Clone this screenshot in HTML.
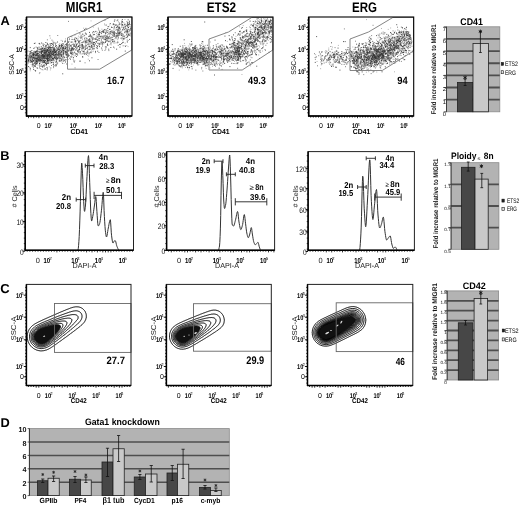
<!DOCTYPE html>
<html><head><meta charset="utf-8"><style>
html,body{margin:0;padding:0;background:#fff;}
svg{display:block;font-family:"Liberation Sans", sans-serif;filter:blur(0.35px);text-rendering:geometricPrecision;}
</style></head><body>
<svg width="520" height="506" viewBox="0 0 520 506">
<rect width="520" height="506" fill="#fff"/>
<text x="0.50" y="25.30" font-size="12.80" font-weight="bold">A</text>
<text x="65.80" y="11.70" font-size="14.50" font-weight="bold" textLength="36.50" lengthAdjust="spacingAndGlyphs">MIGR1</text>
<text x="206.70" y="11.70" font-size="14.00" font-weight="bold" textLength="29.40" lengthAdjust="spacingAndGlyphs">ETS2</text>
<text x="352.00" y="11.70" font-size="14.00" font-weight="bold" textLength="25.00" lengthAdjust="spacingAndGlyphs">ERG</text>
<path d="M126.3 45.6h.9M53.0 42.8h.9M49.8 58.8h.9M52.6 49.9h.9M62.4 54.5h.9M67.3 48.6h.9M66.0 51.7h.9M89.3 46.7h.9M69.2 47.0h.9M78.2 42.5h.9M44.5 58.2h.9M117.0 25.3h.9M40.7 61.4h.9M42.7 61.9h.9M53.7 43.2h.9M48.0 60.8h.9M34.1 47.7h.9M49.1 43.9h.9M52.4 43.9h.9M32.6 55.9h.9M46.2 46.7h.9M63.6 63.4h.9M34.0 57.4h.9M116.0 37.4h.9M34.0 54.7h.9M39.0 60.4h.9M38.8 49.5h.9M63.1 51.0h.9M55.3 66.3h.9M51.7 59.8h.9M47.7 60.0h.9M72.4 42.2h.9M88.2 43.5h.9M94.0 45.9h.9M55.4 50.2h.9M55.1 46.2h.9M35.6 56.0h.9M121.4 26.7h.9M114.2 24.3h.9M48.4 55.3h.9M36.8 57.1h.9M52.4 60.2h.9M42.0 56.5h.9M52.5 54.9h.9M83.6 50.7h.9M44.8 48.4h.9M67.7 50.8h.9M104.8 42.4h.9M75.3 46.1h.9M53.2 53.8h.9M57.3 57.7h.9M65.9 52.5h.9M34.2 66.0h.9M63.6 53.2h.9M70.1 53.4h.9M48.9 55.8h.9M38.2 57.4h.9M62.1 54.1h.9M109.7 44.6h.9M56.4 64.5h.9M51.7 56.3h.9M54.4 56.1h.9M50.9 59.0h.9M59.5 45.3h.9M54.6 61.2h.9M89.6 43.9h.9M39.7 62.6h.9M37.9 62.0h.9M55.6 50.9h.9M92.9 51.2h.9M88.2 40.0h.9M99.3 40.6h.9M54.7 58.3h.9M93.0 42.6h.9M55.8 58.5h.9M125.3 28.1h.9M61.5 62.1h.9M64.8 54.1h.9M44.1 58.3h.9M52.5 58.6h.9M60.5 52.7h.9M118.0 36.0h.9M49.9 38.1h.9M52.9 53.8h.9M110.8 34.5h.9M55.7 50.2h.9M56.0 52.3h.9M101.4 29.2h.9M45.0 56.7h.9M51.7 58.6h.9M72.4 53.7h.9M74.0 62.2h.9M70.1 53.2h.9M57.0 50.0h.9M69.9 49.5h.9M127.2 25.1h.9M34.6 59.9h.9M72.7 59.2h.9M27.8 63.6h.9M109.3 25.0h.9M92.2 48.3h.9M33.3 58.1h.9M120.3 34.7h.9M97.2 36.2h.9M102.8 30.4h.9M107.2 34.6h.9M95.6 37.4h.9M58.1 51.4h.9M103.6 37.2h.9M84.5 46.4h.9M50.3 59.0h.9M98.6 35.8h.9M109.7 40.0h.9M103.6 43.3h.9M44.2 44.5h.9M59.6 50.3h.9M75.4 54.2h.9M124.5 19.5h.9M114.7 42.9h.9M87.8 59.2h.9M96.7 39.4h.9M91.3 35.6h.9M51.7 54.4h.9M55.4 57.5h.9M111.3 31.5h.9M39.6 55.8h.9M68.7 55.3h.9M34.3 57.7h.9M46.1 67.5h.9M115.4 30.0h.9M45.2 53.7h.9M46.1 52.9h.9M48.1 62.0h.9M48.6 48.5h.9M49.0 49.6h.9M49.2 57.3h.9M85.9 41.5h.9M117.2 41.3h.9M85.6 54.6h.9M110.9 31.8h.9M32.3 62.1h.9M68.8 39.8h.9M90.6 20.9h.9M27.7 62.1h.9M104.0 23.9h.9M101.7 43.0h.9M61.9 45.3h.9M47.1 55.5h.9M99.6 32.4h.9M66.1 48.7h.9M30.4 58.6h.9M47.9 55.5h.9M66.0 53.3h.9M57.9 55.0h.9M60.9 48.0h.9M66.7 49.7h.9M70.6 56.5h.9M91.2 42.7h.9M42.3 56.3h.9M43.9 50.9h.9M86.8 47.8h.9M55.7 54.5h.9M79.9 36.4h.9M113.0 36.7h.9M110.8 44.8h.9M90.8 47.4h.9M73.7 39.7h.9M49.2 55.5h.9M42.9 48.3h.9M50.5 59.5h.9M114.0 48.0h.9M42.5 52.3h.9M56.5 51.6h.9M47.5 52.0h.9M36.4 56.0h.9M46.5 55.0h.9M44.0 51.3h.9M31.4 61.1h.9M70.6 49.5h.9M42.3 65.3h.9M46.2 63.1h.9M45.0 60.1h.9M38.0 55.5h.9M42.8 61.8h.9M75.6 41.3h.9M60.7 40.4h.9M46.8 48.2h.9M67.7 49.2h.9M92.2 43.5h.9M69.7 57.9h.9M121.3 33.1h.9M51.7 56.3h.9M47.9 55.1h.9M97.7 32.9h.9M52.4 60.4h.9M77.7 38.2h.9M73.0 53.9h.9M84.5 52.7h.9M44.5 60.5h.9M91.6 40.1h.9M103.4 39.3h.9M65.6 47.2h.9M34.1 70.2h.9M105.5 29.4h.9M29.4 59.1h.9M43.8 56.2h.9M40.4 63.0h.9M40.8 53.5h.9M32.8 56.1h.9M60.6 45.3h.9M129.0 21.0h.9M33.2 63.8h.9M48.8 66.8h.9M83.8 51.0h.9M41.9 59.2h.9M39.2 63.8h.9M130.1 27.7h.9M35.9 63.7h.9M49.6 52.4h.9M108.7 41.8h.9M71.0 48.7h.9M40.9 55.3h.9M105.6 31.8h.9M62.7 47.9h.9M96.9 36.9h.9M120.3 38.4h.9M125.7 32.2h.9M42.1 58.1h.9M66.7 49.9h.9M121.9 25.1h.9M75.1 55.6h.9M54.7 52.9h.9M83.3 35.0h.9M118.8 31.6h.9M74.3 55.9h.9M88.7 46.7h.9M104.3 24.9h.9M111.4 31.2h.9M91.0 38.3h.9M86.5 46.2h.9M37.9 54.2h.9M36.0 54.3h.9M43.1 45.8h.9M39.9 52.3h.9M83.6 40.8h.9M35.4 47.1h.9M41.0 50.2h.9M93.9 34.4h.9M80.8 49.4h.9M44.7 51.7h.9M29.0 61.2h.9M32.0 55.9h.9M33.7 54.9h.9M28.4 56.5h.9M102.1 38.5h.9M42.7 50.8h.9M104.8 46.9h.9M37.2 56.8h.9M124.6 35.6h.9M112.0 42.1h.9M82.7 47.6h.9M55.3 53.5h.9M74.7 52.8h.9M34.8 52.1h.9M128.6 31.4h.9M66.3 59.8h.9M55.5 53.6h.9M67.6 47.0h.9M115.5 30.3h.9M104.6 32.4h.9M43.3 59.2h.9M83.4 36.4h.9M65.7 47.0h.9M76.7 40.3h.9M64.4 46.2h.9M52.5 51.2h.9M99.4 35.5h.9M81.8 34.7h.9M44.3 53.0h.9M54.0 48.7h.9M105.5 25.3h.9M109.8 41.0h.9M52.6 53.8h.9M79.4 41.8h.9M81.5 50.4h.9M67.4 53.7h.9M66.9 61.5h.9M57.9 52.5h.9M66.3 56.9h.9M40.7 53.8h.9M73.3 55.0h.9M82.1 39.4h.9M55.7 54.9h.9M38.9 61.8h.9M70.1 48.4h.9M77.9 36.2h.9M122.0 37.3h.9M54.1 48.0h.9M117.5 38.7h.9M108.9 36.7h.9M124.7 43.1h.9M48.5 47.9h.9M53.0 54.5h.9M129.9 29.4h.9M39.4 52.6h.9M48.8 57.5h.9M50.1 56.7h.9M39.2 63.3h.9M127.6 26.2h.9M87.7 49.6h.9M94.2 38.6h.9M39.4 57.2h.9M66.8 49.9h.9M53.6 50.2h.9M31.9 58.3h.9M47.7 62.2h.9M56.1 61.9h.9M90.3 47.4h.9M48.0 54.3h.9M88.6 54.7h.9M55.0 51.7h.9M115.8 38.7h.9M49.5 63.1h.9M55.8 49.1h.9M37.1 54.8h.9M47.7 58.4h.9M76.6 30.8h.9M78.2 42.3h.9M121.4 35.0h.9M126.5 29.2h.9M69.4 46.2h.9M50.0 55.7h.9M43.4 58.5h.9M111.8 39.5h.9M85.6 42.6h.9M42.4 57.0h.9M92.9 27.1h.9M43.7 49.8h.9M52.8 58.4h.9M99.5 30.6h.9M65.1 41.4h.9M96.7 32.1h.9M48.4 52.4h.9M59.5 60.5h.9M114.4 38.7h.9M117.3 36.0h.9M52.5 55.5h.9M77.4 53.0h.9M54.6 53.1h.9M72.3 50.9h.9M40.5 52.0h.9M113.2 39.6h.9M113.1 31.4h.9M48.4 53.6h.9M129.2 30.9h.9M59.0 54.2h.9M113.2 41.0h.9M48.6 50.6h.9M47.0 55.1h.9M39.7 49.5h.9M47.7 58.4h.9M57.4 49.3h.9M93.0 44.1h.9M118.0 21.8h.9M85.5 46.8h.9M60.1 50.5h.9M124.3 27.7h.9M126.2 31.3h.9M43.8 52.1h.9M92.6 34.9h.9M42.5 58.0h.9M89.6 36.7h.9M77.4 40.7h.9M39.7 51.8h.9M52.3 60.7h.9M91.9 39.0h.9M103.5 36.6h.9M33.2 53.4h.9M44.8 54.1h.9M102.4 30.5h.9M55.3 64.4h.9M39.9 49.1h.9M74.5 35.1h.9M41.1 55.4h.9M51.0 50.4h.9M31.6 61.6h.9M126.7 39.3h.9M74.6 44.6h.9M52.9 48.3h.9M64.4 46.9h.9M45.3 56.1h.9M31.5 53.7h.9M51.4 60.3h.9M60.8 48.4h.9M62.6 58.2h.9M87.3 40.3h.9M68.6 47.4h.9M46.9 59.1h.9M41.6 56.9h.9M68.0 51.5h.9M121.7 30.7h.9M51.2 53.4h.9M71.9 54.2h.9M95.7 41.6h.9M55.9 64.4h.9M38.6 57.4h.9M107.8 30.5h.9M62.1 47.5h.9M41.2 58.7h.9M30.4 56.1h.9M37.5 65.2h.9M41.0 60.1h.9M66.9 51.6h.9M99.2 31.1h.9M48.5 60.0h.9M29.8 70.8h.9M65.7 59.6h.9M59.7 48.2h.9M32.2 62.1h.9M94.8 31.7h.9M67.7 59.5h.9M46.8 58.2h.9M121.1 25.4h.9M91.5 51.7h.9M92.4 39.2h.9M70.1 42.1h.9M58.5 57.3h.9M27.5 61.8h.9M57.7 50.1h.9M67.0 54.4h.9M29.2 67.3h.9M50.5 53.1h.9M62.0 58.2h.9M70.7 52.4h.9M59.3 43.6h.9M66.5 49.9h.9M38.9 60.2h.9M96.0 37.6h.9M46.5 62.7h.9M76.9 48.7h.9M49.3 60.6h.9M74.4 60.7h.9M64.3 46.6h.9M55.5 52.8h.9M71.4 56.5h.9M122.0 38.9h.9M47.8 48.8h.9M116.3 35.7h.9M58.4 45.2h.9M30.9 57.5h.9M39.9 52.2h.9M54.8 56.9h.9M36.3 50.9h.9M65.1 38.9h.9M48.0 62.8h.9M124.5 45.8h.9M52.6 60.9h.9M43.3 50.0h.9M37.6 54.3h.9M39.2 60.0h.9M44.6 52.7h.9M36.4 55.6h.9M73.1 45.0h.9M79.4 43.3h.9M72.7 39.5h.9M121.9 25.2h.9M57.4 53.0h.9M94.0 34.5h.9M114.5 28.0h.9M73.9 44.7h.9M113.8 27.1h.9M54.1 53.9h.9M130.3 36.1h.9M127.9 40.5h.9M98.2 43.3h.9M90.4 44.7h.9M33.9 54.4h.9M58.2 49.4h.9M41.4 47.4h.9M111.0 27.4h.9M72.8 43.6h.9M58.0 54.9h.9M80.7 47.4h.9M62.2 59.6h.9M64.0 51.5h.9M62.9 59.5h.9M41.7 57.1h.9M51.4 50.3h.9M37.3 56.8h.9M84.2 39.2h.9M40.2 58.7h.9M32.5 56.5h.9M121.5 35.7h.9M71.4 48.9h.9M91.2 50.9h.9M69.9 45.2h.9M48.0 50.7h.9M70.6 45.4h.9M92.7 38.6h.9M117.5 19.8h.9M103.6 39.5h.9M111.0 40.1h.9M55.1 56.3h.9M41.9 52.0h.9M126.2 28.8h.9M40.1 59.0h.9M42.2 50.1h.9M47.0 57.2h.9M33.8 57.3h.9M56.5 50.4h.9M128.4 22.3h.9M73.5 45.3h.9M49.6 59.2h.9M97.3 39.8h.9M52.6 42.8h.9M49.9 69.9h.9M50.9 56.8h.9M52.7 46.5h.9M127.0 32.3h.9M44.0 59.6h.9M34.0 58.1h.9M84.3 41.0h.9M52.6 50.2h.9M88.7 41.6h.9M34.9 54.0h.9M45.2 55.9h.9M42.7 45.1h.9M54.6 57.4h.9M38.9 73.6h.9M124.8 32.8h.9M71.5 64.1h.9M43.0 46.3h.9M41.2 52.9h.9M41.3 55.7h.9M110.7 36.9h.9M87.0 48.8h.9M42.6 69.9h.9M62.2 54.0h.9M73.4 50.0h.9M69.9 56.5h.9M104.6 36.0h.9M43.6 47.1h.9M30.2 62.5h.9M58.3 56.2h.9M30.7 64.4h.9M59.8 48.9h.9M58.8 53.6h.9M47.3 60.2h.9M65.7 55.5h.9M49.4 61.9h.9M52.3 52.6h.9M122.3 40.6h.9M56.0 57.0h.9M99.8 42.7h.9M127.4 23.3h.9M56.7 50.3h.9M68.5 51.2h.9M48.6 49.3h.9M88.2 43.4h.9M32.8 67.3h.9M32.5 64.1h.9M121.9 33.8h.9M54.6 55.0h.9M48.5 49.9h.9M93.0 46.7h.9M47.7 61.8h.9M47.5 59.5h.9M51.3 58.7h.9M52.6 49.9h.9M83.9 47.8h.9M65.6 53.0h.9M53.2 43.8h.9M104.0 36.5h.9M33.1 64.5h.9M53.5 54.3h.9M44.1 56.3h.9M56.1 49.3h.9M49.7 54.8h.9M39.1 48.0h.9M42.3 55.6h.9M29.3 53.1h.9M98.4 45.6h.9M129.2 31.8h.9M42.8 56.0h.9M37.9 58.4h.9M96.6 47.7h.9M62.0 43.8h.9M45.0 48.1h.9M39.4 47.1h.9M43.0 57.3h.9M123.5 36.0h.9M32.5 60.7h.9M36.0 47.2h.9M39.3 49.0h.9M44.0 55.2h.9M29.3 59.1h.9M44.7 58.0h.9M123.8 30.0h.9M78.5 51.3h.9M63.4 51.8h.9M29.8 62.0h.9M117.3 39.4h.9M53.1 67.7h.9M61.8 59.8h.9M51.7 54.2h.9M50.5 56.4h.9M45.6 53.9h.9M53.2 53.1h.9M35.5 64.7h.9M56.7 52.8h.9M49.4 56.2h.9M41.5 66.4h.9M45.4 63.8h.9M75.6 46.7h.9M39.8 57.3h.9M43.2 50.5h.9M92.2 44.4h.9M61.5 54.8h.9M57.2 42.3h.9M87.2 55.4h.9M96.1 33.6h.9M52.2 54.9h.9M50.4 48.4h.9M123.7 38.1h.9M127.5 30.3h.9M91.5 46.8h.9M90.0 43.4h.9M71.4 55.6h.9M54.3 47.4h.9M30.3 53.2h.9M91.7 40.7h.9M71.8 41.9h.9M77.8 52.3h.9M41.9 51.7h.9M39.5 59.4h.9M112.3 36.1h.9M37.1 56.8h.9M75.5 47.4h.9M42.4 57.5h.9M112.7 24.9h.9M36.4 52.3h.9M58.7 59.6h.9M100.2 42.1h.9M96.8 46.3h.9M55.6 59.7h.9M65.3 49.1h.9M107.7 41.5h.9M71.5 37.0h.9M87.5 42.1h.9M103.4 36.1h.9M87.4 52.8h.9M34.6 63.7h.9M88.2 56.2h.9M35.6 59.0h.9M40.5 62.1h.9M30.7 56.4h.9M41.6 59.5h.9M53.1 59.3h.9M51.3 50.6h.9M52.1 46.4h.9M65.9 54.1h.9M43.3 57.1h.9M94.1 32.2h.9M34.2 53.6h.9M83.2 28.2h.9M64.1 45.2h.9M58.6 44.5h.9M92.4 38.2h.9M88.6 43.7h.9M109.4 37.6h.9M43.4 53.3h.9M37.0 54.0h.9M65.1 53.3h.9M59.9 52.8h.9M49.0 59.5h.9M38.5 56.2h.9M76.0 38.8h.9M42.3 60.0h.9M69.3 45.8h.9M50.7 49.6h.9M60.4 54.9h.9M123.4 22.7h.9M58.5 53.3h.9M50.8 53.8h.9M34.7 55.9h.9M40.8 55.1h.9M80.8 54.0h.9M35.9 56.7h.9M47.4 54.6h.9M102.8 42.2h.9M37.6 60.3h.9M114.9 33.1h.9M82.3 42.1h.9M29.4 55.4h.9M50.0 51.0h.9M67.3 48.5h.9M72.6 57.2h.9M60.6 50.4h.9M65.8 52.2h.9M127.6 46.6h.9M93.8 48.1h.9M43.5 58.6h.9M58.7 50.5h.9M78.4 43.3h.9M50.9 58.4h.9M45.7 50.3h.9M37.6 56.6h.9M75.3 37.6h.9M57.6 55.0h.9M51.6 50.4h.9M99.0 44.4h.9M129.0 24.0h.9M57.7 47.6h.9M62.7 50.9h.9M33.5 51.6h.9M51.1 52.1h.9M49.9 50.8h.9M35.4 55.6h.9M98.9 45.0h.9M39.6 52.6h.9M111.8 32.5h.9M46.6 55.3h.9M49.3 57.6h.9M103.1 42.2h.9M55.3 53.8h.9M81.4 50.6h.9M86.2 40.5h.9M41.9 58.6h.9M74.4 39.1h.9M48.9 54.0h.9" stroke="#a5a5a5" stroke-width=".9"/>
<path d="M45.6 58.9h.9M47.3 53.9h.9M53.2 52.6h.9M62.3 50.3h.9M76.3 54.3h.9M74.3 45.5h.9M102.8 31.6h.9M71.5 50.9h.9M88.8 36.1h.9M52.1 51.4h.9M126.6 29.2h.9M44.2 52.7h.9M48.6 57.7h.9M81.1 48.3h.9M129.6 26.4h.9M52.5 41.2h.9M64.9 54.2h.9M117.7 37.2h.9M53.0 53.4h.9M42.1 61.1h.9M45.8 47.4h.9M111.8 33.9h.9M35.1 51.8h.9M32.3 63.4h.9M51.0 52.1h.9M32.0 62.0h.9M42.4 63.0h.9M50.3 57.1h.9M55.3 46.0h.9M42.8 56.6h.9M90.6 52.7h.9M101.9 43.9h.9M72.5 48.6h.9M57.8 47.6h.9M53.2 65.0h.9M56.5 63.9h.9M67.9 42.5h.9M34.2 63.5h.9M47.1 57.8h.9M73.3 60.2h.9M61.4 58.3h.9M40.9 46.6h.9M107.7 38.5h.9M50.3 48.6h.9M119.6 32.9h.9M45.6 45.3h.9M33.2 60.6h.9M48.9 50.5h.9M120.8 37.9h.9M37.5 48.6h.9M92.5 37.6h.9M93.9 42.6h.9M37.1 49.8h.9M75.6 53.9h.9M117.1 35.9h.9M117.8 45.4h.9M43.6 53.7h.9M108.4 50.6h.9M37.2 55.6h.9M59.1 46.3h.9M58.7 56.3h.9M105.8 36.4h.9M43.8 51.3h.9M43.3 57.4h.9M65.8 57.4h.9M81.1 42.7h.9M44.8 49.0h.9M55.3 58.8h.9M55.8 61.5h.9M117.1 31.1h.9M58.1 53.8h.9M48.0 56.5h.9M49.0 54.1h.9M33.6 57.6h.9M68.0 21.4h.9M28.4 59.4h.9M58.2 49.0h.9M85.0 41.8h.9M123.7 26.7h.9M72.4 48.3h.9M71.7 54.5h.9M91.4 43.5h.9M101.3 48.8h.9M109.7 32.3h.9M46.6 54.2h.9M56.6 56.0h.9M33.8 63.5h.9M61.1 56.2h.9M43.6 64.5h.9M119.0 24.6h.9M84.6 62.8h.9M74.2 46.4h.9M47.7 54.0h.9M45.7 53.5h.9M113.5 28.2h.9M126.5 31.4h.9M40.9 64.7h.9M37.2 68.4h.9M38.5 61.3h.9M51.3 50.4h.9M43.5 61.9h.9M61.0 51.2h.9M83.0 46.0h.9M73.9 44.3h.9M52.7 44.1h.9M47.0 47.5h.9M126.4 32.1h.9M96.4 36.0h.9M72.3 47.6h.9M36.7 55.0h.9M105.5 33.3h.9M121.6 24.5h.9M62.0 47.6h.9M39.1 67.9h.9M98.6 38.4h.9M33.0 58.3h.9M40.2 59.9h.9M36.9 58.1h.9M122.4 30.0h.9M61.7 48.6h.9M65.2 48.3h.9M50.7 53.7h.9M50.6 53.3h.9M118.7 27.1h.9M53.9 52.9h.9M45.4 57.0h.9M49.0 58.8h.9M58.5 54.4h.9M120.5 24.1h.9M85.8 34.1h.9M40.2 68.7h.9M55.2 52.1h.9M90.4 49.2h.9M98.1 40.1h.9M101.2 47.9h.9M40.4 60.7h.9M49.5 49.7h.9M90.4 52.6h.9M105.6 41.1h.9M57.5 58.2h.9M62.5 48.1h.9M55.8 56.3h.9M105.1 32.8h.9M41.0 55.5h.9M49.5 47.3h.9M78.2 41.5h.9M37.7 60.0h.9M50.7 60.9h.9M39.4 44.1h.9M30.5 51.9h.9M50.4 53.3h.9M119.3 34.6h.9M86.8 51.1h.9M80.7 35.4h.9M59.1 46.1h.9M49.9 44.0h.9M49.8 52.3h.9M116.5 36.3h.9M68.2 42.0h.9M27.6 51.1h.9M33.0 67.1h.9M33.6 59.3h.9M39.1 55.0h.9M81.8 45.2h.9M117.4 29.5h.9M35.2 58.4h.9M53.6 42.4h.9M44.8 55.0h.9M45.1 50.7h.9M126.5 21.6h.9M40.8 59.9h.9M111.8 27.5h.9M32.0 64.6h.9M124.7 37.9h.9M48.6 53.3h.9M33.0 61.0h.9M71.5 54.0h.9M86.1 54.4h.9M46.7 56.2h.9M57.0 41.9h.9M34.8 57.4h.9M102.8 36.8h.9M129.8 34.9h.9M41.9 58.3h.9M48.0 52.0h.9M48.1 53.1h.9M44.5 60.1h.9M61.7 50.6h.9M53.7 55.3h.9M59.6 56.8h.9M48.0 56.2h.9M54.5 54.7h.9M53.3 58.6h.9M62.4 45.5h.9M59.7 47.5h.9M33.7 54.3h.9M49.2 49.3h.9M64.5 41.2h.9M58.8 52.9h.9M60.5 58.4h.9M64.6 49.7h.9M44.6 52.3h.9M46.7 44.0h.9M51.3 54.3h.9M106.0 32.0h.9M34.4 51.4h.9M107.9 37.5h.9M31.5 60.2h.9M55.2 51.1h.9M58.3 49.2h.9M48.2 48.8h.9M74.6 67.9h.9M44.8 54.1h.9M85.1 48.2h.9M83.0 41.8h.9M44.7 68.7h.9M50.6 52.1h.9M47.1 50.4h.9M41.6 69.6h.9M93.9 46.3h.9M46.3 54.8h.9M89.6 39.1h.9M45.4 55.6h.9M75.2 46.4h.9M113.5 29.9h.9M109.6 33.4h.9M51.8 62.4h.9M130.3 24.7h.9M37.0 62.6h.9M40.7 53.8h.9M81.6 36.6h.9M44.4 51.1h.9M92.8 45.0h.9M51.4 59.6h.9M97.6 59.5h.9M66.9 57.6h.9M28.6 55.3h.9M36.3 55.5h.9M44.6 55.2h.9M84.2 35.5h.9M91.6 45.2h.9M126.8 30.9h.9M127.1 26.8h.9M49.6 55.7h.9M40.5 51.5h.9M68.4 41.5h.9M38.9 55.5h.9M35.5 56.0h.9M51.5 51.4h.9M56.4 57.2h.9M108.7 33.3h.9M32.6 55.4h.9M66.5 45.4h.9M91.7 41.2h.9M91.1 36.8h.9M35.3 64.3h.9M35.0 53.0h.9M58.7 53.2h.9M67.4 53.6h.9M38.9 55.3h.9M58.4 57.6h.9M61.1 54.8h.9M53.9 56.0h.9M124.0 36.4h.9M57.6 46.8h.9M60.4 55.0h.9M65.1 44.6h.9M62.9 53.4h.9M64.3 48.2h.9M101.9 50.2h.9M50.3 49.5h.9M34.7 43.1h.9M52.1 47.5h.9M53.8 51.5h.9M117.6 27.8h.9M35.6 57.5h.9M84.9 49.1h.9M106.1 38.9h.9M35.2 70.7h.9M40.7 52.5h.9M50.1 47.5h.9M30.7 56.1h.9M90.3 41.8h.9M30.4 58.2h.9M40.7 55.4h.9M65.6 50.8h.9M119.0 35.2h.9M63.4 56.4h.9M29.9 61.2h.9M110.3 32.1h.9M29.3 56.7h.9M59.8 58.2h.9M72.4 48.0h.9M41.5 60.6h.9M112.1 37.6h.9M33.6 51.3h.9M49.2 59.3h.9M45.8 65.2h.9M28.9 56.3h.9M121.4 38.8h.9M47.6 53.2h.9M74.6 37.9h.9M44.8 49.9h.9M80.3 40.4h.9M97.6 34.4h.9M52.4 57.1h.9M68.7 50.2h.9M41.8 50.2h.9M48.1 47.4h.9M121.3 33.5h.9M29.8 57.4h.9M38.4 47.2h.9M118.9 30.9h.9M103.7 35.4h.9M107.9 33.9h.9M50.7 60.4h.9M41.0 57.3h.9M129.9 28.7h.9M61.4 56.7h.9M130.3 28.7h.9M45.8 55.9h.9M95.9 47.6h.9M57.0 58.5h.9M42.4 55.1h.9M40.9 58.9h.9M86.7 38.9h.9M39.0 63.3h.9M85.9 48.5h.9M51.2 49.9h.9M59.0 46.2h.9M49.4 58.8h.9M33.9 58.8h.9M65.0 47.2h.9M41.7 48.6h.9M56.2 56.9h.9M29.7 62.3h.9M60.5 47.2h.9M38.5 55.9h.9M51.7 60.1h.9M52.6 54.3h.9M119.5 30.1h.9M127.1 35.3h.9M38.7 57.4h.9M58.8 49.4h.9M43.6 57.8h.9M41.6 48.3h.9M100.5 37.6h.9M95.0 52.6h.9M30.8 50.6h.9M65.1 52.0h.9M35.5 51.4h.9M47.1 54.5h.9M50.1 51.0h.9M121.3 23.2h.9M123.8 29.4h.9M33.5 60.7h.9M109.6 29.3h.9M43.9 50.5h.9M64.5 60.8h.9M68.0 56.6h.9M121.0 33.9h.9M87.1 44.3h.9M31.1 59.0h.9M111.5 32.4h.9M122.7 45.8h.9M60.8 46.6h.9M32.0 52.7h.9M46.4 56.1h.9M93.9 42.6h.9M44.8 58.1h.9M82.0 45.8h.9M31.1 56.0h.9M65.8 47.5h.9M43.6 55.0h.9M67.0 42.1h.9M105.8 25.0h.9M55.5 64.5h.9M35.2 59.8h.9M62.7 50.8h.9M45.9 56.3h.9M43.3 55.8h.9M129.1 21.5h.9M41.9 58.0h.9M30.3 52.7h.9M121.5 27.4h.9M84.1 38.7h.9M51.0 65.5h.9M49.5 57.9h.9M42.7 55.4h.9M124.3 29.4h.9M130.2 28.4h.9M78.4 45.4h.9M94.1 45.8h.9M90.2 52.0h.9M106.6 35.9h.9M49.0 56.1h.9M86.4 41.6h.9M117.6 42.3h.9M41.2 57.2h.9M49.1 60.2h.9M78.0 46.6h.9M123.0 27.7h.9M98.9 40.3h.9M126.8 30.5h.9M59.0 49.8h.9M29.5 51.6h.9M113.5 43.0h.9M50.9 56.6h.9M42.2 55.4h.9M46.2 61.6h.9M45.1 56.8h.9M48.1 54.7h.9M28.9 57.0h.9M32.9 54.2h.9M44.7 56.3h.9M78.9 49.4h.9M106.6 37.1h.9M47.1 60.2h.9M44.1 51.4h.9M53.1 62.4h.9M71.4 48.2h.9M125.2 26.7h.9M57.3 35.5h.9M59.5 55.0h.9M52.2 54.3h.9M48.0 48.1h.9M129.5 29.5h.9M42.2 59.7h.9M98.2 29.9h.9M102.9 30.3h.9M57.3 54.5h.9M56.0 59.9h.9M120.8 35.2h.9M59.3 54.9h.9M30.7 52.8h.9M37.3 51.1h.9M31.5 50.5h.9M48.3 46.8h.9M36.1 61.4h.9M38.0 53.3h.9M66.9 54.3h.9M109.4 34.8h.9M128.9 22.4h.9M124.1 32.6h.9M122.8 36.3h.9M88.6 46.0h.9M46.9 68.4h.9M75.5 43.3h.9M128.7 24.4h.9M54.4 56.0h.9M59.3 58.2h.9M46.9 63.4h.9M30.5 60.4h.9M67.7 50.6h.9M27.8 59.1h.9M66.7 51.1h.9M52.6 59.8h.9M46.0 48.9h.9M60.0 58.2h.9M49.0 47.8h.9M103.5 32.6h.9M54.0 51.8h.9M51.5 40.1h.9M114.1 36.4h.9M50.2 47.9h.9M62.1 41.2h.9M83.7 51.7h.9M108.5 31.9h.9M91.4 36.5h.9M118.4 27.5h.9M38.8 43.6h.9M41.4 66.0h.9M48.8 55.8h.9M65.9 55.1h.9M31.8 55.6h.9M110.6 42.6h.9M59.6 50.4h.9M110.2 33.5h.9M42.8 52.2h.9M114.6 24.9h.9M31.0 62.2h.9M50.6 45.5h.9M122.1 42.6h.9M108.2 37.0h.9M34.9 55.9h.9M95.6 38.6h.9M61.5 49.5h.9M102.1 46.0h.9M36.6 50.5h.9M68.0 54.7h.9M75.3 49.7h.9M58.9 60.9h.9M54.1 48.0h.9M118.3 24.9h.9M89.0 38.7h.9M33.6 57.7h.9M57.0 55.0h.9M91.1 45.5h.9M100.6 32.5h.9M53.2 63.2h.9M93.7 34.5h.9M126.7 31.4h.9M57.7 55.3h.9M63.0 50.7h.9M40.1 66.1h.9M67.0 56.4h.9M59.2 51.3h.9M63.0 44.2h.9M33.4 52.9h.9M128.7 33.9h.9M62.1 49.5h.9M105.1 42.2h.9M84.6 37.8h.9M50.6 62.9h.9M47.9 48.1h.9M39.4 72.7h.9M64.2 60.5h.9M117.4 32.6h.9M52.8 47.3h.9M98.5 52.5h.9M117.5 32.1h.9M62.6 43.5h.9M48.6 50.2h.9M119.9 29.2h.9M61.1 55.6h.9M53.0 59.4h.9M119.2 28.2h.9M65.1 52.2h.9M45.8 50.3h.9M128.1 24.6h.9M53.5 51.7h.9M119.3 28.9h.9M35.5 63.3h.9M126.4 33.2h.9M29.9 55.6h.9M48.1 52.5h.9M84.9 45.6h.9M47.6 51.1h.9M79.7 61.1h.9M89.7 36.2h.9M125.5 30.2h.9M36.1 51.8h.9M113.3 41.7h.9M49.7 55.5h.9M30.5 54.5h.9M71.4 53.0h.9M116.2 35.2h.9M44.9 55.1h.9M101.2 31.5h.9M50.2 58.9h.9M110.5 38.9h.9M70.9 57.2h.9M106.6 36.2h.9M62.8 60.2h.9M40.9 55.5h.9M55.6 55.1h.9M101.4 42.8h.9M59.2 54.7h.9M67.1 49.8h.9M105.4 39.2h.9M44.6 56.1h.9M47.6 50.8h.9M32.8 65.5h.9M63.0 56.0h.9M85.3 44.1h.9M34.8 63.2h.9M86.6 42.7h.9M45.3 55.3h.9M124.5 24.0h.9M94.2 44.7h.9M28.4 59.0h.9M109.0 36.3h.9M31.0 60.8h.9M62.1 63.4h.9M118.1 29.7h.9M106.7 36.6h.9M37.5 57.0h.9M44.4 55.2h.9M98.9 34.5h.9M41.6 62.1h.9M49.7 56.6h.9M100.6 38.7h.9M126.8 40.9h.9M37.5 51.7h.9M36.8 51.8h.9M52.3 58.8h.9M35.3 51.5h.9M57.3 48.6h.9M33.7 52.5h.9M40.4 57.1h.9M68.9 44.0h.9M47.4 49.6h.9M100.5 44.3h.9M38.9 52.4h.9M118.1 37.9h.9M75.2 41.1h.9M28.5 58.3h.9M78.7 40.5h.9M36.6 58.3h.9M34.9 55.1h.9M30.5 55.3h.9M47.4 59.3h.9M55.0 56.6h.9M61.4 51.6h.9M63.4 51.1h.9M38.2 55.3h.9M119.1 32.5h.9M38.5 59.4h.9M66.3 43.4h.9M83.7 53.2h.9M50.3 45.2h.9M49.8 54.6h.9M49.4 46.1h.9M101.9 36.3h.9M86.0 45.4h.9M38.0 58.3h.9M36.6 50.3h.9M59.8 61.4h.9M66.8 47.1h.9M93.4 49.0h.9M104.5 50.4h.9M127.3 36.6h.9M108.3 26.6h.9M84.6 42.8h.9M49.5 54.5h.9M42.4 47.6h.9M123.2 39.3h.9M46.9 39.8h.9M36.9 63.6h.9M105.5 46.6h.9M47.1 50.4h.9M47.6 50.2h.9M84.8 41.1h.9M105.4 35.4h.9M47.3 53.2h.9M117.2 20.1h.9M51.8 52.2h.9M43.0 52.8h.9M78.0 46.5h.9M37.8 57.9h.9M68.6 47.1h.9M59.2 50.8h.9M110.5 43.5h.9M65.1 41.0h.9M113.8 34.3h.9M69.4 58.4h.9M67.0 54.8h.9M92.3 38.1h.9M53.8 52.1h.9M63.5 58.0h.9M79.2 43.2h.9M43.9 56.3h.9M118.8 22.9h.9M61.7 47.0h.9M107.1 37.9h.9M116.6 20.7h.9M47.7 44.5h.9M51.7 57.3h.9M46.8 67.4h.9M66.1 64.0h.9M49.2 47.3h.9M75.5 50.3h.9M41.8 50.7h.9M106.7 36.9h.9M90.9 42.3h.9M116.9 34.8h.9M97.0 40.6h.9M38.8 57.4h.9M40.4 58.0h.9M64.9 46.7h.9M119.0 23.8h.9M48.5 58.4h.9M79.6 53.7h.9M43.0 53.9h.9M63.6 50.2h.9M47.4 60.6h.9M122.2 25.1h.9M97.9 28.2h.9M88.0 36.6h.9M50.8 53.4h.9M34.9 64.3h.9M121.2 21.2h.9M66.1 51.6h.9M104.5 20.3h.9M67.6 45.6h.9M48.6 55.5h.9M70.1 59.4h.9M32.7 61.0h.9M45.4 48.7h.9M62.9 47.3h.9M28.2 60.6h.9M38.4 51.5h.9M50.7 49.2h.9M70.7 53.1h.9M49.1 55.4h.9M81.5 38.2h.9M82.0 45.9h.9M30.0 59.5h.9M29.9 68.3h.9M76.6 46.8h.9M51.2 57.1h.9M90.9 46.2h.9M42.5 48.6h.9M61.3 53.2h.9M57.7 57.8h.9M126.7 31.1h.9M107.1 38.8h.9M47.0 43.3h.9M49.4 35.8h.9M90.7 37.2h.9M57.7 52.8h.9M47.4 60.1h.9M68.9 49.4h.9M74.6 41.6h.9M71.0 45.1h.9M79.7 37.3h.9M54.2 52.4h.9M68.5 50.7h.9M127.4 32.1h.9M43.9 58.7h.9M112.1 35.2h.9M123.6 25.2h.9M37.1 56.2h.9M79.1 48.3h.9M70.5 46.0h.9M74.8 53.6h.9M88.7 39.6h.9M59.7 52.6h.9M63.6 50.2h.9M41.9 50.6h.9" stroke="#6a6a6a" stroke-width=".9"/>
<path d="M36.4 58.5h.9M32.2 59.0h.9M54.4 49.1h.9M36.5 62.4h.9M122.9 38.4h.9M76.1 44.6h.9M44.2 57.9h.9M32.1 61.8h.9M114.2 41.2h.9M57.9 55.9h.9M109.5 41.3h.9M52.8 58.4h.9M114.4 19.9h.9M56.3 53.5h.9M59.5 55.9h.9M62.8 61.2h.9M86.5 52.4h.9M55.5 54.7h.9M58.9 49.2h.9M45.2 58.3h.9M77.8 50.0h.9M35.9 58.9h.9M105.5 41.0h.9M43.4 50.2h.9M73.2 49.2h.9M50.0 51.4h.9M48.2 60.7h.9M31.2 61.6h.9M73.4 46.1h.9M45.3 52.1h.9M71.4 48.4h.9M44.0 62.1h.9M82.0 44.3h.9M47.5 61.0h.9M101.6 41.7h.9M111.5 30.9h.9M117.6 35.6h.9M128.0 34.8h.9M58.4 53.9h.9M92.3 32.8h.9M34.7 61.2h.9M84.7 46.9h.9M47.7 50.2h.9M42.0 54.8h.9M47.2 50.8h.9M109.8 23.6h.9M107.5 40.0h.9M105.0 33.8h.9M40.9 52.0h.9M52.3 51.5h.9M55.3 46.3h.9M36.7 57.9h.9M65.8 44.8h.9M48.1 52.5h.9M76.0 56.5h.9M87.7 40.3h.9M47.8 45.9h.9M46.5 49.6h.9M66.2 44.9h.9M105.6 47.2h.9M74.7 40.3h.9M43.4 60.9h.9M103.4 42.5h.9M41.2 43.0h.9M41.4 49.2h.9M101.3 36.2h.9M55.5 58.1h.9M48.8 52.3h.9M46.1 64.3h.9M106.6 30.7h.9M39.1 59.9h.9M116.3 33.6h.9M89.4 46.6h.9M63.0 50.7h.9M63.4 52.4h.9M118.2 33.2h.9M129.6 30.4h.9M71.0 50.1h.9M39.3 51.8h.9M74.9 42.0h.9M113.2 47.1h.9M27.4 55.7h.9M46.8 55.6h.9M59.3 45.7h.9M47.0 60.0h.9M49.2 54.2h.9M88.6 39.8h.9M50.1 51.9h.9M125.1 46.3h.9M49.4 57.1h.9M79.3 47.8h.9M101.6 42.8h.9M42.8 57.0h.9M46.4 51.9h.9M33.9 58.0h.9M29.9 60.5h.9M48.9 54.9h.9M29.8 69.1h.9M44.2 61.8h.9M94.6 39.2h.9M90.9 47.2h.9M41.5 56.0h.9M54.5 49.3h.9M123.1 28.1h.9M117.9 34.8h.9M97.4 43.3h.9M55.5 43.0h.9M43.9 62.0h.9M123.7 38.8h.9M40.5 58.1h.9M103.4 31.0h.9M130.4 33.2h.9M64.4 42.0h.9M89.1 32.4h.9M55.9 65.7h.9M35.9 63.7h.9M33.6 54.2h.9M55.9 45.6h.9M112.9 24.2h.9M50.9 47.6h.9M76.8 47.1h.9M71.6 39.4h.9M52.0 58.5h.9M127.3 22.8h.9M54.0 50.9h.9M98.7 44.3h.9M116.9 26.8h.9M95.4 31.4h.9M88.8 49.6h.9M73.8 48.7h.9M109.9 31.4h.9M106.6 40.6h.9M82.3 34.1h.9M71.2 49.3h.9M28.5 57.7h.9M49.1 57.0h.9M43.2 57.0h.9M70.0 50.6h.9M54.2 55.9h.9M102.1 31.7h.9M33.2 55.5h.9M36.7 55.5h.9M39.6 60.6h.9M50.8 57.6h.9M56.9 58.3h.9M59.2 45.7h.9M125.2 26.1h.9M45.8 51.1h.9M69.9 45.8h.9M95.8 41.4h.9M44.1 48.5h.9M61.2 44.3h.9M65.1 48.4h.9M103.3 32.0h.9M89.2 41.4h.9M41.0 51.9h.9M106.9 44.8h.9M37.2 48.0h.9M47.5 59.0h.9M52.9 50.5h.9M60.9 59.6h.9M61.4 46.8h.9M92.2 47.0h.9M56.2 61.1h.9M82.4 48.9h.9M52.6 54.0h.9M126.3 25.3h.9M116.7 42.8h.9M107.8 38.2h.9M61.1 46.2h.9M76.9 43.9h.9M35.4 58.4h.9M74.1 39.2h.9M47.1 60.6h.9M35.5 52.0h.9M32.4 57.7h.9M93.5 48.7h.9M66.1 54.8h.9M124.4 24.5h.9M55.5 54.5h.9M49.7 49.9h.9M46.6 58.7h.9M92.0 49.0h.9M42.9 56.2h.9M27.8 60.6h.9M54.6 54.3h.9M61.3 45.1h.9M78.7 41.5h.9M64.1 57.3h.9M47.9 54.8h.9M54.1 50.1h.9M41.2 49.1h.9M100.2 36.5h.9M85.5 53.4h.9M45.9 53.0h.9M44.8 63.0h.9M54.3 52.5h.9M104.6 39.6h.9M64.7 59.7h.9M70.5 53.7h.9M32.5 64.3h.9M68.5 55.5h.9M105.3 49.0h.9M61.2 56.3h.9M107.8 41.6h.9M45.0 52.8h.9M49.6 50.9h.9M98.2 34.9h.9M45.8 54.9h.9M40.3 57.1h.9M47.1 60.2h.9M88.7 46.7h.9M47.5 58.8h.9M42.2 54.4h.9M113.8 32.8h.9M52.4 54.1h.9M69.1 48.3h.9M44.2 56.4h.9M67.3 55.9h.9M42.4 55.3h.9M56.2 51.2h.9M34.9 55.1h.9M34.8 52.5h.9M28.1 66.6h.9M82.6 48.5h.9M89.4 36.2h.9M89.6 40.3h.9M32.9 57.0h.9M67.4 50.2h.9M55.1 54.9h.9M81.4 46.2h.9M81.2 44.9h.9M67.0 53.0h.9M108.3 49.2h.9M57.2 63.0h.9M84.0 29.6h.9M43.8 52.5h.9M77.4 40.0h.9M115.6 36.0h.9M42.8 58.4h.9M37.2 53.4h.9M41.9 56.1h.9M119.5 47.1h.9M62.4 48.4h.9M55.5 62.4h.9M61.9 45.3h.9M58.7 58.2h.9M117.4 26.3h.9M35.7 51.5h.9M33.4 54.6h.9M33.1 69.3h.9M63.8 48.8h.9M53.2 49.1h.9M43.5 49.8h.9M33.0 55.2h.9M105.3 39.0h.9M88.7 42.0h.9M112.9 24.0h.9M116.4 29.3h.9M107.0 44.0h.9M111.0 27.2h.9M114.0 31.8h.9M35.1 70.9h.9M30.2 57.9h.9M33.1 57.4h.9M38.7 56.8h.9M45.1 52.9h.9M98.8 34.6h.9M92.9 31.6h.9M42.6 57.9h.9M121.9 19.6h.9M43.2 62.2h.9M95.1 39.1h.9M77.2 51.0h.9M49.8 51.5h.9M91.1 45.9h.9M44.6 57.2h.9M93.2 44.4h.9M31.5 56.0h.9M85.6 40.1h.9M47.0 59.2h.9M85.6 42.6h.9M92.4 39.3h.9M51.0 62.5h.9M50.4 56.1h.9M98.6 33.8h.9M122.6 34.3h.9M31.8 57.3h.9M39.9 59.9h.9M82.5 53.8h.9M43.7 62.4h.9M29.2 54.2h.9M45.9 51.6h.9M33.1 53.2h.9M46.0 58.3h.9M43.3 60.1h.9M38.7 61.1h.9M46.9 56.1h.9M73.1 57.7h.9M121.6 22.4h.9M36.5 59.4h.9M48.1 58.2h.9M82.3 47.7h.9M46.2 52.7h.9M42.8 45.3h.9M78.5 50.2h.9M105.5 30.0h.9M77.1 51.1h.9M42.2 51.5h.9M100.9 33.6h.9M62.4 57.2h.9M42.3 51.2h.9M88.9 53.0h.9M40.3 48.9h.9M57.6 49.4h.9M31.8 66.0h.9M51.2 60.3h.9M82.2 46.1h.9M54.6 65.6h.9M44.2 60.8h.9M78.1 46.4h.9M97.3 51.2h.9M88.8 40.9h.9M39.4 54.5h.9M43.0 60.5h.9M53.2 66.8h.9M49.9 55.7h.9M116.0 25.0h.9M63.1 47.0h.9M55.6 57.6h.9M42.6 43.9h.9M43.1 65.7h.9M33.0 60.7h.9M41.7 54.5h.9M39.3 58.2h.9M75.9 48.8h.9M81.7 44.8h.9M116.0 27.4h.9M36.2 53.6h.9M89.9 41.8h.9M35.3 60.2h.9M39.1 66.0h.9M55.6 55.1h.9M37.9 55.7h.9M37.9 59.5h.9M84.9 33.1h.9M88.4 44.6h.9M50.5 43.7h.9M34.3 56.1h.9M41.6 60.3h.9M29.8 56.9h.9M76.5 53.8h.9M72.4 49.5h.9M106.9 32.4h.9M34.7 65.3h.9M109.3 29.5h.9M98.7 38.6h.9M34.9 62.7h.9M66.7 49.8h.9M117.7 30.3h.9M95.1 51.4h.9M73.5 46.2h.9M60.0 48.8h.9M129.1 35.2h.9M44.5 49.0h.9M45.8 45.7h.9M52.7 54.3h.9M37.0 59.0h.9M128.0 27.4h.9M61.6 55.1h.9M52.6 47.8h.9M124.7 31.6h.9M128.1 35.0h.9M54.9 51.5h.9M63.0 48.0h.9M101.1 40.0h.9M72.1 48.3h.9M72.5 44.5h.9M47.0 44.2h.9M92.5 42.4h.9M31.3 52.9h.9M82.7 51.5h.9M118.7 27.2h.9M33.9 43.5h.9M49.8 61.0h.9M36.6 60.5h.9M84.0 54.1h.9M41.0 53.3h.9M60.8 52.0h.9M99.4 43.5h.9M55.8 50.6h.9M40.4 55.8h.9M30.8 61.5h.9M97.1 46.7h.9M104.8 39.3h.9M59.6 60.2h.9M66.8 47.7h.9M53.1 45.3h.9M36.0 61.4h.9M44.3 65.3h.9M40.7 52.9h.9M48.7 47.6h.9M56.8 54.8h.9M107.4 45.4h.9M78.5 46.3h.9M32.5 54.5h.9M79.6 47.1h.9M49.7 51.5h.9M52.6 48.9h.9M46.7 58.7h.9M89.8 34.4h.9M82.8 51.8h.9M66.8 46.2h.9M60.9 54.9h.9M42.0 48.5h.9M119.8 32.8h.9M49.5 56.9h.9M102.4 37.7h.9M113.0 33.8h.9M45.2 46.0h.9M45.5 62.3h.9M34.0 66.0h.9M82.1 56.8h.9M111.7 40.0h.9M58.3 54.0h.9M46.1 51.1h.9M115.3 37.8h.9M36.8 61.2h.9M28.2 60.0h.9M43.9 55.2h.9M49.2 52.8h.9M43.1 56.3h.9M102.8 32.3h.9M56.6 59.1h.9M32.7 53.9h.9M80.1 51.9h.9M51.0 53.2h.9M49.5 59.9h.9M51.3 55.6h.9M56.3 59.7h.9M39.3 58.1h.9M29.8 47.6h.9M107.3 28.6h.9M75.3 47.3h.9M36.4 58.7h.9M28.2 60.3h.9M127.6 33.9h.9M47.8 63.1h.9M76.1 45.4h.9M39.5 56.3h.9M36.3 63.7h.9M69.9 52.8h.9M35.3 55.2h.9M33.2 53.9h.9M35.7 54.9h.9M71.0 47.0h.9M67.5 55.3h.9M36.9 48.0h.9M72.4 52.6h.9M121.9 24.6h.9M95.0 43.8h.9M45.0 60.6h.9M81.3 37.2h.9M41.2 56.1h.9M99.0 46.6h.9M102.3 44.1h.9M91.5 57.8h.9M116.2 49.2h.9M41.8 66.4h.9M46.1 58.4h.9M43.5 51.1h.9M48.2 48.4h.9M63.0 52.9h.9M55.4 52.2h.9M39.8 49.9h.9M118.4 28.4h.9M39.1 63.7h.9M52.8 64.5h.9M38.4 53.4h.9M53.0 51.6h.9M105.0 42.1h.9M33.1 54.6h.9M46.3 59.9h.9M107.6 26.7h.9M70.5 51.7h.9M33.4 48.4h.9M55.6 52.0h.9M49.8 55.4h.9M122.1 21.6h.9M43.0 54.9h.9M29.8 53.4h.9M34.9 52.8h.9M43.5 50.1h.9M58.3 51.5h.9M55.0 44.1h.9M121.3 43.5h.9M117.9 33.2h.9M112.1 41.4h.9M54.1 58.0h.9M106.0 38.1h.9M53.6 60.1h.9M31.2 57.0h.9M32.2 60.0h.9M39.9 59.5h.9M33.1 55.3h.9M40.8 51.2h.9M57.3 50.2h.9M30.9 56.6h.9M42.5 57.2h.9M38.3 56.7h.9M41.3 53.6h.9M53.2 49.3h.9M41.0 60.6h.9M66.5 43.9h.9M38.3 59.9h.9M65.0 51.5h.9M113.8 33.8h.9M38.8 58.7h.9M86.2 38.2h.9M128.4 24.9h.9M89.5 48.9h.9M47.2 57.7h.9M63.2 53.6h.9M44.5 50.5h.9M126.8 25.8h.9M109.4 38.6h.9M41.9 51.8h.9M62.9 48.3h.9M121.2 35.3h.9M36.4 54.4h.9M126.9 23.1h.9M47.6 60.3h.9M77.2 55.0h.9M119.3 27.9h.9M56.1 47.8h.9M62.3 73.8h.9M110.6 37.6h.9M58.6 47.0h.9M115.6 36.2h.9M48.1 55.8h.9M65.3 52.8h.9M85.7 34.1h.9M93.4 34.7h.9M65.0 48.4h.9M117.6 30.9h.9M85.5 28.4h.9M129.1 23.7h.9M82.4 42.4h.9M93.7 42.4h.9M46.6 56.2h.9M44.6 69.2h.9M29.8 51.5h.9M112.7 32.4h.9M54.2 49.2h.9M43.1 55.0h.9M113.9 21.2h.9M127.4 31.9h.9M44.2 55.6h.9M37.7 57.4h.9M99.0 32.0h.9M43.9 52.7h.9M116.6 33.3h.9M53.6 57.2h.9M87.5 53.2h.9M127.5 24.3h.9M82.4 57.0h.9M66.6 52.5h.9M46.3 57.3h.9M36.1 61.9h.9M66.5 52.9h.9M41.5 58.8h.9M36.0 55.0h.9M119.2 44.4h.9M35.5 61.4h.9M76.2 38.4h.9M61.0 60.7h.9M84.8 41.7h.9M41.4 50.9h.9M68.5 44.7h.9M35.3 58.3h.9M52.4 58.4h.9M38.5 49.7h.9M54.1 50.4h.9M32.0 54.1h.9M46.0 64.1h.9M66.6 54.5h.9M93.2 43.0h.9M47.4 57.2h.9M82.9 47.2h.9M74.0 52.2h.9M127.7 29.5h.9M78.4 42.3h.9M79.6 52.1h.9M112.6 32.1h.9M70.5 36.4h.9M97.4 37.1h.9M37.6 59.9h.9M40.0 61.0h.9M129.2 39.4h.9M96.5 39.5h.9M96.8 48.6h.9M72.6 50.0h.9M59.8 53.2h.9M114.5 33.0h.9M122.8 42.3h.9M80.3 38.1h.9M35.9 60.6h.9M69.0 39.0h.9M103.5 38.2h.9M61.2 51.8h.9M44.5 53.3h.9M126.8 31.0h.9M47.0 51.1h.9M47.1 56.0h.9M50.4 68.0h.9M42.2 55.9h.9M37.0 53.5h.9M32.1 59.2h.9M44.9 63.4h.9M124.9 28.2h.9M34.3 62.3h.9M38.8 43.4h.9M47.5 55.1h.9M48.5 51.2h.9M47.5 63.5h.9M48.9 54.4h.9M79.4 44.9h.9M39.2 63.8h.9M113.4 35.9h.9M53.0 55.6h.9M54.9 52.3h.9M113.6 35.1h.9M119.2 33.3h.9M112.3 39.6h.9M58.8 61.0h.9M89.9 35.6h.9M95.8 42.1h.9M55.5 58.6h.9M110.4 47.5h.9M127.7 19.8h.9M114.2 34.9h.9M50.4 47.6h.9M124.8 51.1h.9M42.3 62.0h.9M126.9 36.7h.9M61.7 52.1h.9M52.1 44.2h.9M47.0 61.8h.9M84.7 49.5h.9M33.5 60.8h.9M114.9 25.2h.9M104.1 29.7h.9M45.4 42.5h.9M54.9 52.2h.9M127.3 24.8h.9M46.9 50.5h.9M59.5 51.8h.9M87.3 51.2h.9M41.3 51.8h.9M52.5 52.5h.9M43.7 66.7h.9M96.4 45.5h.9M99.3 32.4h.9M47.1 49.5h.9M37.0 61.3h.9M71.1 50.2h.9M49.7 53.1h.9M44.2 58.2h.9M119.0 33.3h.9M127.9 27.7h.9M44.1 56.4h.9M28.1 61.8h.9M78.3 51.9h.9M122.3 29.4h.9M89.0 60.8h.9M34.1 59.0h.9M57.8 52.2h.9M50.9 54.7h.9M113.9 26.9h.9M57.6 48.9h.9M120.2 44.6h.9M71.0 53.3h.9M126.3 37.5h.9M36.6 67.8h.9M34.9 66.6h.9M79.1 49.5h.9M63.0 54.7h.9M51.1 43.5h.9M44.1 53.7h.9M52.9 53.6h.9M54.1 57.5h.9M98.7 36.7h.9M44.8 46.9h.9M126.0 34.8h.9M71.1 42.1h.9M42.2 67.1h.9M49.2 53.9h.9M74.9 41.4h.9M44.3 61.3h.9M45.5 50.1h.9M86.9 47.9h.9M122.5 36.0h.9M120.5 31.7h.9M47.3 58.5h.9M60.0 54.2h.9M105.0 37.3h.9M52.4 58.7h.9M79.5 45.3h.9M65.1 62.0h.9M46.4 51.6h.9M79.5 61.2h.9M73.6 61.7h.9M79.5 33.8h.9M38.3 60.4h.9M36.6 58.9h.9M51.7 51.9h.9M54.6 52.5h.9M67.0 50.3h.9M52.0 54.5h.9M36.7 51.9h.9M37.3 54.4h.9M126.9 42.0h.9M46.7 69.8h.9M47.3 55.8h.9M45.4 54.7h.9M60.8 45.4h.9M62.7 49.8h.9M44.8 51.2h.9M47.4 54.7h.9M46.2 63.9h.9M49.5 46.8h.9" stroke="#333" stroke-width=".9"/>
<path d="M67.5 69.2 L67.5 37.8 L77.3 33.5 L88.8 28.4 L100.4 21.9 L110.5 17.0 L131.8 17.0 L131.8 50.0 L99.7 69.2 Z" fill="none" stroke="#777" stroke-width="0.9"/>
<rect x="26.50" y="17.00" width="105.50" height="99.00" fill="none" stroke="#000" stroke-width="1.1"/>
<line x1="26.50" y1="17.00" x2="26.50" y2="116.50" stroke="#000" stroke-width="1.6"/>
<line x1="26.00" y1="116.00" x2="132.00" y2="116.00" stroke="#000" stroke-width="1.6"/>
<line x1="28.50" y1="116.00" x2="28.50" y2="118.20" stroke="#000" stroke-width="0.8"/>
<line x1="31.10" y1="116.00" x2="31.10" y2="117.60" stroke="#000" stroke-width="0.8"/>
<line x1="33.70" y1="116.00" x2="33.70" y2="118.20" stroke="#000" stroke-width="0.8"/>
<line x1="36.30" y1="116.00" x2="36.30" y2="117.60" stroke="#000" stroke-width="0.8"/>
<line x1="38.90" y1="116.00" x2="38.90" y2="118.20" stroke="#000" stroke-width="0.8"/>
<line x1="41.50" y1="116.00" x2="41.50" y2="117.60" stroke="#000" stroke-width="0.8"/>
<line x1="44.10" y1="116.00" x2="44.10" y2="117.60" stroke="#000" stroke-width="0.8"/>
<line x1="46.70" y1="116.00" x2="46.70" y2="117.60" stroke="#000" stroke-width="0.8"/>
<line x1="49.30" y1="116.00" x2="49.30" y2="117.60" stroke="#000" stroke-width="0.8"/>
<line x1="51.90" y1="116.00" x2="51.90" y2="118.20" stroke="#000" stroke-width="0.8"/>
<line x1="54.50" y1="116.00" x2="54.50" y2="117.60" stroke="#000" stroke-width="0.8"/>
<line x1="57.10" y1="116.00" x2="57.10" y2="117.60" stroke="#000" stroke-width="0.8"/>
<line x1="59.70" y1="116.00" x2="59.70" y2="118.20" stroke="#000" stroke-width="0.8"/>
<line x1="62.30" y1="116.00" x2="62.30" y2="118.20" stroke="#000" stroke-width="0.8"/>
<line x1="64.90" y1="116.00" x2="64.90" y2="117.60" stroke="#000" stroke-width="0.8"/>
<line x1="67.50" y1="116.00" x2="67.50" y2="118.20" stroke="#000" stroke-width="0.8"/>
<line x1="70.10" y1="116.00" x2="70.10" y2="118.20" stroke="#000" stroke-width="0.8"/>
<line x1="72.70" y1="116.00" x2="72.70" y2="117.60" stroke="#000" stroke-width="0.8"/>
<line x1="75.30" y1="116.00" x2="75.30" y2="118.20" stroke="#000" stroke-width="0.8"/>
<line x1="77.90" y1="116.00" x2="77.90" y2="118.20" stroke="#000" stroke-width="0.8"/>
<line x1="80.50" y1="116.00" x2="80.50" y2="118.20" stroke="#000" stroke-width="0.8"/>
<line x1="83.10" y1="116.00" x2="83.10" y2="117.60" stroke="#000" stroke-width="0.8"/>
<line x1="85.70" y1="116.00" x2="85.70" y2="118.20" stroke="#000" stroke-width="0.8"/>
<line x1="88.30" y1="116.00" x2="88.30" y2="117.60" stroke="#000" stroke-width="0.8"/>
<line x1="90.90" y1="116.00" x2="90.90" y2="118.20" stroke="#000" stroke-width="0.8"/>
<line x1="93.50" y1="116.00" x2="93.50" y2="117.60" stroke="#000" stroke-width="0.8"/>
<line x1="96.10" y1="116.00" x2="96.10" y2="117.60" stroke="#000" stroke-width="0.8"/>
<line x1="98.70" y1="116.00" x2="98.70" y2="117.60" stroke="#000" stroke-width="0.8"/>
<line x1="101.30" y1="116.00" x2="101.30" y2="117.60" stroke="#000" stroke-width="0.8"/>
<line x1="103.90" y1="116.00" x2="103.90" y2="117.60" stroke="#000" stroke-width="0.8"/>
<line x1="106.50" y1="116.00" x2="106.50" y2="118.20" stroke="#000" stroke-width="0.8"/>
<line x1="109.10" y1="116.00" x2="109.10" y2="117.60" stroke="#000" stroke-width="0.8"/>
<line x1="111.70" y1="116.00" x2="111.70" y2="117.60" stroke="#000" stroke-width="0.8"/>
<line x1="114.30" y1="116.00" x2="114.30" y2="117.60" stroke="#000" stroke-width="0.8"/>
<line x1="116.90" y1="116.00" x2="116.90" y2="117.60" stroke="#000" stroke-width="0.8"/>
<line x1="119.50" y1="116.00" x2="119.50" y2="117.60" stroke="#000" stroke-width="0.8"/>
<line x1="122.10" y1="116.00" x2="122.10" y2="118.20" stroke="#000" stroke-width="0.8"/>
<line x1="124.70" y1="116.00" x2="124.70" y2="118.20" stroke="#000" stroke-width="0.8"/>
<line x1="127.30" y1="116.00" x2="127.30" y2="117.60" stroke="#000" stroke-width="0.8"/>
<line x1="129.90" y1="116.00" x2="129.90" y2="117.60" stroke="#000" stroke-width="0.8"/>
<line x1="24.90" y1="20.00" x2="26.50" y2="20.00" stroke="#000" stroke-width="0.7"/>
<line x1="24.90" y1="23.20" x2="26.50" y2="23.20" stroke="#000" stroke-width="0.7"/>
<line x1="24.90" y1="26.40" x2="26.50" y2="26.40" stroke="#000" stroke-width="0.7"/>
<line x1="24.90" y1="29.60" x2="26.50" y2="29.60" stroke="#000" stroke-width="0.7"/>
<line x1="24.90" y1="32.80" x2="26.50" y2="32.80" stroke="#000" stroke-width="0.7"/>
<line x1="24.90" y1="36.00" x2="26.50" y2="36.00" stroke="#000" stroke-width="0.7"/>
<line x1="24.90" y1="39.20" x2="26.50" y2="39.20" stroke="#000" stroke-width="0.7"/>
<line x1="24.90" y1="42.40" x2="26.50" y2="42.40" stroke="#000" stroke-width="0.7"/>
<line x1="24.90" y1="45.60" x2="26.50" y2="45.60" stroke="#000" stroke-width="0.7"/>
<line x1="24.90" y1="48.80" x2="26.50" y2="48.80" stroke="#000" stroke-width="0.7"/>
<line x1="24.90" y1="52.00" x2="26.50" y2="52.00" stroke="#000" stroke-width="0.7"/>
<line x1="24.90" y1="55.20" x2="26.50" y2="55.20" stroke="#000" stroke-width="0.7"/>
<line x1="24.90" y1="58.40" x2="26.50" y2="58.40" stroke="#000" stroke-width="0.7"/>
<line x1="24.90" y1="61.60" x2="26.50" y2="61.60" stroke="#000" stroke-width="0.7"/>
<line x1="24.90" y1="64.80" x2="26.50" y2="64.80" stroke="#000" stroke-width="0.7"/>
<line x1="24.90" y1="68.00" x2="26.50" y2="68.00" stroke="#000" stroke-width="0.7"/>
<line x1="24.90" y1="71.20" x2="26.50" y2="71.20" stroke="#000" stroke-width="0.7"/>
<line x1="24.90" y1="74.40" x2="26.50" y2="74.40" stroke="#000" stroke-width="0.7"/>
<line x1="24.90" y1="77.60" x2="26.50" y2="77.60" stroke="#000" stroke-width="0.7"/>
<line x1="24.90" y1="80.80" x2="26.50" y2="80.80" stroke="#000" stroke-width="0.7"/>
<line x1="24.90" y1="84.00" x2="26.50" y2="84.00" stroke="#000" stroke-width="0.7"/>
<line x1="24.90" y1="87.20" x2="26.50" y2="87.20" stroke="#000" stroke-width="0.7"/>
<line x1="24.90" y1="90.40" x2="26.50" y2="90.40" stroke="#000" stroke-width="0.7"/>
<line x1="24.90" y1="93.60" x2="26.50" y2="93.60" stroke="#000" stroke-width="0.7"/>
<line x1="24.90" y1="96.80" x2="26.50" y2="96.80" stroke="#000" stroke-width="0.7"/>
<line x1="24.90" y1="100.00" x2="26.50" y2="100.00" stroke="#000" stroke-width="0.7"/>
<line x1="24.90" y1="103.20" x2="26.50" y2="103.20" stroke="#000" stroke-width="0.7"/>
<line x1="24.90" y1="106.40" x2="26.50" y2="106.40" stroke="#000" stroke-width="0.7"/>
<line x1="24.90" y1="109.60" x2="26.50" y2="109.60" stroke="#000" stroke-width="0.7"/>
<line x1="24.90" y1="112.80" x2="26.50" y2="112.80" stroke="#000" stroke-width="0.7"/>
<line x1="23.90" y1="27.60" x2="26.50" y2="27.60" stroke="#000" stroke-width="0.9"/>
<text x="15.88" y="29.80" font-size="6.80" textLength="6.26" lengthAdjust="spacingAndGlyphs" fill="#000" font-weight="bold">10</text>
<text x="21.18" y="26.94" font-size="4.22" fill="#000">5</text>
<line x1="23.90" y1="49.60" x2="26.50" y2="49.60" stroke="#000" stroke-width="0.9"/>
<text x="15.88" y="51.80" font-size="6.80" textLength="6.26" lengthAdjust="spacingAndGlyphs" fill="#000" font-weight="bold">10</text>
<text x="21.18" y="48.94" font-size="4.22" fill="#000">4</text>
<line x1="23.90" y1="72.00" x2="26.50" y2="72.00" stroke="#000" stroke-width="0.9"/>
<text x="15.88" y="74.20" font-size="6.80" textLength="6.26" lengthAdjust="spacingAndGlyphs" fill="#000" font-weight="bold">10</text>
<text x="21.18" y="71.34" font-size="4.22" fill="#000">3</text>
<line x1="23.90" y1="96.60" x2="26.50" y2="96.60" stroke="#000" stroke-width="0.9"/>
<text x="15.88" y="98.80" font-size="6.80" textLength="6.26" lengthAdjust="spacingAndGlyphs" fill="#000" font-weight="bold">10</text>
<text x="21.18" y="95.94" font-size="4.22" fill="#000">2</text>
<line x1="23.90" y1="107.20" x2="26.50" y2="107.20" stroke="#000" stroke-width="0.9"/>
<text x="24.00" y="109.60" font-size="7.00" text-anchor="end">0</text>
<text x="38.70" y="128.40" font-size="7.00" text-anchor="middle">0</text>
<text x="44.59" y="128.40" font-size="6.80" textLength="6.26" lengthAdjust="spacingAndGlyphs" fill="#000" font-weight="bold">10</text>
<text x="49.89" y="125.54" font-size="4.22" fill="#000">2</text>
<text x="69.79" y="128.40" font-size="6.80" textLength="6.26" lengthAdjust="spacingAndGlyphs" fill="#000" font-weight="bold">10</text>
<text x="75.09" y="125.54" font-size="4.22" fill="#000">3</text>
<text x="94.79" y="128.40" font-size="6.80" textLength="6.26" lengthAdjust="spacingAndGlyphs" fill="#000" font-weight="bold">10</text>
<text x="100.09" y="125.54" font-size="4.22" fill="#000">4</text>
<text x="118.09" y="128.40" font-size="6.80" textLength="6.26" lengthAdjust="spacingAndGlyphs" fill="#000" font-weight="bold">10</text>
<text x="123.39" y="125.54" font-size="4.22" fill="#000">5</text>
<text x="79.30" y="134.40" font-size="7.20" font-weight="bold" text-anchor="middle" textLength="17.50" lengthAdjust="spacingAndGlyphs">CD41</text>
<text x="13.90" y="64.50" font-size="7.00" text-anchor="middle" textLength="20.50" lengthAdjust="spacingAndGlyphs" transform="rotate(-90 13.90 64.50)" font-weight="500">SSC-A</text>
<text x="107.10" y="84.30" font-size="10.50" font-weight="bold" textLength="17.30" lengthAdjust="spacingAndGlyphs">16.7</text>
<path d="M259.4 29.7h.9M194.0 56.5h.9M213.3 54.9h.9M238.1 45.1h.9M256.2 27.1h.9M178.0 58.2h.9M242.2 54.9h.9M256.7 37.4h.9M215.1 58.5h.9M252.0 35.4h.9M182.5 60.0h.9M256.5 45.3h.9M184.4 45.5h.9M177.8 53.2h.9M197.4 53.1h.9M245.9 46.4h.9M197.7 55.9h.9M207.2 63.4h.9M235.1 46.0h.9M221.7 51.2h.9M265.5 41.3h.9M265.7 32.1h.9M203.6 57.7h.9M240.9 46.6h.9M183.8 56.8h.9M263.0 43.2h.9M213.8 55.3h.9M187.9 46.0h.9M212.0 66.4h.9M260.6 25.5h.9M206.6 60.4h.9M173.5 64.8h.9M182.3 64.2h.9M191.8 54.6h.9M242.3 32.8h.9M268.8 27.9h.9M197.4 65.0h.9M189.4 55.7h.9M187.4 51.6h.9M201.0 57.0h.9M253.4 42.7h.9M186.4 56.4h.9M182.4 50.5h.9M205.2 53.8h.9M176.4 64.6h.9M185.3 49.3h.9M194.2 55.7h.9M203.0 57.3h.9M215.6 61.6h.9M182.5 51.5h.9M196.4 53.4h.9M247.7 49.2h.9M226.5 48.8h.9M189.0 53.1h.9M180.3 58.8h.9M269.1 32.9h.9M241.9 35.8h.9M206.5 52.2h.9M188.8 53.7h.9M212.0 53.1h.9M175.0 64.3h.9M256.3 32.2h.9M262.2 36.5h.9M203.4 57.0h.9M215.3 52.6h.9M210.7 55.2h.9M250.8 37.2h.9M234.6 58.1h.9M172.8 64.2h.9M188.8 53.3h.9M267.9 29.5h.9M181.9 67.9h.9M179.2 56.4h.9M189.0 54.2h.9M197.7 55.1h.9M260.9 18.6h.9M263.2 18.3h.9M187.6 48.8h.9M261.6 41.9h.9M182.5 48.9h.9M247.5 39.7h.9M186.4 62.4h.9M259.3 22.3h.9M254.0 46.4h.9M169.1 54.9h.9M226.8 41.4h.9M203.5 59.0h.9M182.7 51.5h.9M207.1 53.1h.9M217.6 46.7h.9M236.2 48.2h.9M244.7 30.6h.9M240.9 55.0h.9M210.7 54.4h.9M205.1 54.6h.9M196.7 51.7h.9M221.1 47.4h.9M235.0 53.4h.9M211.4 56.2h.9M169.9 58.3h.9M179.0 54.0h.9M187.5 67.5h.9M210.5 55.2h.9M202.0 64.6h.9M266.6 38.7h.9M258.3 54.9h.9M227.1 51.6h.9M176.8 61.4h.9M180.1 56.6h.9M235.4 51.3h.9M261.2 27.0h.9M245.9 38.9h.9M231.0 53.4h.9M235.2 50.2h.9M249.4 38.4h.9M193.4 60.8h.9M240.4 45.5h.9M192.4 58.0h.9M267.8 31.5h.9M237.5 58.5h.9M246.2 27.5h.9M238.7 50.0h.9M267.1 36.4h.9M265.0 31.0h.9M240.8 32.9h.9M181.0 57.6h.9M173.2 64.5h.9M204.3 55.1h.9M249.9 29.9h.9M237.2 49.8h.9M188.8 58.2h.9M263.8 43.1h.9M201.8 60.2h.9M188.0 59.2h.9M260.3 27.3h.9M180.6 57.7h.9M195.3 57.4h.9M222.0 55.9h.9M182.5 65.8h.9M234.4 51.1h.9M240.5 61.6h.9M209.3 54.0h.9M253.8 45.8h.9M253.2 44.8h.9M269.0 34.2h.9M238.7 44.5h.9M262.0 23.7h.9M199.6 61.1h.9M219.2 56.6h.9M232.2 45.7h.9M242.6 40.5h.9M266.1 19.7h.9M218.2 51.6h.9M254.2 46.0h.9M233.7 43.6h.9M181.6 61.4h.9M175.7 54.6h.9M221.8 59.0h.9M262.9 38.6h.9M171.7 58.3h.9M192.8 56.4h.9M246.0 56.9h.9M250.9 45.1h.9M239.5 54.9h.9M242.5 54.7h.9M182.6 56.1h.9M182.3 54.6h.9M223.9 56.8h.9M199.9 55.6h.9M202.7 60.3h.9M170.9 55.3h.9M195.2 52.6h.9M214.1 51.7h.9M232.9 52.9h.9M267.5 27.4h.9M212.8 58.5h.9M206.1 63.0h.9M180.8 50.9h.9M204.5 47.3h.9M256.2 47.1h.9M236.9 40.8h.9M172.9 58.3h.9M259.0 30.2h.9M208.6 59.8h.9M260.7 30.7h.9M216.1 53.4h.9M268.6 26.7h.9M261.1 25.3h.9M188.7 53.0h.9M172.7 57.1h.9M207.5 56.6h.9M202.7 61.1h.9M247.7 49.8h.9M208.8 57.4h.9M255.3 34.0h.9M208.4 50.1h.9M202.8 58.7h.9M207.4 58.4h.9M189.8 54.1h.9M261.6 37.0h.9M234.5 50.3h.9M194.0 55.1h.9M203.1 51.2h.9M238.6 60.7h.9M206.9 55.6h.9M241.7 44.6h.9M200.3 50.3h.9M186.0 59.0h.9M266.6 33.7h.9M200.8 49.1h.9M267.0 24.1h.9M246.2 33.3h.9M192.1 50.9h.9M193.6 59.8h.9M261.6 23.6h.9M176.4 63.5h.9M246.5 53.1h.9M255.4 47.7h.9M176.1 53.0h.9M249.7 34.3h.9M209.5 67.9h.9M233.8 54.9h.9M201.6 47.7h.9M184.2 63.3h.9M229.5 61.3h.9M234.2 48.5h.9M198.3 56.7h.9M197.8 52.9h.9M261.5 33.7h.9M247.8 37.8h.9M189.9 57.0h.9M246.0 53.7h.9M232.4 40.8h.9M170.7 56.3h.9M201.7 54.0h.9M202.3 61.0h.9M250.3 51.7h.9M219.7 63.7h.9M240.0 31.7h.9M207.8 55.6h.9M267.4 30.8h.9M196.6 59.2h.9M255.3 54.2h.9M200.1 57.1h.9M179.6 53.3h.9M226.2 57.1h.9M242.4 55.1h.9M244.6 37.8h.9M246.4 48.4h.9M246.8 48.0h.9M191.8 54.7h.9M190.0 60.8h.9M253.8 36.3h.9M237.2 41.5h.9M236.5 43.6h.9M200.1 51.6h.9M218.4 63.5h.9M195.7 51.8h.9M231.9 59.2h.9M221.8 47.1h.9M263.5 28.7h.9M190.9 66.3h.9M186.3 63.7h.9M177.5 57.5h.9M229.5 44.8h.9M205.4 53.2h.9M188.3 69.9h.9M195.2 57.8h.9M185.8 53.0h.9M182.5 54.1h.9M250.7 29.4h.9M266.7 23.7h.9M199.6 59.9h.9M266.6 20.4h.9M245.9 64.3h.9M243.9 47.8h.9M183.1 54.5h.9M228.4 52.5h.9M186.6 52.3h.9M264.2 39.5h.9M192.4 50.1h.9M177.5 60.0h.9M190.2 55.7h.9M240.2 51.9h.9M214.3 65.2h.9M177.2 57.5h.9M249.1 43.8h.9M240.3 40.6h.9M186.3 60.2h.9M243.2 36.9h.9M194.8 61.2h.9M234.3 42.5h.9M199.4 52.8h.9M241.5 74.5h.9M187.0 59.3h.9M185.7 62.9h.9M230.5 50.6h.9M185.0 60.1h.9M206.2 54.8h.9M200.8 56.8h.9M179.6 57.0h.9M253.3 36.7h.9M221.9 48.8h.9M237.5 53.9h.9M181.1 50.5h.9M267.8 40.4h.9M250.4 36.7h.9M192.0 47.9h.9M199.9 57.7h.9M174.5 65.4h.9M205.5 58.6h.9M216.0 54.4h.9M228.2 50.2h.9M271.1 27.1h.9M225.5 53.1h.9M260.5 26.5h.9M264.5 25.6h.9M180.0 56.3h.9M185.7 53.0h.9M173.3 60.7h.9M213.0 51.3h.9M241.9 44.7h.9M181.9 53.0h.9M210.5 52.3h.9M176.9 61.5h.9M183.4 55.4h.9M232.6 55.5h.9M228.3 51.0h.9M207.5 52.7h.9M239.0 49.0h.9M248.4 42.1h.9M182.7 55.3h.9M250.5 36.8h.9M207.1 61.1h.9M192.4 52.3h.9M235.0 54.3h.9M215.2 57.1h.9M246.8 36.7h.9M187.0 53.8h.9M267.7 20.1h.9M213.9 58.8h.9M212.9 48.7h.9M265.2 19.1h.9M202.4 44.2h.9M198.2 52.8h.9M195.7 50.8h.9M230.0 54.2h.9M187.8 56.7h.9M263.6 36.6h.9M258.4 45.6h.9M181.7 65.6h.9M171.5 50.7h.9M197.1 59.4h.9M265.2 34.0h.9M235.9 61.9h.9M244.2 48.2h.9M193.1 52.1h.9M261.9 34.7h.9M248.9 36.4h.9M182.5 47.7h.9M268.4 20.7h.9M210.0 47.2h.9M211.9 58.8h.9M212.5 55.2h.9M267.6 35.0h.9M194.2 63.4h.9M244.6 60.0h.9M264.4 29.9h.9M204.7 55.7h.9M233.7 49.9h.9M233.8 55.4h.9M263.5 26.6h.9M222.8 57.8h.9M203.7 56.1h.9M266.2 33.4h.9M253.8 32.9h.9M216.1 59.1h.9M198.7 57.0h.9M180.8 57.0h.9M263.9 19.8h.9M209.7 53.9h.9M208.8 57.1h.9M265.8 28.2h.9M195.6 53.8h.9M219.9 55.7h.9M189.6 52.3h.9M244.1 37.4h.9M195.4 63.1h.9M247.8 33.9h.9M209.9 56.4h.9M223.7 56.0h.9M243.3 52.5h.9M207.8 57.9h.9M271.4 39.3h.9M246.1 43.3h.9M176.6 58.3h.9M232.5 53.5h.9M232.4 51.3h.9M201.9 59.3h.9M230.6 58.1h.9M177.7 57.2h.9M264.5 26.2h.9M208.1 62.3h.9M237.8 33.7h.9M258.6 25.6h.9M242.6 41.9h.9M185.1 54.6h.9M250.3 25.3h.9M203.1 63.9h.9M258.2 35.9h.9M183.7 54.7h.9M216.2 56.2h.9M188.8 49.8h.9M227.3 51.4h.9M171.1 55.2h.9M184.0 59.7h.9M187.0 57.3h.9M189.5 53.6h.9M242.7 25.6h.9M202.6 63.7h.9M238.8 50.7h.9M190.8 57.2h.9M199.6 52.6h.9M199.6 56.3h.9M201.7 58.3h.9M269.7 28.4h.9M238.4 34.2h.9M207.7 51.6h.9M177.6 58.8h.9M178.8 70.1h.9M176.6 59.2h.9M244.5 50.0h.9M250.9 32.1h.9M187.4 54.7h.9M239.9 46.1h.9M206.1 62.3h.9M256.9 26.3h.9M268.0 30.8h.9M177.8 54.0h.9M202.7 56.9h.9M254.7 24.5h.9M250.3 51.2h.9M190.7 61.0h.9M252.4 38.2h.9M209.3 52.2h.9M242.5 49.2h.9M190.6 61.2h.9M175.4 56.9h.9M189.7 53.3h.9M224.1 56.1h.9M218.1 51.7h.9M170.8 57.7h.9M255.5 38.7h.9M216.0 50.1h.9M245.2 49.0h.9M202.8 55.2h.9M177.6 49.2h.9M247.6 54.9h.9M234.2 52.2h.9M229.4 61.3h.9M189.7 57.9h.9M236.3 50.9h.9M263.0 37.1h.9M177.7 61.9h.9M242.0 42.3h.9M192.3 54.8h.9M187.9 57.3h.9M237.3 50.9h.9M213.4 59.2h.9M230.4 58.4h.9M255.9 52.3h.9M180.9 53.4h.9M253.4 43.1h.9M185.1 67.4h.9M246.1 39.7h.9M235.6 52.6h.9M182.2 56.9h.9M267.2 24.0h.9M230.5 52.2h.9M177.6 53.2h.9M234.4 49.7h.9M256.8 28.8h.9M196.8 57.3h.9M182.6 56.5h.9M261.0 36.8h.9M262.1 40.7h.9M224.4 56.1h.9M257.4 28.2h.9M265.1 38.6h.9M207.0 62.9h.9M204.4 57.6h.9M240.2 57.5h.9M241.3 52.1h.9M203.0 50.7h.9M192.4 57.5h.9M242.1 43.0h.9M193.1 50.8h.9M239.9 45.8h.9M239.2 26.8h.9M196.7 62.7h.9M202.9 57.7h.9M219.4 56.1h.9M239.6 54.4h.9M227.8 58.4h.9M236.8 54.1h.9M255.7 43.6h.9M244.2 50.1h.9M221.4 52.9h.9M184.0 52.7h.9M179.1 50.3h.9M189.0 59.5h.9M211.0 56.0h.9M177.0 58.3h.9M265.8 25.6h.9M265.2 32.8h.9M184.0 65.8h.9M214.4 54.9h.9M238.2 54.5h.9M260.3 36.0h.9M177.3 50.3h.9M186.7 48.5h.9M223.3 60.7h.9M243.0 46.7h.9M238.1 57.6h.9M260.5 33.9h.9M250.9 45.5h.9M203.2 47.1h.9M179.7 54.5h.9M248.4 47.3h.9M245.4 45.4h.9M213.2 48.4h.9M268.4 31.6h.9M244.5 49.0h.9M196.1 57.9h.9M249.1 26.9h.9M179.7 49.5h.9M265.7 30.6h.9M270.8 32.6h.9M190.9 61.8h.9M205.2 54.3h.9M187.1 50.9h.9M197.7 55.3h.9M198.5 59.3h.9M190.5 61.7h.9M216.7 63.9h.9M224.4 56.8h.9M226.7 47.2h.9M186.9 60.4h.9M192.6 60.6h.9M202.4 53.4h.9M246.5 29.9h.9M257.0 46.4h.9M267.4 22.3h.9M241.2 48.0h.9M201.3 61.3h.9M242.0 40.2h.9M250.1 65.8h.9M189.7 62.3h.9M194.7 59.2h.9M239.7 48.0h.9M211.7 61.9h.9M191.6 53.9h.9M183.0 64.1h.9M235.3 49.6h.9M200.4 58.0h.9M250.4 57.2h.9M188.8 54.7h.9M239.7 54.1h.9M185.5 61.0h.9M169.5 51.3h.9M171.5 56.6h.9M191.5 57.2h.9M248.7 38.9h.9M223.6 59.7h.9M215.7 61.1h.9M262.9 22.2h.9M239.7 55.7h.9M191.3 59.0h.9M206.2 53.7h.9M196.7 54.9h.9M248.3 46.6h.9M189.7 60.0h.9M209.9 42.0h.9M191.6 57.6h.9M200.0 62.2h.9M176.7 54.9h.9M208.1 49.6h.9M194.7 49.5h.9M265.7 24.2h.9M205.3 53.6h.9M182.9 54.6h.9M234.1 61.3h.9M188.6 60.7h.9M212.2 51.7h.9M236.9 53.6h.9M212.7 65.0h.9M232.5 58.5h.9M198.6 64.6h.9M262.0 51.0h.9M214.9 63.0h.9M180.2 67.2h.9M198.0 54.2h.9M195.8 58.0h.9M194.8 57.6h.9M210.7 58.5h.9M254.9 20.8h.9M187.6 51.1h.9M199.6 48.2h.9M181.6 53.8h.9M214.0 59.8h.9M230.7 47.5h.9M261.4 32.8h.9M221.7 50.2h.9M247.8 53.7h.9M181.2 56.3h.9M210.9 50.9h.9M204.6 54.4h.9M268.1 28.9h.9M190.5 52.2h.9M228.2 51.1h.9M250.3 41.8h.9M258.4 29.5h.9M246.6 45.6h.9M228.6 57.0h.9M259.6 23.5h.9M200.5 52.8h.9M245.0 43.9h.9M189.9 53.1h.9M258.9 31.9h.9M260.4 25.7h.9M267.4 24.8h.9M180.5 52.5h.9M189.8 44.6h.9M205.7 68.5h.9M183.6 50.8h.9M222.1 54.1h.9M228.8 49.8h.9M235.6 54.5h.9M190.3 61.6h.9M185.3 57.8h.9M246.0 30.8h.9M184.8 58.2h.9M195.4 54.0h.9M182.8 62.6h.9M207.0 62.4h.9M257.2 21.8h.9M203.0 59.7h.9M254.4 46.6h.9M187.8 54.5h.9M204.9 45.4h.9M189.2 54.3h.9M249.9 42.3h.9M253.6 46.3h.9M252.2 46.0h.9M193.9 52.4h.9M243.8 45.9h.9M236.6 60.1h.9M222.2 55.8h.9M199.2 52.8h.9M255.2 33.4h.9M188.8 56.3h.9M173.5 50.4h.9M241.0 44.1h.9M173.1 61.5h.9M204.2 58.7h.9M235.5 36.4h.9M185.7 55.9h.9M195.1 52.0h.9M232.1 59.6h.9M265.5 33.3h.9M184.7 57.7h.9M225.1 50.6h.9M190.5 61.3h.9M200.8 59.0h.9M235.3 54.5h.9M181.0 52.7h.9M191.4 51.9h.9M221.1 59.1h.9M192.1 58.3h.9M223.8 55.2h.9M245.0 43.4h.9M191.1 60.7h.9M239.0 51.0h.9M230.8 52.2h.9M221.2 50.4h.9M180.1 51.7h.9M176.2 59.7h.9M238.3 54.2h.9M210.4 57.1h.9M179.7 50.2h.9M192.3 56.6h.9M189.4 62.9h.9M236.5 55.5h.9M203.2 59.5h.9M270.8 27.5h.9M178.5 65.5h.9M250.8 33.7h.9M253.6 36.2h.9M242.8 56.6h.9M257.2 34.7h.9M263.6 24.0h.9M214.6 52.8h.9M177.8 60.6h.9M241.0 42.6h.9M252.9 41.8h.9M270.7 26.6h.9M191.3 54.7h.9M264.4 31.1h.9M173.4 51.8h.9M248.0 45.8h.9M198.5 58.0h.9M204.8 66.7h.9M221.5 55.4h.9M268.5 25.6h.9M244.2 54.7h.9M192.5 51.6h.9M254.3 31.4h.9M258.2 40.1h.9M257.6 36.8h.9M187.6 57.8h.9M212.9 60.1h.9M206.8 58.7h.9M242.8 53.5h.9M260.8 20.8h.9M258.8 29.2h.9M187.3 48.3h.9M195.9 63.5h.9M229.1 38.5h.9M202.2 49.0h.9M171.4 55.7h.9M189.2 57.0h.9M187.7 48.4h.9M223.2 53.6h.9M214.1 49.9h.9M174.6 50.7h.9M196.9 57.9h.9M176.8 54.8h.9M221.6 55.6h.9M201.5 57.6h.9M229.6 52.8h.9M237.9 56.3h.9M176.1 56.9h.9M264.6 33.8h.9M263.6 18.8h.9M256.6 35.5h.9M185.9 52.2h.9M188.0 55.9h.9M187.0 51.0h.9M238.1 51.9h.9M222.3 62.1h.9M211.5 54.5h.9M270.9 34.6h.9M219.4 62.8h.9M181.6 59.3h.9M236.7 46.9h.9M228.9 52.2h.9M243.2 49.4h.9M192.1 66.8h.9M259.4 19.6h.9M192.9 65.0h.9M200.4 50.6h.9M217.0 57.6h.9M211.2 53.9h.9M218.2 60.3h.9M180.3 51.0h.9M183.1 64.3h.9M197.6 50.1h.9M228.3 50.9h.9M205.6 50.5h.9M247.7 46.2h.9M268.9 26.9h.9M188.5 56.6h.9M175.8 52.9h.9M178.9 55.2h.9M183.2 57.7h.9M260.2 52.5h.9M214.8 64.4h.9M220.2 55.2h.9M243.4 51.4h.9M184.7 64.0h.9M173.6 57.5h.9M228.8 52.1h.9M202.1 57.7h.9M245.5 49.5h.9M189.1 56.7h.9M270.7 32.2h.9M211.3 54.9h.9M236.2 56.8h.9M252.0 45.2h.9M241.6 46.0h.9M261.6 31.6h.9M223.6 58.1h.9M181.2 53.0h.9M227.9 61.6h.9M200.5 59.3h.9M237.9 54.3h.9M217.4 51.0h.9M263.3 30.1h.9M187.3 61.8h.9M181.0 54.2h.9M188.8 60.5h.9M193.8 60.7h.9M202.3 53.2h.9M183.8 48.6h.9M247.3 43.8h.9M232.9 57.5h.9M238.0 47.8h.9M176.9 63.4h.9M225.4 32.5h.9M218.1 59.3h.9M244.5 47.9h.9M170.2 63.4h.9M185.2 65.4h.9M196.2 62.3h.9M203.1 50.2h.9M237.4 63.1h.9M215.4 52.5h.9M224.9 53.6h.9M185.6 57.3h.9M254.3 28.1h.9M209.4 55.5h.9M245.2 44.9h.9M178.3 59.4h.9M185.7 51.0h.9M189.1 56.2h.9M207.4 50.1h.9M181.4 57.4h.9M190.2 50.0h.9M186.5 55.6h.9M250.4 42.4h.9M237.8 58.1h.9M250.0 33.0h.9M230.8 51.2h.9M210.7 56.5h.9M179.9 57.1h.9M269.4 31.3h.9M197.3 58.3h.9M205.8 58.9h.9M193.2 55.5h.9M197.6 65.2h.9M182.9 58.1h.9M238.1 59.4h.9M238.6 48.6h.9M237.4 50.2h.9M190.3 50.1h.9M259.6 41.7h.9M188.7 63.4h.9M192.8 53.8h.9M240.3 42.9h.9M259.2 46.9h.9M235.2 51.4h.9M195.9 59.5h.9M250.1 43.7h.9M202.6 59.4h.9M200.0 48.7h.9M191.4 53.8h.9M194.6 57.9h.9M190.0 60.3h.9M194.4 54.4h.9M231.0 36.7h.9M184.1 43.4h.9M186.4 55.7h.9M199.4 54.3h.9M194.7 49.3h.9M226.9 61.9h.9M193.5 59.7h.9M177.2 50.6h.9M196.8 54.8h.9M251.0 41.7h.9M228.2 55.9h.9M191.8 58.3h.9M259.4 31.1h.9M237.1 53.7h.9M221.0 55.2h.9M234.9 58.0h.9M202.5 53.8h.9M210.2 48.7h.9M234.9 49.4h.9M199.4 56.2h.9M169.8 52.8h.9M213.9 65.0h.9M267.8 37.1h.9M186.2 59.3h.9M237.6 57.0h.9M235.0 48.5h.9M242.7 37.5h.9M261.7 26.4h.9M186.0 57.7h.9M252.6 29.1h.9M185.8 55.6h.9M184.2 59.2h.9M191.5 53.2h.9M256.2 38.1h.9M203.3 61.6h.9M208.7 57.2h.9M181.9 57.6h.9M211.2 61.1h.9M254.2 49.2h.9M207.1 51.1h.9M186.8 50.9h.9M230.5 51.2h.9M232.6 49.6h.9M237.7 40.4h.9M263.1 46.3h.9M190.1 62.6h.9M197.3 52.5h.9" stroke="#a5a5a5" stroke-width=".9"/>
<path d="M266.3 36.8h.9M190.2 54.7h.9M194.1 51.3h.9M263.9 26.9h.9M250.3 52.6h.9M215.9 56.4h.9M250.8 24.4h.9M190.4 54.7h.9M262.7 36.2h.9M195.6 60.0h.9M191.9 62.6h.9M186.4 60.0h.9M203.0 64.5h.9M256.8 25.7h.9M188.3 58.8h.9M203.6 53.1h.9M195.9 53.4h.9M233.9 48.0h.9M188.0 57.2h.9M180.6 57.3h.9M214.6 50.6h.9M188.2 54.8h.9M204.0 59.6h.9M198.9 62.5h.9M203.0 49.8h.9M199.6 60.4h.9M271.3 24.9h.9M185.2 62.2h.9M184.8 54.0h.9M191.3 54.9h.9M215.8 56.9h.9M257.4 20.2h.9M197.1 62.3h.9M267.1 36.6h.9M219.0 52.7h.9M254.3 29.2h.9M259.2 27.4h.9M242.4 50.9h.9M230.6 59.3h.9M236.9 44.8h.9M179.4 59.2h.9M183.5 54.1h.9M183.0 65.0h.9M185.7 55.2h.9M241.6 40.1h.9M200.1 58.9h.9M250.9 54.7h.9M203.0 52.9h.9M233.2 45.0h.9M256.1 46.3h.9M228.5 56.5h.9M215.8 58.8h.9M250.7 35.8h.9M189.7 60.6h.9M188.4 61.2h.9M208.3 58.6h.9M227.1 60.9h.9M174.6 49.2h.9M270.0 27.8h.9M235.6 56.9h.9M191.7 58.5h.9M236.9 43.9h.9M181.7 59.9h.9M189.1 50.4h.9M175.7 54.1h.9M205.5 65.9h.9M230.7 52.2h.9M179.8 56.5h.9M176.4 57.7h.9M250.4 43.6h.9M200.8 60.0h.9M218.4 57.1h.9M216.4 61.9h.9M188.7 49.6h.9M208.1 52.9h.9M238.3 54.7h.9M210.0 59.0h.9M246.1 36.6h.9M243.7 47.2h.9M233.1 43.2h.9M178.0 57.7h.9M199.2 57.9h.9M235.8 51.5h.9M270.2 26.3h.9M173.3 54.7h.9M221.2 62.9h.9M223.3 56.3h.9M236.9 50.9h.9M200.0 53.7h.9M249.0 34.3h.9M214.8 55.0h.9M190.1 56.2h.9M216.3 57.1h.9M170.2 61.4h.9M261.0 28.3h.9M262.2 31.8h.9M206.8 60.7h.9M233.6 57.3h.9M239.0 47.3h.9M222.9 49.9h.9M203.6 54.5h.9M267.4 21.8h.9M200.9 52.6h.9M206.9 54.5h.9M228.3 57.0h.9M257.7 36.3h.9M231.2 55.9h.9M218.5 46.3h.9M239.7 53.6h.9M259.7 29.7h.9M180.1 52.5h.9M255.0 27.7h.9M198.3 57.8h.9M239.0 49.6h.9M184.5 54.1h.9M193.0 47.8h.9M246.4 56.1h.9M253.6 37.0h.9M214.9 57.2h.9M194.2 56.5h.9M186.4 55.7h.9M208.3 53.3h.9M198.8 60.8h.9M197.4 51.9h.9M197.1 54.0h.9M193.4 52.5h.9M192.6 61.0h.9M259.5 37.5h.9M230.5 53.9h.9M258.0 34.0h.9M240.0 57.1h.9M268.3 37.6h.9M184.8 61.8h.9M224.1 56.4h.9M213.1 55.1h.9M265.4 45.3h.9M268.4 22.9h.9M220.7 52.0h.9M181.9 52.7h.9M197.4 55.8h.9M214.2 56.1h.9M263.5 34.0h.9M262.4 27.9h.9M255.5 21.5h.9M223.3 61.9h.9M244.9 49.0h.9M197.3 56.1h.9M261.4 25.2h.9M188.4 56.3h.9M257.5 29.9h.9M245.9 63.3h.9M193.2 56.6h.9M183.6 54.0h.9M193.7 58.7h.9M181.4 56.8h.9M204.7 48.9h.9M202.0 58.3h.9M203.2 59.7h.9M260.6 34.1h.9M258.4 21.5h.9M181.7 55.2h.9M242.6 60.7h.9M264.5 41.5h.9M193.9 60.5h.9M260.9 20.8h.9M262.7 43.9h.9M235.3 56.8h.9M194.0 59.9h.9M257.3 33.0h.9M182.5 47.3h.9M225.0 48.9h.9M205.6 53.5h.9M255.5 44.5h.9M204.2 47.2h.9M192.4 55.7h.9M247.2 42.0h.9M229.8 48.0h.9M220.6 56.4h.9M242.9 43.3h.9M237.2 51.0h.9M171.7 62.1h.9M186.1 61.6h.9M210.1 55.3h.9M211.2 59.9h.9M246.6 53.5h.9M184.6 59.3h.9M238.7 59.0h.9M237.2 68.3h.9M254.9 30.9h.9M191.5 51.9h.9M196.0 56.2h.9M175.9 52.6h.9M227.2 48.4h.9M181.8 49.8h.9M230.9 46.1h.9M190.1 62.4h.9M257.1 23.1h.9M257.7 34.7h.9M240.6 52.4h.9M212.2 50.7h.9M200.9 62.1h.9M198.8 59.2h.9M216.7 64.8h.9M179.1 61.0h.9M218.1 55.2h.9M194.9 52.5h.9M236.1 54.3h.9M191.9 55.7h.9M263.1 30.3h.9M226.2 53.1h.9M267.9 24.8h.9M181.2 63.0h.9M236.7 48.5h.9M263.6 26.7h.9M251.4 39.1h.9M267.7 25.6h.9M242.2 56.3h.9M207.1 62.6h.9M214.2 49.7h.9M201.3 67.4h.9M251.9 40.6h.9M185.4 52.5h.9M260.7 27.8h.9M177.7 64.4h.9M189.0 57.5h.9M263.0 29.6h.9M243.5 41.6h.9M257.2 33.5h.9M221.6 50.2h.9M216.6 48.6h.9M243.9 54.4h.9M182.1 59.8h.9M204.4 56.5h.9M260.0 32.8h.9M234.0 38.6h.9M220.6 57.2h.9M207.2 51.7h.9M189.3 57.6h.9M235.0 47.7h.9M239.8 42.6h.9M189.4 57.2h.9M214.0 57.2h.9M245.9 29.8h.9M185.1 51.7h.9M193.7 56.9h.9M236.3 48.2h.9M239.6 56.7h.9M208.5 53.1h.9M169.0 53.8h.9M243.5 46.0h.9M225.9 59.4h.9M189.1 53.9h.9M237.8 47.5h.9M187.5 53.6h.9M184.4 53.8h.9M269.4 30.8h.9M186.4 49.3h.9M258.5 30.1h.9M180.4 60.2h.9M187.4 53.0h.9M251.5 57.7h.9M208.6 58.6h.9M235.1 54.1h.9M258.6 34.8h.9M221.5 53.9h.9M205.7 65.5h.9M210.0 58.3h.9M203.3 46.0h.9M189.8 46.0h.9M177.3 62.2h.9M257.7 32.5h.9M257.5 30.0h.9M257.4 29.5h.9M205.5 62.2h.9M199.4 57.3h.9M192.1 60.4h.9M255.3 35.6h.9M253.4 34.5h.9M201.2 68.8h.9M196.7 61.0h.9M191.6 58.2h.9M178.0 59.5h.9M205.5 62.4h.9M230.0 55.9h.9M226.9 60.3h.9M193.6 51.3h.9M261.4 34.4h.9M198.0 61.1h.9M189.2 61.0h.9M198.3 50.0h.9M202.7 54.3h.9M215.7 44.7h.9M238.4 43.1h.9M211.6 52.5h.9M265.6 28.2h.9M181.6 59.6h.9M250.7 36.5h.9M262.9 24.4h.9M191.5 55.1h.9M231.5 60.2h.9M191.8 57.9h.9M253.6 47.4h.9M172.6 59.9h.9M266.6 24.1h.9M262.2 37.4h.9M252.6 42.0h.9M263.5 36.2h.9M237.2 50.0h.9M179.0 51.4h.9M192.5 56.9h.9M263.4 37.5h.9M269.8 27.3h.9M204.8 53.7h.9M221.6 69.4h.9M188.3 56.1h.9M206.8 65.4h.9M202.1 56.2h.9M193.3 55.5h.9M239.3 48.1h.9M254.5 42.1h.9M261.8 43.0h.9M203.2 46.5h.9M218.1 47.4h.9M257.9 35.3h.9M237.9 48.4h.9M219.7 51.3h.9M265.0 50.3h.9M260.7 26.7h.9M225.3 50.7h.9M252.8 42.2h.9M220.1 63.1h.9M201.8 51.0h.9M241.5 51.1h.9M201.5 59.3h.9M180.6 60.6h.9M184.9 51.7h.9M245.4 61.2h.9M188.8 63.1h.9M180.3 57.2h.9M236.5 50.2h.9M182.9 55.6h.9M255.0 39.3h.9M180.9 62.7h.9M213.0 57.1h.9M176.5 55.5h.9M252.3 44.5h.9M247.1 42.2h.9M184.0 57.8h.9M190.4 49.6h.9M201.9 58.2h.9M194.0 48.2h.9M184.1 63.3h.9M249.6 38.2h.9M266.7 39.1h.9M198.2 52.8h.9M266.6 43.3h.9M186.8 62.7h.9M213.4 62.6h.9M186.6 50.7h.9M201.0 52.3h.9M251.0 38.4h.9M218.6 57.1h.9M203.5 58.7h.9M271.0 27.8h.9M234.4 55.8h.9M238.3 57.9h.9M182.9 53.7h.9M252.7 46.3h.9M250.3 31.5h.9M257.9 32.3h.9M264.5 49.6h.9M231.7 37.0h.9M254.3 50.6h.9M252.1 45.3h.9M181.2 61.7h.9M174.1 63.2h.9M194.0 52.1h.9M218.8 51.2h.9M264.0 23.1h.9M251.2 62.5h.9M209.6 59.0h.9M172.4 51.4h.9M213.8 63.7h.9M189.1 67.4h.9M242.9 52.5h.9M255.1 40.4h.9M206.1 62.5h.9M226.4 59.8h.9M215.0 66.3h.9M225.5 53.9h.9M179.8 54.2h.9M194.1 54.1h.9M222.6 54.0h.9M185.8 53.3h.9M254.4 31.4h.9M250.7 41.2h.9M187.3 62.1h.9M197.7 62.2h.9M212.5 54.0h.9M216.7 59.5h.9M237.7 52.4h.9M227.5 53.5h.9M180.8 63.3h.9M238.1 46.0h.9M255.5 36.6h.9M190.0 59.8h.9M228.7 59.8h.9M177.1 61.3h.9M204.1 51.8h.9M223.8 48.0h.9M254.4 40.9h.9M194.7 56.4h.9M241.0 51.3h.9M183.8 51.5h.9M213.4 60.2h.9M185.6 52.3h.9M257.0 34.4h.9M247.0 57.9h.9M231.3 56.1h.9M182.9 61.8h.9M180.4 55.3h.9M182.9 54.3h.9M208.7 58.9h.9M183.1 60.0h.9M245.2 47.9h.9M255.8 28.0h.9M178.5 59.4h.9M270.5 20.4h.9M222.9 58.4h.9M233.8 54.5h.9M230.9 57.1h.9M236.5 59.1h.9M173.9 59.7h.9M183.1 56.0h.9M194.5 54.3h.9M244.4 57.8h.9M235.5 49.9h.9M269.1 24.4h.9M214.9 57.6h.9M190.5 57.8h.9M179.0 58.4h.9M221.0 54.6h.9M258.7 24.4h.9M265.3 27.2h.9M216.4 47.6h.9M245.8 50.8h.9M176.0 54.6h.9M227.8 53.4h.9M239.7 49.3h.9M199.9 60.8h.9M219.7 45.8h.9M241.2 28.4h.9M249.5 39.0h.9M250.9 42.6h.9M216.3 59.4h.9M204.3 48.7h.9M185.3 55.1h.9M236.1 45.9h.9M174.4 53.9h.9M254.7 46.4h.9M237.6 59.4h.9M204.2 51.3h.9M171.9 54.4h.9M217.5 43.6h.9M240.2 58.4h.9M200.8 54.5h.9M195.6 56.2h.9M244.0 53.7h.9M245.2 47.5h.9M185.6 48.5h.9M260.9 20.4h.9M179.6 63.1h.9M265.5 21.6h.9M256.4 19.0h.9M222.4 64.2h.9M244.7 36.7h.9M231.1 52.5h.9M201.9 53.4h.9M183.2 59.2h.9M254.1 52.0h.9M176.5 58.7h.9M213.9 52.5h.9M174.1 53.7h.9M257.8 23.4h.9M188.1 56.0h.9M197.5 54.4h.9M262.7 39.4h.9M187.4 54.2h.9M253.9 31.1h.9M215.6 50.2h.9M204.1 55.7h.9M255.6 40.0h.9M265.6 20.7h.9M237.2 51.3h.9M196.3 52.8h.9M183.6 57.3h.9M184.1 56.8h.9M262.6 21.1h.9M235.0 59.2h.9M186.9 51.7h.9M264.1 28.0h.9M237.7 54.2h.9M268.2 27.0h.9M259.1 34.0h.9M253.3 36.4h.9M265.4 41.1h.9M184.2 63.2h.9M219.6 61.1h.9M255.8 43.7h.9M211.8 56.6h.9M257.5 48.5h.9M270.1 24.5h.9M255.3 28.1h.9M188.2 51.7h.9M197.2 56.2h.9M238.0 55.7h.9M182.9 54.9h.9M258.8 21.3h.9M254.4 47.6h.9M257.3 32.6h.9M182.1 63.6h.9M257.2 28.9h.9M253.8 41.1h.9M261.6 25.0h.9M190.1 54.4h.9M174.7 60.0h.9M190.2 61.1h.9M214.4 58.4h.9M231.8 46.2h.9M196.5 57.7h.9M249.2 42.4h.9M255.2 37.6h.9M180.8 62.8h.9M238.6 43.6h.9M187.4 64.4h.9M187.4 51.2h.9M265.3 37.8h.9M200.1 52.4h.9M217.3 52.5h.9M191.0 57.0h.9M227.1 47.8h.9M233.8 49.5h.9M192.4 48.4h.9M248.4 44.4h.9M198.0 58.7h.9M234.6 44.9h.9M179.0 61.0h.9M185.6 54.5h.9M237.6 56.6h.9M235.5 45.5h.9M264.1 27.2h.9M233.8 42.7h.9M256.1 43.2h.9M243.9 51.5h.9M259.9 22.7h.9M271.1 41.8h.9M175.1 57.9h.9M241.5 51.4h.9M171.0 57.9h.9M187.1 51.7h.9M237.7 44.8h.9M262.2 29.7h.9M212.1 61.2h.9M223.1 53.2h.9M233.7 47.7h.9M219.5 53.3h.9M232.4 43.2h.9M260.4 44.1h.9M182.4 61.6h.9M196.0 55.1h.9M214.7 59.3h.9M210.8 60.2h.9M202.1 61.9h.9M243.9 48.0h.9M251.3 51.4h.9M214.2 65.4h.9M227.9 50.6h.9M172.1 60.8h.9M257.0 23.2h.9M238.2 50.1h.9M176.4 55.4h.9M267.1 29.8h.9M220.8 44.9h.9M224.5 56.5h.9M238.7 52.7h.9M210.1 52.2h.9M248.2 41.6h.9M181.1 50.3h.9M264.4 25.0h.9M251.9 53.7h.9M189.1 57.0h.9M192.4 60.5h.9M236.8 48.1h.9M169.3 54.9h.9M188.7 54.4h.9M260.8 19.0h.9M204.2 47.7h.9M252.5 47.7h.9M251.0 36.1h.9M257.2 30.9h.9M197.5 57.8h.9M219.2 48.2h.9M255.3 50.8h.9M245.9 44.5h.9M195.4 45.4h.9M268.4 32.2h.9M214.7 55.3h.9M251.6 42.6h.9M221.3 53.2h.9M230.3 44.5h.9M229.0 57.1h.9M197.0 62.4h.9M194.2 52.7h.9M239.1 45.4h.9M203.0 48.5h.9M237.0 63.6h.9M205.6 56.7h.9M208.7 59.7h.9M181.2 53.5h.9M213.8 59.8h.9M199.5 55.9h.9M203.2 53.5h.9M234.6 43.1h.9M224.5 52.2h.9M223.7 49.7h.9M254.4 31.3h.9M208.2 64.3h.9M188.4 52.8h.9M241.9 33.0h.9M194.9 54.8h.9M244.2 31.8h.9M198.6 50.8h.9M186.0 56.6h.9M226.6 58.7h.9M239.3 55.3h.9M192.0 59.0h.9M192.9 56.3h.9M196.4 47.6h.9M179.6 55.1h.9M255.1 53.3h.9M214.7 56.0h.9M181.7 64.3h.9M206.4 48.1h.9M264.2 37.4h.9M263.5 26.8h.9M192.2 53.5h.9M184.3 50.9h.9M205.2 52.8h.9M180.5 54.6h.9M212.3 52.5h.9M234.9 51.8h.9M212.2 51.3h.9M175.2 55.9h.9M205.7 61.3h.9M200.8 48.0h.9M183.9 58.2h.9M193.7 49.1h.9M239.0 50.7h.9M178.8 63.7h.9M185.6 61.7h.9M265.5 29.6h.9M220.3 49.2h.9M184.6 58.1h.9M182.7 58.8h.9M223.3 62.5h.9M270.1 21.2h.9M172.0 54.5h.9M199.7 48.8h.9M247.6 53.1h.9M256.5 23.2h.9M230.0 39.9h.9M191.7 54.8h.9M269.9 30.3h.9M208.9 51.9h.9M179.9 60.3h.9M234.8 32.7h.9M232.4 58.5h.9M266.1 20.6h.9M239.3 48.5h.9M238.3 52.6h.9M181.8 55.2h.9M255.1 27.5h.9M241.1 49.4h.9M253.9 36.9h.9M232.8 52.7h.9M209.5 62.6h.9M200.0 55.2h.9M191.5 54.3h.9M253.3 27.0h.9M241.7 52.3h.9M244.5 51.1h.9M200.6 51.9h.9M251.5 38.0h.9M259.1 23.1h.9M258.5 32.1h.9M199.7 57.3h.9M264.6 36.2h.9M270.6 27.1h.9M212.1 48.7h.9M260.3 27.1h.9M245.0 51.9h.9M221.2 60.0h.9M256.9 29.1h.9M207.5 64.6h.9M232.9 60.4h.9M260.4 33.3h.9M199.2 48.9h.9M192.8 60.3h.9M249.5 46.4h.9M212.9 47.7h.9M183.3 62.0h.9M195.4 70.1h.9M241.5 46.1h.9M182.0 53.3h.9M233.1 52.6h.9M198.8 52.8h.9M255.1 39.6h.9M201.8 58.3h.9M186.7 52.1h.9M177.3 50.7h.9M202.0 55.2h.9M186.4 59.3h.9M252.1 34.4h.9M190.6 55.8h.9M243.5 42.1h.9M197.3 56.2h.9M219.2 64.5h.9M188.9 63.4h.9M266.5 29.4h.9M251.5 35.7h.9M204.7 55.7h.9M185.4 54.3h.9M254.1 36.3h.9M269.2 23.1h.9M237.9 47.9h.9M262.2 29.5h.9M194.8 57.6h.9M254.9 34.4h.9M256.0 54.8h.9M184.2 54.1h.9M268.0 21.6h.9M213.7 55.4h.9M249.8 43.0h.9M242.3 36.6h.9M192.3 49.1h.9M208.9 61.3h.9M215.3 59.9h.9M194.6 54.7h.9M223.2 56.3h.9M226.6 56.8h.9M179.3 56.5h.9M259.8 43.0h.9M180.6 57.8h.9M182.4 63.8h.9M223.8 48.8h.9M192.6 58.3h.9M249.9 27.7h.9M202.5 57.4h.9M193.5 56.2h.9M180.7 60.7h.9M206.2 50.7h.9M199.0 57.0h.9M254.5 27.4h.9M235.6 52.6h.9M223.0 59.4h.9M265.6 27.0h.9M206.4 58.6h.9M182.5 57.7h.9M238.0 41.8h.9M174.5 58.1h.9M197.5 64.3h.9M269.8 36.5h.9M210.2 64.6h.9M265.6 29.5h.9M245.4 45.6h.9M210.9 57.3h.9M264.4 25.4h.9M257.1 34.2h.9M243.5 51.1h.9M214.7 53.5h.9M209.3 49.7h.9M216.0 63.1h.9M193.5 62.3h.9M236.2 58.1h.9M266.2 32.6h.9M189.5 48.8h.9M220.9 49.8h.9M244.5 35.2h.9M247.0 33.2h.9M234.9 56.5h.9M255.6 38.6h.9M179.4 62.0h.9M185.3 53.6h.9M169.1 47.4h.9M210.2 52.0h.9M261.3 30.0h.9M223.7 53.0h.9M254.8 41.1h.9M251.1 44.3h.9M223.3 55.7h.9M198.4 57.5h.9M245.7 42.8h.9M229.7 51.0h.9M184.7 56.6h.9M210.9 63.8h.9M178.0 59.3h.9M258.2 27.4h.9M211.9 53.4h.9M197.4 63.0h.9M205.9 50.6h.9M174.7 48.7h.9M262.5 44.8h.9M205.8 64.0h.9M201.3 43.3h.9M248.4 38.7h.9M197.6 56.0h.9M260.6 28.2h.9M253.2 48.2h.9M173.5 58.3h.9M260.4 30.5h.9M247.3 40.2h.9M186.0 48.0h.9M204.8 55.9h.9M202.4 71.0h.9M265.5 24.2h.9M204.8 60.3h.9M231.3 56.1h.9M216.6 53.9h.9M233.8 53.1h.9M227.9 58.5h.9M180.1 59.7h.9M244.4 36.0h.9M200.4 51.7h.9M191.1 63.1h.9M254.7 28.1h.9M200.2 55.6h.9M262.5 47.6h.9M202.2 60.4h.9M185.9 56.9h.9M255.3 33.3h.9M258.3 31.2h.9M235.3 51.8h.9M255.5 54.6h.9M189.4 43.9h.9M235.6 54.6h.9M270.9 20.9h.9M267.0 25.7h.9M243.9 57.2h.9M235.7 63.6h.9M270.0 38.6h.9M255.4 34.4h.9M223.3 60.5h.9M260.9 30.8h.9M218.5 49.6h.9M211.1 56.7h.9M201.2 54.0h.9M207.2 65.8h.9M227.6 48.3h.9M252.0 35.1h.9M215.7 63.3h.9M183.1 52.2h.9M261.1 22.7h.9M225.4 53.4h.9M250.0 38.3h.9M259.7 50.3h.9M222.6 55.5h.9M223.4 53.8h.9M246.3 35.8h.9M197.1 59.0h.9M189.3 53.4h.9M232.5 60.4h.9M207.3 51.9h.9M200.7 55.0h.9M251.0 44.4h.9M194.9 58.4h.9M185.5 58.0h.9M183.2 53.1h.9M183.3 58.8h.9M264.9 32.0h.9M219.8 45.9h.9M268.4 35.1h.9M223.2 58.3h.9M249.8 59.9h.9M188.3 56.1h.9M171.1 58.2h.9M233.1 44.9h.9M178.4 54.6h.9M226.9 53.7h.9M175.4 58.6h.9M270.8 20.6h.9M262.8 29.5h.9M234.3 47.9h.9M214.0 56.1h.9M226.0 60.8h.9M187.2 56.3h.9M234.5 53.3h.9M184.6 59.4h.9M193.4 48.8h.9M241.5 40.3h.9M197.0 55.4h.9M191.9 50.5h.9M192.1 57.3h.9M184.8 61.1h.9M252.8 24.4h.9M204.2 62.9h.9M188.0 62.0h.9" stroke="#6a6a6a" stroke-width=".9"/>
<path d="M247.4 51.5h.9M193.5 50.5h.9M180.6 53.0h.9M208.6 55.6h.9M248.0 56.0h.9M172.3 49.3h.9M248.1 43.5h.9M204.5 51.5h.9M234.8 56.7h.9M241.6 40.9h.9M177.6 51.4h.9M194.3 48.4h.9M191.1 54.9h.9M264.1 23.9h.9M203.2 53.8h.9M249.7 31.3h.9M168.9 63.9h.9M202.7 58.0h.9M207.8 47.5h.9M237.9 51.4h.9M235.4 46.2h.9M178.7 65.7h.9M176.3 55.9h.9M193.5 59.0h.9M179.7 53.7h.9M210.7 59.2h.9M246.2 41.4h.9M189.7 54.3h.9M185.5 49.9h.9M266.7 27.1h.9M221.4 50.4h.9M215.0 52.8h.9M195.3 48.6h.9M236.9 56.1h.9M204.4 64.6h.9M218.7 68.2h.9M228.3 53.4h.9M260.5 25.9h.9M188.7 55.1h.9M231.7 47.9h.9M237.2 57.0h.9M193.6 56.9h.9M239.2 47.4h.9M238.6 48.8h.9M199.0 58.9h.9M178.8 55.3h.9M188.2 57.9h.9M259.8 38.1h.9M203.2 49.1h.9M236.3 52.5h.9M259.4 22.5h.9M201.8 41.5h.9M241.1 46.5h.9M237.9 46.7h.9M205.3 65.5h.9M245.1 59.0h.9M251.9 25.5h.9M182.3 50.5h.9M209.1 54.8h.9M227.0 55.0h.9M188.9 67.8h.9M257.1 39.4h.9M205.7 58.2h.9M264.8 21.5h.9M256.0 40.0h.9M181.7 49.2h.9M171.3 51.3h.9M185.5 51.7h.9M193.5 53.1h.9M243.5 53.8h.9M233.7 40.9h.9M247.1 54.8h.9M198.9 52.3h.9M240.9 39.3h.9M207.4 55.2h.9M188.4 65.4h.9M228.6 54.9h.9M192.0 56.2h.9M269.6 22.6h.9M235.8 47.6h.9M246.4 56.7h.9M186.5 62.6h.9M198.1 56.6h.9M244.0 50.6h.9M182.8 57.9h.9M212.9 57.7h.9M239.4 35.2h.9M175.7 58.2h.9M247.7 39.4h.9M240.0 54.5h.9M237.2 59.3h.9M253.9 32.4h.9M187.0 54.0h.9M183.2 65.3h.9M210.6 62.8h.9M194.9 48.3h.9M248.5 48.6h.9M177.2 58.1h.9M233.2 51.5h.9M196.5 63.6h.9M207.9 48.6h.9M265.3 33.2h.9M191.5 61.0h.9M234.6 59.0h.9M185.7 51.8h.9M177.7 61.2h.9M189.7 58.5h.9M184.3 62.7h.9M188.8 52.8h.9M231.9 50.8h.9M195.4 51.8h.9M255.8 54.7h.9M178.9 59.0h.9M212.4 60.0h.9M220.0 57.6h.9M261.6 32.7h.9M250.3 37.0h.9M195.7 50.0h.9M197.5 50.0h.9M257.1 38.0h.9M202.4 46.8h.9M194.7 59.4h.9M192.7 53.7h.9M239.2 51.7h.9M211.1 55.4h.9M246.5 33.7h.9M191.3 55.9h.9M181.2 56.0h.9M221.1 66.0h.9M182.9 53.0h.9M257.6 18.5h.9M179.6 53.4h.9M213.1 60.4h.9M233.8 53.6h.9M195.8 50.1h.9M237.9 51.6h.9M199.1 54.2h.9M242.1 50.5h.9M199.7 59.7h.9M256.4 49.3h.9M201.4 56.7h.9M230.2 57.7h.9M260.9 27.5h.9M249.1 43.0h.9M257.8 32.9h.9M188.2 56.9h.9M255.1 27.3h.9M234.0 52.3h.9M172.6 68.4h.9M255.1 40.3h.9M269.5 38.8h.9M246.5 49.1h.9M195.3 58.0h.9M226.8 58.8h.9M260.2 23.9h.9M250.5 42.2h.9M237.4 46.6h.9M262.1 33.0h.9M262.4 23.8h.9M242.4 55.0h.9M265.9 23.9h.9M206.2 57.2h.9M254.7 41.8h.9M213.2 51.7h.9M239.9 57.7h.9M255.7 25.1h.9M265.4 40.5h.9M216.8 56.7h.9M191.7 50.6h.9M233.0 56.4h.9M191.0 51.2h.9M232.7 43.7h.9M256.9 33.9h.9M219.5 47.8h.9M220.8 53.4h.9M257.3 34.1h.9M175.7 61.6h.9M200.3 58.8h.9M196.3 57.0h.9M249.6 63.9h.9M214.6 52.2h.9M237.8 60.5h.9M214.3 64.9h.9M206.9 52.8h.9M194.6 55.0h.9M199.8 62.4h.9M262.8 33.3h.9M262.6 40.0h.9M222.5 50.7h.9M186.1 57.0h.9M257.2 49.6h.9M231.6 38.0h.9M205.5 58.6h.9M224.5 36.1h.9M228.7 35.6h.9M210.4 59.9h.9M206.8 59.9h.9M239.9 59.0h.9M264.2 32.3h.9M253.7 46.1h.9M229.3 56.6h.9M256.3 66.2h.9M237.5 47.2h.9M249.1 35.2h.9M211.1 50.1h.9M188.0 58.9h.9M207.1 58.7h.9M191.2 52.0h.9M245.6 56.5h.9M179.9 57.9h.9M191.2 56.6h.9M182.5 56.5h.9M183.5 56.1h.9M196.9 63.7h.9M214.6 40.1h.9M175.4 59.4h.9M246.5 53.1h.9M208.6 56.6h.9M208.9 52.3h.9M259.3 41.7h.9M237.6 59.6h.9M178.3 55.6h.9M269.4 21.3h.9M188.5 49.6h.9M232.5 54.2h.9M203.2 55.5h.9M207.8 56.4h.9M269.9 28.8h.9M233.0 34.9h.9M205.7 60.1h.9M234.6 49.0h.9M221.0 58.7h.9M193.1 56.0h.9M214.8 49.3h.9M249.4 55.6h.9M241.9 37.6h.9M220.6 51.3h.9M226.3 55.7h.9M175.4 54.9h.9M251.4 42.7h.9M187.7 60.5h.9M181.8 55.9h.9M266.9 18.9h.9M195.3 56.3h.9M206.0 61.2h.9M225.1 58.8h.9M246.7 42.7h.9M181.9 59.2h.9M269.2 32.8h.9M257.4 29.4h.9M259.2 36.0h.9M238.9 54.8h.9M192.7 55.6h.9M220.0 52.0h.9M185.2 58.0h.9M235.3 51.7h.9M176.1 60.7h.9M248.8 44.9h.9M202.1 49.8h.9M181.9 53.2h.9M201.6 56.4h.9M205.1 58.3h.9M258.1 37.2h.9M246.8 40.9h.9M200.5 57.8h.9M195.1 56.0h.9M261.8 41.6h.9M212.9 45.8h.9M220.9 53.8h.9M193.2 59.6h.9M199.9 46.9h.9M183.3 60.6h.9M179.1 58.5h.9M210.0 58.8h.9M200.3 57.2h.9M252.0 47.8h.9M229.7 55.9h.9M198.3 55.2h.9M192.5 47.6h.9M176.1 62.0h.9M199.5 54.3h.9M200.0 57.2h.9M176.8 52.6h.9M183.7 39.8h.9M184.5 54.4h.9M204.3 22.0h.9M246.9 62.8h.9M226.2 54.6h.9M207.1 58.9h.9M251.7 54.3h.9M239.2 54.2h.9M212.2 50.3h.9M179.7 66.2h.9M207.4 56.1h.9M252.4 51.0h.9M238.0 54.3h.9M169.2 58.4h.9M223.2 57.7h.9M184.1 50.1h.9M190.2 51.2h.9M195.5 51.9h.9M262.4 27.4h.9M178.7 61.4h.9M268.0 25.9h.9M201.8 58.3h.9M263.2 35.1h.9M250.8 49.6h.9M209.8 58.4h.9M233.1 42.2h.9M184.3 52.0h.9M191.1 62.9h.9M212.1 53.4h.9M178.4 54.5h.9M176.5 63.5h.9M248.2 42.2h.9M186.5 52.4h.9M269.9 27.0h.9M208.0 57.8h.9M180.9 55.6h.9M180.1 56.9h.9M190.5 56.9h.9M250.0 37.2h.9M269.3 21.8h.9M271.2 23.7h.9M269.8 31.3h.9M271.0 37.2h.9M244.6 41.1h.9M255.2 29.6h.9M258.8 38.5h.9M201.0 55.3h.9M195.1 50.3h.9M270.4 26.1h.9M172.9 59.2h.9M257.3 28.9h.9M268.9 23.6h.9M259.8 34.7h.9M249.8 42.1h.9M193.1 58.5h.9M266.3 37.3h.9M258.6 34.9h.9M193.5 62.7h.9M245.5 34.7h.9M200.0 53.2h.9M234.5 45.3h.9M182.5 55.5h.9M203.7 50.6h.9M181.9 54.9h.9M189.3 53.6h.9M229.2 56.9h.9M240.6 43.5h.9M241.8 27.5h.9M245.5 41.0h.9M222.9 61.5h.9M188.8 54.1h.9M177.2 61.0h.9M234.3 54.8h.9M191.5 44.0h.9M236.5 52.9h.9M206.6 54.2h.9M215.2 56.7h.9M219.6 65.6h.9M213.6 56.6h.9M194.7 56.6h.9M213.0 60.2h.9M206.7 59.1h.9M188.6 57.3h.9M205.7 60.1h.9M247.0 42.6h.9M229.5 66.6h.9M236.0 53.1h.9M235.9 50.4h.9M203.6 59.8h.9M244.2 48.4h.9M189.0 51.1h.9M199.1 52.7h.9M197.5 54.9h.9M225.1 40.6h.9M240.9 48.1h.9M215.9 46.3h.9M239.5 53.5h.9M236.9 60.3h.9M232.1 51.8h.9M247.9 44.6h.9M242.6 44.3h.9M223.5 46.4h.9M264.0 30.9h.9M241.9 37.0h.9M241.0 44.0h.9M185.0 57.2h.9M226.9 47.2h.9M190.8 55.9h.9M231.6 57.3h.9M230.8 43.9h.9M172.6 56.5h.9M212.9 56.5h.9M270.9 39.9h.9M270.7 29.0h.9M268.5 33.3h.9M186.7 59.5h.9M239.9 61.0h.9M183.5 61.9h.9M235.3 52.2h.9M198.8 55.6h.9M186.7 58.6h.9M246.9 46.0h.9M196.2 53.6h.9M221.5 48.4h.9M191.7 68.8h.9M199.4 45.0h.9M270.8 23.0h.9M227.1 55.1h.9M185.3 54.2h.9M257.3 41.1h.9M264.0 27.0h.9M234.1 42.5h.9M183.1 54.8h.9M241.2 46.0h.9M169.4 64.5h.9M191.8 59.5h.9M203.8 57.6h.9M189.0 63.0h.9M214.5 54.9h.9M193.6 60.8h.9M253.8 41.8h.9M219.8 46.5h.9M201.8 57.7h.9M187.1 50.2h.9M207.8 55.7h.9M195.3 55.5h.9M234.4 40.5h.9M202.4 51.6h.9M199.7 55.6h.9M193.9 55.0h.9M209.4 56.7h.9M180.4 54.9h.9M206.9 45.3h.9M200.4 48.4h.9M190.9 66.6h.9M246.2 31.5h.9M219.4 51.6h.9M262.0 33.1h.9M246.8 36.6h.9M258.4 50.7h.9M201.2 52.9h.9M245.2 52.3h.9M252.4 43.6h.9M252.9 25.5h.9M183.3 57.1h.9M190.9 41.5h.9M222.5 53.7h.9M257.2 33.3h.9M271.4 27.8h.9M190.6 59.2h.9M200.5 58.4h.9M238.5 47.6h.9M205.8 57.7h.9M244.4 44.4h.9M196.3 51.7h.9M210.3 50.7h.9M249.7 21.1h.9M170.9 58.7h.9M187.0 67.1h.9M237.7 51.5h.9M237.1 43.8h.9M193.2 49.7h.9M204.3 51.5h.9M179.5 63.0h.9M249.4 55.0h.9M245.1 39.5h.9M251.4 42.6h.9M264.4 27.0h.9M181.8 56.6h.9M244.8 35.8h.9M181.3 54.3h.9M226.1 46.3h.9M229.1 44.3h.9M259.5 51.9h.9M258.1 32.2h.9M183.4 62.0h.9M259.6 31.7h.9M182.4 62.5h.9M193.7 62.6h.9M236.9 50.1h.9M190.1 54.9h.9M235.9 54.8h.9M246.2 30.7h.9M236.6 43.8h.9M186.9 63.4h.9M198.8 53.1h.9M267.1 37.2h.9M188.9 48.0h.9M186.0 59.0h.9M257.5 29.5h.9M232.2 43.8h.9M253.5 38.4h.9M227.2 62.2h.9M171.7 54.0h.9M183.6 49.3h.9M234.2 45.9h.9M258.0 40.9h.9M188.9 53.7h.9M245.3 53.2h.9M177.5 60.9h.9M190.7 64.1h.9M252.1 52.2h.9M203.8 63.5h.9M183.6 65.3h.9M237.0 48.0h.9M172.8 51.5h.9M194.9 55.3h.9M201.6 55.7h.9M243.1 36.9h.9M186.4 59.8h.9M233.5 58.4h.9M186.6 59.1h.9M181.6 62.9h.9M193.8 58.6h.9M245.1 45.5h.9M205.7 61.9h.9M174.1 60.7h.9M184.6 53.7h.9M240.0 47.5h.9M201.9 56.6h.9M177.9 48.8h.9M215.2 57.5h.9M252.6 26.3h.9M250.9 50.4h.9M176.3 52.9h.9M197.6 53.1h.9M183.4 55.0h.9M236.9 50.0h.9M203.6 54.2h.9M234.1 48.1h.9M235.4 50.6h.9M228.1 60.3h.9M173.9 57.8h.9M178.1 50.8h.9M183.3 61.0h.9M216.1 56.9h.9M190.4 60.0h.9M174.5 61.1h.9M261.2 21.6h.9M187.3 62.4h.9M264.5 32.2h.9M185.1 58.9h.9M196.9 58.5h.9M268.9 21.7h.9M228.3 53.9h.9M248.7 43.1h.9M195.5 53.6h.9M208.3 57.7h.9M224.9 55.0h.9M246.9 40.1h.9M220.5 49.9h.9M270.3 19.3h.9M247.4 51.5h.9M271.0 30.4h.9M237.9 58.1h.9M202.7 59.8h.9M246.5 41.9h.9M227.2 52.9h.9M200.3 54.2h.9M252.7 36.0h.9M244.5 42.1h.9M237.4 49.2h.9M242.6 38.3h.9M251.9 62.7h.9M267.8 27.9h.9M174.4 60.5h.9M185.6 57.3h.9M237.5 51.6h.9M226.3 53.6h.9M183.0 55.4h.9M207.1 51.9h.9M237.8 54.9h.9M196.9 60.5h.9M178.4 54.3h.9M203.3 57.8h.9M238.0 54.0h.9M268.9 32.8h.9M243.8 40.4h.9M241.2 54.1h.9M254.7 22.0h.9M217.7 60.4h.9M185.5 47.4h.9M251.0 34.4h.9M184.8 48.3h.9M200.3 54.1h.9M247.3 52.2h.9M187.3 67.7h.9M254.4 39.3h.9M233.1 46.9h.9M253.1 37.0h.9M211.7 50.6h.9M204.7 51.8h.9M262.3 28.6h.9M194.1 51.5h.9M269.9 42.2h.9M185.9 51.9h.9M247.9 36.1h.9M261.9 33.3h.9M248.3 40.7h.9M259.0 58.5h.9M239.1 56.2h.9M263.7 28.2h.9M197.3 49.0h.9M203.6 58.1h.9M265.8 20.7h.9M253.5 23.8h.9M249.4 45.6h.9M194.5 59.9h.9M184.3 54.0h.9M207.1 53.1h.9M257.4 23.7h.9M228.9 52.8h.9M242.3 49.0h.9M239.0 51.0h.9M231.1 56.1h.9M211.9 51.7h.9M213.1 56.2h.9M185.3 57.8h.9M195.2 46.0h.9M228.8 59.9h.9M221.1 53.1h.9M170.7 58.6h.9M171.8 44.6h.9M179.6 66.3h.9M270.3 20.6h.9M242.6 43.3h.9M182.7 63.2h.9M195.9 54.8h.9M216.0 54.0h.9M211.5 56.5h.9M184.3 54.0h.9M181.5 66.7h.9M245.8 64.2h.9M205.3 54.9h.9M206.5 56.2h.9M224.0 59.2h.9M265.1 22.8h.9M175.1 56.8h.9M200.1 52.5h.9M188.7 53.2h.9M271.0 26.7h.9M235.7 60.5h.9M261.3 48.6h.9M203.5 50.3h.9M194.2 61.4h.9M241.2 56.8h.9M208.8 54.6h.9M262.1 33.5h.9M177.0 56.2h.9M200.5 45.4h.9M237.7 42.9h.9M253.2 45.8h.9M190.7 59.2h.9M214.0 75.0h.9M262.3 41.0h.9M238.3 53.0h.9M238.1 34.0h.9M179.8 46.3h.9M265.1 26.0h.9M268.9 31.2h.9M239.6 34.1h.9M190.2 55.9h.9M184.1 53.9h.9M240.7 48.3h.9M194.4 56.2h.9M173.1 53.0h.9M211.1 58.9h.9M204.0 54.5h.9M182.3 54.7h.9M225.6 56.0h.9M231.5 46.7h.9M256.1 44.0h.9M238.3 41.8h.9M249.5 38.3h.9M239.1 56.7h.9M237.5 57.2h.9M237.5 53.9h.9M173.8 62.6h.9M208.2 52.7h.9M202.4 41.8h.9M182.2 53.9h.9M187.4 55.1h.9M185.3 54.2h.9M203.5 59.3h.9M178.1 53.8h.9M205.5 50.0h.9M176.9 51.5h.9M181.2 65.2h.9M226.2 47.3h.9M238.5 47.2h.9M249.8 39.6h.9M212.8 56.7h.9M255.0 29.4h.9M239.7 39.1h.9M202.1 51.9h.9M233.6 44.7h.9M211.8 64.3h.9M203.5 57.4h.9M185.1 51.3h.9M204.8 63.6h.9M225.8 56.0h.9M233.5 63.5h.9M197.7 60.9h.9M268.3 31.8h.9M205.1 59.0h.9M192.3 52.6h.9M215.1 49.2h.9M200.1 54.5h.9M245.5 44.9h.9M237.3 35.1h.9M211.3 57.2h.9M230.9 46.9h.9M186.5 60.3h.9M201.0 60.8h.9M223.9 59.8h.9M215.8 57.3h.9M265.0 22.0h.9M245.0 45.8h.9M219.8 54.4h.9M177.3 62.8h.9M196.8 62.6h.9M225.4 51.3h.9M243.1 32.0h.9M189.0 57.0h.9M229.0 59.4h.9M185.9 49.5h.9M268.5 23.8h.9M239.8 37.5h.9M238.1 50.9h.9M254.6 44.6h.9M185.8 65.6h.9M271.4 31.5h.9M265.0 20.8h.9M200.7 54.6h.9M203.1 51.2h.9M202.4 58.8h.9M266.7 38.9h.9M248.5 62.1h.9M248.3 39.2h.9M238.9 50.7h.9M181.1 56.6h.9M258.9 27.3h.9M188.0 55.9h.9M218.6 57.2h.9M238.9 53.9h.9M203.9 62.1h.9M243.3 53.5h.9M207.7 50.8h.9M245.8 60.1h.9M204.9 51.8h.9M270.7 27.4h.9M250.7 54.5h.9M203.2 57.5h.9M253.0 39.0h.9M170.0 58.3h.9M183.2 57.4h.9M195.6 54.5h.9M258.4 36.9h.9M226.9 57.5h.9M187.5 53.0h.9M186.0 60.7h.9M194.8 60.4h.9M249.8 42.8h.9M203.8 62.1h.9M250.9 46.4h.9M217.2 49.5h.9M243.4 31.6h.9M200.8 55.6h.9M192.4 47.5h.9M213.8 51.8h.9M250.2 32.8h.9M258.3 29.9h.9M224.2 63.5h.9M236.5 48.8h.9M194.3 46.3h.9M232.5 58.9h.9M212.8 55.0h.9M189.4 55.6h.9M240.1 56.6h.9M191.1 60.9h.9M238.0 58.9h.9M257.0 40.8h.9M260.4 31.3h.9M181.2 54.4h.9M261.0 26.9h.9M256.2 44.2h.9M215.1 59.6h.9M222.2 45.1h.9M268.6 52.3h.9M200.9 56.5h.9M232.1 39.8h.9M202.2 48.8h.9M191.1 57.1h.9M181.1 53.7h.9M194.0 47.8h.9M229.0 39.7h.9M257.3 37.2h.9M254.1 42.0h.9M186.3 64.5h.9M240.0 38.8h.9M182.1 51.8h.9M233.6 56.9h.9M242.6 60.4h.9M203.8 60.6h.9M179.2 51.8h.9M223.4 59.1h.9M223.1 59.7h.9M245.0 46.3h.9M237.2 48.7h.9M202.7 56.8h.9M191.8 54.7h.9M173.1 53.9h.9M177.8 51.9h.9M219.9 52.2h.9M262.9 36.1h.9M245.0 56.8h.9M267.4 37.0h.9M170.0 55.6h.9M208.0 56.9h.9M205.6 50.9h.9M193.5 56.2h.9M195.6 50.5h.9M255.6 38.4h.9M186.5 62.6h.9M264.2 28.7h.9M254.3 40.1h.9M225.0 55.7h.9M176.5 63.6h.9M195.2 61.9h.9M259.1 35.7h.9M191.3 44.9h.9M264.2 40.9h.9M231.1 57.5h.9M185.1 58.1h.9M187.2 57.0h.9M239.2 42.1h.9M189.7 54.1h.9M246.2 43.0h.9M222.6 52.0h.9M221.2 57.0h.9M239.0 31.6h.9M259.5 26.7h.9M236.7 52.5h.9M241.0 52.7h.9M188.6 53.2h.9M252.8 21.5h.9M229.5 58.5h.9M182.9 61.7h.9M181.3 61.4h.9M188.8 52.5h.9M178.5 59.0h.9M194.4 54.9h.9M215.6 54.5h.9M239.0 56.2h.9M195.0 47.1h.9M179.1 61.7h.9M198.0 51.8h.9M205.6 52.1h.9M213.5 61.3h.9M237.4 62.7h.9M181.9 54.3h.9M258.0 33.1h.9M182.4 45.9h.9M251.9 42.7h.9M206.1 58.3h.9M226.8 53.4h.9M229.6 47.6h.9M263.1 32.5h.9M262.2 47.9h.9M264.8 23.8h.9M196.9 57.4h.9M231.3 63.3h.9M187.4 55.5h.9M202.8 58.8h.9M176.2 57.5h.9M187.4 59.9h.9M185.5 56.5h.9M261.2 20.2h.9M252.9 44.9h.9M239.7 31.1h.9M201.1 53.0h.9M252.4 43.1h.9M183.2 53.2h.9M252.2 32.6h.9M195.2 60.5h.9M235.2 52.6h.9M190.1 54.0h.9M179.7 51.8h.9M195.9 61.8h.9M227.8 54.9h.9M249.7 33.5h.9M201.9 59.9h.9M188.7 57.7h.9M241.7 56.8h.9M224.1 49.0h.9M212.5 61.1h.9M263.2 24.4h.9M230.5 52.0h.9M189.5 52.5h.9M177.3 62.0h.9M203.4 61.8h.9M235.1 39.0h.9M269.1 21.8h.9M199.4 58.1h.9" stroke="#333" stroke-width=".9"/>
<path d="M209.0 70.0 L209.0 39.0 L228.5 32.0 L251.7 17.5 L272.8 17.5 L272.8 50.0 L242.2 70.0 Z" fill="none" stroke="#777" stroke-width="0.9"/>
<rect x="168.00" y="17.00" width="105.00" height="99.00" fill="none" stroke="#000" stroke-width="1.1"/>
<line x1="168.00" y1="17.00" x2="168.00" y2="116.50" stroke="#000" stroke-width="1.6"/>
<line x1="167.50" y1="116.00" x2="273.00" y2="116.00" stroke="#000" stroke-width="1.6"/>
<line x1="170.00" y1="116.00" x2="170.00" y2="117.60" stroke="#000" stroke-width="0.8"/>
<line x1="172.60" y1="116.00" x2="172.60" y2="117.60" stroke="#000" stroke-width="0.8"/>
<line x1="175.20" y1="116.00" x2="175.20" y2="118.20" stroke="#000" stroke-width="0.8"/>
<line x1="177.80" y1="116.00" x2="177.80" y2="117.60" stroke="#000" stroke-width="0.8"/>
<line x1="180.40" y1="116.00" x2="180.40" y2="117.60" stroke="#000" stroke-width="0.8"/>
<line x1="183.00" y1="116.00" x2="183.00" y2="117.60" stroke="#000" stroke-width="0.8"/>
<line x1="185.60" y1="116.00" x2="185.60" y2="117.60" stroke="#000" stroke-width="0.8"/>
<line x1="188.20" y1="116.00" x2="188.20" y2="117.60" stroke="#000" stroke-width="0.8"/>
<line x1="190.80" y1="116.00" x2="190.80" y2="117.60" stroke="#000" stroke-width="0.8"/>
<line x1="193.40" y1="116.00" x2="193.40" y2="118.20" stroke="#000" stroke-width="0.8"/>
<line x1="196.00" y1="116.00" x2="196.00" y2="118.20" stroke="#000" stroke-width="0.8"/>
<line x1="198.60" y1="116.00" x2="198.60" y2="118.20" stroke="#000" stroke-width="0.8"/>
<line x1="201.20" y1="116.00" x2="201.20" y2="117.60" stroke="#000" stroke-width="0.8"/>
<line x1="203.80" y1="116.00" x2="203.80" y2="117.60" stroke="#000" stroke-width="0.8"/>
<line x1="206.40" y1="116.00" x2="206.40" y2="118.20" stroke="#000" stroke-width="0.8"/>
<line x1="209.00" y1="116.00" x2="209.00" y2="118.20" stroke="#000" stroke-width="0.8"/>
<line x1="211.60" y1="116.00" x2="211.60" y2="118.20" stroke="#000" stroke-width="0.8"/>
<line x1="214.20" y1="116.00" x2="214.20" y2="117.60" stroke="#000" stroke-width="0.8"/>
<line x1="216.80" y1="116.00" x2="216.80" y2="117.60" stroke="#000" stroke-width="0.8"/>
<line x1="219.40" y1="116.00" x2="219.40" y2="117.60" stroke="#000" stroke-width="0.8"/>
<line x1="222.00" y1="116.00" x2="222.00" y2="117.60" stroke="#000" stroke-width="0.8"/>
<line x1="224.60" y1="116.00" x2="224.60" y2="118.20" stroke="#000" stroke-width="0.8"/>
<line x1="227.20" y1="116.00" x2="227.20" y2="118.20" stroke="#000" stroke-width="0.8"/>
<line x1="229.80" y1="116.00" x2="229.80" y2="117.60" stroke="#000" stroke-width="0.8"/>
<line x1="232.40" y1="116.00" x2="232.40" y2="118.20" stroke="#000" stroke-width="0.8"/>
<line x1="235.00" y1="116.00" x2="235.00" y2="117.60" stroke="#000" stroke-width="0.8"/>
<line x1="237.60" y1="116.00" x2="237.60" y2="117.60" stroke="#000" stroke-width="0.8"/>
<line x1="240.20" y1="116.00" x2="240.20" y2="117.60" stroke="#000" stroke-width="0.8"/>
<line x1="242.80" y1="116.00" x2="242.80" y2="118.20" stroke="#000" stroke-width="0.8"/>
<line x1="245.40" y1="116.00" x2="245.40" y2="117.60" stroke="#000" stroke-width="0.8"/>
<line x1="248.00" y1="116.00" x2="248.00" y2="117.60" stroke="#000" stroke-width="0.8"/>
<line x1="250.60" y1="116.00" x2="250.60" y2="117.60" stroke="#000" stroke-width="0.8"/>
<line x1="253.20" y1="116.00" x2="253.20" y2="118.20" stroke="#000" stroke-width="0.8"/>
<line x1="255.80" y1="116.00" x2="255.80" y2="117.60" stroke="#000" stroke-width="0.8"/>
<line x1="258.40" y1="116.00" x2="258.40" y2="117.60" stroke="#000" stroke-width="0.8"/>
<line x1="261.00" y1="116.00" x2="261.00" y2="117.60" stroke="#000" stroke-width="0.8"/>
<line x1="263.60" y1="116.00" x2="263.60" y2="117.60" stroke="#000" stroke-width="0.8"/>
<line x1="266.20" y1="116.00" x2="266.20" y2="118.20" stroke="#000" stroke-width="0.8"/>
<line x1="268.80" y1="116.00" x2="268.80" y2="118.20" stroke="#000" stroke-width="0.8"/>
<line x1="271.40" y1="116.00" x2="271.40" y2="117.60" stroke="#000" stroke-width="0.8"/>
<line x1="166.40" y1="20.00" x2="168.00" y2="20.00" stroke="#000" stroke-width="0.7"/>
<line x1="166.40" y1="23.20" x2="168.00" y2="23.20" stroke="#000" stroke-width="0.7"/>
<line x1="166.40" y1="26.40" x2="168.00" y2="26.40" stroke="#000" stroke-width="0.7"/>
<line x1="166.40" y1="29.60" x2="168.00" y2="29.60" stroke="#000" stroke-width="0.7"/>
<line x1="166.40" y1="32.80" x2="168.00" y2="32.80" stroke="#000" stroke-width="0.7"/>
<line x1="166.40" y1="36.00" x2="168.00" y2="36.00" stroke="#000" stroke-width="0.7"/>
<line x1="166.40" y1="39.20" x2="168.00" y2="39.20" stroke="#000" stroke-width="0.7"/>
<line x1="166.40" y1="42.40" x2="168.00" y2="42.40" stroke="#000" stroke-width="0.7"/>
<line x1="166.40" y1="45.60" x2="168.00" y2="45.60" stroke="#000" stroke-width="0.7"/>
<line x1="166.40" y1="48.80" x2="168.00" y2="48.80" stroke="#000" stroke-width="0.7"/>
<line x1="166.40" y1="52.00" x2="168.00" y2="52.00" stroke="#000" stroke-width="0.7"/>
<line x1="166.40" y1="55.20" x2="168.00" y2="55.20" stroke="#000" stroke-width="0.7"/>
<line x1="166.40" y1="58.40" x2="168.00" y2="58.40" stroke="#000" stroke-width="0.7"/>
<line x1="166.40" y1="61.60" x2="168.00" y2="61.60" stroke="#000" stroke-width="0.7"/>
<line x1="166.40" y1="64.80" x2="168.00" y2="64.80" stroke="#000" stroke-width="0.7"/>
<line x1="166.40" y1="68.00" x2="168.00" y2="68.00" stroke="#000" stroke-width="0.7"/>
<line x1="166.40" y1="71.20" x2="168.00" y2="71.20" stroke="#000" stroke-width="0.7"/>
<line x1="166.40" y1="74.40" x2="168.00" y2="74.40" stroke="#000" stroke-width="0.7"/>
<line x1="166.40" y1="77.60" x2="168.00" y2="77.60" stroke="#000" stroke-width="0.7"/>
<line x1="166.40" y1="80.80" x2="168.00" y2="80.80" stroke="#000" stroke-width="0.7"/>
<line x1="166.40" y1="84.00" x2="168.00" y2="84.00" stroke="#000" stroke-width="0.7"/>
<line x1="166.40" y1="87.20" x2="168.00" y2="87.20" stroke="#000" stroke-width="0.7"/>
<line x1="166.40" y1="90.40" x2="168.00" y2="90.40" stroke="#000" stroke-width="0.7"/>
<line x1="166.40" y1="93.60" x2="168.00" y2="93.60" stroke="#000" stroke-width="0.7"/>
<line x1="166.40" y1="96.80" x2="168.00" y2="96.80" stroke="#000" stroke-width="0.7"/>
<line x1="166.40" y1="100.00" x2="168.00" y2="100.00" stroke="#000" stroke-width="0.7"/>
<line x1="166.40" y1="103.20" x2="168.00" y2="103.20" stroke="#000" stroke-width="0.7"/>
<line x1="166.40" y1="106.40" x2="168.00" y2="106.40" stroke="#000" stroke-width="0.7"/>
<line x1="166.40" y1="109.60" x2="168.00" y2="109.60" stroke="#000" stroke-width="0.7"/>
<line x1="166.40" y1="112.80" x2="168.00" y2="112.80" stroke="#000" stroke-width="0.7"/>
<line x1="165.40" y1="27.60" x2="168.00" y2="27.60" stroke="#000" stroke-width="0.9"/>
<text x="157.38" y="29.80" font-size="6.80" textLength="6.26" lengthAdjust="spacingAndGlyphs" fill="#000" font-weight="bold">10</text>
<text x="162.68" y="26.94" font-size="4.22" fill="#000">5</text>
<line x1="165.40" y1="49.60" x2="168.00" y2="49.60" stroke="#000" stroke-width="0.9"/>
<text x="157.38" y="51.80" font-size="6.80" textLength="6.26" lengthAdjust="spacingAndGlyphs" fill="#000" font-weight="bold">10</text>
<text x="162.68" y="48.94" font-size="4.22" fill="#000">4</text>
<line x1="165.40" y1="72.00" x2="168.00" y2="72.00" stroke="#000" stroke-width="0.9"/>
<text x="157.38" y="74.20" font-size="6.80" textLength="6.26" lengthAdjust="spacingAndGlyphs" fill="#000" font-weight="bold">10</text>
<text x="162.68" y="71.34" font-size="4.22" fill="#000">3</text>
<line x1="165.40" y1="96.60" x2="168.00" y2="96.60" stroke="#000" stroke-width="0.9"/>
<text x="157.38" y="98.80" font-size="6.80" textLength="6.26" lengthAdjust="spacingAndGlyphs" fill="#000" font-weight="bold">10</text>
<text x="162.68" y="95.94" font-size="4.22" fill="#000">2</text>
<line x1="165.40" y1="107.20" x2="168.00" y2="107.20" stroke="#000" stroke-width="0.9"/>
<text x="165.50" y="109.60" font-size="7.00" text-anchor="end">0</text>
<text x="180.20" y="128.40" font-size="7.00" text-anchor="middle">0</text>
<text x="186.09" y="128.40" font-size="6.80" textLength="6.26" lengthAdjust="spacingAndGlyphs" fill="#000" font-weight="bold">10</text>
<text x="191.39" y="125.54" font-size="4.22" fill="#000">2</text>
<text x="211.29" y="128.40" font-size="6.80" textLength="6.26" lengthAdjust="spacingAndGlyphs" fill="#000" font-weight="bold">10</text>
<text x="216.59" y="125.54" font-size="4.22" fill="#000">3</text>
<text x="236.29" y="128.40" font-size="6.80" textLength="6.26" lengthAdjust="spacingAndGlyphs" fill="#000" font-weight="bold">10</text>
<text x="241.59" y="125.54" font-size="4.22" fill="#000">4</text>
<text x="259.59" y="128.40" font-size="6.80" textLength="6.26" lengthAdjust="spacingAndGlyphs" fill="#000" font-weight="bold">10</text>
<text x="264.89" y="125.54" font-size="4.22" fill="#000">5</text>
<text x="220.80" y="134.40" font-size="7.20" font-weight="bold" text-anchor="middle" textLength="17.50" lengthAdjust="spacingAndGlyphs">CD41</text>
<text x="155.40" y="64.50" font-size="7.00" text-anchor="middle" textLength="20.50" lengthAdjust="spacingAndGlyphs" transform="rotate(-90 155.40 64.50)" font-weight="500">SSC-A</text>
<text x="248.10" y="84.30" font-size="10.50" font-weight="bold" textLength="17.80" lengthAdjust="spacingAndGlyphs">49.3</text>
<path d="M380.4 49.0h.9M378.8 62.0h.9M394.0 43.1h.9M379.6 59.4h.9M377.7 49.4h.9M359.2 52.8h.9M384.6 62.0h.9M394.1 71.8h.9M391.3 63.1h.9M376.5 62.5h.9M379.4 55.8h.9M379.6 51.4h.9M388.8 43.6h.9M372.6 54.8h.9M374.8 65.1h.9M379.6 60.2h.9M405.0 45.0h.9M336.1 54.1h.9M375.2 54.1h.9M352.6 51.8h.9M402.2 48.4h.9M346.9 63.9h.9M375.4 67.2h.9M349.6 48.7h.9M374.1 54.2h.9M381.5 62.8h.9M400.9 55.6h.9M398.1 36.0h.9M354.7 67.4h.9M357.9 61.3h.9M398.8 30.6h.9M392.4 54.0h.9M372.6 58.2h.9M385.4 44.8h.9M392.8 44.2h.9M377.3 59.7h.9M369.5 36.6h.9M353.8 60.8h.9M372.1 51.8h.9M373.6 52.5h.9M388.6 51.8h.9M377.6 37.9h.9M326.3 55.7h.9M390.2 57.2h.9M361.1 69.0h.9M339.7 56.6h.9M393.3 51.8h.9M355.9 58.7h.9M377.7 46.1h.9M326.6 61.6h.9M382.8 42.0h.9M368.2 62.6h.9M375.9 58.4h.9M374.4 51.9h.9M369.0 55.9h.9M366.1 61.3h.9M338.7 59.5h.9M355.8 58.3h.9M381.2 59.2h.9M354.1 64.0h.9M395.6 49.1h.9M408.7 44.1h.9M369.2 51.6h.9M402.8 33.3h.9M374.8 57.6h.9M360.9 61.9h.9M370.3 49.9h.9M376.8 52.2h.9M375.6 46.6h.9M379.5 34.0h.9M376.3 60.1h.9M397.3 60.3h.9M378.4 62.8h.9M393.2 49.8h.9M399.4 50.7h.9M356.4 66.6h.9M401.5 46.3h.9M401.3 37.6h.9M388.9 59.0h.9M315.2 54.7h.9M372.9 61.1h.9M355.5 64.6h.9M394.1 48.6h.9M385.5 54.1h.9M404.4 36.9h.9M386.1 50.3h.9M377.2 60.7h.9M359.2 53.5h.9M380.1 49.6h.9M370.4 69.4h.9M399.4 44.5h.9M382.9 60.9h.9M332.6 54.4h.9M397.6 42.4h.9M358.4 54.6h.9M380.4 52.5h.9M348.0 53.2h.9M367.5 62.9h.9M367.0 48.7h.9M391.3 43.0h.9M357.9 49.5h.9M408.1 31.8h.9M387.8 29.4h.9M324.7 51.8h.9M320.2 68.7h.9M360.5 55.8h.9M361.8 53.7h.9M350.3 57.1h.9M337.1 59.2h.9M385.8 57.8h.9M395.5 38.2h.9M378.9 40.5h.9M376.1 56.8h.9M385.7 61.5h.9M372.8 47.4h.9M406.9 33.9h.9M364.5 50.9h.9M408.2 42.9h.9M359.6 56.6h.9M357.2 61.4h.9M357.8 59.1h.9M364.9 49.5h.9M354.8 63.7h.9M343.2 61.8h.9M352.8 60.8h.9M392.4 52.2h.9M398.2 40.0h.9M397.8 53.6h.9M371.5 55.3h.9M391.4 52.8h.9M373.2 55.7h.9M405.6 52.7h.9M386.1 45.9h.9M353.5 63.0h.9M390.5 50.7h.9M378.5 63.1h.9M338.1 61.0h.9M369.6 62.1h.9M375.3 47.0h.9M366.4 69.3h.9M362.8 58.0h.9M389.1 47.3h.9M384.5 60.9h.9M353.3 61.5h.9M386.8 59.9h.9M371.6 60.7h.9M353.4 49.6h.9M392.1 38.8h.9M404.3 36.4h.9M379.7 47.7h.9M383.0 62.0h.9M404.6 43.3h.9M384.0 57.7h.9M385.3 51.3h.9M384.3 37.8h.9M378.7 53.1h.9M338.1 57.7h.9M364.7 56.0h.9M328.3 60.0h.9M342.1 60.6h.9M371.2 63.3h.9M364.3 64.7h.9M353.4 61.5h.9M366.5 52.1h.9M367.1 60.4h.9M391.0 61.5h.9M387.2 62.7h.9M344.3 61.7h.9M371.7 52.3h.9M352.5 57.3h.9M318.8 52.0h.9M381.3 60.0h.9M379.2 62.4h.9M356.9 52.5h.9M387.2 56.0h.9M330.3 62.8h.9M376.0 61.7h.9M380.7 49.9h.9M380.7 50.0h.9M381.3 44.4h.9M379.6 66.2h.9M395.3 45.2h.9M408.4 45.7h.9M397.0 41.5h.9M389.0 42.3h.9M382.3 38.5h.9M372.1 47.0h.9M371.6 64.5h.9M395.7 42.9h.9M354.9 61.4h.9M358.6 64.3h.9M370.8 51.2h.9M381.1 62.9h.9M406.0 46.6h.9M394.0 41.7h.9M363.2 63.5h.9M360.5 49.1h.9M328.3 48.1h.9M365.7 43.6h.9M409.9 47.0h.9M398.6 46.2h.9M338.8 62.6h.9M359.7 63.2h.9M383.9 49.5h.9M370.6 54.3h.9M389.2 60.4h.9M325.4 50.6h.9M339.5 58.2h.9M395.8 43.6h.9M401.8 58.3h.9M398.1 55.7h.9M377.2 58.5h.9M378.5 57.8h.9M395.0 61.1h.9M337.5 54.4h.9M383.7 50.7h.9M370.7 51.1h.9M395.4 39.0h.9M367.7 58.4h.9M369.5 63.3h.9M376.2 58.6h.9M384.3 40.3h.9M376.5 51.4h.9M390.0 59.7h.9M400.8 34.2h.9M397.0 37.0h.9M374.4 61.5h.9M387.4 53.1h.9M364.7 55.3h.9M406.3 41.9h.9M383.0 42.3h.9M375.9 66.3h.9M384.3 61.8h.9M388.8 51.9h.9M333.6 54.1h.9M320.8 64.9h.9M391.3 34.5h.9M359.8 67.0h.9M370.7 63.5h.9M373.9 48.7h.9M382.4 58.7h.9M332.7 54.6h.9M383.0 48.7h.9M407.3 36.7h.9M361.3 58.5h.9M339.8 54.6h.9M394.9 41.3h.9M393.9 47.8h.9M365.5 53.6h.9M364.2 62.0h.9M390.7 47.3h.9M382.8 51.4h.9M341.6 54.4h.9M406.5 39.5h.9M379.7 58.3h.9M379.3 54.9h.9M402.1 36.2h.9M398.7 50.7h.9M404.3 41.2h.9M377.7 52.0h.9M363.2 61.9h.9M364.8 66.7h.9M379.0 42.4h.9M393.8 50.3h.9M334.6 61.0h.9M403.4 33.4h.9M408.0 36.0h.9M407.1 31.7h.9M395.9 47.7h.9M382.9 42.7h.9M365.4 54.0h.9M409.3 37.0h.9M385.2 49.7h.9M382.5 55.6h.9M358.3 52.3h.9M403.6 38.8h.9M364.9 67.1h.9M390.0 49.0h.9M402.9 40.4h.9M334.3 62.3h.9M349.6 53.3h.9M401.7 42.5h.9M337.9 45.4h.9M363.3 50.3h.9M375.1 55.4h.9M360.0 56.1h.9M347.6 62.9h.9M370.3 57.2h.9M338.0 57.1h.9M329.5 54.4h.9M379.5 62.4h.9M402.0 33.9h.9M411.0 39.8h.9M363.6 55.3h.9M332.7 65.4h.9M385.7 39.3h.9M372.9 52.1h.9M370.3 55.0h.9M379.8 51.7h.9M335.4 54.5h.9M368.8 53.7h.9M348.4 50.9h.9M377.0 52.4h.9M385.0 58.2h.9M377.0 56.2h.9M362.9 51.6h.9M363.0 65.6h.9M384.0 51.9h.9M404.0 47.7h.9M360.1 68.2h.9M376.1 40.2h.9M389.9 48.1h.9M334.7 56.3h.9M382.7 61.0h.9M371.8 56.2h.9M374.3 58.7h.9M378.2 50.2h.9M389.8 54.9h.9M382.3 52.9h.9M388.1 52.7h.9M354.6 58.4h.9M383.3 55.7h.9M399.5 49.8h.9M366.8 60.3h.9M364.7 59.1h.9M357.8 60.6h.9M393.8 33.5h.9M403.3 44.9h.9M393.2 56.8h.9M354.0 60.5h.9M374.8 48.7h.9M389.5 54.5h.9M389.8 48.6h.9M367.8 61.0h.9M410.9 43.3h.9M410.8 44.0h.9M373.3 46.3h.9M358.7 69.9h.9M375.2 58.6h.9M393.1 61.5h.9M369.7 42.7h.9M385.5 43.2h.9M390.6 35.4h.9M375.8 53.9h.9M383.3 33.9h.9M372.1 54.9h.9M383.8 60.3h.9M378.8 55.3h.9M402.6 50.3h.9M381.1 48.4h.9M363.2 55.3h.9M376.6 48.0h.9M376.3 72.0h.9M375.3 53.3h.9M370.2 63.3h.9M360.1 64.4h.9M363.5 59.6h.9M387.5 40.5h.9M356.2 56.6h.9M374.1 63.0h.9M370.8 60.0h.9M356.5 55.4h.9M381.8 33.9h.9M357.6 62.5h.9M326.5 60.3h.9M372.6 50.8h.9M402.0 49.9h.9M380.4 52.0h.9M407.3 34.0h.9M394.4 59.3h.9M394.8 40.2h.9M364.9 65.1h.9M374.6 55.7h.9M393.8 45.7h.9M401.8 48.0h.9M402.5 47.1h.9M358.1 72.6h.9M367.3 65.2h.9M335.8 50.4h.9M379.0 52.7h.9M403.3 52.0h.9M358.3 64.4h.9M338.2 61.4h.9M391.7 42.9h.9M363.6 61.8h.9M363.1 46.4h.9M410.1 36.0h.9M371.9 58.8h.9M360.0 61.4h.9M384.6 51.4h.9M369.1 53.4h.9M371.5 54.8h.9M405.6 47.0h.9M380.0 53.3h.9M368.6 63.0h.9M403.4 46.9h.9M390.2 28.0h.9M399.0 47.2h.9M341.8 58.9h.9M322.6 59.4h.9M354.0 57.3h.9M360.9 57.1h.9M355.6 57.4h.9M396.3 43.0h.9M357.7 69.1h.9M384.6 61.4h.9M356.2 56.7h.9M384.3 59.7h.9M360.8 52.5h.9M382.9 59.2h.9M389.3 48.5h.9M374.0 48.3h.9M387.7 57.5h.9M374.9 64.2h.9M382.1 58.6h.9M410.7 38.9h.9M351.3 59.0h.9M395.3 54.6h.9M354.6 51.8h.9M390.3 50.6h.9M365.4 64.3h.9M397.7 34.5h.9M406.6 34.2h.9M394.3 51.3h.9M365.7 60.3h.9M380.4 68.7h.9M365.9 72.2h.9M374.2 46.2h.9M398.1 46.5h.9M368.3 71.7h.9M358.1 55.0h.9M366.0 49.9h.9M366.1 61.1h.9M355.2 60.9h.9M405.8 27.5h.9M369.8 40.2h.9M361.3 56.0h.9M381.8 52.3h.9M352.4 47.0h.9M379.9 52.2h.9M368.7 53.7h.9M392.4 53.1h.9M380.5 62.3h.9M395.2 62.9h.9M370.0 49.4h.9M327.3 55.6h.9M360.8 64.4h.9M390.5 47.0h.9M408.8 44.9h.9M355.0 64.6h.9M396.6 52.7h.9M367.9 50.0h.9M394.6 43.0h.9M381.9 58.3h.9M355.9 70.1h.9M388.3 56.5h.9M358.8 43.2h.9M363.3 46.1h.9M377.8 49.6h.9M389.6 58.5h.9M394.8 31.1h.9M387.9 55.1h.9M404.7 41.6h.9M392.4 55.7h.9M354.9 68.0h.9M381.2 47.8h.9M396.1 59.7h.9M366.5 51.9h.9M354.7 48.8h.9M333.2 57.4h.9M373.0 44.4h.9M383.2 60.9h.9M367.6 65.1h.9M377.8 56.0h.9M330.4 65.4h.9M389.7 46.0h.9M411.8 41.9h.9M345.1 53.8h.9M373.8 56.5h.9M372.1 58.5h.9M374.6 52.4h.9M366.8 60.7h.9M389.9 44.0h.9M383.4 53.0h.9M395.1 37.9h.9M343.2 59.4h.9M368.3 48.4h.9M389.5 37.9h.9M411.9 50.4h.9M399.7 41.4h.9M396.4 41.3h.9M376.1 47.0h.9M367.7 64.4h.9M375.9 51.8h.9M383.1 59.0h.9M370.4 48.6h.9M371.4 58.3h.9M374.3 62.0h.9M339.9 58.7h.9M373.8 44.5h.9M391.3 52.2h.9M372.8 58.8h.9M390.1 46.1h.9M380.2 39.5h.9M362.2 66.3h.9M323.1 60.5h.9M385.4 53.1h.9M394.6 50.1h.9M401.0 31.1h.9M380.0 53.7h.9M362.3 62.5h.9M353.4 57.3h.9M380.6 48.0h.9M366.0 19.6h.9M362.9 56.7h.9M359.3 58.4h.9M379.1 37.0h.9M400.4 39.3h.9M355.3 67.6h.9M405.7 44.2h.9M404.9 45.7h.9M359.2 66.3h.9M400.9 45.8h.9M362.7 55.8h.9M375.5 60.6h.9M378.4 48.8h.9M402.0 28.3h.9M334.4 60.5h.9M367.1 46.6h.9M369.7 56.7h.9M403.1 52.8h.9M384.2 57.2h.9M384.2 58.7h.9M361.3 49.9h.9M380.8 42.9h.9M372.1 58.3h.9M375.8 57.4h.9M345.9 51.9h.9M363.8 68.4h.9M384.4 42.8h.9M404.2 38.5h.9M392.0 62.1h.9M398.2 48.9h.9M344.8 54.0h.9M387.5 39.9h.9M383.3 51.8h.9M398.3 38.8h.9M367.4 55.9h.9M370.8 49.0h.9M368.5 56.5h.9M365.8 65.9h.9M383.1 60.1h.9M394.4 41.1h.9M380.7 38.5h.9M382.4 60.1h.9M380.6 53.5h.9M405.2 48.9h.9M331.7 57.4h.9M376.5 51.8h.9M382.2 64.2h.9M377.7 34.4h.9M328.2 58.3h.9M367.0 69.5h.9M387.5 48.7h.9M400.7 45.5h.9M405.9 46.9h.9M386.3 61.1h.9M363.0 62.1h.9M388.0 39.4h.9M361.3 62.4h.9M409.4 34.3h.9M387.6 57.6h.9M369.6 40.7h.9M382.6 51.3h.9M396.6 42.7h.9M357.8 60.1h.9M348.5 52.2h.9M384.2 42.5h.9M352.1 58.5h.9M379.2 34.2h.9M363.1 56.2h.9M337.1 60.1h.9M405.3 55.7h.9M334.3 58.2h.9M336.7 59.3h.9M394.8 39.8h.9M328.3 53.8h.9M344.5 62.2h.9M410.6 38.4h.9M364.3 61.3h.9M375.2 60.9h.9M394.2 46.5h.9M349.2 58.6h.9M390.8 42.6h.9M341.3 55.6h.9M365.5 60.0h.9M371.9 41.4h.9M368.5 46.4h.9M356.3 60.9h.9M383.2 50.9h.9M367.1 53.1h.9M368.6 52.2h.9M378.1 50.8h.9M356.7 65.7h.9M396.7 47.5h.9M365.6 62.1h.9M409.6 47.7h.9M368.2 65.8h.9M364.4 64.7h.9M336.5 60.5h.9M389.0 45.8h.9M406.9 45.0h.9M373.8 51.6h.9M365.9 48.1h.9M363.8 45.5h.9M358.5 60.9h.9M400.7 44.2h.9M373.6 66.8h.9M380.7 51.9h.9M387.6 52.5h.9M364.7 47.7h.9M383.8 48.2h.9M360.9 47.5h.9M390.6 53.2h.9M370.9 52.9h.9M387.4 46.1h.9M373.7 55.3h.9M332.1 47.1h.9M366.8 65.7h.9M354.3 58.0h.9M333.5 55.8h.9M385.2 52.8h.9M379.1 59.3h.9M368.9 64.0h.9M364.5 61.2h.9M397.3 47.3h.9M383.9 41.6h.9M375.7 50.1h.9M389.1 49.6h.9M364.2 66.1h.9M388.0 48.7h.9M373.1 56.6h.9M365.7 64.5h.9M379.3 57.7h.9M339.8 56.1h.9M368.1 64.0h.9M366.5 48.1h.9M387.2 48.1h.9M339.9 56.4h.9M379.3 65.6h.9M379.3 56.0h.9M386.1 40.6h.9M331.1 57.6h.9M334.9 54.5h.9M397.6 46.6h.9M380.0 50.8h.9M365.7 60.6h.9M360.7 52.2h.9M377.0 54.6h.9M382.8 61.4h.9M404.1 42.2h.9M376.5 50.2h.9M366.8 60.8h.9M394.4 39.4h.9M368.3 60.9h.9M381.7 55.4h.9M353.3 60.6h.9M400.2 33.2h.9M379.7 50.0h.9M376.5 65.0h.9M404.5 36.2h.9M383.5 54.9h.9M381.1 28.5h.9M379.9 50.8h.9M363.4 65.7h.9M377.6 58.8h.9M364.0 60.4h.9M390.6 48.3h.9M356.5 59.0h.9M363.6 59.7h.9M352.5 51.2h.9M375.0 46.6h.9M368.3 47.6h.9M360.4 59.1h.9M383.8 43.1h.9M368.0 44.1h.9M328.5 62.7h.9M395.9 39.1h.9M400.5 46.9h.9M375.8 56.0h.9M345.4 56.0h.9M385.3 47.3h.9M381.6 48.6h.9M373.8 61.9h.9M407.5 53.6h.9M398.6 51.1h.9M387.0 55.9h.9M399.0 39.7h.9M393.0 52.7h.9M363.3 66.4h.9M377.3 41.3h.9M351.0 54.1h.9M396.3 43.4h.9M362.9 61.8h.9M396.8 53.1h.9M360.9 66.2h.9M390.9 45.5h.9M381.1 53.9h.9M361.7 65.3h.9M408.5 39.8h.9M371.2 54.9h.9M407.2 41.6h.9M388.6 58.6h.9M387.9 50.5h.9M366.6 51.8h.9M356.6 63.1h.9M358.8 66.1h.9M381.9 55.6h.9M328.9 61.8h.9M362.5 64.8h.9M376.3 50.9h.9M385.5 46.6h.9M376.3 52.5h.9M383.5 63.4h.9M380.8 56.3h.9M393.2 47.7h.9M336.3 60.9h.9M381.3 58.0h.9M369.8 45.5h.9M371.8 58.4h.9M364.5 61.4h.9M357.6 58.8h.9M383.4 37.2h.9M400.3 50.7h.9M378.8 64.4h.9M381.7 63.4h.9M352.7 57.4h.9M377.2 55.2h.9M316.6 61.5h.9M403.4 30.2h.9M331.4 53.0h.9M381.1 58.5h.9M390.5 41.2h.9M358.4 48.4h.9M369.5 52.1h.9M397.9 48.3h.9M370.9 66.1h.9M362.6 58.7h.9M320.2 54.3h.9M395.8 39.4h.9" stroke="#a5a5a5" stroke-width=".9"/>
<path d="M391.0 58.3h.9M383.7 49.3h.9M372.2 54.4h.9M389.2 52.7h.9M404.1 42.9h.9M368.2 58.5h.9M369.0 58.8h.9M362.0 65.2h.9M403.3 32.1h.9M406.3 42.5h.9M335.7 61.9h.9M364.1 51.9h.9M323.8 59.6h.9M367.8 59.7h.9M357.0 55.0h.9M365.3 60.2h.9M393.8 40.8h.9M366.0 63.9h.9M357.9 46.6h.9M382.5 52.6h.9M370.1 48.6h.9M389.8 44.7h.9M379.8 55.5h.9M380.9 58.5h.9M383.4 52.8h.9M387.3 41.1h.9M366.6 67.8h.9M364.6 47.4h.9M390.2 54.7h.9M333.2 55.3h.9M343.9 28.9h.9M371.4 57.5h.9M402.6 43.3h.9M367.1 56.6h.9M385.2 47.1h.9M358.4 50.0h.9M380.1 58.2h.9M376.0 57.4h.9M408.0 52.2h.9M374.2 58.0h.9M359.6 63.7h.9M408.6 35.2h.9M338.6 61.3h.9M389.3 64.1h.9M394.4 47.7h.9M354.1 53.2h.9M358.3 69.2h.9M361.1 68.2h.9M402.4 46.6h.9M363.3 47.6h.9M341.8 59.6h.9M372.7 55.2h.9M388.0 42.6h.9M330.4 46.5h.9M373.8 62.6h.9M383.0 50.9h.9M351.4 58.0h.9M381.1 53.9h.9M406.7 42.8h.9M377.7 59.0h.9M396.2 43.3h.9M381.7 56.6h.9M389.1 59.9h.9M389.4 36.4h.9M361.4 67.1h.9M372.2 63.8h.9M327.6 60.2h.9M391.6 50.9h.9M341.3 58.4h.9M370.4 49.5h.9M391.3 45.5h.9M390.2 58.6h.9M405.8 39.5h.9M399.7 44.0h.9M387.8 50.5h.9M399.8 50.2h.9M377.8 57.6h.9M364.7 50.7h.9M371.3 57.6h.9M380.2 43.6h.9M383.5 60.6h.9M344.2 54.4h.9M375.9 43.6h.9M376.5 57.5h.9M406.7 31.8h.9M325.7 62.3h.9M386.5 46.5h.9M324.0 58.0h.9M381.5 59.7h.9M353.9 63.4h.9M363.2 66.6h.9M378.0 63.5h.9M339.0 61.8h.9M382.1 54.9h.9M374.5 57.0h.9M385.3 61.1h.9M400.9 42.9h.9M401.1 32.0h.9M394.5 43.7h.9M377.6 63.8h.9M371.8 57.7h.9M379.1 54.5h.9M368.9 52.0h.9M408.7 37.0h.9M396.2 54.4h.9M396.7 34.7h.9M357.4 54.1h.9M406.2 40.8h.9M373.7 49.8h.9M361.3 62.7h.9M361.3 49.8h.9M324.2 56.8h.9M360.4 53.9h.9M355.0 41.2h.9M395.9 32.7h.9M366.2 47.8h.9M356.7 66.0h.9M320.5 62.0h.9M406.3 43.2h.9M357.1 47.2h.9M381.8 56.3h.9M371.4 65.4h.9M333.7 56.5h.9M354.5 52.9h.9M392.9 52.4h.9M346.3 57.5h.9M407.1 38.0h.9M388.0 55.8h.9M317.1 65.8h.9M370.6 65.7h.9M377.3 45.9h.9M369.6 42.7h.9M371.0 48.8h.9M334.5 53.1h.9M380.5 46.7h.9M390.1 53.3h.9M402.9 52.0h.9M387.2 58.0h.9M392.0 47.2h.9M374.7 57.5h.9M383.4 50.6h.9M356.4 62.1h.9M371.3 51.9h.9M387.9 39.5h.9M357.3 60.4h.9M401.9 34.2h.9M381.6 48.6h.9M387.9 56.8h.9M392.6 51.1h.9M394.0 61.8h.9M411.5 46.2h.9M389.2 59.8h.9M388.0 40.9h.9M344.3 54.0h.9M404.8 39.0h.9M342.7 61.8h.9M345.7 59.1h.9M392.2 41.2h.9M370.1 60.8h.9M375.6 56.8h.9M399.2 38.6h.9M400.7 40.8h.9M377.8 56.4h.9M350.7 53.9h.9M380.0 50.7h.9M363.8 61.0h.9M406.9 31.5h.9M375.2 50.4h.9M391.4 49.3h.9M381.2 56.9h.9M374.8 62.0h.9M386.1 53.3h.9M376.2 49.2h.9M366.6 47.7h.9M373.0 60.5h.9M350.3 66.2h.9M387.5 55.0h.9M397.0 42.1h.9M390.6 44.6h.9M376.2 55.1h.9M392.6 45.7h.9M403.1 43.3h.9M385.6 45.1h.9M400.5 45.7h.9M357.4 67.6h.9M353.1 55.3h.9M369.8 49.2h.9M380.2 58.5h.9M382.4 51.5h.9M375.9 61.7h.9M408.3 41.5h.9M366.4 43.1h.9M331.4 49.2h.9M390.6 45.8h.9M399.0 49.1h.9M369.9 67.0h.9M407.3 33.7h.9M404.6 40.5h.9M363.6 68.1h.9M376.8 60.1h.9M372.7 52.0h.9M389.0 45.0h.9M318.3 55.7h.9M395.8 52.7h.9M341.4 61.4h.9M332.8 66.4h.9M366.8 56.8h.9M378.0 48.4h.9M381.2 57.1h.9M389.8 50.4h.9M377.8 54.4h.9M375.7 63.7h.9M401.5 38.4h.9M378.3 56.8h.9M387.7 59.1h.9M367.9 52.3h.9M383.4 54.5h.9M364.9 42.8h.9M393.4 52.7h.9M388.7 42.2h.9M370.5 52.0h.9M374.0 61.3h.9M370.3 63.4h.9M368.5 61.2h.9M385.4 56.5h.9M403.0 46.5h.9M353.1 59.3h.9M378.7 45.4h.9M382.2 57.7h.9M405.7 43.4h.9M392.5 37.0h.9M387.2 56.8h.9M388.3 52.3h.9M363.0 43.7h.9M375.9 51.0h.9M379.3 52.5h.9M366.4 62.4h.9M354.7 47.3h.9M352.0 53.2h.9M370.2 55.9h.9M397.7 49.2h.9M381.5 47.1h.9M365.2 56.3h.9M367.2 60.1h.9M364.4 58.4h.9M393.5 38.8h.9M400.1 36.9h.9M409.5 38.7h.9M384.1 40.1h.9M378.8 51.2h.9M360.0 60.9h.9M403.7 38.8h.9M387.4 51.0h.9M333.3 59.0h.9M369.2 53.2h.9M337.5 54.2h.9M372.3 41.4h.9M350.0 56.0h.9M376.0 60.9h.9M390.3 54.7h.9M377.5 57.9h.9M362.2 68.7h.9M374.8 56.7h.9M390.8 57.3h.9M350.7 66.5h.9M379.5 56.5h.9M326.4 51.3h.9M372.4 56.8h.9M379.4 54.5h.9M363.5 53.0h.9M343.7 64.5h.9M361.2 53.7h.9M372.0 61.4h.9M383.7 42.9h.9M372.1 63.5h.9M385.3 36.9h.9M379.6 56.7h.9M358.5 74.4h.9M371.6 63.0h.9M390.7 50.4h.9M367.0 51.4h.9M356.5 62.6h.9M361.3 55.4h.9M380.2 55.2h.9M382.9 55.7h.9M385.1 60.8h.9M378.4 57.1h.9M411.2 40.8h.9M368.3 39.3h.9M379.8 53.4h.9M368.1 59.1h.9M400.8 40.4h.9M402.3 41.6h.9M382.3 59.2h.9M391.5 40.3h.9M379.0 58.4h.9M389.5 52.9h.9M390.0 40.1h.9M367.2 51.7h.9M362.8 64.1h.9M377.4 58.5h.9M323.2 60.8h.9M400.1 36.5h.9M360.5 57.4h.9M373.6 51.8h.9M398.6 36.3h.9M383.4 58.4h.9M400.9 27.1h.9M334.2 56.3h.9M402.8 45.5h.9M376.7 55.0h.9M358.6 44.9h.9M401.3 50.6h.9M370.5 52.1h.9M377.0 52.7h.9M364.2 57.7h.9M395.3 46.9h.9M314.7 57.5h.9M368.3 62.3h.9M371.6 59.3h.9M319.8 53.8h.9M378.2 51.2h.9M404.4 52.1h.9M352.7 62.9h.9M372.0 57.0h.9M392.7 59.2h.9M393.5 56.0h.9M377.2 64.7h.9M377.8 53.0h.9M383.5 51.4h.9M358.1 54.1h.9M402.8 47.7h.9M375.9 52.3h.9M336.3 51.5h.9M381.3 45.4h.9M355.5 61.6h.9M363.7 57.4h.9M363.8 67.1h.9M329.2 64.1h.9M398.4 40.4h.9M323.7 63.0h.9M332.8 59.9h.9M388.7 50.8h.9M356.5 62.2h.9M348.3 55.8h.9M381.7 53.9h.9M384.5 44.8h.9M348.7 52.3h.9M372.2 46.8h.9M381.7 46.8h.9M333.7 61.8h.9M372.3 56.3h.9M375.5 48.6h.9M365.8 63.6h.9M327.0 54.8h.9M374.2 42.7h.9M374.1 59.4h.9M379.7 55.2h.9M328.5 58.5h.9M358.5 62.0h.9M384.3 44.0h.9M382.8 57.0h.9M382.9 47.7h.9M356.3 71.3h.9M328.3 50.0h.9M385.8 63.7h.9M373.5 57.3h.9M394.3 56.9h.9M357.7 59.2h.9M390.1 46.9h.9M399.1 59.8h.9M383.6 48.1h.9M373.0 55.0h.9M399.4 42.0h.9M399.4 34.0h.9M365.6 52.3h.9M373.2 59.2h.9M364.2 56.5h.9M362.7 47.3h.9M374.7 52.3h.9M409.3 54.5h.9M366.0 54.7h.9M360.1 52.7h.9M388.5 43.0h.9M373.8 46.5h.9M401.4 35.8h.9M399.6 41.2h.9M331.6 65.0h.9M369.7 59.0h.9M403.6 48.7h.9M358.1 65.9h.9M351.3 56.2h.9M389.6 60.4h.9M371.1 59.0h.9M325.4 55.6h.9M368.0 53.8h.9M359.0 54.6h.9M335.3 55.7h.9M334.6 47.6h.9M377.4 51.7h.9M393.3 55.0h.9M403.6 48.6h.9M355.1 67.8h.9M373.9 55.2h.9M373.1 55.4h.9M379.7 51.8h.9M369.1 63.5h.9M385.3 46.4h.9M320.5 57.9h.9M372.5 53.1h.9M389.7 48.7h.9M374.0 64.3h.9M380.4 48.5h.9M385.5 59.7h.9M385.0 68.0h.9M343.8 52.5h.9M329.5 58.8h.9M363.4 57.5h.9M381.6 60.0h.9M389.8 44.8h.9M404.7 55.6h.9M397.1 27.2h.9M345.0 66.7h.9M382.6 43.3h.9M358.5 45.0h.9M351.5 58.0h.9M399.2 39.1h.9M357.6 64.7h.9M398.3 48.0h.9M388.6 47.8h.9M363.3 53.3h.9M371.8 55.9h.9M331.8 55.6h.9M378.3 59.7h.9M369.5 48.1h.9M333.6 53.6h.9M409.5 50.8h.9M368.4 61.2h.9M385.3 53.6h.9M394.0 43.6h.9M386.4 37.9h.9M405.6 45.1h.9M389.5 58.1h.9M330.3 55.0h.9M393.3 53.7h.9M383.7 60.2h.9M400.9 39.9h.9M385.3 47.1h.9M353.3 61.0h.9M398.9 31.7h.9M314.0 53.7h.9M388.1 60.1h.9M385.5 52.7h.9M381.1 38.7h.9M374.9 65.4h.9M385.7 59.5h.9M401.3 51.6h.9M387.4 48.1h.9M388.5 45.5h.9M390.0 53.2h.9M356.1 70.6h.9M405.2 38.0h.9M355.9 61.2h.9M391.2 52.3h.9M376.0 58.9h.9M384.9 42.0h.9M338.5 55.7h.9M394.0 41.8h.9M359.1 57.5h.9M357.2 61.3h.9M383.6 50.8h.9M371.1 59.9h.9M404.6 33.3h.9M389.2 49.8h.9M363.3 74.6h.9M321.6 63.7h.9M389.9 58.7h.9M346.7 62.5h.9M399.9 36.4h.9M397.4 33.7h.9M378.8 59.8h.9M364.8 62.8h.9M393.2 41.1h.9M376.6 54.2h.9M374.1 58.1h.9M353.8 60.9h.9M346.0 51.0h.9M358.9 69.7h.9M390.4 44.6h.9M376.7 65.3h.9M369.9 56.3h.9M403.6 34.9h.9M345.3 49.6h.9M387.8 53.1h.9M382.2 56.7h.9M363.1 61.4h.9M396.5 38.3h.9M365.0 47.7h.9M364.9 57.7h.9M396.1 43.8h.9M370.0 50.9h.9M359.7 58.7h.9M358.8 45.9h.9M354.4 62.9h.9M388.4 51.5h.9M381.0 54.6h.9M384.8 66.5h.9M381.5 58.7h.9M357.2 61.8h.9M354.3 65.0h.9M359.2 54.9h.9M377.9 42.5h.9M376.1 64.5h.9M395.7 48.3h.9M387.3 51.9h.9M370.9 64.1h.9M371.1 49.5h.9M360.6 64.2h.9M396.8 52.8h.9M392.1 53.8h.9M343.7 55.4h.9M377.7 59.1h.9M342.7 55.4h.9M383.0 50.9h.9M350.9 54.7h.9M397.2 51.0h.9M351.6 56.1h.9M389.2 45.3h.9M382.6 52.9h.9M338.3 52.3h.9M392.9 49.3h.9M391.5 37.2h.9M374.6 50.8h.9M385.9 57.7h.9M380.5 46.3h.9M351.4 52.6h.9M383.5 34.1h.9M382.7 55.7h.9M356.9 60.8h.9M384.0 58.8h.9M389.7 41.3h.9M370.7 73.6h.9M393.9 32.3h.9M388.7 59.7h.9M348.3 58.9h.9M361.3 59.9h.9M407.5 39.6h.9M374.4 64.4h.9M371.2 35.6h.9M360.3 58.7h.9M373.2 58.9h.9M366.0 57.7h.9M401.6 49.1h.9M401.3 48.8h.9M377.3 51.0h.9M368.2 69.1h.9M399.3 51.3h.9M377.6 49.3h.9M386.8 54.8h.9M355.1 61.4h.9M397.3 40.2h.9M363.9 59.8h.9M367.1 51.0h.9M357.2 61.7h.9M377.0 50.6h.9M384.6 58.6h.9M396.8 39.6h.9M401.9 35.2h.9M409.8 45.3h.9M386.9 49.1h.9M377.2 55.1h.9M401.4 40.1h.9M367.1 52.5h.9M407.5 43.1h.9M382.7 32.1h.9M346.5 53.8h.9M408.2 34.9h.9M374.5 60.4h.9M380.9 60.4h.9M341.4 64.4h.9M368.4 57.2h.9M411.8 51.9h.9M370.3 53.0h.9M404.5 45.7h.9M353.5 62.4h.9M383.3 41.3h.9M409.5 47.3h.9M340.3 54.8h.9M348.6 49.6h.9M371.6 61.0h.9M329.9 62.3h.9M394.0 50.1h.9M363.9 56.0h.9M381.4 51.7h.9M387.6 44.9h.9M355.4 52.1h.9M372.6 25.3h.9M404.7 45.3h.9M404.9 31.9h.9M359.6 51.7h.9M382.5 55.6h.9M337.4 58.0h.9M362.9 60.7h.9M380.7 54.8h.9M386.9 43.4h.9M367.9 55.6h.9M368.9 60.3h.9M398.8 32.9h.9M378.0 56.2h.9M397.7 39.4h.9M371.6 55.1h.9M406.7 39.2h.9M371.6 54.8h.9M394.4 47.6h.9M397.7 45.8h.9M334.2 57.5h.9M358.3 63.8h.9M377.1 53.0h.9M376.4 61.2h.9M379.6 62.3h.9M378.0 43.8h.9M394.6 46.1h.9M381.2 33.1h.9M385.2 51.5h.9M373.7 49.3h.9M384.0 50.1h.9M369.6 45.7h.9M392.6 30.9h.9M379.1 53.4h.9M364.0 62.5h.9M377.1 49.7h.9M374.1 55.9h.9M374.1 61.7h.9M367.6 55.1h.9M357.8 49.9h.9M361.9 62.7h.9M405.9 40.5h.9M327.0 54.1h.9M384.6 53.8h.9M368.8 37.6h.9M385.2 44.7h.9M324.4 58.1h.9M373.9 59.0h.9M314.9 59.3h.9M356.7 55.9h.9M359.9 52.2h.9M397.4 30.0h.9M383.3 42.4h.9M379.7 56.1h.9M400.7 48.5h.9M379.8 52.6h.9M361.3 52.9h.9M382.7 56.6h.9M408.3 38.2h.9M360.1 49.1h.9M364.4 63.3h.9M383.5 55.4h.9M383.1 47.5h.9M377.0 41.6h.9M393.2 61.6h.9M372.7 65.5h.9M321.0 60.4h.9M387.3 49.4h.9M370.2 56.0h.9M384.3 56.8h.9M388.0 48.5h.9M372.6 43.9h.9M360.9 65.5h.9M383.6 46.2h.9M362.8 49.4h.9M357.8 67.7h.9M382.6 52.0h.9M385.0 53.4h.9M389.4 40.8h.9M395.4 45.8h.9M324.6 58.2h.9M352.5 52.1h.9M383.8 43.4h.9M319.0 52.0h.9M366.1 54.4h.9M385.0 46.2h.9M369.2 50.1h.9M372.5 53.5h.9M374.9 51.9h.9M393.3 46.3h.9M382.5 53.2h.9M400.9 61.4h.9M354.9 52.8h.9M363.9 62.3h.9M361.6 59.7h.9M399.4 48.0h.9M407.6 41.1h.9M385.2 46.9h.9M403.9 34.4h.9M394.5 38.9h.9M398.4 43.1h.9M388.1 55.3h.9M375.8 57.9h.9M394.5 53.9h.9M330.5 57.8h.9M327.1 54.0h.9M353.4 56.2h.9M350.1 50.8h.9M384.2 52.5h.9M389.0 42.9h.9M379.0 53.2h.9M374.9 68.0h.9M375.5 57.3h.9M386.6 36.9h.9M359.0 45.8h.9M374.3 62.0h.9M373.8 66.3h.9M358.4 58.7h.9M371.6 61.6h.9M321.6 51.7h.9M358.3 58.7h.9M374.7 47.3h.9M386.6 45.5h.9M387.4 59.5h.9M393.1 41.3h.9M357.5 57.8h.9M386.8 63.2h.9M405.8 52.8h.9M354.8 56.4h.9M397.3 37.0h.9M375.2 55.1h.9M359.6 70.4h.9M387.6 47.7h.9M360.8 69.5h.9M383.3 53.7h.9M368.1 48.1h.9M356.4 60.1h.9M394.2 46.3h.9M365.1 47.2h.9M379.5 39.8h.9M408.2 36.0h.9M402.6 58.3h.9M389.4 62.2h.9M355.4 65.7h.9M359.7 67.7h.9M359.1 67.2h.9M388.1 51.0h.9M375.8 53.8h.9M398.8 35.9h.9M375.8 62.3h.9M339.8 63.2h.9M369.9 55.2h.9M392.1 38.2h.9M387.8 43.1h.9M379.6 58.5h.9M376.1 50.5h.9" stroke="#6a6a6a" stroke-width=".9"/>
<path d="M389.7 50.2h.9M371.2 48.3h.9M346.5 58.0h.9M399.7 40.6h.9M391.6 48.5h.9M360.9 54.5h.9M321.5 61.0h.9M345.0 53.1h.9M375.3 50.1h.9M369.9 63.7h.9M370.9 61.5h.9M343.6 60.6h.9M371.6 49.3h.9M354.9 55.1h.9M372.9 43.1h.9M379.8 67.6h.9M363.1 60.9h.9M372.7 62.8h.9M335.7 61.3h.9M374.7 57.5h.9M360.5 61.3h.9M360.7 57.8h.9M340.6 56.5h.9M396.0 46.5h.9M370.0 60.9h.9M396.3 24.7h.9M321.3 52.2h.9M354.9 57.0h.9M357.5 53.6h.9M408.8 38.5h.9M370.3 38.4h.9M379.7 49.4h.9M333.5 57.3h.9M361.2 59.1h.9M389.9 53.0h.9M371.1 61.9h.9M379.2 55.2h.9M397.7 47.9h.9M366.9 57.5h.9M370.2 48.2h.9M387.7 57.9h.9M378.4 41.9h.9M369.4 57.6h.9M372.5 56.2h.9M367.9 64.0h.9M357.4 66.4h.9M410.3 39.3h.9M403.0 52.5h.9M338.9 55.0h.9M381.7 50.3h.9M316.2 36.6h.9M372.5 58.4h.9M337.6 48.1h.9M357.3 56.2h.9M366.7 48.0h.9M378.5 55.4h.9M329.0 57.5h.9M393.1 44.6h.9M354.6 49.3h.9M374.0 57.3h.9M375.7 51.4h.9M374.6 45.7h.9M388.2 41.2h.9M354.3 61.8h.9M392.7 42.8h.9M352.0 61.2h.9M390.6 45.4h.9M396.5 40.5h.9M390.3 44.0h.9M353.4 62.2h.9M402.5 48.9h.9M378.4 63.4h.9M345.2 60.2h.9M341.0 53.5h.9M390.9 61.8h.9M380.3 63.4h.9M388.6 55.4h.9M358.7 73.0h.9M373.3 48.3h.9M368.4 44.4h.9M373.9 55.3h.9M401.0 51.7h.9M386.2 49.2h.9M382.5 54.3h.9M363.9 55.7h.9M378.4 49.4h.9M394.4 47.8h.9M394.2 45.5h.9M334.1 58.0h.9M368.8 52.2h.9M376.3 60.6h.9M370.7 39.2h.9M358.0 65.6h.9M375.7 63.1h.9M373.0 55.3h.9M367.3 62.9h.9M356.6 59.9h.9M349.0 60.5h.9M367.1 58.5h.9M380.5 65.8h.9M400.2 44.3h.9M400.4 43.0h.9M325.3 56.3h.9M409.7 37.9h.9M380.6 52.0h.9M358.3 49.6h.9M356.2 52.7h.9M409.0 43.7h.9M366.0 49.1h.9M404.2 28.6h.9M372.6 72.0h.9M374.2 62.0h.9M382.9 56.9h.9M355.2 59.0h.9M393.0 49.6h.9M406.0 34.8h.9M374.5 57.1h.9M370.3 60.9h.9M351.0 51.9h.9M369.5 44.0h.9M386.4 34.4h.9M375.6 49.6h.9M405.8 44.2h.9M337.5 62.4h.9M350.7 51.4h.9M359.0 55.0h.9M397.2 45.6h.9M374.2 56.4h.9M381.0 48.2h.9M392.6 53.1h.9M369.2 51.4h.9M378.3 54.7h.9M359.2 56.1h.9M408.7 34.8h.9M402.5 37.7h.9M329.3 56.0h.9M377.1 43.8h.9M395.0 46.7h.9M381.9 49.3h.9M361.4 61.0h.9M366.1 55.2h.9M332.6 64.1h.9M367.1 64.5h.9M395.0 60.8h.9M402.2 37.9h.9M376.2 54.2h.9M395.8 53.0h.9M353.7 67.3h.9M366.2 52.9h.9M361.0 66.8h.9M336.8 54.7h.9M387.3 53.0h.9M364.5 62.0h.9M341.4 51.7h.9M355.5 64.8h.9M394.2 50.0h.9M403.9 35.5h.9M373.9 50.8h.9M335.4 59.6h.9M405.5 29.2h.9M356.7 71.8h.9M360.3 63.3h.9M373.1 54.3h.9M382.6 53.8h.9M370.2 42.4h.9M373.7 49.1h.9M394.0 32.6h.9M379.6 49.3h.9M384.4 32.8h.9M392.6 54.8h.9M367.1 52.6h.9M403.1 54.6h.9M403.6 40.6h.9M362.0 59.7h.9M405.0 50.4h.9M373.0 57.8h.9M385.3 41.2h.9M340.2 56.8h.9M381.4 57.5h.9M404.0 48.7h.9M382.4 51.5h.9M402.6 36.8h.9M388.9 50.1h.9M370.6 58.8h.9M354.8 56.0h.9M389.5 42.3h.9M376.0 51.3h.9M374.8 56.9h.9M384.1 51.5h.9M387.0 55.8h.9M404.2 36.0h.9M356.9 57.5h.9M364.1 52.0h.9M382.1 56.2h.9M389.3 57.3h.9M374.7 47.9h.9M381.4 57.5h.9M377.7 43.4h.9M378.3 44.0h.9M336.4 51.0h.9M366.4 59.8h.9M403.4 34.0h.9M368.1 59.4h.9M356.5 52.9h.9M402.0 52.6h.9M379.6 55.0h.9M368.7 57.6h.9M384.6 40.5h.9M390.9 53.9h.9M376.2 35.6h.9M381.9 54.6h.9M339.1 61.0h.9M373.5 61.7h.9M361.1 56.6h.9M376.5 62.4h.9M377.5 53.0h.9M366.6 65.5h.9M389.8 47.0h.9M397.9 40.5h.9M357.5 52.7h.9M366.2 59.9h.9M377.0 56.4h.9M398.7 38.2h.9M382.7 58.3h.9M336.8 60.0h.9M355.2 56.5h.9M391.6 40.2h.9M396.8 46.8h.9M364.3 54.3h.9M388.8 53.6h.9M371.8 52.1h.9M410.3 37.6h.9M384.4 45.2h.9M378.9 52.1h.9M336.4 53.5h.9M351.7 56.7h.9M364.6 64.0h.9M374.8 58.0h.9M369.4 55.9h.9M315.8 56.9h.9M404.0 34.9h.9M350.1 54.7h.9M365.7 45.0h.9M396.5 59.0h.9M365.8 57.5h.9M394.3 49.1h.9M355.6 51.5h.9M405.9 50.5h.9M406.4 34.8h.9M359.9 62.5h.9M383.5 53.0h.9M378.3 50.8h.9M370.0 63.1h.9M394.2 48.9h.9M351.2 55.9h.9M341.4 57.7h.9M405.0 50.2h.9M339.1 62.9h.9M387.3 50.8h.9M357.3 59.0h.9M347.7 61.6h.9M372.1 57.2h.9M390.9 49.0h.9M369.9 62.6h.9M386.9 44.5h.9M373.9 57.0h.9M357.7 58.0h.9M369.6 65.6h.9M342.9 57.4h.9M379.3 47.2h.9M400.1 53.2h.9M344.7 62.7h.9M406.8 42.8h.9M331.0 66.5h.9M390.7 42.9h.9M392.7 34.3h.9M342.3 59.6h.9M382.6 64.0h.9M372.1 59.5h.9M389.8 47.8h.9M356.5 56.0h.9M329.8 59.6h.9M351.0 66.9h.9M401.3 38.4h.9M369.1 40.7h.9M385.3 50.6h.9M362.6 52.4h.9M381.6 71.8h.9M400.9 32.6h.9M371.3 58.6h.9M325.4 52.9h.9M361.2 57.3h.9M358.9 43.7h.9M381.2 53.7h.9M387.3 46.7h.9M391.8 46.9h.9M376.8 51.8h.9M384.5 38.1h.9M385.2 53.8h.9M375.9 61.2h.9M398.9 61.0h.9M408.5 50.5h.9M340.6 59.0h.9M329.8 55.8h.9M404.3 38.2h.9M359.8 58.0h.9M365.3 54.1h.9M331.2 57.1h.9M377.4 46.4h.9M409.4 43.2h.9M397.5 44.2h.9M380.3 53.0h.9M335.8 67.3h.9M346.1 56.6h.9M388.0 35.2h.9M366.5 57.3h.9M377.2 61.4h.9M390.1 39.7h.9M409.8 36.1h.9M410.5 41.8h.9M356.0 59.7h.9M390.8 33.3h.9M394.4 44.5h.9M342.5 53.2h.9M358.6 57.3h.9M363.2 47.6h.9M386.0 43.4h.9M387.5 58.1h.9M403.3 31.8h.9M380.8 48.6h.9M343.1 41.6h.9M372.6 57.1h.9M392.1 50.9h.9M397.2 42.6h.9M370.9 55.3h.9M398.1 45.9h.9M378.1 51.7h.9M330.7 56.4h.9M381.0 45.8h.9M406.7 47.1h.9M387.4 44.2h.9M333.6 55.0h.9M394.4 50.6h.9M408.4 32.1h.9M368.9 44.5h.9M381.8 41.2h.9M407.5 47.4h.9M338.8 59.1h.9M376.5 51.5h.9M385.3 46.8h.9M404.5 40.2h.9M356.2 60.4h.9M373.7 55.5h.9M399.5 38.9h.9M384.1 50.8h.9M380.8 49.9h.9M392.4 37.5h.9M397.8 48.3h.9M339.5 70.1h.9M374.2 62.6h.9M386.1 56.8h.9M381.3 45.8h.9M394.0 37.8h.9M365.3 57.0h.9M389.4 38.7h.9M400.4 32.0h.9M390.8 52.8h.9M358.6 50.9h.9M347.6 47.6h.9M385.2 46.5h.9M397.1 52.2h.9M353.6 53.5h.9M409.1 42.6h.9M395.5 45.7h.9M346.0 60.1h.9M321.5 58.9h.9M360.1 50.9h.9M375.5 58.4h.9M367.3 53.7h.9M357.4 71.7h.9M322.2 55.7h.9M355.8 68.6h.9M363.7 59.5h.9M377.5 50.0h.9M362.6 51.5h.9M365.9 60.0h.9M374.5 64.8h.9M374.6 50.0h.9M387.6 37.8h.9M366.3 58.9h.9M356.4 63.5h.9M387.0 63.4h.9M344.7 41.6h.9M397.6 59.1h.9M390.8 49.6h.9M395.8 36.8h.9M355.7 52.8h.9M376.0 53.0h.9M337.6 52.7h.9M377.9 56.4h.9M333.0 54.4h.9M378.8 57.3h.9M326.3 59.8h.9M409.5 39.7h.9M386.0 61.2h.9M399.8 41.7h.9M368.6 65.9h.9M397.0 42.3h.9M364.4 63.8h.9M408.0 33.0h.9M378.2 49.4h.9M368.7 41.6h.9M327.8 59.2h.9M380.9 44.5h.9M383.0 55.5h.9M389.9 61.6h.9M346.8 49.7h.9M387.5 51.9h.9M369.1 58.9h.9M332.3 52.4h.9M364.8 65.7h.9M353.1 60.0h.9M360.7 47.5h.9M397.2 40.3h.9M395.7 53.3h.9M366.8 50.1h.9M393.0 56.1h.9M367.6 52.6h.9M361.7 43.5h.9M410.4 43.8h.9M380.2 43.4h.9M375.7 43.4h.9M356.1 54.3h.9M409.6 35.2h.9M391.1 38.8h.9M337.8 62.9h.9M384.4 56.7h.9M392.5 34.5h.9M373.5 71.2h.9M375.6 53.5h.9M368.2 57.9h.9M397.0 36.6h.9M397.7 38.8h.9M376.7 57.5h.9M314.8 62.4h.9M355.6 60.8h.9M381.8 55.3h.9M356.2 51.9h.9M355.4 68.8h.9M383.3 56.1h.9M351.9 60.7h.9M359.5 54.4h.9M398.4 32.4h.9M397.7 37.2h.9M389.2 60.7h.9M379.2 61.3h.9M320.4 59.4h.9M329.6 51.7h.9M378.0 56.5h.9M353.5 63.6h.9M367.1 49.7h.9M391.6 46.2h.9M376.9 50.2h.9M402.6 31.7h.9M374.3 55.0h.9M366.9 54.7h.9M385.2 53.7h.9M375.2 58.2h.9M399.4 32.1h.9M383.3 52.3h.9M395.7 41.1h.9M396.1 40.3h.9M386.0 43.1h.9M379.2 48.1h.9M378.9 59.3h.9M405.7 32.3h.9M334.8 62.3h.9M390.5 44.8h.9M359.8 54.0h.9M370.7 59.1h.9M386.7 58.4h.9M352.5 54.8h.9M375.7 58.8h.9M356.8 57.2h.9M374.9 56.5h.9M388.5 55.1h.9M357.6 57.9h.9M395.8 43.8h.9M402.1 46.5h.9M363.3 51.4h.9M360.1 50.4h.9M366.4 59.8h.9M381.6 55.0h.9M362.2 59.2h.9M399.6 55.1h.9M389.7 41.4h.9M392.4 49.6h.9M376.8 58.6h.9M336.2 54.1h.9M383.2 49.0h.9M393.9 42.6h.9M371.3 58.6h.9M375.9 53.9h.9M364.4 53.5h.9M368.5 52.7h.9M388.8 41.8h.9M371.5 62.8h.9M408.1 41.2h.9M331.1 42.8h.9M346.1 52.6h.9M393.1 48.0h.9M409.4 35.1h.9M374.7 62.2h.9M406.9 35.5h.9M397.6 52.1h.9M373.6 66.7h.9M354.1 60.1h.9M378.7 56.3h.9M369.5 52.2h.9M321.3 63.8h.9M373.4 49.6h.9M378.1 58.2h.9M375.3 48.3h.9M362.7 50.4h.9M370.7 53.6h.9M382.4 50.5h.9M373.4 59.2h.9M358.2 48.1h.9M365.5 45.5h.9M396.1 33.4h.9M367.2 53.7h.9M359.6 58.1h.9M351.8 60.6h.9M378.0 60.0h.9M403.9 44.9h.9M376.6 49.4h.9M382.0 45.1h.9M333.9 54.6h.9M377.5 51.3h.9M361.7 71.9h.9M394.0 47.7h.9M404.8 34.1h.9M375.2 46.0h.9M378.6 52.6h.9M404.3 59.6h.9M362.3 59.7h.9M407.6 48.7h.9M379.9 37.7h.9M353.4 67.1h.9M370.0 42.4h.9M405.8 31.3h.9M395.8 44.0h.9M385.9 53.3h.9M353.5 63.3h.9M345.9 64.0h.9M403.8 45.5h.9M370.4 64.4h.9M372.6 45.6h.9M375.2 60.8h.9M388.9 38.9h.9M388.6 51.0h.9M368.5 50.1h.9M333.8 56.4h.9M380.3 55.8h.9M357.1 68.2h.9M394.2 37.3h.9M395.1 58.9h.9M400.4 44.8h.9M348.7 52.2h.9M380.2 54.5h.9M382.9 57.3h.9M356.2 44.2h.9M366.1 50.4h.9M350.3 61.7h.9M353.6 57.8h.9M395.5 47.6h.9M372.3 56.5h.9M381.8 58.1h.9M328.1 52.8h.9M384.9 60.4h.9M369.5 56.8h.9M372.1 56.9h.9M347.0 53.5h.9M379.2 49.7h.9M391.9 43.3h.9M362.5 68.9h.9M351.1 56.1h.9M381.3 53.7h.9M383.0 57.0h.9M406.0 33.7h.9M375.7 46.8h.9M380.9 60.9h.9M407.6 33.8h.9M382.3 42.5h.9M389.8 51.1h.9M356.4 63.1h.9M375.5 62.5h.9M366.3 62.3h.9M372.3 53.4h.9M377.3 55.5h.9M393.0 44.5h.9M387.8 36.1h.9M400.9 34.5h.9M401.1 45.7h.9M365.4 56.8h.9M374.7 58.2h.9M381.8 53.7h.9M354.0 60.0h.9M384.7 60.3h.9M398.9 32.5h.9M402.7 39.8h.9M363.6 56.2h.9M387.9 50.5h.9M397.0 56.6h.9M327.9 58.1h.9M363.8 65.0h.9M370.8 66.2h.9M378.0 48.3h.9M398.6 41.6h.9M373.0 54.3h.9M401.9 27.6h.9M374.7 59.3h.9M361.1 69.8h.9M381.7 51.5h.9M408.0 44.1h.9M388.4 58.4h.9M353.6 59.8h.9M391.5 57.1h.9M387.2 50.9h.9M397.0 48.1h.9M356.5 56.0h.9M355.5 68.6h.9M396.0 48.0h.9M372.6 55.4h.9M370.3 48.0h.9M363.2 61.2h.9M381.0 60.7h.9M406.1 27.3h.9M381.5 64.2h.9M340.5 56.6h.9M409.3 42.0h.9M382.5 55.5h.9M407.9 39.0h.9M389.9 52.7h.9M368.5 59.9h.9M327.6 60.2h.9M395.0 55.2h.9M368.1 49.8h.9M375.6 55.6h.9M363.9 59.0h.9M366.0 60.2h.9M358.1 56.5h.9M371.3 60.0h.9M376.2 56.4h.9M406.4 32.4h.9M399.2 41.4h.9M356.4 51.3h.9M335.3 67.2h.9M378.8 55.8h.9M385.3 54.1h.9M360.6 56.2h.9M378.4 57.4h.9M352.4 63.1h.9M403.6 50.6h.9M368.1 56.5h.9M400.6 36.4h.9M329.1 59.9h.9M410.9 42.7h.9M365.6 54.6h.9M372.9 53.8h.9M393.0 42.9h.9M397.3 47.9h.9M392.8 48.3h.9M405.8 51.0h.9M371.3 56.1h.9M388.9 50.1h.9M389.8 40.9h.9M395.8 48.7h.9M398.2 39.9h.9M375.8 57.9h.9M357.0 58.0h.9M393.0 45.5h.9M363.0 61.7h.9M332.8 57.4h.9M378.5 35.7h.9M374.4 49.8h.9M377.3 64.5h.9M399.0 38.0h.9M320.7 56.0h.9M361.8 44.5h.9M327.7 53.0h.9M406.0 37.1h.9M360.8 56.5h.9M356.7 65.2h.9M372.2 45.4h.9M406.2 35.6h.9M362.7 53.0h.9M391.6 55.2h.9M371.1 66.5h.9M403.6 39.5h.9M366.4 51.8h.9M408.0 46.3h.9M385.1 41.6h.9M381.0 53.3h.9M390.0 32.5h.9M388.9 45.3h.9M396.1 41.8h.9M384.5 51.1h.9M353.5 58.7h.9M402.8 32.4h.9M399.7 41.9h.9M374.3 54.3h.9M387.2 54.2h.9M398.4 41.5h.9M376.0 49.8h.9M379.8 46.3h.9M401.3 53.0h.9M407.2 35.5h.9M373.7 55.8h.9M364.6 56.9h.9M403.6 59.7h.9M398.2 46.0h.9M383.4 50.9h.9M340.2 56.8h.9M361.8 50.6h.9M345.6 60.0h.9M396.3 45.3h.9M399.5 45.3h.9M355.5 47.5h.9M375.3 60.2h.9M380.5 54.8h.9M391.6 49.7h.9M352.9 58.4h.9M384.5 38.7h.9M408.9 36.6h.9M396.5 54.3h.9M365.7 59.3h.9M398.1 52.3h.9M393.6 63.3h.9M399.7 43.6h.9M403.2 37.0h.9M380.5 54.8h.9M356.1 60.3h.9M334.6 51.9h.9M358.3 45.5h.9M337.1 57.0h.9M373.5 60.2h.9M381.8 51.4h.9M376.6 59.6h.9M364.9 46.0h.9M390.0 48.8h.9" stroke="#333" stroke-width=".9"/>
<path d="M350.0 70.5 L350.0 39.0 L368.5 32.0 L392.8 17.5 L413.5 17.5 L413.5 51.0 L382.2 70.5 Z" fill="none" stroke="#777" stroke-width="0.9"/>
<rect x="308.70" y="17.00" width="105.00" height="99.00" fill="none" stroke="#000" stroke-width="1.1"/>
<line x1="308.70" y1="17.00" x2="308.70" y2="116.50" stroke="#000" stroke-width="1.6"/>
<line x1="308.20" y1="116.00" x2="413.70" y2="116.00" stroke="#000" stroke-width="1.6"/>
<line x1="310.70" y1="116.00" x2="310.70" y2="117.60" stroke="#000" stroke-width="0.8"/>
<line x1="313.30" y1="116.00" x2="313.30" y2="117.60" stroke="#000" stroke-width="0.8"/>
<line x1="315.90" y1="116.00" x2="315.90" y2="117.60" stroke="#000" stroke-width="0.8"/>
<line x1="318.50" y1="116.00" x2="318.50" y2="117.60" stroke="#000" stroke-width="0.8"/>
<line x1="321.10" y1="116.00" x2="321.10" y2="118.20" stroke="#000" stroke-width="0.8"/>
<line x1="323.70" y1="116.00" x2="323.70" y2="117.60" stroke="#000" stroke-width="0.8"/>
<line x1="326.30" y1="116.00" x2="326.30" y2="118.20" stroke="#000" stroke-width="0.8"/>
<line x1="328.90" y1="116.00" x2="328.90" y2="117.60" stroke="#000" stroke-width="0.8"/>
<line x1="331.50" y1="116.00" x2="331.50" y2="117.60" stroke="#000" stroke-width="0.8"/>
<line x1="334.10" y1="116.00" x2="334.10" y2="118.20" stroke="#000" stroke-width="0.8"/>
<line x1="336.70" y1="116.00" x2="336.70" y2="118.20" stroke="#000" stroke-width="0.8"/>
<line x1="339.30" y1="116.00" x2="339.30" y2="118.20" stroke="#000" stroke-width="0.8"/>
<line x1="341.90" y1="116.00" x2="341.90" y2="117.60" stroke="#000" stroke-width="0.8"/>
<line x1="344.50" y1="116.00" x2="344.50" y2="117.60" stroke="#000" stroke-width="0.8"/>
<line x1="347.10" y1="116.00" x2="347.10" y2="117.60" stroke="#000" stroke-width="0.8"/>
<line x1="349.70" y1="116.00" x2="349.70" y2="117.60" stroke="#000" stroke-width="0.8"/>
<line x1="352.30" y1="116.00" x2="352.30" y2="117.60" stroke="#000" stroke-width="0.8"/>
<line x1="354.90" y1="116.00" x2="354.90" y2="117.60" stroke="#000" stroke-width="0.8"/>
<line x1="357.50" y1="116.00" x2="357.50" y2="118.20" stroke="#000" stroke-width="0.8"/>
<line x1="360.10" y1="116.00" x2="360.10" y2="117.60" stroke="#000" stroke-width="0.8"/>
<line x1="362.70" y1="116.00" x2="362.70" y2="117.60" stroke="#000" stroke-width="0.8"/>
<line x1="365.30" y1="116.00" x2="365.30" y2="117.60" stroke="#000" stroke-width="0.8"/>
<line x1="367.90" y1="116.00" x2="367.90" y2="117.60" stroke="#000" stroke-width="0.8"/>
<line x1="370.50" y1="116.00" x2="370.50" y2="117.60" stroke="#000" stroke-width="0.8"/>
<line x1="373.10" y1="116.00" x2="373.10" y2="117.60" stroke="#000" stroke-width="0.8"/>
<line x1="375.70" y1="116.00" x2="375.70" y2="117.60" stroke="#000" stroke-width="0.8"/>
<line x1="378.30" y1="116.00" x2="378.30" y2="117.60" stroke="#000" stroke-width="0.8"/>
<line x1="380.90" y1="116.00" x2="380.90" y2="117.60" stroke="#000" stroke-width="0.8"/>
<line x1="383.50" y1="116.00" x2="383.50" y2="117.60" stroke="#000" stroke-width="0.8"/>
<line x1="386.10" y1="116.00" x2="386.10" y2="117.60" stroke="#000" stroke-width="0.8"/>
<line x1="388.70" y1="116.00" x2="388.70" y2="117.60" stroke="#000" stroke-width="0.8"/>
<line x1="391.30" y1="116.00" x2="391.30" y2="118.20" stroke="#000" stroke-width="0.8"/>
<line x1="393.90" y1="116.00" x2="393.90" y2="118.20" stroke="#000" stroke-width="0.8"/>
<line x1="396.50" y1="116.00" x2="396.50" y2="117.60" stroke="#000" stroke-width="0.8"/>
<line x1="399.10" y1="116.00" x2="399.10" y2="117.60" stroke="#000" stroke-width="0.8"/>
<line x1="401.70" y1="116.00" x2="401.70" y2="118.20" stroke="#000" stroke-width="0.8"/>
<line x1="404.30" y1="116.00" x2="404.30" y2="118.20" stroke="#000" stroke-width="0.8"/>
<line x1="406.90" y1="116.00" x2="406.90" y2="117.60" stroke="#000" stroke-width="0.8"/>
<line x1="409.50" y1="116.00" x2="409.50" y2="118.20" stroke="#000" stroke-width="0.8"/>
<line x1="412.10" y1="116.00" x2="412.10" y2="117.60" stroke="#000" stroke-width="0.8"/>
<line x1="307.10" y1="20.00" x2="308.70" y2="20.00" stroke="#000" stroke-width="0.7"/>
<line x1="307.10" y1="23.20" x2="308.70" y2="23.20" stroke="#000" stroke-width="0.7"/>
<line x1="307.10" y1="26.40" x2="308.70" y2="26.40" stroke="#000" stroke-width="0.7"/>
<line x1="307.10" y1="29.60" x2="308.70" y2="29.60" stroke="#000" stroke-width="0.7"/>
<line x1="307.10" y1="32.80" x2="308.70" y2="32.80" stroke="#000" stroke-width="0.7"/>
<line x1="307.10" y1="36.00" x2="308.70" y2="36.00" stroke="#000" stroke-width="0.7"/>
<line x1="307.10" y1="39.20" x2="308.70" y2="39.20" stroke="#000" stroke-width="0.7"/>
<line x1="307.10" y1="42.40" x2="308.70" y2="42.40" stroke="#000" stroke-width="0.7"/>
<line x1="307.10" y1="45.60" x2="308.70" y2="45.60" stroke="#000" stroke-width="0.7"/>
<line x1="307.10" y1="48.80" x2="308.70" y2="48.80" stroke="#000" stroke-width="0.7"/>
<line x1="307.10" y1="52.00" x2="308.70" y2="52.00" stroke="#000" stroke-width="0.7"/>
<line x1="307.10" y1="55.20" x2="308.70" y2="55.20" stroke="#000" stroke-width="0.7"/>
<line x1="307.10" y1="58.40" x2="308.70" y2="58.40" stroke="#000" stroke-width="0.7"/>
<line x1="307.10" y1="61.60" x2="308.70" y2="61.60" stroke="#000" stroke-width="0.7"/>
<line x1="307.10" y1="64.80" x2="308.70" y2="64.80" stroke="#000" stroke-width="0.7"/>
<line x1="307.10" y1="68.00" x2="308.70" y2="68.00" stroke="#000" stroke-width="0.7"/>
<line x1="307.10" y1="71.20" x2="308.70" y2="71.20" stroke="#000" stroke-width="0.7"/>
<line x1="307.10" y1="74.40" x2="308.70" y2="74.40" stroke="#000" stroke-width="0.7"/>
<line x1="307.10" y1="77.60" x2="308.70" y2="77.60" stroke="#000" stroke-width="0.7"/>
<line x1="307.10" y1="80.80" x2="308.70" y2="80.80" stroke="#000" stroke-width="0.7"/>
<line x1="307.10" y1="84.00" x2="308.70" y2="84.00" stroke="#000" stroke-width="0.7"/>
<line x1="307.10" y1="87.20" x2="308.70" y2="87.20" stroke="#000" stroke-width="0.7"/>
<line x1="307.10" y1="90.40" x2="308.70" y2="90.40" stroke="#000" stroke-width="0.7"/>
<line x1="307.10" y1="93.60" x2="308.70" y2="93.60" stroke="#000" stroke-width="0.7"/>
<line x1="307.10" y1="96.80" x2="308.70" y2="96.80" stroke="#000" stroke-width="0.7"/>
<line x1="307.10" y1="100.00" x2="308.70" y2="100.00" stroke="#000" stroke-width="0.7"/>
<line x1="307.10" y1="103.20" x2="308.70" y2="103.20" stroke="#000" stroke-width="0.7"/>
<line x1="307.10" y1="106.40" x2="308.70" y2="106.40" stroke="#000" stroke-width="0.7"/>
<line x1="307.10" y1="109.60" x2="308.70" y2="109.60" stroke="#000" stroke-width="0.7"/>
<line x1="307.10" y1="112.80" x2="308.70" y2="112.80" stroke="#000" stroke-width="0.7"/>
<line x1="306.10" y1="27.60" x2="308.70" y2="27.60" stroke="#000" stroke-width="0.9"/>
<text x="298.08" y="29.80" font-size="6.80" textLength="6.26" lengthAdjust="spacingAndGlyphs" fill="#000" font-weight="bold">10</text>
<text x="303.38" y="26.94" font-size="4.22" fill="#000">5</text>
<line x1="306.10" y1="49.60" x2="308.70" y2="49.60" stroke="#000" stroke-width="0.9"/>
<text x="298.08" y="51.80" font-size="6.80" textLength="6.26" lengthAdjust="spacingAndGlyphs" fill="#000" font-weight="bold">10</text>
<text x="303.38" y="48.94" font-size="4.22" fill="#000">4</text>
<line x1="306.10" y1="72.00" x2="308.70" y2="72.00" stroke="#000" stroke-width="0.9"/>
<text x="298.08" y="74.20" font-size="6.80" textLength="6.26" lengthAdjust="spacingAndGlyphs" fill="#000" font-weight="bold">10</text>
<text x="303.38" y="71.34" font-size="4.22" fill="#000">3</text>
<line x1="306.10" y1="96.60" x2="308.70" y2="96.60" stroke="#000" stroke-width="0.9"/>
<text x="298.08" y="98.80" font-size="6.80" textLength="6.26" lengthAdjust="spacingAndGlyphs" fill="#000" font-weight="bold">10</text>
<text x="303.38" y="95.94" font-size="4.22" fill="#000">2</text>
<line x1="306.10" y1="107.20" x2="308.70" y2="107.20" stroke="#000" stroke-width="0.9"/>
<text x="306.20" y="109.60" font-size="7.00" text-anchor="end">0</text>
<text x="320.90" y="128.40" font-size="7.00" text-anchor="middle">0</text>
<text x="326.79" y="128.40" font-size="6.80" textLength="6.26" lengthAdjust="spacingAndGlyphs" fill="#000" font-weight="bold">10</text>
<text x="332.09" y="125.54" font-size="4.22" fill="#000">2</text>
<text x="351.99" y="128.40" font-size="6.80" textLength="6.26" lengthAdjust="spacingAndGlyphs" fill="#000" font-weight="bold">10</text>
<text x="357.29" y="125.54" font-size="4.22" fill="#000">3</text>
<text x="376.99" y="128.40" font-size="6.80" textLength="6.26" lengthAdjust="spacingAndGlyphs" fill="#000" font-weight="bold">10</text>
<text x="382.29" y="125.54" font-size="4.22" fill="#000">4</text>
<text x="400.29" y="128.40" font-size="6.80" textLength="6.26" lengthAdjust="spacingAndGlyphs" fill="#000" font-weight="bold">10</text>
<text x="405.59" y="125.54" font-size="4.22" fill="#000">5</text>
<text x="361.50" y="134.40" font-size="7.20" font-weight="bold" text-anchor="middle" textLength="17.50" lengthAdjust="spacingAndGlyphs">CD41</text>
<text x="296.10" y="64.50" font-size="7.00" text-anchor="middle" textLength="20.50" lengthAdjust="spacingAndGlyphs" transform="rotate(-90 296.10 64.50)" font-weight="500">SSC-A</text>
<text x="397.30" y="84.30" font-size="10.50" font-weight="bold" textLength="10.40" lengthAdjust="spacingAndGlyphs">94</text>
<text x="0.20" y="159.90" font-size="12.80" font-weight="bold">B</text>
<path d="M78.0 250.0 L78.3 248.4 L78.6 245.3 L78.9 241.4 L79.2 236.5 L79.5 229.4 L79.8 220.9 L80.1 211.9 L80.4 201.3 L80.7 190.0 L81.0 180.0 L81.3 170.3 L81.6 163.1 L81.9 163.5 L82.2 167.6 L82.5 173.2 L82.8 179.3 L83.1 187.6 L83.4 195.8 L83.7 201.7 L84.0 206.9 L84.3 210.6 L84.6 211.4 L84.9 210.1 L85.2 207.8 L85.5 205.0 L85.8 200.8 L86.1 194.8 L86.4 188.0 L86.7 181.8 L87.0 176.5 L87.3 170.8 L87.6 165.2 L87.9 160.3 L88.2 156.9 L88.5 155.6 L88.8 158.3 L89.1 164.9 L89.4 173.6 L89.7 182.4 L90.0 190.5 L90.3 199.6 L90.6 208.0 L90.9 213.6 L91.2 218.1 L91.5 220.8 L91.8 220.8 L92.1 219.8 L92.4 218.4 L92.7 216.7 L93.0 215.0 L93.3 213.3 L93.6 211.3 L93.9 209.2 L94.2 207.1 L94.5 205.0 L94.8 202.7 L95.1 200.0 L95.4 197.8 L95.7 196.5 L96.0 197.4 L96.3 201.6 L96.6 207.0 L96.9 211.3 L97.2 215.7 L97.5 220.2 L97.8 223.8 L98.1 225.8 L98.4 225.9 L98.7 225.6 L99.0 225.1 L99.3 224.5 L99.6 223.7 L99.9 222.5 L100.2 220.7 L100.5 218.5 L100.8 216.0 L101.1 213.4 L101.4 210.8 L101.7 208.1 L102.0 204.4 L102.3 200.3 L102.6 196.6 L102.9 193.7 L103.2 192.3 L103.5 194.8 L103.8 202.1 L104.1 210.6 L104.4 216.7 L104.7 221.8 L105.0 226.5 L105.3 230.2 L105.6 232.7 L105.9 234.8 L106.2 236.4 L106.5 237.0 L106.8 236.5 L107.1 235.3 L107.4 233.5 L107.7 231.6 L108.0 229.6 L108.3 228.0 L108.6 226.5 L108.9 224.8 L109.2 223.2 L109.5 221.7 L109.8 220.5 L110.1 219.8 L110.4 219.8 L110.7 222.9 L111.0 227.9 L111.3 232.8 L111.6 235.8 L111.9 238.0 L112.2 240.1 L112.5 241.8 L112.8 242.8 L113.1 243.0 L113.4 242.5 L113.7 241.8 L114.0 241.2 L114.3 241.0 L114.6 240.8 L114.9 240.7 L115.2 240.7 L115.5 240.9 L115.8 241.8 L116.1 243.1 L116.4 244.5 L116.7 245.7 L117.0 246.5 L117.3 247.2 L117.6 247.9 L117.9 248.6 L118.2 249.1 L118.5 249.6 L118.8 250.0" fill="none" stroke="#333" stroke-width="1.0" stroke-linejoin="round"/>
<rect x="25.20" y="151.60" width="108.30" height="98.60" fill="none" stroke="#222" stroke-width="1.0"/>
<line x1="25.20" y1="151.60" x2="25.20" y2="250.70" stroke="#000" stroke-width="1.5"/>
<line x1="24.70" y1="250.20" x2="133.50" y2="250.20" stroke="#000" stroke-width="1.6"/>
<line x1="27.20" y1="250.20" x2="27.20" y2="251.70" stroke="#000" stroke-width="0.8"/>
<line x1="29.90" y1="250.20" x2="29.90" y2="251.70" stroke="#000" stroke-width="0.8"/>
<line x1="32.60" y1="250.20" x2="32.60" y2="251.70" stroke="#000" stroke-width="0.8"/>
<line x1="35.30" y1="250.20" x2="35.30" y2="251.70" stroke="#000" stroke-width="0.8"/>
<line x1="38.00" y1="250.20" x2="38.00" y2="251.70" stroke="#000" stroke-width="0.8"/>
<line x1="40.70" y1="250.20" x2="40.70" y2="251.70" stroke="#000" stroke-width="0.8"/>
<line x1="43.40" y1="250.20" x2="43.40" y2="251.70" stroke="#000" stroke-width="0.8"/>
<line x1="46.10" y1="250.20" x2="46.10" y2="251.70" stroke="#000" stroke-width="0.8"/>
<line x1="48.80" y1="250.20" x2="48.80" y2="251.70" stroke="#000" stroke-width="0.8"/>
<line x1="51.50" y1="250.20" x2="51.50" y2="251.70" stroke="#000" stroke-width="0.8"/>
<line x1="54.20" y1="250.20" x2="54.20" y2="251.70" stroke="#000" stroke-width="0.8"/>
<line x1="56.90" y1="250.20" x2="56.90" y2="252.40" stroke="#000" stroke-width="0.8"/>
<line x1="59.60" y1="250.20" x2="59.60" y2="251.70" stroke="#000" stroke-width="0.8"/>
<line x1="62.30" y1="250.20" x2="62.30" y2="251.70" stroke="#000" stroke-width="0.8"/>
<line x1="65.00" y1="250.20" x2="65.00" y2="251.70" stroke="#000" stroke-width="0.8"/>
<line x1="67.70" y1="250.20" x2="67.70" y2="251.70" stroke="#000" stroke-width="0.8"/>
<line x1="70.40" y1="250.20" x2="70.40" y2="251.70" stroke="#000" stroke-width="0.8"/>
<line x1="73.10" y1="250.20" x2="73.10" y2="252.40" stroke="#000" stroke-width="0.8"/>
<line x1="75.80" y1="250.20" x2="75.80" y2="251.70" stroke="#000" stroke-width="0.8"/>
<line x1="78.50" y1="250.20" x2="78.50" y2="251.70" stroke="#000" stroke-width="0.8"/>
<line x1="81.20" y1="250.20" x2="81.20" y2="251.70" stroke="#000" stroke-width="0.8"/>
<line x1="83.90" y1="250.20" x2="83.90" y2="251.70" stroke="#000" stroke-width="0.8"/>
<line x1="86.60" y1="250.20" x2="86.60" y2="252.40" stroke="#000" stroke-width="0.8"/>
<line x1="89.30" y1="250.20" x2="89.30" y2="251.70" stroke="#000" stroke-width="0.8"/>
<line x1="92.00" y1="250.20" x2="92.00" y2="252.40" stroke="#000" stroke-width="0.8"/>
<line x1="94.70" y1="250.20" x2="94.70" y2="251.70" stroke="#000" stroke-width="0.8"/>
<line x1="97.40" y1="250.20" x2="97.40" y2="252.40" stroke="#000" stroke-width="0.8"/>
<line x1="100.10" y1="250.20" x2="100.10" y2="251.70" stroke="#000" stroke-width="0.8"/>
<line x1="102.80" y1="250.20" x2="102.80" y2="252.40" stroke="#000" stroke-width="0.8"/>
<line x1="105.50" y1="250.20" x2="105.50" y2="252.40" stroke="#000" stroke-width="0.8"/>
<line x1="108.20" y1="250.20" x2="108.20" y2="252.40" stroke="#000" stroke-width="0.8"/>
<line x1="110.90" y1="250.20" x2="110.90" y2="252.40" stroke="#000" stroke-width="0.8"/>
<line x1="113.60" y1="250.20" x2="113.60" y2="251.70" stroke="#000" stroke-width="0.8"/>
<line x1="116.30" y1="250.20" x2="116.30" y2="251.70" stroke="#000" stroke-width="0.8"/>
<line x1="119.00" y1="250.20" x2="119.00" y2="251.70" stroke="#000" stroke-width="0.8"/>
<line x1="121.70" y1="250.20" x2="121.70" y2="251.70" stroke="#000" stroke-width="0.8"/>
<line x1="124.40" y1="250.20" x2="124.40" y2="251.70" stroke="#000" stroke-width="0.8"/>
<line x1="127.10" y1="250.20" x2="127.10" y2="251.70" stroke="#000" stroke-width="0.8"/>
<line x1="129.80" y1="250.20" x2="129.80" y2="251.70" stroke="#000" stroke-width="0.8"/>
<line x1="132.50" y1="250.20" x2="132.50" y2="251.70" stroke="#000" stroke-width="0.8"/>
<line x1="23.80" y1="155.60" x2="25.20" y2="155.60" stroke="#000" stroke-width="0.7"/>
<line x1="23.80" y1="161.10" x2="25.20" y2="161.10" stroke="#000" stroke-width="0.7"/>
<line x1="23.80" y1="166.60" x2="25.20" y2="166.60" stroke="#000" stroke-width="0.7"/>
<line x1="23.80" y1="172.10" x2="25.20" y2="172.10" stroke="#000" stroke-width="0.7"/>
<line x1="23.80" y1="177.60" x2="25.20" y2="177.60" stroke="#000" stroke-width="0.7"/>
<line x1="23.80" y1="183.10" x2="25.20" y2="183.10" stroke="#000" stroke-width="0.7"/>
<line x1="23.80" y1="188.60" x2="25.20" y2="188.60" stroke="#000" stroke-width="0.7"/>
<line x1="23.80" y1="194.10" x2="25.20" y2="194.10" stroke="#000" stroke-width="0.7"/>
<line x1="23.80" y1="199.60" x2="25.20" y2="199.60" stroke="#000" stroke-width="0.7"/>
<line x1="23.80" y1="205.10" x2="25.20" y2="205.10" stroke="#000" stroke-width="0.7"/>
<line x1="23.80" y1="210.60" x2="25.20" y2="210.60" stroke="#000" stroke-width="0.7"/>
<line x1="23.80" y1="216.10" x2="25.20" y2="216.10" stroke="#000" stroke-width="0.7"/>
<line x1="23.80" y1="221.60" x2="25.20" y2="221.60" stroke="#000" stroke-width="0.7"/>
<line x1="23.80" y1="227.10" x2="25.20" y2="227.10" stroke="#000" stroke-width="0.7"/>
<line x1="23.80" y1="232.60" x2="25.20" y2="232.60" stroke="#000" stroke-width="0.7"/>
<line x1="23.80" y1="238.10" x2="25.20" y2="238.10" stroke="#000" stroke-width="0.7"/>
<line x1="23.80" y1="243.60" x2="25.20" y2="243.60" stroke="#000" stroke-width="0.7"/>
<line x1="23.80" y1="249.10" x2="25.20" y2="249.10" stroke="#000" stroke-width="0.7"/>
<line x1="22.70" y1="164.70" x2="25.20" y2="164.70" stroke="#000" stroke-width="0.9"/>
<text x="23.80" y="168.20" font-size="8.00" text-anchor="end" textLength="7.40" lengthAdjust="spacingAndGlyphs" fill="#111">30</text>
<line x1="22.70" y1="192.80" x2="25.20" y2="192.80" stroke="#000" stroke-width="0.9"/>
<text x="23.80" y="196.30" font-size="8.00" text-anchor="end" textLength="7.40" lengthAdjust="spacingAndGlyphs" fill="#111">20</text>
<line x1="22.70" y1="221.60" x2="25.20" y2="221.60" stroke="#000" stroke-width="0.9"/>
<text x="23.80" y="225.10" font-size="8.00" text-anchor="end" textLength="7.40" lengthAdjust="spacingAndGlyphs" fill="#111">10</text>
<line x1="22.70" y1="251.20" x2="25.20" y2="251.20" stroke="#000" stroke-width="0.9"/>
<text x="23.80" y="254.70" font-size="8.00" text-anchor="end" textLength="3.70" lengthAdjust="spacingAndGlyphs" fill="#111">0</text>
<text x="37.70" y="263.10" font-size="7.40" text-anchor="middle" fill="#222">0</text>
<text x="43.56" y="263.10" font-size="7.20" textLength="6.62" lengthAdjust="spacingAndGlyphs" fill="#000" font-weight="bold">10</text>
<text x="49.18" y="260.08" font-size="4.46" fill="#000">2</text>
<text x="71.36" y="263.10" font-size="7.20" textLength="6.62" lengthAdjust="spacingAndGlyphs" fill="#000" font-weight="bold">10</text>
<text x="76.98" y="260.08" font-size="4.46" fill="#000">3</text>
<text x="94.86" y="263.10" font-size="7.20" textLength="6.62" lengthAdjust="spacingAndGlyphs" fill="#000" font-weight="bold">10</text>
<text x="100.48" y="260.08" font-size="4.46" fill="#000">4</text>
<text x="118.66" y="263.10" font-size="7.20" textLength="6.62" lengthAdjust="spacingAndGlyphs" fill="#000" font-weight="bold">10</text>
<text x="124.28" y="260.08" font-size="4.46" fill="#000">5</text>
<text x="84.50" y="268.40" font-size="7.20" text-anchor="middle" textLength="24.00" lengthAdjust="spacingAndGlyphs" fill="#222">DAPI-A</text>
<text x="16.90" y="196.50" font-size="7.00" text-anchor="middle" textLength="22.00" lengthAdjust="spacingAndGlyphs" fill="#222" transform="rotate(-90 16.90 196.50)"># Cells</text>
<path d="M218.3 250.0 L218.6 249.7 L218.9 248.9 L219.2 247.6 L219.5 246.0 L219.8 242.6 L220.1 236.4 L220.4 228.1 L220.7 215.5 L221.0 195.7 L221.3 180.9 L221.6 169.0 L221.9 161.6 L222.2 162.4 L222.5 168.1 L222.8 175.6 L223.1 183.4 L223.4 192.8 L223.7 200.0 L224.0 204.5 L224.3 207.7 L224.6 208.5 L224.9 207.9 L225.2 206.8 L225.5 205.5 L225.8 203.8 L226.1 201.1 L226.4 197.6 L226.7 193.8 L227.0 190.0 L227.3 185.9 L227.6 181.4 L227.9 176.6 L228.2 172.1 L228.5 168.0 L228.8 163.9 L229.1 159.6 L229.4 156.3 L229.7 155.0 L230.0 158.5 L230.3 166.8 L230.6 176.9 L230.9 187.1 L231.2 199.5 L231.5 210.0 L231.8 218.2 L232.1 224.0 L232.4 225.0 L232.7 225.5 L233.0 225.8 L233.3 226.0 L233.6 226.0 L233.9 225.6 L234.2 224.9 L234.5 223.9 L234.8 222.7 L235.1 221.5 L235.4 220.4 L235.7 219.2 L236.0 217.8 L236.3 216.2 L236.6 214.6 L236.9 213.2 L237.2 212.1 L237.5 211.5 L237.8 211.9 L238.1 213.9 L238.4 216.8 L238.7 219.7 L239.0 222.0 L239.3 223.7 L239.6 225.4 L239.9 227.0 L240.2 228.4 L240.5 229.3 L240.8 229.6 L241.1 229.4 L241.4 228.8 L241.7 227.9 L242.0 226.9 L242.3 225.7 L242.6 224.6 L242.9 222.8 L243.2 220.5 L243.5 218.2 L243.8 216.1 L244.1 214.8 L244.4 214.6 L244.7 216.0 L245.0 218.5 L245.3 221.3 L245.6 223.8 L245.9 226.3 L246.2 228.9 L246.5 231.2 L246.8 233.0 L247.1 234.4 L247.4 235.6 L247.7 236.7 L248.0 237.4 L248.3 237.7 L248.6 237.5 L248.9 236.8 L249.2 236.0 L249.5 235.0 L249.8 234.0 L250.1 232.7 L250.4 231.1 L250.7 229.4 L251.0 228.1 L251.3 227.6 L251.6 228.4 L251.9 230.4 L252.2 232.9 L252.5 235.0 L252.8 236.8 L253.1 238.7 L253.4 240.4 L253.7 241.7 L254.0 242.6 L254.3 243.3 L254.6 244.0 L254.9 244.5 L255.2 244.8 L255.5 244.8 L255.8 244.5 L256.1 244.2 L256.4 243.8 L256.7 243.5 L257.0 243.2 L257.3 242.8 L257.6 242.5 L257.9 242.3 L258.2 242.5 L258.5 243.5 L258.8 244.8 L259.1 246.2 L259.4 247.1 L259.7 248.0 L260.0 248.9 L260.3 249.7" fill="none" stroke="#333" stroke-width="1.0" stroke-linejoin="round"/>
<rect x="166.60" y="151.60" width="108.00" height="98.60" fill="none" stroke="#222" stroke-width="1.0"/>
<line x1="166.60" y1="151.60" x2="166.60" y2="250.70" stroke="#000" stroke-width="1.5"/>
<line x1="166.10" y1="250.20" x2="274.60" y2="250.20" stroke="#000" stroke-width="1.6"/>
<line x1="168.60" y1="250.20" x2="168.60" y2="251.70" stroke="#000" stroke-width="0.8"/>
<line x1="171.30" y1="250.20" x2="171.30" y2="252.40" stroke="#000" stroke-width="0.8"/>
<line x1="174.00" y1="250.20" x2="174.00" y2="251.70" stroke="#000" stroke-width="0.8"/>
<line x1="176.70" y1="250.20" x2="176.70" y2="251.70" stroke="#000" stroke-width="0.8"/>
<line x1="179.40" y1="250.20" x2="179.40" y2="251.70" stroke="#000" stroke-width="0.8"/>
<line x1="182.10" y1="250.20" x2="182.10" y2="251.70" stroke="#000" stroke-width="0.8"/>
<line x1="184.80" y1="250.20" x2="184.80" y2="252.40" stroke="#000" stroke-width="0.8"/>
<line x1="187.50" y1="250.20" x2="187.50" y2="252.40" stroke="#000" stroke-width="0.8"/>
<line x1="190.20" y1="250.20" x2="190.20" y2="251.70" stroke="#000" stroke-width="0.8"/>
<line x1="192.90" y1="250.20" x2="192.90" y2="251.70" stroke="#000" stroke-width="0.8"/>
<line x1="195.60" y1="250.20" x2="195.60" y2="252.40" stroke="#000" stroke-width="0.8"/>
<line x1="198.30" y1="250.20" x2="198.30" y2="251.70" stroke="#000" stroke-width="0.8"/>
<line x1="201.00" y1="250.20" x2="201.00" y2="252.40" stroke="#000" stroke-width="0.8"/>
<line x1="203.70" y1="250.20" x2="203.70" y2="251.70" stroke="#000" stroke-width="0.8"/>
<line x1="206.40" y1="250.20" x2="206.40" y2="251.70" stroke="#000" stroke-width="0.8"/>
<line x1="209.10" y1="250.20" x2="209.10" y2="252.40" stroke="#000" stroke-width="0.8"/>
<line x1="211.80" y1="250.20" x2="211.80" y2="251.70" stroke="#000" stroke-width="0.8"/>
<line x1="214.50" y1="250.20" x2="214.50" y2="251.70" stroke="#000" stroke-width="0.8"/>
<line x1="217.20" y1="250.20" x2="217.20" y2="251.70" stroke="#000" stroke-width="0.8"/>
<line x1="219.90" y1="250.20" x2="219.90" y2="252.40" stroke="#000" stroke-width="0.8"/>
<line x1="222.60" y1="250.20" x2="222.60" y2="251.70" stroke="#000" stroke-width="0.8"/>
<line x1="225.30" y1="250.20" x2="225.30" y2="251.70" stroke="#000" stroke-width="0.8"/>
<line x1="228.00" y1="250.20" x2="228.00" y2="251.70" stroke="#000" stroke-width="0.8"/>
<line x1="230.70" y1="250.20" x2="230.70" y2="252.40" stroke="#000" stroke-width="0.8"/>
<line x1="233.40" y1="250.20" x2="233.40" y2="252.40" stroke="#000" stroke-width="0.8"/>
<line x1="236.10" y1="250.20" x2="236.10" y2="251.70" stroke="#000" stroke-width="0.8"/>
<line x1="238.80" y1="250.20" x2="238.80" y2="251.70" stroke="#000" stroke-width="0.8"/>
<line x1="241.50" y1="250.20" x2="241.50" y2="252.40" stroke="#000" stroke-width="0.8"/>
<line x1="244.20" y1="250.20" x2="244.20" y2="251.70" stroke="#000" stroke-width="0.8"/>
<line x1="246.90" y1="250.20" x2="246.90" y2="252.40" stroke="#000" stroke-width="0.8"/>
<line x1="249.60" y1="250.20" x2="249.60" y2="252.40" stroke="#000" stroke-width="0.8"/>
<line x1="252.30" y1="250.20" x2="252.30" y2="251.70" stroke="#000" stroke-width="0.8"/>
<line x1="255.00" y1="250.20" x2="255.00" y2="251.70" stroke="#000" stroke-width="0.8"/>
<line x1="257.70" y1="250.20" x2="257.70" y2="251.70" stroke="#000" stroke-width="0.8"/>
<line x1="260.40" y1="250.20" x2="260.40" y2="251.70" stroke="#000" stroke-width="0.8"/>
<line x1="263.10" y1="250.20" x2="263.10" y2="251.70" stroke="#000" stroke-width="0.8"/>
<line x1="265.80" y1="250.20" x2="265.80" y2="251.70" stroke="#000" stroke-width="0.8"/>
<line x1="268.50" y1="250.20" x2="268.50" y2="252.40" stroke="#000" stroke-width="0.8"/>
<line x1="271.20" y1="250.20" x2="271.20" y2="251.70" stroke="#000" stroke-width="0.8"/>
<line x1="273.90" y1="250.20" x2="273.90" y2="252.40" stroke="#000" stroke-width="0.8"/>
<line x1="165.20" y1="155.60" x2="166.60" y2="155.60" stroke="#000" stroke-width="0.7"/>
<line x1="165.20" y1="161.10" x2="166.60" y2="161.10" stroke="#000" stroke-width="0.7"/>
<line x1="165.20" y1="166.60" x2="166.60" y2="166.60" stroke="#000" stroke-width="0.7"/>
<line x1="165.20" y1="172.10" x2="166.60" y2="172.10" stroke="#000" stroke-width="0.7"/>
<line x1="165.20" y1="177.60" x2="166.60" y2="177.60" stroke="#000" stroke-width="0.7"/>
<line x1="165.20" y1="183.10" x2="166.60" y2="183.10" stroke="#000" stroke-width="0.7"/>
<line x1="165.20" y1="188.60" x2="166.60" y2="188.60" stroke="#000" stroke-width="0.7"/>
<line x1="165.20" y1="194.10" x2="166.60" y2="194.10" stroke="#000" stroke-width="0.7"/>
<line x1="165.20" y1="199.60" x2="166.60" y2="199.60" stroke="#000" stroke-width="0.7"/>
<line x1="165.20" y1="205.10" x2="166.60" y2="205.10" stroke="#000" stroke-width="0.7"/>
<line x1="165.20" y1="210.60" x2="166.60" y2="210.60" stroke="#000" stroke-width="0.7"/>
<line x1="165.20" y1="216.10" x2="166.60" y2="216.10" stroke="#000" stroke-width="0.7"/>
<line x1="165.20" y1="221.60" x2="166.60" y2="221.60" stroke="#000" stroke-width="0.7"/>
<line x1="165.20" y1="227.10" x2="166.60" y2="227.10" stroke="#000" stroke-width="0.7"/>
<line x1="165.20" y1="232.60" x2="166.60" y2="232.60" stroke="#000" stroke-width="0.7"/>
<line x1="165.20" y1="238.10" x2="166.60" y2="238.10" stroke="#000" stroke-width="0.7"/>
<line x1="165.20" y1="243.60" x2="166.60" y2="243.60" stroke="#000" stroke-width="0.7"/>
<line x1="165.20" y1="249.10" x2="166.60" y2="249.10" stroke="#000" stroke-width="0.7"/>
<line x1="164.10" y1="154.10" x2="166.60" y2="154.10" stroke="#000" stroke-width="0.9"/>
<text x="165.20" y="157.60" font-size="8.00" text-anchor="end" textLength="7.40" lengthAdjust="spacingAndGlyphs" fill="#111">80</text>
<line x1="164.10" y1="178.40" x2="166.60" y2="178.40" stroke="#000" stroke-width="0.9"/>
<text x="165.20" y="181.90" font-size="8.00" text-anchor="end" textLength="7.40" lengthAdjust="spacingAndGlyphs" fill="#111">60</text>
<line x1="164.10" y1="202.40" x2="166.60" y2="202.40" stroke="#000" stroke-width="0.9"/>
<text x="165.20" y="205.90" font-size="8.00" text-anchor="end" textLength="7.40" lengthAdjust="spacingAndGlyphs" fill="#111">40</text>
<line x1="164.10" y1="225.70" x2="166.60" y2="225.70" stroke="#000" stroke-width="0.9"/>
<text x="165.20" y="229.20" font-size="8.00" text-anchor="end" textLength="7.40" lengthAdjust="spacingAndGlyphs" fill="#111">20</text>
<line x1="164.10" y1="250.50" x2="166.60" y2="250.50" stroke="#000" stroke-width="0.9"/>
<text x="165.20" y="254.00" font-size="8.00" text-anchor="end" textLength="3.70" lengthAdjust="spacingAndGlyphs" fill="#111">0</text>
<text x="179.10" y="263.10" font-size="7.40" text-anchor="middle" fill="#222">0</text>
<text x="184.96" y="263.10" font-size="7.20" textLength="6.62" lengthAdjust="spacingAndGlyphs" fill="#000" font-weight="bold">10</text>
<text x="190.58" y="260.08" font-size="4.46" fill="#000">2</text>
<text x="212.76" y="263.10" font-size="7.20" textLength="6.62" lengthAdjust="spacingAndGlyphs" fill="#000" font-weight="bold">10</text>
<text x="218.38" y="260.08" font-size="4.46" fill="#000">3</text>
<text x="236.26" y="263.10" font-size="7.20" textLength="6.62" lengthAdjust="spacingAndGlyphs" fill="#000" font-weight="bold">10</text>
<text x="241.88" y="260.08" font-size="4.46" fill="#000">4</text>
<text x="260.06" y="263.10" font-size="7.20" textLength="6.62" lengthAdjust="spacingAndGlyphs" fill="#000" font-weight="bold">10</text>
<text x="265.68" y="260.08" font-size="4.46" fill="#000">5</text>
<text x="227.00" y="268.40" font-size="7.20" text-anchor="middle" textLength="24.00" lengthAdjust="spacingAndGlyphs" fill="#222">DAPI-A</text>
<text x="158.60" y="196.50" font-size="7.00" text-anchor="middle" textLength="22.00" lengthAdjust="spacingAndGlyphs" fill="#222" transform="rotate(-90 158.60 196.50)"># Cells</text>
<path d="M359.7 250.0 L360.0 247.4 L360.3 243.7 L360.6 239.1 L360.9 233.9 L361.2 227.1 L361.5 216.5 L361.8 203.9 L362.1 191.6 L362.4 181.6 L362.7 176.2 L363.0 177.1 L363.3 182.9 L363.6 191.5 L363.9 200.6 L364.2 208.2 L364.5 213.2 L364.8 218.1 L365.1 222.4 L365.4 225.5 L365.7 226.7 L366.0 225.4 L366.3 221.9 L366.6 217.0 L366.9 211.2 L367.2 205.3 L367.5 200.0 L367.8 194.5 L368.1 187.9 L368.4 180.9 L368.7 174.0 L369.0 167.8 L369.3 163.0 L369.6 160.0 L369.9 159.8 L370.2 165.2 L370.5 174.7 L370.8 185.7 L371.1 195.5 L371.4 201.7 L371.7 206.8 L372.0 211.7 L372.3 215.7 L372.6 218.5 L372.9 219.5 L373.2 218.5 L373.5 216.1 L373.8 212.8 L374.1 209.2 L374.4 205.9 L374.7 203.2 L375.0 200.2 L375.3 197.1 L375.6 194.2 L375.9 191.8 L376.2 190.1 L376.5 189.5 L376.8 191.6 L377.1 196.9 L377.4 203.7 L377.7 210.3 L378.0 215.0 L378.3 218.2 L378.6 221.4 L378.9 224.2 L379.2 226.4 L379.5 227.7 L379.8 228.0 L380.1 227.7 L380.4 227.1 L380.7 226.4 L381.0 225.5 L381.3 224.6 L381.6 223.7 L381.9 222.4 L382.2 220.9 L382.5 219.4 L382.8 218.1 L383.1 217.3 L383.4 217.2 L383.7 218.7 L384.0 221.5 L384.3 225.0 L384.6 228.4 L384.9 231.3 L385.2 233.3 L385.5 235.4 L385.8 237.3 L386.1 238.8 L386.4 239.8 L386.7 240.0 L387.0 239.8 L387.3 239.5 L387.6 239.0 L387.9 238.5 L388.2 238.1 L388.5 237.8 L388.8 237.3 L389.1 236.9 L389.4 236.5 L389.7 236.1 L390.0 235.9 L390.3 236.0 L390.6 236.9 L390.9 238.6 L391.2 240.6 L391.5 242.5 L391.8 244.0 L392.1 245.1 L392.4 246.2 L392.7 247.2 L393.0 248.0 L393.3 248.4 L393.6 248.3 L393.9 248.1 L394.2 247.7 L394.5 247.3 L394.8 247.1 L395.1 247.0 L395.4 247.1 L395.7 247.4 L396.0 247.8 L396.3 248.3 L396.6 249.0 L396.9 249.7" fill="none" stroke="#333" stroke-width="1.0" stroke-linejoin="round"/>
<rect x="308.10" y="151.60" width="106.30" height="98.60" fill="none" stroke="#222" stroke-width="1.0"/>
<line x1="308.10" y1="151.60" x2="308.10" y2="250.70" stroke="#000" stroke-width="1.5"/>
<line x1="307.60" y1="250.20" x2="414.40" y2="250.20" stroke="#000" stroke-width="1.6"/>
<line x1="310.10" y1="250.20" x2="310.10" y2="251.70" stroke="#000" stroke-width="0.8"/>
<line x1="312.80" y1="250.20" x2="312.80" y2="251.70" stroke="#000" stroke-width="0.8"/>
<line x1="315.50" y1="250.20" x2="315.50" y2="251.70" stroke="#000" stroke-width="0.8"/>
<line x1="318.20" y1="250.20" x2="318.20" y2="251.70" stroke="#000" stroke-width="0.8"/>
<line x1="320.90" y1="250.20" x2="320.90" y2="251.70" stroke="#000" stroke-width="0.8"/>
<line x1="323.60" y1="250.20" x2="323.60" y2="251.70" stroke="#000" stroke-width="0.8"/>
<line x1="326.30" y1="250.20" x2="326.30" y2="252.40" stroke="#000" stroke-width="0.8"/>
<line x1="329.00" y1="250.20" x2="329.00" y2="251.70" stroke="#000" stroke-width="0.8"/>
<line x1="331.70" y1="250.20" x2="331.70" y2="252.40" stroke="#000" stroke-width="0.8"/>
<line x1="334.40" y1="250.20" x2="334.40" y2="251.70" stroke="#000" stroke-width="0.8"/>
<line x1="337.10" y1="250.20" x2="337.10" y2="251.70" stroke="#000" stroke-width="0.8"/>
<line x1="339.80" y1="250.20" x2="339.80" y2="251.70" stroke="#000" stroke-width="0.8"/>
<line x1="342.50" y1="250.20" x2="342.50" y2="252.40" stroke="#000" stroke-width="0.8"/>
<line x1="345.20" y1="250.20" x2="345.20" y2="251.70" stroke="#000" stroke-width="0.8"/>
<line x1="347.90" y1="250.20" x2="347.90" y2="251.70" stroke="#000" stroke-width="0.8"/>
<line x1="350.60" y1="250.20" x2="350.60" y2="251.70" stroke="#000" stroke-width="0.8"/>
<line x1="353.30" y1="250.20" x2="353.30" y2="251.70" stroke="#000" stroke-width="0.8"/>
<line x1="356.00" y1="250.20" x2="356.00" y2="252.40" stroke="#000" stroke-width="0.8"/>
<line x1="358.70" y1="250.20" x2="358.70" y2="251.70" stroke="#000" stroke-width="0.8"/>
<line x1="361.40" y1="250.20" x2="361.40" y2="251.70" stroke="#000" stroke-width="0.8"/>
<line x1="364.10" y1="250.20" x2="364.10" y2="251.70" stroke="#000" stroke-width="0.8"/>
<line x1="366.80" y1="250.20" x2="366.80" y2="252.40" stroke="#000" stroke-width="0.8"/>
<line x1="369.50" y1="250.20" x2="369.50" y2="251.70" stroke="#000" stroke-width="0.8"/>
<line x1="372.20" y1="250.20" x2="372.20" y2="251.70" stroke="#000" stroke-width="0.8"/>
<line x1="374.90" y1="250.20" x2="374.90" y2="251.70" stroke="#000" stroke-width="0.8"/>
<line x1="377.60" y1="250.20" x2="377.60" y2="252.40" stroke="#000" stroke-width="0.8"/>
<line x1="380.30" y1="250.20" x2="380.30" y2="251.70" stroke="#000" stroke-width="0.8"/>
<line x1="383.00" y1="250.20" x2="383.00" y2="252.40" stroke="#000" stroke-width="0.8"/>
<line x1="385.70" y1="250.20" x2="385.70" y2="252.40" stroke="#000" stroke-width="0.8"/>
<line x1="388.40" y1="250.20" x2="388.40" y2="251.70" stroke="#000" stroke-width="0.8"/>
<line x1="391.10" y1="250.20" x2="391.10" y2="251.70" stroke="#000" stroke-width="0.8"/>
<line x1="393.80" y1="250.20" x2="393.80" y2="252.40" stroke="#000" stroke-width="0.8"/>
<line x1="396.50" y1="250.20" x2="396.50" y2="251.70" stroke="#000" stroke-width="0.8"/>
<line x1="399.20" y1="250.20" x2="399.20" y2="251.70" stroke="#000" stroke-width="0.8"/>
<line x1="401.90" y1="250.20" x2="401.90" y2="251.70" stroke="#000" stroke-width="0.8"/>
<line x1="404.60" y1="250.20" x2="404.60" y2="251.70" stroke="#000" stroke-width="0.8"/>
<line x1="407.30" y1="250.20" x2="407.30" y2="251.70" stroke="#000" stroke-width="0.8"/>
<line x1="410.00" y1="250.20" x2="410.00" y2="251.70" stroke="#000" stroke-width="0.8"/>
<line x1="412.70" y1="250.20" x2="412.70" y2="251.70" stroke="#000" stroke-width="0.8"/>
<line x1="306.70" y1="155.60" x2="308.10" y2="155.60" stroke="#000" stroke-width="0.7"/>
<line x1="306.70" y1="161.10" x2="308.10" y2="161.10" stroke="#000" stroke-width="0.7"/>
<line x1="306.70" y1="166.60" x2="308.10" y2="166.60" stroke="#000" stroke-width="0.7"/>
<line x1="306.70" y1="172.10" x2="308.10" y2="172.10" stroke="#000" stroke-width="0.7"/>
<line x1="306.70" y1="177.60" x2="308.10" y2="177.60" stroke="#000" stroke-width="0.7"/>
<line x1="306.70" y1="183.10" x2="308.10" y2="183.10" stroke="#000" stroke-width="0.7"/>
<line x1="306.70" y1="188.60" x2="308.10" y2="188.60" stroke="#000" stroke-width="0.7"/>
<line x1="306.70" y1="194.10" x2="308.10" y2="194.10" stroke="#000" stroke-width="0.7"/>
<line x1="306.70" y1="199.60" x2="308.10" y2="199.60" stroke="#000" stroke-width="0.7"/>
<line x1="306.70" y1="205.10" x2="308.10" y2="205.10" stroke="#000" stroke-width="0.7"/>
<line x1="306.70" y1="210.60" x2="308.10" y2="210.60" stroke="#000" stroke-width="0.7"/>
<line x1="306.70" y1="216.10" x2="308.10" y2="216.10" stroke="#000" stroke-width="0.7"/>
<line x1="306.70" y1="221.60" x2="308.10" y2="221.60" stroke="#000" stroke-width="0.7"/>
<line x1="306.70" y1="227.10" x2="308.10" y2="227.10" stroke="#000" stroke-width="0.7"/>
<line x1="306.70" y1="232.60" x2="308.10" y2="232.60" stroke="#000" stroke-width="0.7"/>
<line x1="306.70" y1="238.10" x2="308.10" y2="238.10" stroke="#000" stroke-width="0.7"/>
<line x1="306.70" y1="243.60" x2="308.10" y2="243.60" stroke="#000" stroke-width="0.7"/>
<line x1="306.70" y1="249.10" x2="308.10" y2="249.10" stroke="#000" stroke-width="0.7"/>
<line x1="305.60" y1="168.30" x2="308.10" y2="168.30" stroke="#000" stroke-width="0.9"/>
<text x="306.70" y="171.80" font-size="8.00" text-anchor="end" textLength="11.10" lengthAdjust="spacingAndGlyphs" fill="#111">120</text>
<line x1="305.60" y1="188.70" x2="308.10" y2="188.70" stroke="#000" stroke-width="0.9"/>
<text x="306.70" y="192.20" font-size="8.00" text-anchor="end" textLength="7.40" lengthAdjust="spacingAndGlyphs" fill="#111">90</text>
<line x1="305.60" y1="209.60" x2="308.10" y2="209.60" stroke="#000" stroke-width="0.9"/>
<text x="306.70" y="213.10" font-size="8.00" text-anchor="end" textLength="7.40" lengthAdjust="spacingAndGlyphs" fill="#111">60</text>
<line x1="305.60" y1="231.20" x2="308.10" y2="231.20" stroke="#000" stroke-width="0.9"/>
<text x="306.70" y="234.70" font-size="8.00" text-anchor="end" textLength="7.40" lengthAdjust="spacingAndGlyphs" fill="#111">30</text>
<line x1="305.60" y1="251.50" x2="308.10" y2="251.50" stroke="#000" stroke-width="0.9"/>
<text x="306.70" y="255.00" font-size="8.00" text-anchor="end" textLength="3.70" lengthAdjust="spacingAndGlyphs" fill="#111">0</text>
<text x="320.60" y="263.10" font-size="7.40" text-anchor="middle" fill="#222">0</text>
<text x="326.46" y="263.10" font-size="7.20" textLength="6.62" lengthAdjust="spacingAndGlyphs" fill="#000" font-weight="bold">10</text>
<text x="332.08" y="260.08" font-size="4.46" fill="#000">2</text>
<text x="354.26" y="263.10" font-size="7.20" textLength="6.62" lengthAdjust="spacingAndGlyphs" fill="#000" font-weight="bold">10</text>
<text x="359.88" y="260.08" font-size="4.46" fill="#000">3</text>
<text x="377.76" y="263.10" font-size="7.20" textLength="6.62" lengthAdjust="spacingAndGlyphs" fill="#000" font-weight="bold">10</text>
<text x="383.38" y="260.08" font-size="4.46" fill="#000">4</text>
<text x="401.56" y="263.10" font-size="7.20" textLength="6.62" lengthAdjust="spacingAndGlyphs" fill="#000" font-weight="bold">10</text>
<text x="407.18" y="260.08" font-size="4.46" fill="#000">5</text>
<text x="367.00" y="268.40" font-size="7.20" text-anchor="middle" textLength="24.00" lengthAdjust="spacingAndGlyphs" fill="#222">DAPI-A</text>
<text x="297.90" y="196.50" font-size="7.00" text-anchor="middle" textLength="22.00" lengthAdjust="spacingAndGlyphs" fill="#222" transform="rotate(-90 297.90 196.50)"># Cells</text>
<text x="0.20" y="293.00" font-size="13.00" font-weight="bold">C</text>
<path d="M43.6 350.7 L42.9 350.8 L42.1 350.8 L41.4 350.9 L40.6 350.9 L39.9 350.8 L39.1 350.7 L38.6 350.6 L37.9 350.4 L37.4 350.3 L36.9 350.1 L36.2 349.9 L35.7 349.6 L35.1 349.4 L34.7 349.1 L34.2 348.9 L33.8 348.6 L33.4 348.4 L32.9 348.0 L32.5 347.6 L32.1 347.4 L31.6 346.9 L31.4 346.6 L30.9 346.1 L30.6 345.9 L30.3 345.4 L29.9 344.9 L29.6 344.5 L29.4 344.1 L29.1 343.6 L28.8 343.1 L28.6 342.6 L28.4 342.1 L28.1 341.6 L27.9 340.9 L27.8 340.4 L27.6 339.9 L27.5 339.1 L27.4 338.6 L27.3 337.9 L27.2 337.1 L27.2 336.4 L27.3 335.6 L27.3 334.9 L27.4 334.4 L27.5 333.6 L27.7 333.1 L27.9 332.4 L28.0 331.9 L28.2 331.4 L28.5 330.9 L28.7 330.4 L29.0 329.9 L29.2 329.4 L29.6 328.9 L29.9 328.4 L30.1 328.1 L30.5 327.6 L30.9 327.2 L31.2 326.9 L31.6 326.4 L31.9 326.1 L32.4 325.7 L32.8 325.4 L33.1 325.1 L33.6 324.8 L34.1 324.4 L34.6 324.1 L35.0 323.9 L35.4 323.6 L35.9 323.3 L36.4 323.1 L36.9 322.8 L37.4 322.5 L37.9 322.3 L38.4 322.0 L38.9 321.8 L39.4 321.5 L39.9 321.3 L40.4 321.1 L40.9 320.8 L41.4 320.6 L41.9 320.4 L42.4 320.1 L43.0 319.9 L43.5 319.6 L44.1 319.4 L44.6 319.1 L45.1 318.9 L45.6 318.7 L46.1 318.5 L46.6 318.2 L47.1 318.0 L47.6 317.8 L48.1 317.6 L48.6 317.3 L49.1 317.1 L49.6 316.9 L50.2 316.6 L50.8 316.4 L51.3 316.1 L51.9 315.9 L52.4 315.7 L52.9 315.5 L53.4 315.2 L53.9 315.0 L54.4 314.8 L54.9 314.6 L55.4 314.4 L55.9 314.1 L56.5 313.9 L57.1 313.6 L57.6 313.4 L58.1 313.2 L58.6 313.0 L59.1 312.7 L59.6 312.5 L60.1 312.3 L60.6 312.1 L61.1 311.9 L61.7 311.6 L62.3 311.4 L62.9 311.2 L63.4 310.9 L63.9 310.7 L64.4 310.5 L64.9 310.3 L65.4 310.1 L65.9 309.9 L66.5 309.6 L67.1 309.4 L67.7 309.2 L68.2 309.0 L68.7 308.8 L69.2 308.6 L69.7 308.4 L70.3 308.1 L70.9 308.0 L71.4 307.8 L71.9 307.6 L72.7 307.4 L73.2 307.3 L73.7 307.1 L74.4 307.0 L75.2 306.9 L75.7 306.8 L76.4 306.8 L77.2 306.8 L77.9 306.9 L78.4 306.9 L79.2 307.1 L79.7 307.2 L80.2 307.4 L80.8 307.6 L81.3 307.9 L81.8 308.1 L82.2 308.4 L82.7 308.7 L83.1 309.1 L83.4 309.4 L83.9 309.9 L84.2 310.2 L84.5 310.6 L84.9 311.1 L85.2 311.6 L85.4 312.1 L85.6 312.6 L85.8 313.1 L86.0 313.6 L86.2 314.4 L86.2 314.9 L86.3 315.6 L86.3 316.4 L86.3 317.1 L86.2 317.9 L86.0 318.4 L85.9 318.9 L85.7 319.6 L85.4 320.1 L85.2 320.6 L84.9 321.1 L84.7 321.6 L84.4 321.9 L84.1 322.4 L83.7 322.9 L83.4 323.2 L83.0 323.6 L82.7 324.0 L82.3 324.4 L81.9 324.8 L81.5 325.1 L81.2 325.4 L80.7 325.9 L80.3 326.1 L79.9 326.5 L79.4 326.9 L79.1 327.1 L78.7 327.5 L78.2 327.9 L77.8 328.1 L77.4 328.5 L76.9 328.9 L76.5 329.1 L76.2 329.4 L75.7 329.8 L75.2 330.1 L74.9 330.4 L74.4 330.8 L73.9 331.1 L73.6 331.4 L73.2 331.7 L72.7 332.1 L72.2 332.4 L71.9 332.6 L71.4 333.0 L70.9 333.4 L70.6 333.6 L70.2 334.0 L69.7 334.3 L69.2 334.6 L68.9 334.9 L68.4 335.3 L67.9 335.6 L67.5 335.9 L67.2 336.2 L66.7 336.5 L66.2 336.9 L65.8 337.1 L65.4 337.5 L64.9 337.8 L64.5 338.1 L64.1 338.4 L63.6 338.7 L63.1 339.1 L62.7 339.4 L62.4 339.7 L61.9 340.0 L61.4 340.4 L61.0 340.6 L60.6 340.9 L60.1 341.3 L59.6 341.6 L59.3 341.9 L58.9 342.2 L58.4 342.5 L57.9 342.9 L57.6 343.1 L57.1 343.4 L56.6 343.8 L56.2 344.1 L55.8 344.4 L55.4 344.7 L54.9 345.0 L54.4 345.4 L54.0 345.6 L53.6 345.9 L53.1 346.3 L52.6 346.6 L52.2 346.9 L51.8 347.1 L51.4 347.4 L50.9 347.7 L50.4 348.0 L49.9 348.3 L49.4 348.6 L48.9 348.9 L48.4 349.1 L47.9 349.3 L47.4 349.6 L46.9 349.8 L46.4 350.0 L45.8 350.1 L45.1 350.3 L44.6 350.5 L43.9 350.6Z M43.1 348.4 L42.4 348.5 L41.6 348.6 L40.9 348.6 L40.1 348.5 L39.4 348.4 L38.9 348.3 L38.2 348.1 L37.6 348.0 L37.1 347.8 L36.6 347.6 L36.1 347.4 L35.6 347.1 L35.1 346.8 L34.6 346.5 L34.2 346.1 L33.9 345.9 L33.4 345.5 L33.0 345.1 L32.6 344.7 L32.4 344.4 L31.9 343.9 L31.6 343.5 L31.4 343.1 L31.1 342.6 L30.8 342.1 L30.6 341.6 L30.4 341.1 L30.1 340.5 L29.9 339.9 L29.8 339.4 L29.7 338.6 L29.6 338.1 L29.5 337.4 L29.5 336.6 L29.5 335.9 L29.6 335.1 L29.7 334.6 L29.8 333.9 L30.0 333.4 L30.1 332.8 L30.4 332.2 L30.6 331.6 L30.9 331.1 L31.1 330.7 L31.4 330.3 L31.7 329.9 L32.0 329.4 L32.4 329.0 L32.7 328.6 L33.1 328.2 L33.4 327.9 L33.9 327.5 L34.3 327.1 L34.6 326.9 L35.1 326.5 L35.6 326.1 L36.0 325.9 L36.4 325.6 L36.9 325.4 L37.4 325.1 L37.9 324.8 L38.4 324.6 L38.9 324.3 L39.4 324.1 L39.9 323.8 L40.4 323.6 L40.9 323.4 L41.4 323.1 L42.0 322.9 L42.6 322.6 L43.1 322.4 L43.6 322.2 L44.1 322.0 L44.6 321.8 L45.1 321.5 L45.6 321.3 L46.1 321.1 L46.7 320.9 L47.3 320.6 L47.9 320.4 L48.4 320.2 L48.9 320.0 L49.4 319.8 L49.9 319.6 L50.4 319.4 L50.9 319.1 L51.5 318.9 L52.1 318.6 L52.6 318.4 L53.1 318.2 L53.6 318.0 L54.1 317.8 L54.6 317.6 L55.2 317.4 L55.9 317.1 L56.4 316.9 L56.9 316.7 L57.4 316.5 L57.9 316.3 L58.4 316.1 L59.1 315.9 L59.6 315.7 L60.1 315.5 L60.6 315.3 L61.1 315.1 L61.7 314.9 L62.3 314.6 L62.9 314.4 L63.4 314.3 L63.9 314.1 L64.4 313.9 L65.1 313.6 L65.7 313.4 L66.2 313.3 L66.7 313.1 L67.2 312.9 L67.9 312.7 L68.4 312.5 L68.9 312.3 L69.4 312.1 L70.2 311.9 L70.7 311.8 L71.2 311.6 L71.9 311.4 L72.4 311.3 L73.0 311.1 L73.7 311.0 L74.4 310.9 L74.9 310.9 L75.7 310.8 L76.4 310.8 L77.0 310.9 L77.7 311.0 L78.2 311.2 L78.8 311.4 L79.3 311.6 L79.7 311.9 L80.2 312.3 L80.6 312.6 L80.9 313.0 L81.2 313.4 L81.5 313.9 L81.7 314.4 L81.9 315.1 L82.0 315.6 L82.0 316.4 L82.0 317.1 L81.9 317.7 L81.7 318.4 L81.5 318.9 L81.3 319.4 L81.0 319.9 L80.7 320.4 L80.4 320.9 L80.2 321.2 L79.8 321.6 L79.4 322.1 L79.1 322.4 L78.7 322.9 L78.4 323.1 L77.9 323.6 L77.6 323.9 L77.2 324.3 L76.8 324.6 L76.4 325.0 L75.9 325.4 L75.6 325.6 L75.2 326.1 L74.8 326.4 L74.4 326.7 L73.9 327.1 L73.6 327.4 L73.2 327.8 L72.7 328.1 L72.4 328.4 L71.9 328.8 L71.5 329.1 L71.2 329.4 L70.7 329.9 L70.3 330.1 L69.9 330.5 L69.4 330.9 L69.1 331.1 L68.7 331.5 L68.2 331.9 L67.8 332.1 L67.4 332.5 L66.9 332.9 L66.6 333.1 L66.2 333.5 L65.7 333.9 L65.3 334.1 L64.9 334.5 L64.4 334.9 L64.0 335.1 L63.6 335.5 L63.1 335.8 L62.8 336.1 L62.4 336.4 L61.9 336.8 L61.5 337.1 L61.1 337.4 L60.6 337.8 L60.2 338.1 L59.8 338.4 L59.4 338.7 L58.9 339.1 L58.5 339.4 L58.1 339.7 L57.6 340.1 L57.2 340.4 L56.9 340.6 L56.4 341.0 L55.9 341.4 L55.6 341.6 L55.1 342.0 L54.6 342.3 L54.2 342.6 L53.9 342.9 L53.4 343.3 L52.9 343.6 L52.5 343.9 L52.1 344.2 L51.6 344.5 L51.1 344.9 L50.7 345.1 L50.3 345.4 L49.9 345.7 L49.4 346.0 L48.9 346.3 L48.4 346.6 L47.9 346.8 L47.4 347.1 L46.9 347.3 L46.4 347.5 L45.9 347.7 L45.3 347.9 L44.6 348.1 L44.1 348.2 L43.4 348.4Z M42.9 346.9 L42.1 347.0 L41.4 347.0 L40.6 347.0 L39.9 346.9 L39.4 346.9 L38.6 346.7 L38.1 346.5 L37.6 346.4 L37.1 346.1 L36.6 345.9 L36.1 345.6 L35.6 345.3 L35.1 345.0 L34.7 344.6 L34.4 344.4 L33.9 343.9 L33.6 343.6 L33.3 343.1 L32.9 342.6 L32.6 342.3 L32.4 341.9 L32.1 341.4 L31.9 340.9 L31.6 340.3 L31.4 339.6 L31.3 339.1 L31.2 338.4 L31.1 337.9 L31.0 337.1 L31.0 336.4 L31.1 335.6 L31.1 335.1 L31.3 334.4 L31.4 333.9 L31.6 333.2 L31.9 332.6 L32.1 332.1 L32.4 331.6 L32.6 331.2 L32.9 330.8 L33.2 330.4 L33.6 329.9 L33.9 329.6 L34.3 329.1 L34.6 328.8 L35.1 328.4 L35.5 328.1 L35.9 327.8 L36.4 327.5 L36.9 327.1 L37.3 326.9 L37.7 326.6 L38.2 326.4 L38.6 326.1 L39.1 325.9 L39.6 325.6 L40.2 325.4 L40.7 325.1 L41.3 324.9 L41.9 324.6 L42.4 324.4 L42.9 324.2 L43.4 324.0 L43.9 323.8 L44.4 323.6 L44.9 323.4 L45.5 323.1 L46.1 322.9 L46.6 322.7 L47.1 322.5 L47.6 322.3 L48.1 322.1 L48.7 321.9 L49.4 321.6 L49.9 321.4 L50.4 321.2 L50.9 321.1 L51.4 320.9 L52.0 320.6 L52.6 320.4 L53.1 320.2 L53.6 320.0 L54.1 319.8 L54.7 319.6 L55.4 319.4 L55.9 319.2 L56.4 319.0 L56.9 318.9 L57.5 318.6 L58.1 318.4 L58.6 318.3 L59.1 318.1 L59.7 317.9 L60.4 317.7 L60.9 317.5 L61.4 317.3 L62.0 317.1 L62.6 316.9 L63.1 316.8 L63.6 316.6 L64.4 316.4 L64.9 316.3 L65.4 316.1 L66.2 315.9 L66.7 315.8 L67.2 315.6 L67.9 315.5 L68.4 315.3 L69.2 315.2 L69.7 315.1 L70.4 314.9 L70.9 314.8 L71.7 314.7 L72.2 314.6 L72.9 314.6 L73.7 314.6 L74.4 314.6 L75.1 314.6 L75.7 314.8 L76.2 314.9 L76.7 315.2 L77.2 315.5 L77.5 315.9 L77.9 316.4 L78.1 316.9 L78.1 317.6 L78.0 318.4 L77.8 318.9 L77.5 319.4 L77.2 319.8 L76.9 320.1 L76.4 320.6 L76.2 321.0 L75.8 321.4 L75.4 321.8 L75.1 322.1 L74.7 322.6 L74.4 322.9 L74.0 323.4 L73.7 323.7 L73.3 324.1 L72.9 324.5 L72.5 324.9 L72.2 325.3 L71.8 325.6 L71.4 326.0 L71.0 326.4 L70.7 326.8 L70.2 327.1 L69.9 327.5 L69.4 327.9 L69.2 328.2 L68.7 328.6 L68.3 328.9 L67.9 329.3 L67.5 329.6 L67.2 330.0 L66.7 330.4 L66.4 330.6 L65.9 331.1 L65.5 331.4 L65.2 331.7 L64.7 332.1 L64.4 332.4 L63.9 332.8 L63.5 333.1 L63.1 333.4 L62.6 333.9 L62.3 334.1 L61.9 334.5 L61.4 334.9 L61.1 335.1 L60.6 335.5 L60.2 335.9 L59.9 336.1 L59.4 336.5 L58.9 336.9 L58.6 337.1 L58.1 337.5 L57.7 337.9 L57.4 338.1 L56.9 338.5 L56.5 338.9 L56.1 339.1 L55.6 339.5 L55.2 339.9 L54.9 340.1 L54.4 340.5 L53.9 340.9 L53.6 341.1 L53.1 341.5 L52.6 341.9 L52.3 342.1 L51.9 342.4 L51.4 342.8 L50.9 343.1 L50.6 343.4 L50.1 343.7 L49.6 344.0 L49.1 344.4 L48.7 344.6 L48.3 344.9 L47.8 345.1 L47.4 345.4 L46.9 345.6 L46.3 345.9 L45.7 346.1 L45.1 346.4 L44.6 346.5 L44.1 346.7 L43.4 346.8 L42.9 346.9Z M41.9 345.9 L41.1 345.9 L40.6 345.9 L39.9 345.8 L39.1 345.7 L38.6 345.5 L38.1 345.4 L37.6 345.1 L37.1 344.9 L36.6 344.6 L36.1 344.3 L35.6 344.0 L35.3 343.6 L34.9 343.3 L34.5 342.9 L34.1 342.5 L33.9 342.1 L33.6 341.6 L33.3 341.1 L33.0 340.6 L32.8 340.1 L32.6 339.6 L32.4 338.9 L32.3 338.4 L32.2 337.6 L32.1 337.1 L32.1 336.4 L32.2 335.9 L32.3 335.1 L32.4 334.6 L32.6 333.9 L32.8 333.4 L33.0 332.9 L33.2 332.4 L33.5 331.9 L33.8 331.4 L34.1 331.0 L34.4 330.6 L34.9 330.1 L35.1 329.9 L35.6 329.4 L36.0 329.1 L36.4 328.8 L36.9 328.4 L37.3 328.1 L37.7 327.9 L38.2 327.6 L38.6 327.4 L39.1 327.1 L39.6 326.9 L40.1 326.6 L40.6 326.4 L41.2 326.1 L41.8 325.9 L42.4 325.6 L42.9 325.4 L43.4 325.2 L43.9 325.0 L44.4 324.9 L44.9 324.6 L45.6 324.4 L46.1 324.2 L46.6 324.0 L47.1 323.8 L47.6 323.6 L48.3 323.4 L48.9 323.2 L49.4 323.0 L49.9 322.8 L50.4 322.6 L51.1 322.4 L51.6 322.2 L52.1 322.0 L52.6 321.9 L53.3 321.6 L53.9 321.5 L54.4 321.3 L54.9 321.1 L55.6 320.9 L56.1 320.7 L56.6 320.6 L57.2 320.4 L57.9 320.2 L58.4 320.1 L58.9 319.9 L59.6 319.7 L60.1 319.6 L60.8 319.4 L61.4 319.2 L61.9 319.1 L62.6 318.9 L63.1 318.8 L63.9 318.7 L64.4 318.6 L65.2 318.4 L65.7 318.4 L66.4 318.3 L67.2 318.2 L67.7 318.1 L68.4 318.1 L69.0 318.1 L69.7 318.2 L70.4 318.4 L70.9 318.6 L71.3 318.9 L71.7 319.3 L71.8 319.9 L71.8 320.6 L71.7 321.2 L71.4 321.8 L71.2 322.3 L70.9 322.7 L70.7 323.2 L70.3 323.6 L70.0 324.1 L69.7 324.6 L69.4 324.9 L69.0 325.4 L68.7 325.8 L68.3 326.1 L67.9 326.6 L67.7 326.9 L67.2 327.4 L66.9 327.7 L66.5 328.1 L66.2 328.5 L65.7 328.9 L65.4 329.2 L65.0 329.6 L64.7 330.0 L64.2 330.4 L63.9 330.7 L63.4 331.1 L63.1 331.4 L62.6 331.9 L62.3 332.1 L61.9 332.6 L61.5 332.9 L61.1 333.2 L60.7 333.6 L60.4 333.9 L59.9 334.3 L59.5 334.6 L59.1 335.0 L58.7 335.4 L58.4 335.6 L57.9 336.1 L57.5 336.4 L57.1 336.7 L56.6 337.1 L56.3 337.4 L55.9 337.8 L55.4 338.1 L55.1 338.4 L54.6 338.8 L54.2 339.1 L53.9 339.4 L53.4 339.8 L53.0 340.1 L52.6 340.4 L52.1 340.8 L51.7 341.1 L51.4 341.4 L50.9 341.8 L50.4 342.1 L50.1 342.4 L49.6 342.7 L49.1 343.1 L48.6 343.4 L48.2 343.6 L47.8 343.9 L47.4 344.1 L46.9 344.4 L46.4 344.7 L45.9 344.9 L45.3 345.1 L44.6 345.4 L44.1 345.5 L43.6 345.6 L42.9 345.8 L42.1 345.9Z M42.4 344.9 L41.6 345.0 L40.9 345.0 L40.2 344.9 L39.6 344.8 L39.0 344.6 L38.4 344.4 L37.9 344.2 L37.4 344.0 L36.9 343.7 L36.5 343.4 L36.1 343.1 L35.6 342.7 L35.3 342.4 L34.9 341.9 L34.6 341.6 L34.3 341.1 L34.1 340.6 L33.8 340.1 L33.6 339.6 L33.4 339.0 L33.2 338.4 L33.1 337.9 L33.1 337.1 L33.1 336.4 L33.1 335.6 L33.2 335.1 L33.4 334.5 L33.6 333.9 L33.8 333.4 L34.0 332.9 L34.3 332.4 L34.6 331.9 L34.9 331.5 L35.2 331.1 L35.6 330.7 L35.9 330.4 L36.4 330.0 L36.8 329.6 L37.1 329.4 L37.6 329.0 L38.1 328.7 L38.6 328.4 L39.1 328.1 L39.6 327.9 L40.1 327.6 L40.6 327.4 L41.1 327.2 L41.6 327.0 L42.1 326.8 L42.6 326.6 L43.1 326.4 L43.7 326.1 L44.4 325.9 L44.9 325.7 L45.4 325.5 L45.9 325.4 L46.5 325.1 L47.1 324.9 L47.6 324.8 L48.1 324.6 L48.7 324.4 L49.4 324.2 L49.9 324.0 L50.4 323.8 L51.0 323.6 L51.6 323.5 L52.1 323.3 L52.7 323.1 L53.4 322.9 L53.9 322.8 L54.4 322.6 L55.1 322.4 L55.6 322.3 L56.3 322.1 L56.9 322.0 L57.4 321.9 L58.1 321.7 L58.6 321.6 L59.4 321.4 L59.9 321.4 L60.6 321.2 L61.2 321.1 L61.9 321.1 L62.6 321.0 L63.4 321.0 L64.2 321.0 L64.9 321.1 L65.4 321.2 L66.0 321.4 L66.4 321.7 L66.8 322.1 L66.9 322.6 L66.9 323.3 L66.8 323.9 L66.6 324.4 L66.4 324.9 L66.1 325.4 L65.8 325.9 L65.5 326.4 L65.2 326.8 L64.9 327.2 L64.5 327.6 L64.2 328.1 L63.9 328.4 L63.5 328.9 L63.1 329.3 L62.8 329.6 L62.4 330.1 L62.1 330.4 L61.6 330.9 L61.4 331.1 L60.9 331.6 L60.6 331.9 L60.1 332.4 L59.9 332.6 L59.4 333.1 L59.1 333.4 L58.6 333.8 L58.3 334.1 L57.9 334.5 L57.5 334.9 L57.1 335.2 L56.7 335.6 L56.4 335.9 L55.9 336.3 L55.5 336.6 L55.1 337.0 L54.7 337.4 L54.4 337.7 L53.9 338.1 L53.5 338.4 L53.1 338.7 L52.7 339.1 L52.4 339.4 L51.9 339.8 L51.4 340.1 L51.1 340.4 L50.6 340.8 L50.2 341.1 L49.9 341.4 L49.4 341.7 L48.9 342.1 L48.5 342.4 L48.1 342.6 L47.6 342.9 L47.1 343.2 L46.6 343.5 L46.1 343.8 L45.6 344.0 L45.1 344.2 L44.6 344.4 L43.9 344.6 L43.4 344.8 L42.6 344.9Z M43.4 343.9 L42.6 344.1 L41.9 344.1 L41.1 344.1 L40.4 344.1 L39.6 343.9 L39.1 343.8 L38.6 343.6 L38.1 343.4 L37.6 343.1 L37.1 342.9 L36.6 342.5 L36.3 342.1 L35.9 341.8 L35.6 341.4 L35.2 340.9 L34.9 340.4 L34.6 340.0 L34.4 339.4 L34.2 338.9 L34.1 338.4 L34.0 337.6 L33.9 336.9 L33.9 336.1 L34.0 335.4 L34.2 334.9 L34.4 334.1 L34.6 333.6 L34.8 333.1 L35.1 332.6 L35.4 332.3 L35.7 331.9 L36.1 331.4 L36.4 331.1 L36.9 330.6 L37.2 330.4 L37.6 330.0 L38.1 329.7 L38.6 329.4 L39.0 329.1 L39.5 328.9 L39.9 328.6 L40.5 328.4 L41.0 328.1 L41.6 327.9 L42.1 327.7 L42.6 327.5 L43.1 327.3 L43.6 327.1 L44.2 326.9 L44.9 326.7 L45.4 326.5 L45.9 326.3 L46.5 326.1 L47.1 325.9 L47.6 325.8 L48.1 325.6 L48.9 325.4 L49.4 325.2 L49.9 325.1 L50.6 324.9 L51.1 324.7 L51.6 324.6 L52.4 324.4 L52.9 324.3 L53.5 324.1 L54.1 324.0 L54.6 323.9 L55.4 323.7 L55.9 323.6 L56.6 323.5 L57.4 323.4 L57.9 323.4 L58.6 323.3 L59.4 323.3 L60.1 323.3 L60.9 323.4 L61.4 323.5 L61.9 323.6 L62.4 324.0 L62.8 324.4 L62.9 324.9 L62.9 325.6 L62.8 326.1 L62.6 326.6 L62.4 327.2 L62.1 327.6 L61.8 328.1 L61.5 328.6 L61.1 329.1 L60.9 329.5 L60.6 329.9 L60.2 330.4 L59.9 330.7 L59.5 331.1 L59.1 331.6 L58.9 331.9 L58.4 332.4 L58.1 332.7 L57.7 333.1 L57.4 333.4 L56.9 333.9 L56.6 334.2 L56.2 334.6 L55.9 334.9 L55.4 335.4 L55.1 335.7 L54.6 336.1 L54.4 336.4 L53.9 336.8 L53.5 337.1 L53.1 337.5 L52.7 337.9 L52.4 338.2 L51.9 338.6 L51.6 338.9 L51.1 339.3 L50.7 339.6 L50.4 339.9 L49.9 340.3 L49.5 340.6 L49.1 340.9 L48.6 341.3 L48.1 341.6 L47.8 341.9 L47.4 342.1 L46.9 342.4 L46.4 342.7 L45.9 343.0 L45.4 343.2 L44.9 343.4 L44.3 343.6 L43.6 343.8Z M42.9 343.4 L42.1 343.5 L41.4 343.6 L40.6 343.5 L39.9 343.4 L39.4 343.3 L38.9 343.1 L38.4 342.9 L37.9 342.6 L37.4 342.3 L36.9 341.9 L36.6 341.6 L36.1 341.2 L35.9 340.9 L35.6 340.4 L35.3 339.9 L35.0 339.4 L34.8 338.9 L34.6 338.2 L34.6 337.6 L34.5 336.9 L34.5 336.1 L34.6 335.4 L34.8 334.9 L34.9 334.4 L35.1 333.8 L35.4 333.3 L35.7 332.9 L36.0 332.4 L36.4 331.9 L36.6 331.6 L37.1 331.2 L37.4 330.9 L37.9 330.5 L38.4 330.2 L38.8 329.9 L39.3 329.6 L39.7 329.4 L40.2 329.1 L40.7 328.9 L41.3 328.6 L41.9 328.4 L42.4 328.2 L42.9 328.0 L43.4 327.8 L43.9 327.6 L44.6 327.4 L45.1 327.2 L45.6 327.1 L46.2 326.9 L46.9 326.7 L47.4 326.5 L47.9 326.4 L48.6 326.2 L49.1 326.1 L49.8 325.9 L50.4 325.7 L50.9 325.6 L51.6 325.4 L52.1 325.3 L52.9 325.2 L53.4 325.1 L54.1 325.0 L54.6 324.9 L55.4 324.8 L56.1 324.7 L56.9 324.7 L57.6 324.7 L58.4 324.8 L58.9 324.9 L59.6 325.1 L59.9 325.4 L60.3 325.9 L60.5 326.4 L60.4 327.1 L60.3 327.6 L60.1 328.1 L59.9 328.6 L59.6 329.1 L59.3 329.6 L59.0 330.1 L58.6 330.6 L58.4 330.9 L58.0 331.4 L57.6 331.9 L57.4 332.2 L57.0 332.6 L56.6 333.0 L56.3 333.4 L55.9 333.8 L55.6 334.1 L55.1 334.6 L54.9 334.9 L54.4 335.4 L54.1 335.6 L53.6 336.1 L53.4 336.4 L52.9 336.8 L52.6 337.1 L52.1 337.6 L51.8 337.9 L51.4 338.2 L50.9 338.6 L50.6 338.9 L50.1 339.3 L49.8 339.6 L49.4 340.0 L48.9 340.4 L48.5 340.6 L48.1 340.9 L47.6 341.3 L47.1 341.6 L46.7 341.9 L46.3 342.1 L45.8 342.4 L45.3 342.6 L44.7 342.9 L44.1 343.1 L43.6 343.3 L43.1 343.4Z M42.6 342.7 L41.9 342.8 L41.1 342.8 L40.4 342.7 L39.9 342.6 L39.3 342.4 L38.7 342.1 L38.2 341.9 L37.9 341.6 L37.4 341.3 L37.0 340.9 L36.6 340.5 L36.4 340.1 L36.1 339.6 L35.8 339.1 L35.6 338.6 L35.4 337.9 L35.3 337.4 L35.3 336.6 L35.4 335.9 L35.5 335.4 L35.6 334.7 L35.9 334.1 L36.1 333.6 L36.4 333.2 L36.6 332.9 L37.0 332.4 L37.4 332.0 L37.8 331.6 L38.1 331.3 L38.6 330.9 L39.1 330.6 L39.5 330.4 L39.9 330.1 L40.4 329.9 L40.9 329.6 L41.5 329.4 L42.1 329.1 L42.6 328.9 L43.1 328.8 L43.6 328.6 L44.2 328.4 L44.9 328.2 L45.4 328.0 L45.9 327.9 L46.6 327.7 L47.1 327.6 L47.9 327.4 L48.4 327.3 L49.0 327.1 L49.6 327.0 L50.2 326.9 L50.9 326.8 L51.6 326.7 L52.1 326.6 L52.9 326.5 L53.6 326.5 L54.4 326.5 L55.1 326.6 L55.7 326.6 L56.4 326.9 L56.8 327.1 L57.1 327.5 L57.4 328.1 L57.4 328.9 L57.1 329.6 L56.9 330.1 L56.7 330.6 L56.4 331.1 L56.1 331.5 L55.9 331.9 L55.5 332.4 L55.2 332.9 L54.9 333.2 L54.6 333.6 L54.1 334.1 L53.9 334.4 L53.5 334.9 L53.1 335.2 L52.8 335.6 L52.4 336.0 L52.1 336.4 L51.6 336.8 L51.3 337.1 L50.9 337.5 L50.5 337.9 L50.1 338.3 L49.7 338.6 L49.4 338.9 L48.9 339.4 L48.6 339.6 L48.1 340.0 L47.6 340.4 L47.2 340.6 L46.9 340.9 L46.4 341.2 L45.9 341.5 L45.4 341.8 L44.9 342.0 L44.4 342.2 L43.9 342.4 L43.1 342.6 L42.6 342.7Z M42.9 342.0 L42.1 342.1 L41.4 342.1 L40.6 342.0 L40.1 341.9 L39.4 341.7 L38.9 341.5 L38.4 341.2 L38.0 340.9 L37.6 340.6 L37.3 340.1 L36.9 339.7 L36.6 339.2 L36.4 338.7 L36.2 338.1 L36.1 337.6 L36.0 336.9 L36.0 336.1 L36.1 335.5 L36.3 334.9 L36.5 334.4 L36.8 333.9 L37.1 333.4 L37.4 333.0 L37.7 332.6 L38.1 332.2 L38.5 331.9 L38.9 331.6 L39.4 331.2 L39.9 330.9 L40.4 330.6 L40.9 330.4 L41.4 330.2 L41.9 330.0 L42.4 329.8 L42.9 329.6 L43.4 329.4 L44.1 329.2 L44.6 329.0 L45.2 328.9 L45.9 328.7 L46.4 328.6 L47.1 328.4 L47.6 328.3 L48.4 328.2 L48.9 328.1 L49.6 328.0 L50.4 327.9 L51.0 327.9 L51.6 327.9 L52.2 327.9 L52.9 328.0 L53.6 328.1 L54.1 328.4 L54.5 328.6 L54.9 329.1 L55.0 329.6 L54.9 330.4 L54.8 330.9 L54.6 331.4 L54.3 331.9 L54.1 332.4 L53.7 332.9 L53.4 333.4 L53.1 333.7 L52.8 334.1 L52.5 334.6 L52.1 335.0 L51.8 335.4 L51.4 335.9 L51.1 336.2 L50.7 336.6 L50.4 337.0 L50.0 337.4 L49.6 337.7 L49.2 338.1 L48.9 338.4 L48.4 338.9 L48.1 339.1 L47.6 339.5 L47.1 339.9 L46.8 340.1 L46.4 340.4 L45.9 340.7 L45.4 341.0 L44.9 341.3 L44.4 341.5 L43.9 341.7 L43.1 341.9Z M42.1 341.4 L41.4 341.4 L40.9 341.4 L40.1 341.2 L39.6 341.1 L39.1 340.8 L38.6 340.5 L38.2 340.1 L37.9 339.9 L37.5 339.4 L37.2 338.9 L37.0 338.4 L36.8 337.9 L36.7 337.1 L36.7 336.4 L36.8 335.6 L36.9 335.1 L37.1 334.6 L37.4 334.1 L37.7 333.6 L38.1 333.1 L38.4 332.8 L38.8 332.4 L39.2 332.1 L39.6 331.8 L40.1 331.5 L40.6 331.2 L41.1 330.9 L41.6 330.7 L42.1 330.5 L42.6 330.3 L43.2 330.1 L43.9 329.9 L44.4 329.8 L45.0 329.6 L45.6 329.5 L46.2 329.4 L46.9 329.3 L47.6 329.2 L48.1 329.1 L48.9 329.1 L49.6 329.0 L50.4 329.1 L51.1 329.1 L51.6 329.3 L52.1 329.5 L52.6 329.9 L52.9 330.4 L53.0 330.9 L52.9 331.6 L52.8 332.1 L52.5 332.6 L52.3 333.1 L52.0 333.6 L51.7 334.1 L51.4 334.6 L51.1 334.9 L50.8 335.4 L50.4 335.8 L50.1 336.1 L49.7 336.6 L49.4 337.0 L49.0 337.4 L48.6 337.8 L48.2 338.1 L47.9 338.5 L47.4 338.9 L47.1 339.1 L46.6 339.5 L46.1 339.9 L45.7 340.1 L45.3 340.4 L44.8 340.6 L44.2 340.9 L43.6 341.1 L43.1 341.3 L42.4 341.4Z M42.9 340.7 L42.1 340.8 L41.4 340.8 L40.6 340.7 L40.1 340.6 L39.6 340.4 L39.1 340.1 L38.6 339.7 L38.3 339.4 L38.0 338.9 L37.7 338.4 L37.5 337.9 L37.4 337.4 L37.3 336.6 L37.4 335.9 L37.5 335.4 L37.7 334.9 L37.9 334.4 L38.3 333.9 L38.6 333.4 L38.9 333.1 L39.4 332.7 L39.8 332.4 L40.2 332.1 L40.6 331.9 L41.1 331.6 L41.6 331.4 L42.2 331.1 L42.9 330.9 L43.4 330.7 L43.9 330.6 L44.6 330.4 L45.1 330.3 L45.9 330.2 L46.4 330.1 L47.1 330.0 L47.9 330.0 L48.6 330.0 L49.4 330.1 L49.9 330.2 L50.4 330.5 L50.9 330.8 L51.1 331.2 L51.3 331.9 L51.2 332.6 L51.1 333.1 L50.8 333.6 L50.6 334.1 L50.3 334.6 L50.0 335.1 L49.6 335.6 L49.4 335.9 L49.0 336.4 L48.6 336.8 L48.3 337.1 L47.9 337.6 L47.6 337.9 L47.1 338.3 L46.8 338.6 L46.4 338.9 L45.9 339.3 L45.4 339.6 L45.0 339.9 L44.5 340.1 L43.9 340.4 L43.4 340.6 L42.9 340.7Z M42.6 340.2 L41.9 340.2 L41.1 340.2 L40.6 340.1 L40.1 339.9 L39.6 339.6 L39.1 339.3 L38.8 338.9 L38.4 338.4 L38.2 337.9 L38.0 337.4 L37.9 336.6 L38.0 335.9 L38.2 335.4 L38.4 334.8 L38.6 334.4 L39.0 333.9 L39.4 333.5 L39.8 333.1 L40.1 332.8 L40.6 332.5 L41.1 332.2 L41.6 332.0 L42.1 331.8 L42.6 331.6 L43.3 331.4 L43.9 331.2 L44.4 331.1 L45.1 331.0 L45.9 330.9 L46.4 330.9 L47.1 330.9 L47.6 330.9 L48.4 331.1 L48.9 331.3 L49.4 331.6 L49.6 332.0 L49.8 332.6 L49.8 333.4 L49.6 333.9 L49.4 334.4 L49.1 334.9 L48.8 335.4 L48.5 335.9 L48.1 336.3 L47.9 336.7 L47.5 337.1 L47.1 337.5 L46.7 337.9 L46.4 338.2 L45.9 338.6 L45.5 338.9 L45.1 339.1 L44.6 339.4 L44.1 339.7 L43.6 339.9 L42.9 340.1Z M43.1 339.4 L42.4 339.6 L41.6 339.6 L40.9 339.5 L40.4 339.3 L39.9 339.0 L39.4 338.6 L39.1 338.3 L38.9 337.9 L38.7 337.1 L38.6 336.6 L38.6 336.1 L38.8 335.4 L39.1 334.9 L39.4 334.4 L39.6 334.1 L40.1 333.6 L40.4 333.4 L40.9 333.0 L41.4 332.8 L41.9 332.5 L42.4 332.3 L42.9 332.1 L43.6 332.0 L44.1 331.9 L44.9 331.8 L45.6 331.7 L46.4 331.8 L47.1 331.9 L47.6 332.1 L48.1 332.4 L48.4 332.9 L48.5 333.4 L48.4 334.1 L48.3 334.6 L48.0 335.1 L47.7 335.6 L47.4 336.1 L47.1 336.5 L46.8 336.9 L46.4 337.4 L46.1 337.6 L45.6 338.0 L45.2 338.4 L44.8 338.6 L44.4 338.9 L43.9 339.2 L43.2 339.4Z M42.4 338.9 L41.6 338.9 L41.1 338.8 L40.6 338.6 L40.1 338.3 L39.8 337.9 L39.5 337.4 L39.4 336.9 L39.3 336.1 L39.5 335.6 L39.7 335.1 L40.0 334.6 L40.4 334.2 L40.8 333.9 L41.1 333.6 L41.6 333.3 L42.1 333.1 L42.7 332.9 L43.4 332.7 L43.9 332.6 L44.6 332.5 L45.4 332.6 L45.9 332.7 L46.5 332.9 L46.9 333.2 L47.2 333.6 L47.2 334.4 L47.1 334.9 L46.9 335.4 L46.6 335.9 L46.3 336.4 L45.9 336.9 L45.6 337.2 L45.1 337.6 L44.8 337.9 L44.4 338.2 L43.9 338.5 L43.4 338.7 L42.6 338.9Z M42.4 338.2 L41.8 338.1 L41.1 338.0 L40.7 337.6 L40.4 337.3 L40.2 336.6 L40.2 335.9 L40.4 335.4 L40.8 334.9 L41.1 334.5 L41.6 334.1 L42.1 333.9 L42.6 333.7 L43.1 333.5 L43.9 333.4 L44.6 333.5 L45.2 333.6 L45.6 334.0 L45.9 334.5 L45.9 335.1 L45.7 335.6 L45.5 336.1 L45.1 336.6 L44.9 336.9 L44.4 337.3 L43.9 337.6 L43.4 337.9 L42.9 338.1 L42.4 338.2Z M43.1 336.9 L42.4 337.1 L41.8 336.9 L41.4 336.4 L41.6 335.6 L41.9 335.2 L42.4 334.9 L42.9 334.7 L43.6 334.7 L44.1 335.0 L44.3 335.6 L44.1 336.1 L43.6 336.6 L43.2 336.9Z" fill="none" stroke="#000" stroke-width="1.0"/>
<path d="M42.9 343.4 L42.1 343.5 L41.4 343.6 L40.6 343.5 L39.9 343.4 L39.4 343.3 L38.9 343.1 L38.4 342.9 L37.9 342.6 L37.4 342.3 L36.9 341.9 L36.6 341.6 L36.1 341.2 L35.9 340.9 L35.6 340.4 L35.3 339.9 L35.0 339.4 L34.8 338.9 L34.6 338.2 L34.6 337.6 L34.5 336.9 L34.5 336.1 L34.6 335.4 L34.8 334.9 L34.9 334.4 L35.1 333.8 L35.4 333.3 L35.7 332.9 L36.0 332.4 L36.4 331.9 L36.6 331.6 L37.1 331.2 L37.4 330.9 L37.9 330.5 L38.4 330.2 L38.8 329.9 L39.3 329.6 L39.7 329.4 L40.2 329.1 L40.7 328.9 L41.3 328.6 L41.9 328.4 L42.4 328.2 L42.9 328.0 L43.4 327.8 L43.9 327.6 L44.6 327.4 L45.1 327.2 L45.6 327.1 L46.2 326.9 L46.9 326.7 L47.4 326.5 L47.9 326.4 L48.6 326.2 L49.1 326.1 L49.8 325.9 L50.4 325.7 L50.9 325.6 L51.6 325.4 L52.1 325.3 L52.9 325.2 L53.4 325.1 L54.1 325.0 L54.6 324.9 L55.4 324.8 L56.1 324.7 L56.9 324.7 L57.6 324.7 L58.4 324.8 L58.9 324.9 L59.6 325.1 L59.9 325.4 L60.3 325.9 L60.5 326.4 L60.4 327.1 L60.3 327.6 L60.1 328.1 L59.9 328.6 L59.6 329.1 L59.3 329.6 L59.0 330.1 L58.6 330.6 L58.4 330.9 L58.0 331.4 L57.6 331.9 L57.4 332.2 L57.0 332.6 L56.6 333.0 L56.3 333.4 L55.9 333.8 L55.6 334.1 L55.1 334.6 L54.9 334.9 L54.4 335.4 L54.1 335.6 L53.6 336.1 L53.4 336.4 L52.9 336.8 L52.6 337.1 L52.1 337.6 L51.8 337.9 L51.4 338.2 L50.9 338.6 L50.6 338.9 L50.1 339.3 L49.8 339.6 L49.4 340.0 L48.9 340.4 L48.5 340.6 L48.1 340.9 L47.6 341.3 L47.1 341.6 L46.7 341.9 L46.3 342.1 L45.8 342.4 L45.3 342.6 L44.7 342.9 L44.1 343.1 L43.6 343.3 L43.1 343.4Z" fill="#111" stroke="none"/>
<rect x="54.50" y="303.50" width="76.50" height="48.90" fill="none" stroke="#666" stroke-width="0.9"/>
<rect x="26.40" y="284.40" width="104.60" height="101.10" fill="none" stroke="#222" stroke-width="1.0"/>
<line x1="26.40" y1="284.40" x2="26.40" y2="386.00" stroke="#000" stroke-width="1.5"/>
<line x1="25.90" y1="385.50" x2="131.00" y2="385.50" stroke="#000" stroke-width="1.6"/>
<line x1="28.40" y1="385.50" x2="28.40" y2="387.00" stroke="#000" stroke-width="0.8"/>
<line x1="31.00" y1="385.50" x2="31.00" y2="387.00" stroke="#000" stroke-width="0.8"/>
<line x1="33.60" y1="385.50" x2="33.60" y2="387.00" stroke="#000" stroke-width="0.8"/>
<line x1="36.20" y1="385.50" x2="36.20" y2="387.70" stroke="#000" stroke-width="0.8"/>
<line x1="38.80" y1="385.50" x2="38.80" y2="387.70" stroke="#000" stroke-width="0.8"/>
<line x1="41.40" y1="385.50" x2="41.40" y2="387.00" stroke="#000" stroke-width="0.8"/>
<line x1="44.00" y1="385.50" x2="44.00" y2="387.00" stroke="#000" stroke-width="0.8"/>
<line x1="46.60" y1="385.50" x2="46.60" y2="387.00" stroke="#000" stroke-width="0.8"/>
<line x1="49.20" y1="385.50" x2="49.20" y2="387.00" stroke="#000" stroke-width="0.8"/>
<line x1="51.80" y1="385.50" x2="51.80" y2="387.70" stroke="#000" stroke-width="0.8"/>
<line x1="54.40" y1="385.50" x2="54.40" y2="387.70" stroke="#000" stroke-width="0.8"/>
<line x1="57.00" y1="385.50" x2="57.00" y2="387.00" stroke="#000" stroke-width="0.8"/>
<line x1="59.60" y1="385.50" x2="59.60" y2="387.00" stroke="#000" stroke-width="0.8"/>
<line x1="62.20" y1="385.50" x2="62.20" y2="387.70" stroke="#000" stroke-width="0.8"/>
<line x1="64.80" y1="385.50" x2="64.80" y2="387.00" stroke="#000" stroke-width="0.8"/>
<line x1="67.40" y1="385.50" x2="67.40" y2="387.70" stroke="#000" stroke-width="0.8"/>
<line x1="70.00" y1="385.50" x2="70.00" y2="387.00" stroke="#000" stroke-width="0.8"/>
<line x1="72.60" y1="385.50" x2="72.60" y2="387.00" stroke="#000" stroke-width="0.8"/>
<line x1="75.20" y1="385.50" x2="75.20" y2="387.00" stroke="#000" stroke-width="0.8"/>
<line x1="77.80" y1="385.50" x2="77.80" y2="387.70" stroke="#000" stroke-width="0.8"/>
<line x1="80.40" y1="385.50" x2="80.40" y2="387.70" stroke="#000" stroke-width="0.8"/>
<line x1="83.00" y1="385.50" x2="83.00" y2="387.00" stroke="#000" stroke-width="0.8"/>
<line x1="85.60" y1="385.50" x2="85.60" y2="387.00" stroke="#000" stroke-width="0.8"/>
<line x1="88.20" y1="385.50" x2="88.20" y2="387.00" stroke="#000" stroke-width="0.8"/>
<line x1="90.80" y1="385.50" x2="90.80" y2="387.00" stroke="#000" stroke-width="0.8"/>
<line x1="93.40" y1="385.50" x2="93.40" y2="387.00" stroke="#000" stroke-width="0.8"/>
<line x1="96.00" y1="385.50" x2="96.00" y2="387.70" stroke="#000" stroke-width="0.8"/>
<line x1="98.60" y1="385.50" x2="98.60" y2="387.00" stroke="#000" stroke-width="0.8"/>
<line x1="101.20" y1="385.50" x2="101.20" y2="387.00" stroke="#000" stroke-width="0.8"/>
<line x1="103.80" y1="385.50" x2="103.80" y2="387.00" stroke="#000" stroke-width="0.8"/>
<line x1="106.40" y1="385.50" x2="106.40" y2="387.70" stroke="#000" stroke-width="0.8"/>
<line x1="109.00" y1="385.50" x2="109.00" y2="387.00" stroke="#000" stroke-width="0.8"/>
<line x1="111.60" y1="385.50" x2="111.60" y2="387.00" stroke="#000" stroke-width="0.8"/>
<line x1="114.20" y1="385.50" x2="114.20" y2="387.70" stroke="#000" stroke-width="0.8"/>
<line x1="116.80" y1="385.50" x2="116.80" y2="387.00" stroke="#000" stroke-width="0.8"/>
<line x1="119.40" y1="385.50" x2="119.40" y2="387.70" stroke="#000" stroke-width="0.8"/>
<line x1="122.00" y1="385.50" x2="122.00" y2="387.70" stroke="#000" stroke-width="0.8"/>
<line x1="124.60" y1="385.50" x2="124.60" y2="387.00" stroke="#000" stroke-width="0.8"/>
<line x1="127.20" y1="385.50" x2="127.20" y2="387.00" stroke="#000" stroke-width="0.8"/>
<line x1="129.80" y1="385.50" x2="129.80" y2="387.00" stroke="#000" stroke-width="0.8"/>
<line x1="25.00" y1="287.40" x2="26.40" y2="287.40" stroke="#000" stroke-width="0.7"/>
<line x1="25.00" y1="290.70" x2="26.40" y2="290.70" stroke="#000" stroke-width="0.7"/>
<line x1="25.00" y1="294.00" x2="26.40" y2="294.00" stroke="#000" stroke-width="0.7"/>
<line x1="25.00" y1="297.30" x2="26.40" y2="297.30" stroke="#000" stroke-width="0.7"/>
<line x1="25.00" y1="300.60" x2="26.40" y2="300.60" stroke="#000" stroke-width="0.7"/>
<line x1="25.00" y1="303.90" x2="26.40" y2="303.90" stroke="#000" stroke-width="0.7"/>
<line x1="25.00" y1="307.20" x2="26.40" y2="307.20" stroke="#000" stroke-width="0.7"/>
<line x1="25.00" y1="310.50" x2="26.40" y2="310.50" stroke="#000" stroke-width="0.7"/>
<line x1="25.00" y1="313.80" x2="26.40" y2="313.80" stroke="#000" stroke-width="0.7"/>
<line x1="25.00" y1="317.10" x2="26.40" y2="317.10" stroke="#000" stroke-width="0.7"/>
<line x1="25.00" y1="320.40" x2="26.40" y2="320.40" stroke="#000" stroke-width="0.7"/>
<line x1="25.00" y1="323.70" x2="26.40" y2="323.70" stroke="#000" stroke-width="0.7"/>
<line x1="25.00" y1="327.00" x2="26.40" y2="327.00" stroke="#000" stroke-width="0.7"/>
<line x1="25.00" y1="330.30" x2="26.40" y2="330.30" stroke="#000" stroke-width="0.7"/>
<line x1="25.00" y1="333.60" x2="26.40" y2="333.60" stroke="#000" stroke-width="0.7"/>
<line x1="25.00" y1="336.90" x2="26.40" y2="336.90" stroke="#000" stroke-width="0.7"/>
<line x1="25.00" y1="340.20" x2="26.40" y2="340.20" stroke="#000" stroke-width="0.7"/>
<line x1="25.00" y1="343.50" x2="26.40" y2="343.50" stroke="#000" stroke-width="0.7"/>
<line x1="25.00" y1="346.80" x2="26.40" y2="346.80" stroke="#000" stroke-width="0.7"/>
<line x1="25.00" y1="350.10" x2="26.40" y2="350.10" stroke="#000" stroke-width="0.7"/>
<line x1="25.00" y1="353.40" x2="26.40" y2="353.40" stroke="#000" stroke-width="0.7"/>
<line x1="25.00" y1="356.70" x2="26.40" y2="356.70" stroke="#000" stroke-width="0.7"/>
<line x1="25.00" y1="360.00" x2="26.40" y2="360.00" stroke="#000" stroke-width="0.7"/>
<line x1="25.00" y1="363.30" x2="26.40" y2="363.30" stroke="#000" stroke-width="0.7"/>
<line x1="25.00" y1="366.60" x2="26.40" y2="366.60" stroke="#000" stroke-width="0.7"/>
<line x1="25.00" y1="369.90" x2="26.40" y2="369.90" stroke="#000" stroke-width="0.7"/>
<line x1="25.00" y1="373.20" x2="26.40" y2="373.20" stroke="#000" stroke-width="0.7"/>
<line x1="25.00" y1="376.50" x2="26.40" y2="376.50" stroke="#000" stroke-width="0.7"/>
<line x1="25.00" y1="379.80" x2="26.40" y2="379.80" stroke="#000" stroke-width="0.7"/>
<line x1="25.00" y1="383.10" x2="26.40" y2="383.10" stroke="#000" stroke-width="0.7"/>
<line x1="23.80" y1="295.20" x2="26.40" y2="295.20" stroke="#000" stroke-width="0.9"/>
<text x="15.98" y="297.60" font-size="6.80" textLength="6.26" lengthAdjust="spacingAndGlyphs" fill="#000" font-weight="bold">10</text>
<text x="21.28" y="294.74" font-size="4.22" fill="#000">5</text>
<line x1="23.80" y1="317.20" x2="26.40" y2="317.20" stroke="#000" stroke-width="0.9"/>
<text x="15.98" y="319.60" font-size="6.80" textLength="6.26" lengthAdjust="spacingAndGlyphs" fill="#000" font-weight="bold">10</text>
<text x="21.28" y="316.74" font-size="4.22" fill="#000">4</text>
<line x1="23.80" y1="339.80" x2="26.40" y2="339.80" stroke="#000" stroke-width="0.9"/>
<text x="15.98" y="342.20" font-size="6.80" textLength="6.26" lengthAdjust="spacingAndGlyphs" fill="#000" font-weight="bold">10</text>
<text x="21.28" y="339.34" font-size="4.22" fill="#000">3</text>
<line x1="23.80" y1="366.50" x2="26.40" y2="366.50" stroke="#000" stroke-width="0.9"/>
<text x="15.98" y="368.90" font-size="6.80" textLength="6.26" lengthAdjust="spacingAndGlyphs" fill="#000" font-weight="bold">10</text>
<text x="21.28" y="366.04" font-size="4.22" fill="#000">2</text>
<line x1="23.80" y1="376.80" x2="26.40" y2="376.80" stroke="#000" stroke-width="0.9"/>
<text x="23.90" y="379.20" font-size="7.00" text-anchor="end">0</text>
<text x="38.75" y="397.80" font-size="7.00" text-anchor="middle">0</text>
<text x="44.84" y="397.80" font-size="6.80" textLength="6.26" lengthAdjust="spacingAndGlyphs" fill="#000" font-weight="bold">10</text>
<text x="50.14" y="394.94" font-size="4.22" fill="#000">2</text>
<text x="68.59" y="397.80" font-size="6.80" textLength="6.26" lengthAdjust="spacingAndGlyphs" fill="#000" font-weight="bold">10</text>
<text x="73.89" y="394.94" font-size="4.22" fill="#000">3</text>
<text x="92.34" y="397.80" font-size="6.80" textLength="6.26" lengthAdjust="spacingAndGlyphs" fill="#000" font-weight="bold">10</text>
<text x="97.64" y="394.94" font-size="4.22" fill="#000">4</text>
<text x="115.59" y="397.80" font-size="6.80" textLength="6.26" lengthAdjust="spacingAndGlyphs" fill="#000" font-weight="bold">10</text>
<text x="120.89" y="394.94" font-size="4.22" fill="#000">5</text>
<text x="78.80" y="402.80" font-size="7.00" font-weight="bold" text-anchor="middle" textLength="16.00" lengthAdjust="spacingAndGlyphs">CD42</text>
<text x="15.60" y="328.60" font-size="7.00" text-anchor="middle" textLength="24.00" lengthAdjust="spacingAndGlyphs" fill="#111" transform="rotate(-90 15.60 328.60)">SSC-A</text>
<text x="106.55" y="363.60" font-size="10.71" font-weight="bold" textLength="18.50" lengthAdjust="spacingAndGlyphs">27.7</text>
<path d="M183.4 349.2 L182.7 349.2 L181.9 349.2 L181.3 349.1 L180.7 349.1 L179.9 349.0 L179.4 348.8 L178.7 348.6 L178.2 348.5 L177.7 348.3 L177.2 348.1 L176.7 347.8 L176.2 347.6 L175.7 347.3 L175.2 346.9 L174.8 346.6 L174.4 346.4 L173.9 345.9 L173.6 345.6 L173.2 345.2 L172.9 344.9 L172.4 344.4 L172.2 344.0 L171.9 343.6 L171.6 343.1 L171.3 342.6 L171.0 342.1 L170.7 341.6 L170.5 341.1 L170.3 340.6 L170.2 340.1 L169.9 339.4 L169.8 338.9 L169.7 338.1 L169.6 337.6 L169.5 336.9 L169.5 336.1 L169.5 335.4 L169.6 334.6 L169.7 334.1 L169.8 333.4 L169.9 332.9 L170.2 332.2 L170.4 331.6 L170.6 331.1 L170.8 330.6 L171.0 330.1 L171.3 329.6 L171.7 329.2 L171.9 328.8 L172.2 328.4 L172.6 327.9 L172.9 327.6 L173.3 327.1 L173.7 326.8 L174.1 326.4 L174.4 326.1 L174.9 325.8 L175.4 325.4 L175.7 325.1 L176.2 324.9 L176.7 324.6 L177.2 324.3 L177.7 324.0 L178.2 323.7 L178.7 323.5 L179.2 323.2 L179.7 323.0 L180.2 322.7 L180.7 322.5 L181.2 322.3 L181.7 322.1 L182.2 321.8 L182.7 321.6 L183.2 321.4 L183.7 321.1 L184.3 320.9 L184.9 320.7 L185.4 320.4 L185.9 320.2 L186.4 320.0 L186.9 319.8 L187.4 319.6 L187.9 319.4 L188.4 319.1 L189.0 318.9 L189.6 318.6 L190.2 318.4 L190.7 318.2 L191.2 318.0 L191.7 317.8 L192.2 317.6 L192.7 317.4 L193.2 317.1 L193.8 316.9 L194.4 316.7 L194.9 316.5 L195.4 316.3 L195.9 316.1 L196.4 315.9 L196.9 315.6 L197.6 315.4 L198.2 315.2 L198.7 315.0 L199.2 314.8 L199.7 314.6 L200.2 314.4 L200.7 314.1 L201.4 313.9 L201.9 313.7 L202.4 313.5 L202.9 313.3 L203.4 313.1 L204.0 312.9 L204.7 312.7 L205.2 312.5 L205.7 312.3 L206.2 312.1 L206.7 311.9 L207.4 311.7 L207.9 311.5 L208.4 311.3 L208.9 311.1 L209.7 310.9 L210.2 310.8 L210.7 310.6 L211.4 310.4 L211.9 310.3 L212.7 310.2 L213.3 310.1 L213.9 310.1 L214.7 310.1 L215.3 310.1 L215.9 310.2 L216.7 310.4 L217.2 310.5 L217.7 310.7 L218.2 310.9 L218.7 311.1 L219.2 311.4 L219.7 311.7 L220.2 312.0 L220.6 312.4 L220.9 312.7 L221.4 313.1 L221.7 313.5 L222.0 313.9 L222.4 314.4 L222.7 314.8 L222.9 315.2 L223.2 315.7 L223.4 316.2 L223.7 316.9 L223.8 317.4 L224.0 317.9 L224.1 318.6 L224.2 319.1 L224.3 319.9 L224.3 320.6 L224.2 321.4 L224.1 321.9 L224.0 322.6 L223.9 323.1 L223.7 323.7 L223.4 324.3 L223.2 324.8 L222.9 325.3 L222.7 325.7 L222.3 326.1 L221.9 326.6 L221.7 326.9 L221.2 327.4 L220.9 327.7 L220.4 328.1 L220.1 328.4 L219.7 328.8 L219.2 329.1 L218.9 329.4 L218.4 329.7 L217.9 330.1 L217.5 330.4 L217.1 330.6 L216.7 331.0 L216.2 331.3 L215.7 331.6 L215.3 331.9 L214.9 332.1 L214.4 332.5 L213.9 332.8 L213.4 333.1 L213.0 333.4 L212.6 333.6 L212.2 333.9 L211.7 334.2 L211.2 334.6 L210.7 334.9 L210.2 335.1 L209.8 335.4 L209.4 335.7 L208.9 336.0 L208.4 336.3 L207.9 336.6 L207.4 336.9 L207.0 337.1 L206.6 337.4 L206.2 337.7 L205.7 338.0 L205.2 338.3 L204.7 338.6 L204.2 338.9 L203.8 339.1 L203.4 339.4 L202.9 339.7 L202.4 340.0 L201.9 340.3 L201.4 340.6 L200.9 340.9 L200.5 341.1 L200.1 341.4 L199.6 341.6 L199.2 341.9 L198.7 342.2 L198.2 342.5 L197.7 342.8 L197.2 343.1 L196.7 343.4 L196.3 343.6 L195.8 343.9 L195.4 344.2 L194.9 344.5 L194.4 344.7 L193.9 345.0 L193.4 345.3 L192.9 345.6 L192.4 345.9 L191.9 346.1 L191.5 346.4 L191.0 346.6 L190.5 346.9 L190.0 347.1 L189.5 347.4 L188.9 347.6 L188.4 347.9 L187.9 348.1 L187.4 348.3 L186.9 348.4 L186.2 348.6 L185.7 348.8 L185.1 348.9 L184.4 349.0 L183.7 349.1Z M184.4 346.9 L183.7 347.0 L182.9 347.1 L182.2 347.1 L181.4 347.1 L180.7 347.0 L180.2 346.9 L179.4 346.7 L178.9 346.6 L178.4 346.4 L177.9 346.1 L177.4 345.9 L176.9 345.6 L176.4 345.3 L175.9 345.0 L175.5 344.6 L175.2 344.3 L174.7 343.9 L174.4 343.6 L174.0 343.1 L173.7 342.7 L173.4 342.3 L173.2 341.9 L172.9 341.4 L172.6 340.9 L172.4 340.4 L172.2 339.7 L172.0 339.1 L171.8 338.6 L171.7 337.9 L171.6 337.4 L171.6 336.6 L171.6 335.9 L171.6 335.1 L171.7 334.6 L171.8 333.9 L171.9 333.4 L172.2 332.8 L172.4 332.1 L172.6 331.6 L172.9 331.1 L173.2 330.7 L173.4 330.3 L173.7 329.9 L174.1 329.4 L174.4 329.0 L174.7 328.6 L175.2 328.2 L175.5 327.9 L175.9 327.6 L176.4 327.2 L176.9 326.9 L177.2 326.6 L177.7 326.4 L178.2 326.1 L178.7 325.8 L179.2 325.6 L179.7 325.3 L180.2 325.1 L180.7 324.8 L181.2 324.6 L181.7 324.4 L182.2 324.1 L182.8 323.9 L183.4 323.7 L183.9 323.5 L184.4 323.3 L184.9 323.1 L185.4 322.9 L186.0 322.6 L186.6 322.4 L187.2 322.2 L187.7 322.0 L188.2 321.8 L188.7 321.6 L189.2 321.4 L189.8 321.1 L190.4 320.9 L190.9 320.7 L191.4 320.6 L191.9 320.4 L192.5 320.1 L193.2 319.9 L193.7 319.7 L194.2 319.5 L194.7 319.4 L195.2 319.1 L195.9 318.9 L196.4 318.7 L196.9 318.6 L197.4 318.4 L198.1 318.1 L198.7 318.0 L199.2 317.8 L199.7 317.6 L200.3 317.4 L200.9 317.2 L201.4 317.0 L201.9 316.9 L202.6 316.6 L203.2 316.5 L203.7 316.3 L204.2 316.1 L204.9 315.9 L205.4 315.8 L205.9 315.6 L206.7 315.4 L207.2 315.3 L207.7 315.1 L208.4 314.9 L208.9 314.8 L209.4 314.6 L210.2 314.5 L210.7 314.4 L211.4 314.2 L211.9 314.1 L212.7 314.1 L213.4 314.0 L214.2 314.0 L214.9 314.1 L215.4 314.2 L216.1 314.4 L216.7 314.6 L217.2 314.8 L217.6 315.1 L218.0 315.4 L218.4 315.8 L218.8 316.1 L219.2 316.6 L219.4 317.0 L219.7 317.4 L219.9 318.0 L220.1 318.6 L220.2 319.1 L220.3 319.9 L220.3 320.6 L220.2 321.4 L220.0 321.9 L219.9 322.4 L219.6 322.9 L219.4 323.4 L219.1 323.9 L218.7 324.4 L218.4 324.8 L218.1 325.1 L217.7 325.6 L217.4 325.9 L216.9 326.4 L216.6 326.6 L216.2 327.0 L215.7 327.4 L215.4 327.6 L214.9 328.1 L214.5 328.4 L214.1 328.6 L213.7 329.0 L213.2 329.4 L212.8 329.6 L212.4 330.0 L211.9 330.4 L211.5 330.6 L211.2 330.9 L210.7 331.3 L210.2 331.6 L209.8 331.9 L209.4 332.2 L208.9 332.5 L208.4 332.9 L208.0 333.1 L207.7 333.4 L207.2 333.8 L206.7 334.1 L206.3 334.4 L205.9 334.6 L205.4 335.0 L204.9 335.3 L204.4 335.6 L204.1 335.9 L203.7 336.2 L203.2 336.5 L202.7 336.9 L202.2 337.1 L201.8 337.4 L201.4 337.7 L200.9 338.0 L200.4 338.3 L199.9 338.6 L199.5 338.9 L199.2 339.2 L198.7 339.5 L198.2 339.8 L197.7 340.1 L197.2 340.4 L196.8 340.6 L196.4 340.9 L195.9 341.2 L195.4 341.6 L194.9 341.9 L194.5 342.1 L194.1 342.4 L193.6 342.6 L193.2 343.0 L192.7 343.3 L192.2 343.6 L191.7 343.9 L191.2 344.1 L190.7 344.4 L190.3 344.6 L189.8 344.9 L189.3 345.1 L188.8 345.4 L188.3 345.6 L187.8 345.9 L187.2 346.1 L186.7 346.3 L186.2 346.5 L185.6 346.6 L184.9 346.8 L184.4 346.9Z M183.4 345.7 L182.7 345.7 L181.9 345.7 L181.2 345.7 L180.7 345.6 L179.9 345.4 L179.4 345.3 L178.9 345.1 L178.4 344.9 L177.9 344.6 L177.4 344.3 L176.9 344.0 L176.4 343.6 L176.2 343.4 L175.7 342.9 L175.4 342.6 L175.0 342.1 L174.7 341.7 L174.4 341.3 L174.1 340.9 L173.9 340.4 L173.7 339.9 L173.4 339.2 L173.2 338.6 L173.1 338.1 L173.0 337.4 L172.9 336.6 L172.9 335.9 L173.0 335.1 L173.1 334.4 L173.2 333.9 L173.4 333.4 L173.7 332.7 L173.9 332.2 L174.2 331.7 L174.4 331.3 L174.7 330.9 L175.0 330.4 L175.4 330.0 L175.7 329.6 L176.2 329.2 L176.5 328.9 L176.9 328.6 L177.4 328.2 L177.8 327.9 L178.2 327.6 L178.7 327.4 L179.2 327.1 L179.7 326.9 L180.2 326.6 L180.7 326.4 L181.2 326.1 L181.7 325.9 L182.3 325.6 L182.9 325.4 L183.4 325.2 L183.9 325.0 L184.4 324.8 L184.9 324.6 L185.6 324.4 L186.2 324.2 L186.7 324.0 L187.2 323.8 L187.7 323.6 L188.4 323.4 L188.9 323.2 L189.4 323.0 L189.9 322.9 L190.5 322.6 L191.2 322.4 L191.7 322.3 L192.2 322.1 L192.7 321.9 L193.4 321.7 L193.9 321.5 L194.4 321.4 L195.1 321.1 L195.7 321.0 L196.2 320.8 L196.7 320.6 L197.4 320.4 L197.9 320.3 L198.4 320.1 L199.2 319.9 L199.7 319.8 L200.2 319.6 L200.9 319.4 L201.4 319.3 L202.0 319.1 L202.7 319.0 L203.2 318.9 L203.9 318.7 L204.4 318.6 L205.2 318.4 L205.7 318.3 L206.4 318.1 L206.9 318.1 L207.7 317.9 L208.2 317.8 L208.9 317.7 L209.6 317.6 L210.2 317.6 L210.9 317.6 L211.7 317.5 L212.4 317.6 L212.9 317.7 L213.7 317.8 L214.2 318.0 L214.7 318.3 L215.1 318.6 L215.4 318.9 L215.7 319.4 L215.9 319.9 L216.0 320.6 L215.9 321.4 L215.8 321.9 L215.6 322.4 L215.4 322.9 L215.1 323.4 L214.7 323.9 L214.4 324.3 L214.1 324.6 L213.7 325.1 L213.4 325.5 L213.0 325.9 L212.7 326.3 L212.3 326.6 L211.9 327.0 L211.5 327.4 L211.2 327.7 L210.7 328.1 L210.4 328.4 L209.9 328.9 L209.6 329.1 L209.2 329.5 L208.7 329.9 L208.4 330.1 L207.9 330.5 L207.5 330.9 L207.2 331.2 L206.7 331.6 L206.2 331.9 L205.9 332.2 L205.4 332.5 L204.9 332.9 L204.6 333.1 L204.2 333.5 L203.7 333.9 L203.3 334.1 L202.9 334.4 L202.4 334.8 L201.9 335.1 L201.6 335.4 L201.2 335.7 L200.7 336.1 L200.2 336.4 L199.9 336.6 L199.4 337.0 L198.9 337.3 L198.4 337.6 L198.1 337.9 L197.7 338.2 L197.2 338.5 L196.7 338.9 L196.3 339.1 L195.9 339.4 L195.4 339.7 L194.9 340.1 L194.4 340.4 L194.0 340.6 L193.6 340.9 L193.2 341.2 L192.7 341.6 L192.2 341.9 L191.7 342.1 L191.3 342.4 L190.9 342.7 L190.4 343.0 L189.9 343.3 L189.4 343.5 L188.9 343.8 L188.4 344.1 L187.9 344.3 L187.4 344.6 L186.9 344.8 L186.4 345.0 L185.8 345.1 L185.2 345.4 L184.7 345.5 L183.9 345.6 L183.4 345.7Z M183.4 344.7 L182.7 344.7 L181.9 344.7 L181.3 344.6 L180.7 344.5 L180.0 344.4 L179.4 344.2 L178.9 344.0 L178.4 343.7 L177.9 343.5 L177.4 343.1 L177.1 342.9 L176.7 342.5 L176.3 342.1 L175.9 341.7 L175.6 341.4 L175.3 340.9 L175.0 340.4 L174.7 339.9 L174.5 339.4 L174.3 338.9 L174.2 338.2 L174.0 337.6 L174.0 336.9 L173.9 336.1 L174.0 335.4 L174.1 334.6 L174.2 334.1 L174.4 333.6 L174.7 332.9 L174.9 332.4 L175.2 332.0 L175.4 331.6 L175.7 331.1 L176.1 330.6 L176.4 330.4 L176.9 329.9 L177.2 329.6 L177.7 329.3 L178.1 328.9 L178.5 328.6 L178.9 328.4 L179.4 328.1 L179.9 327.9 L180.4 327.6 L180.9 327.4 L181.4 327.1 L182.0 326.9 L182.6 326.6 L183.2 326.4 L183.7 326.3 L184.2 326.1 L184.7 325.9 L185.3 325.6 L185.9 325.5 L186.4 325.3 L186.9 325.1 L187.6 324.9 L188.2 324.7 L188.7 324.5 L189.2 324.4 L189.9 324.1 L190.4 324.0 L190.9 323.8 L191.5 323.6 L192.2 323.4 L192.7 323.3 L193.2 323.1 L193.9 322.9 L194.4 322.8 L195.0 322.6 L195.7 322.5 L196.2 322.3 L196.9 322.1 L197.4 322.0 L197.9 321.9 L198.7 321.7 L199.2 321.6 L199.9 321.4 L200.4 321.3 L201.2 321.2 L201.7 321.1 L202.4 321.0 L203.0 320.9 L203.7 320.8 L204.4 320.7 L205.2 320.7 L205.7 320.6 L206.4 320.6 L207.2 320.6 L207.7 320.7 L208.4 320.8 L209.0 320.9 L209.6 321.1 L210.0 321.4 L210.4 321.8 L210.7 322.3 L210.7 322.9 L210.7 323.5 L210.4 324.1 L210.2 324.6 L209.9 325.1 L209.7 325.6 L209.4 326.0 L209.1 326.4 L208.7 326.9 L208.4 327.2 L208.1 327.6 L207.7 328.1 L207.4 328.4 L206.9 328.9 L206.6 329.1 L206.2 329.6 L205.9 329.9 L205.4 330.3 L205.1 330.6 L204.7 331.0 L204.2 331.4 L203.9 331.7 L203.4 332.1 L203.1 332.4 L202.7 332.7 L202.2 333.1 L201.9 333.4 L201.4 333.8 L200.9 334.1 L200.6 334.4 L200.2 334.8 L199.7 335.1 L199.3 335.4 L198.9 335.7 L198.4 336.1 L198.0 336.4 L197.7 336.7 L197.2 337.0 L196.7 337.4 L196.3 337.6 L195.9 338.0 L195.4 338.3 L194.9 338.6 L194.6 338.9 L194.2 339.2 L193.7 339.6 L193.2 339.9 L192.8 340.1 L192.4 340.4 L191.9 340.8 L191.4 341.1 L191.0 341.4 L190.6 341.6 L190.2 341.9 L189.7 342.2 L189.2 342.5 L188.7 342.8 L188.2 343.1 L187.7 343.3 L187.2 343.6 L186.7 343.8 L186.2 344.0 L185.7 344.2 L184.9 344.4 L184.4 344.5 L183.7 344.6Z M184.2 343.7 L183.4 343.8 L182.7 343.9 L181.9 343.9 L181.2 343.8 L180.5 343.6 L179.9 343.5 L179.4 343.3 L178.9 343.0 L178.4 342.8 L177.9 342.4 L177.5 342.1 L177.2 341.8 L176.7 341.4 L176.4 341.0 L176.1 340.6 L175.8 340.1 L175.6 339.6 L175.3 339.1 L175.1 338.6 L174.9 337.9 L174.9 337.4 L174.8 336.6 L174.8 335.9 L174.9 335.1 L175.0 334.6 L175.2 334.0 L175.4 333.4 L175.6 332.9 L175.9 332.4 L176.2 332.0 L176.4 331.6 L176.8 331.1 L177.2 330.8 L177.6 330.4 L177.9 330.1 L178.4 329.7 L178.9 329.4 L179.3 329.1 L179.7 328.9 L180.2 328.6 L180.7 328.4 L181.2 328.1 L181.8 327.9 L182.4 327.7 L182.9 327.5 L183.4 327.3 L183.9 327.1 L184.5 326.9 L185.2 326.7 L185.7 326.5 L186.2 326.3 L186.8 326.1 L187.4 326.0 L187.9 325.8 L188.4 325.6 L189.2 325.4 L189.7 325.3 L190.2 325.1 L190.9 325.0 L191.4 324.8 L192.0 324.6 L192.7 324.5 L193.2 324.4 L193.9 324.2 L194.4 324.1 L195.2 323.9 L195.7 323.8 L196.4 323.6 L196.9 323.6 L197.7 323.4 L198.2 323.3 L198.9 323.2 L199.5 323.1 L200.2 323.1 L200.9 323.0 L201.7 323.0 L202.4 323.0 L203.2 323.0 L203.9 323.1 L204.4 323.3 L204.9 323.4 L205.4 323.7 L205.8 324.1 L206.1 324.6 L206.1 325.4 L206.0 326.1 L205.7 326.6 L205.5 327.1 L205.2 327.6 L204.9 328.1 L204.7 328.4 L204.3 328.9 L203.9 329.4 L203.7 329.7 L203.2 330.1 L202.9 330.5 L202.5 330.9 L202.2 331.3 L201.7 331.6 L201.4 332.0 L201.0 332.4 L200.7 332.7 L200.2 333.1 L199.8 333.4 L199.4 333.8 L199.0 334.1 L198.7 334.4 L198.2 334.9 L197.8 335.1 L197.4 335.5 L196.9 335.9 L196.6 336.1 L196.2 336.5 L195.7 336.9 L195.3 337.1 L194.9 337.4 L194.4 337.8 L194.0 338.1 L193.6 338.4 L193.2 338.8 L192.7 339.1 L192.3 339.4 L191.9 339.7 L191.4 340.0 L190.9 340.4 L190.5 340.6 L190.1 340.9 L189.7 341.2 L189.2 341.5 L188.7 341.8 L188.2 342.1 L187.7 342.4 L187.2 342.6 L186.7 342.9 L186.2 343.1 L185.7 343.3 L185.2 343.4 L184.4 343.6Z M184.2 342.9 L183.4 343.1 L182.7 343.1 L181.9 343.1 L181.2 343.0 L180.7 342.9 L179.9 342.7 L179.4 342.4 L178.9 342.2 L178.5 341.9 L178.1 341.6 L177.7 341.2 L177.3 340.9 L176.9 340.4 L176.7 340.0 L176.4 339.6 L176.2 339.1 L175.9 338.5 L175.7 337.9 L175.6 337.4 L175.5 336.6 L175.6 335.9 L175.7 335.2 L175.8 334.6 L175.9 334.1 L176.2 333.5 L176.4 333.0 L176.7 332.6 L177.0 332.1 L177.4 331.6 L177.7 331.4 L178.1 330.9 L178.4 330.6 L178.9 330.3 L179.4 330.0 L179.9 329.6 L180.3 329.4 L180.8 329.1 L181.4 328.9 L181.9 328.7 L182.4 328.5 L182.9 328.3 L183.4 328.1 L184.0 327.9 L184.7 327.7 L185.2 327.5 L185.7 327.4 L186.4 327.2 L186.9 327.0 L187.4 326.9 L188.2 326.7 L188.7 326.5 L189.2 326.4 L189.9 326.2 L190.4 326.1 L191.2 325.9 L191.7 325.8 L192.4 325.7 L192.9 325.6 L193.7 325.4 L194.2 325.3 L194.9 325.2 L195.4 325.1 L196.2 325.0 L196.9 325.0 L197.7 324.9 L198.4 324.9 L199.2 324.9 L199.9 325.0 L200.6 325.1 L201.2 325.3 L201.7 325.6 L202.0 325.9 L202.3 326.4 L202.4 326.9 L202.4 327.4 L202.2 328.1 L202.0 328.6 L201.7 329.1 L201.4 329.6 L201.2 330.0 L200.8 330.4 L200.4 330.9 L200.2 331.2 L199.8 331.6 L199.4 332.1 L199.1 332.4 L198.7 332.8 L198.3 333.1 L197.9 333.6 L197.6 333.9 L197.2 334.3 L196.7 334.6 L196.4 334.9 L195.9 335.4 L195.6 335.6 L195.2 336.0 L194.7 336.4 L194.4 336.7 L193.9 337.1 L193.5 337.4 L193.2 337.7 L192.7 338.1 L192.2 338.4 L191.9 338.6 L191.4 339.0 L190.9 339.4 L190.6 339.6 L190.2 339.9 L189.7 340.3 L189.2 340.6 L188.7 340.9 L188.3 341.1 L187.9 341.4 L187.4 341.7 L186.9 341.9 L186.4 342.2 L185.9 342.4 L185.2 342.6 L184.7 342.8 L184.2 342.9Z M184.2 342.4 L183.4 342.5 L182.7 342.6 L181.9 342.6 L181.2 342.5 L180.7 342.3 L180.1 342.1 L179.5 341.9 L179.0 341.6 L178.7 341.4 L178.2 341.0 L177.8 340.6 L177.4 340.2 L177.2 339.8 L176.9 339.4 L176.6 338.9 L176.4 338.3 L176.2 337.6 L176.1 337.1 L176.1 336.4 L176.1 335.6 L176.2 335.1 L176.4 334.4 L176.6 333.9 L176.8 333.4 L177.1 332.9 L177.4 332.5 L177.7 332.1 L178.1 331.6 L178.4 331.4 L178.9 330.9 L179.3 330.6 L179.7 330.4 L180.2 330.1 L180.7 329.8 L181.2 329.6 L181.7 329.3 L182.2 329.1 L182.7 328.9 L183.4 328.7 L183.9 328.5 L184.4 328.3 L185.0 328.1 L185.7 328.0 L186.2 327.8 L186.8 327.6 L187.4 327.5 L187.9 327.4 L188.7 327.2 L189.2 327.1 L189.9 326.9 L190.4 326.8 L191.2 326.7 L191.7 326.6 L192.4 326.5 L192.9 326.4 L193.7 326.3 L194.4 326.2 L195.0 326.1 L195.7 326.1 L196.4 326.1 L197.2 326.1 L197.7 326.2 L198.4 326.4 L198.9 326.5 L199.4 326.8 L199.8 327.1 L200.0 327.6 L200.1 328.4 L199.9 329.1 L199.7 329.6 L199.4 330.1 L199.2 330.6 L198.9 331.0 L198.6 331.4 L198.2 331.9 L197.9 332.3 L197.6 332.6 L197.2 333.1 L196.9 333.4 L196.4 333.9 L196.1 334.1 L195.7 334.6 L195.4 334.9 L194.9 335.3 L194.5 335.6 L194.2 336.0 L193.7 336.4 L193.4 336.7 L192.9 337.1 L192.5 337.4 L192.2 337.7 L191.7 338.1 L191.3 338.4 L190.9 338.7 L190.4 339.1 L190.0 339.4 L189.6 339.6 L189.2 340.0 L188.7 340.3 L188.2 340.6 L187.7 340.9 L187.3 341.1 L186.8 341.4 L186.3 341.6 L185.8 341.9 L185.2 342.1 L184.7 342.3 L184.2 342.4Z M184.2 341.7 L183.4 341.8 L182.7 341.9 L181.9 341.9 L181.2 341.7 L180.7 341.6 L180.1 341.4 L179.6 341.1 L179.2 340.9 L178.7 340.5 L178.3 340.1 L177.9 339.7 L177.7 339.3 L177.4 338.9 L177.2 338.3 L177.0 337.6 L176.9 337.1 L176.8 336.4 L176.8 335.6 L176.9 335.1 L177.1 334.4 L177.4 333.9 L177.6 333.4 L177.9 333.0 L178.2 332.6 L178.6 332.1 L178.9 331.9 L179.4 331.4 L179.8 331.1 L180.2 330.9 L180.7 330.6 L181.2 330.3 L181.7 330.1 L182.2 329.9 L182.8 329.6 L183.4 329.4 L183.9 329.3 L184.4 329.1 L185.2 328.9 L185.7 328.8 L186.2 328.6 L186.9 328.5 L187.4 328.4 L188.2 328.2 L188.7 328.1 L189.4 328.0 L189.9 327.9 L190.7 327.8 L191.4 327.7 L192.1 327.6 L192.7 327.6 L193.4 327.6 L194.2 327.6 L194.7 327.7 L195.4 327.8 L195.9 328.0 L196.4 328.2 L196.9 328.6 L197.1 329.1 L197.2 329.6 L197.1 330.1 L196.9 330.9 L196.7 331.4 L196.4 331.8 L196.2 332.2 L195.8 332.6 L195.5 333.1 L195.2 333.5 L194.8 333.9 L194.4 334.4 L194.1 334.6 L193.7 335.1 L193.4 335.4 L192.9 335.9 L192.6 336.1 L192.2 336.6 L191.8 336.9 L191.4 337.3 L190.9 337.6 L190.6 337.9 L190.2 338.3 L189.7 338.6 L189.4 338.9 L188.9 339.3 L188.4 339.6 L188.0 339.9 L187.6 340.1 L187.2 340.4 L186.7 340.7 L186.2 341.0 L185.7 341.2 L185.1 341.4 L184.4 341.6Z M183.7 341.2 L182.9 341.2 L182.2 341.2 L181.5 341.1 L180.9 341.0 L180.4 340.8 L179.9 340.6 L179.4 340.2 L179.0 339.9 L178.7 339.6 L178.3 339.1 L178.0 338.6 L177.8 338.1 L177.6 337.6 L177.5 336.9 L177.4 336.1 L177.5 335.4 L177.7 334.9 L177.9 334.2 L178.2 333.7 L178.4 333.4 L178.7 332.9 L179.2 332.5 L179.5 332.1 L179.9 331.8 L180.4 331.5 L180.9 331.2 L181.4 330.9 L181.9 330.7 L182.4 330.4 L182.9 330.3 L183.4 330.1 L184.0 329.9 L184.7 329.7 L185.2 329.6 L185.9 329.4 L186.4 329.3 L187.2 329.2 L187.7 329.1 L188.4 329.0 L189.1 328.9 L189.7 328.8 L190.4 328.8 L191.2 328.8 L191.9 328.8 L192.7 328.9 L193.2 329.0 L193.7 329.1 L194.2 329.4 L194.7 329.8 L194.9 330.4 L194.9 330.9 L194.8 331.4 L194.7 332.0 L194.4 332.5 L194.2 332.9 L193.8 333.4 L193.5 333.9 L193.2 334.3 L192.9 334.6 L192.4 335.1 L192.2 335.4 L191.7 335.9 L191.4 336.2 L191.0 336.6 L190.7 336.9 L190.2 337.4 L189.9 337.6 L189.4 338.1 L189.0 338.4 L188.7 338.7 L188.2 339.0 L187.7 339.4 L187.3 339.6 L186.9 339.9 L186.4 340.2 L185.9 340.4 L185.4 340.6 L184.7 340.9 L184.2 341.1 L183.7 341.2Z M183.2 340.7 L182.4 340.7 L181.9 340.6 L181.2 340.5 L180.7 340.3 L180.2 340.0 L179.7 339.7 L179.3 339.4 L178.9 338.9 L178.7 338.5 L178.4 338.1 L178.2 337.4 L178.1 336.9 L178.0 336.1 L178.1 335.4 L178.3 334.9 L178.5 334.4 L178.7 333.9 L179.1 333.4 L179.4 333.0 L179.8 332.6 L180.2 332.3 L180.7 332.0 L181.2 331.7 L181.6 331.4 L182.2 331.2 L182.7 331.0 L183.2 330.8 L183.7 330.6 L184.4 330.4 L184.9 330.3 L185.5 330.1 L186.2 330.0 L186.9 329.9 L187.4 329.9 L188.2 329.8 L188.9 329.7 L189.7 329.7 L190.4 329.8 L191.2 329.9 L191.7 330.0 L192.2 330.2 L192.7 330.6 L192.9 330.9 L193.1 331.6 L193.0 332.4 L192.8 332.9 L192.5 333.4 L192.3 333.9 L191.9 334.4 L191.7 334.8 L191.3 335.1 L190.9 335.6 L190.7 335.9 L190.2 336.4 L189.9 336.7 L189.5 337.1 L189.2 337.4 L188.7 337.9 L188.3 338.1 L187.9 338.5 L187.4 338.9 L187.0 339.1 L186.6 339.4 L186.2 339.7 L185.7 339.9 L185.1 340.1 L184.4 340.4 L183.9 340.5 L183.2 340.6Z M184.2 339.9 L183.4 340.1 L182.7 340.1 L181.9 340.1 L181.2 339.9 L180.7 339.7 L180.2 339.4 L179.9 339.1 L179.4 338.6 L179.2 338.3 L178.9 337.8 L178.7 337.1 L178.6 336.6 L178.6 335.9 L178.7 335.4 L178.9 334.8 L179.2 334.3 L179.4 333.9 L179.8 333.4 L180.2 333.0 L180.6 332.6 L181.0 332.4 L181.4 332.1 L181.9 331.9 L182.4 331.6 L183.0 331.4 L183.7 331.2 L184.2 331.1 L184.8 330.9 L185.4 330.8 L186.2 330.7 L186.7 330.6 L187.4 330.6 L188.2 330.6 L188.9 330.6 L189.4 330.7 L190.2 330.9 L190.7 331.1 L191.1 331.4 L191.4 331.9 L191.5 332.4 L191.4 333.1 L191.2 333.6 L191.0 334.1 L190.7 334.6 L190.4 335.1 L190.2 335.4 L189.8 335.9 L189.4 336.3 L189.1 336.6 L188.7 337.1 L188.3 337.4 L187.9 337.8 L187.4 338.1 L187.1 338.4 L186.7 338.7 L186.2 339.0 L185.7 339.3 L185.2 339.6 L184.7 339.8 L184.2 339.9Z M183.9 339.4 L183.2 339.6 L182.4 339.6 L181.7 339.4 L181.2 339.3 L180.7 339.0 L180.2 338.6 L179.9 338.3 L179.6 337.9 L179.4 337.4 L179.2 336.6 L179.2 335.9 L179.4 335.1 L179.6 334.6 L179.9 334.1 L180.2 333.8 L180.5 333.4 L180.9 333.1 L181.4 332.7 L181.9 332.4 L182.4 332.2 L182.9 332.0 L183.4 331.8 L184.1 331.6 L184.7 331.5 L185.4 331.4 L185.9 331.3 L186.7 331.3 L187.4 331.3 L188.1 331.4 L188.7 331.5 L189.2 331.7 L189.7 332.1 L189.9 332.4 L190.1 333.1 L190.0 333.9 L189.8 334.4 L189.5 334.9 L189.2 335.4 L188.9 335.8 L188.7 336.2 L188.2 336.6 L187.9 337.0 L187.5 337.4 L187.2 337.7 L186.7 338.1 L186.2 338.4 L185.8 338.6 L185.3 338.9 L184.8 339.1 L184.2 339.4Z M183.7 338.9 L182.9 339.0 L182.2 339.0 L181.7 338.8 L181.2 338.6 L180.7 338.2 L180.3 337.9 L180.0 337.4 L179.9 336.9 L179.8 336.1 L179.9 335.4 L180.1 334.9 L180.4 334.4 L180.7 334.1 L181.1 333.6 L181.4 333.4 L181.9 333.1 L182.4 332.8 L182.9 332.6 L183.4 332.4 L184.2 332.2 L184.7 332.1 L185.4 332.0 L186.2 332.0 L186.9 332.1 L187.4 332.2 L188.0 332.4 L188.4 332.7 L188.7 333.1 L188.9 333.9 L188.7 334.6 L188.5 335.1 L188.2 335.6 L187.9 336.0 L187.6 336.4 L187.2 336.9 L186.9 337.1 L186.4 337.6 L186.0 337.9 L185.6 338.1 L185.2 338.4 L184.6 338.6 L183.9 338.9Z M183.4 338.4 L182.7 338.4 L182.2 338.3 L181.6 338.1 L181.2 337.8 L180.8 337.4 L180.5 336.9 L180.4 336.1 L180.6 335.4 L180.8 334.9 L181.1 334.4 L181.4 334.1 L181.9 333.7 L182.4 333.4 L182.9 333.2 L183.4 333.0 L183.9 332.9 L184.7 332.8 L185.4 332.7 L186.2 332.8 L186.7 333.0 L187.2 333.2 L187.5 333.6 L187.7 334.1 L187.7 334.7 L187.4 335.4 L187.2 335.8 L186.9 336.2 L186.5 336.6 L186.2 337.0 L185.7 337.4 L185.3 337.6 L184.9 337.9 L184.3 338.1 L183.7 338.4Z M183.7 337.7 L182.9 337.7 L182.4 337.6 L181.9 337.4 L181.4 336.9 L181.2 336.4 L181.3 335.6 L181.5 335.1 L181.8 334.6 L182.2 334.4 L182.7 334.0 L183.2 333.8 L183.7 333.6 L184.4 333.5 L185.2 333.6 L185.7 333.7 L186.2 334.0 L186.4 334.4 L186.4 335.1 L186.3 335.6 L185.9 336.1 L185.7 336.5 L185.2 336.9 L184.9 337.1 L184.4 337.4 L183.7 337.6Z M183.7 336.7 L182.9 336.7 L182.5 336.4 L182.3 335.9 L182.5 335.4 L182.9 335.0 L183.4 334.7 L183.9 334.6 L184.4 334.6 L184.9 335.0 L184.9 335.6 L184.7 336.1 L184.3 336.4 L183.8 336.6Z" fill="none" stroke="#000" stroke-width="1.0"/>
<path d="M184.2 342.4 L183.4 342.5 L182.7 342.6 L181.9 342.6 L181.2 342.5 L180.7 342.3 L180.1 342.1 L179.5 341.9 L179.0 341.6 L178.7 341.4 L178.2 341.0 L177.8 340.6 L177.4 340.2 L177.2 339.8 L176.9 339.4 L176.6 338.9 L176.4 338.3 L176.2 337.6 L176.1 337.1 L176.1 336.4 L176.1 335.6 L176.2 335.1 L176.4 334.4 L176.6 333.9 L176.8 333.4 L177.1 332.9 L177.4 332.5 L177.7 332.1 L178.1 331.6 L178.4 331.4 L178.9 330.9 L179.3 330.6 L179.7 330.4 L180.2 330.1 L180.7 329.8 L181.2 329.6 L181.7 329.3 L182.2 329.1 L182.7 328.9 L183.4 328.7 L183.9 328.5 L184.4 328.3 L185.0 328.1 L185.7 328.0 L186.2 327.8 L186.8 327.6 L187.4 327.5 L187.9 327.4 L188.7 327.2 L189.2 327.1 L189.9 326.9 L190.4 326.8 L191.2 326.7 L191.7 326.6 L192.4 326.5 L192.9 326.4 L193.7 326.3 L194.4 326.2 L195.0 326.1 L195.7 326.1 L196.4 326.1 L197.2 326.1 L197.7 326.2 L198.4 326.4 L198.9 326.5 L199.4 326.8 L199.8 327.1 L200.0 327.6 L200.1 328.4 L199.9 329.1 L199.7 329.6 L199.4 330.1 L199.2 330.6 L198.9 331.0 L198.6 331.4 L198.2 331.9 L197.9 332.3 L197.6 332.6 L197.2 333.1 L196.9 333.4 L196.4 333.9 L196.1 334.1 L195.7 334.6 L195.4 334.9 L194.9 335.3 L194.5 335.6 L194.2 336.0 L193.7 336.4 L193.4 336.7 L192.9 337.1 L192.5 337.4 L192.2 337.7 L191.7 338.1 L191.3 338.4 L190.9 338.7 L190.4 339.1 L190.0 339.4 L189.6 339.6 L189.2 340.0 L188.7 340.3 L188.2 340.6 L187.7 340.9 L187.3 341.1 L186.8 341.4 L186.3 341.6 L185.8 341.9 L185.2 342.1 L184.7 342.3 L184.2 342.4Z" fill="#111" stroke="none"/>
<rect x="193.50" y="303.70" width="77.80" height="47.50" fill="none" stroke="#666" stroke-width="0.9"/>
<rect x="166.40" y="284.40" width="104.90" height="101.10" fill="none" stroke="#222" stroke-width="1.0"/>
<line x1="166.40" y1="284.40" x2="166.40" y2="386.00" stroke="#000" stroke-width="1.5"/>
<line x1="165.90" y1="385.50" x2="271.30" y2="385.50" stroke="#000" stroke-width="1.6"/>
<line x1="168.40" y1="385.50" x2="168.40" y2="387.70" stroke="#000" stroke-width="0.8"/>
<line x1="171.00" y1="385.50" x2="171.00" y2="387.00" stroke="#000" stroke-width="0.8"/>
<line x1="173.60" y1="385.50" x2="173.60" y2="387.00" stroke="#000" stroke-width="0.8"/>
<line x1="176.20" y1="385.50" x2="176.20" y2="387.00" stroke="#000" stroke-width="0.8"/>
<line x1="178.80" y1="385.50" x2="178.80" y2="387.00" stroke="#000" stroke-width="0.8"/>
<line x1="181.40" y1="385.50" x2="181.40" y2="387.00" stroke="#000" stroke-width="0.8"/>
<line x1="184.00" y1="385.50" x2="184.00" y2="387.00" stroke="#000" stroke-width="0.8"/>
<line x1="186.60" y1="385.50" x2="186.60" y2="387.70" stroke="#000" stroke-width="0.8"/>
<line x1="189.20" y1="385.50" x2="189.20" y2="387.00" stroke="#000" stroke-width="0.8"/>
<line x1="191.80" y1="385.50" x2="191.80" y2="387.00" stroke="#000" stroke-width="0.8"/>
<line x1="194.40" y1="385.50" x2="194.40" y2="387.00" stroke="#000" stroke-width="0.8"/>
<line x1="197.00" y1="385.50" x2="197.00" y2="387.00" stroke="#000" stroke-width="0.8"/>
<line x1="199.60" y1="385.50" x2="199.60" y2="387.00" stroke="#000" stroke-width="0.8"/>
<line x1="202.20" y1="385.50" x2="202.20" y2="387.70" stroke="#000" stroke-width="0.8"/>
<line x1="204.80" y1="385.50" x2="204.80" y2="387.70" stroke="#000" stroke-width="0.8"/>
<line x1="207.40" y1="385.50" x2="207.40" y2="387.00" stroke="#000" stroke-width="0.8"/>
<line x1="210.00" y1="385.50" x2="210.00" y2="387.00" stroke="#000" stroke-width="0.8"/>
<line x1="212.60" y1="385.50" x2="212.60" y2="387.00" stroke="#000" stroke-width="0.8"/>
<line x1="215.20" y1="385.50" x2="215.20" y2="387.00" stroke="#000" stroke-width="0.8"/>
<line x1="217.80" y1="385.50" x2="217.80" y2="387.00" stroke="#000" stroke-width="0.8"/>
<line x1="220.40" y1="385.50" x2="220.40" y2="387.70" stroke="#000" stroke-width="0.8"/>
<line x1="223.00" y1="385.50" x2="223.00" y2="387.00" stroke="#000" stroke-width="0.8"/>
<line x1="225.60" y1="385.50" x2="225.60" y2="387.00" stroke="#000" stroke-width="0.8"/>
<line x1="228.20" y1="385.50" x2="228.20" y2="387.00" stroke="#000" stroke-width="0.8"/>
<line x1="230.80" y1="385.50" x2="230.80" y2="387.70" stroke="#000" stroke-width="0.8"/>
<line x1="233.40" y1="385.50" x2="233.40" y2="387.00" stroke="#000" stroke-width="0.8"/>
<line x1="236.00" y1="385.50" x2="236.00" y2="387.00" stroke="#000" stroke-width="0.8"/>
<line x1="238.60" y1="385.50" x2="238.60" y2="387.00" stroke="#000" stroke-width="0.8"/>
<line x1="241.20" y1="385.50" x2="241.20" y2="387.00" stroke="#000" stroke-width="0.8"/>
<line x1="243.80" y1="385.50" x2="243.80" y2="387.00" stroke="#000" stroke-width="0.8"/>
<line x1="246.40" y1="385.50" x2="246.40" y2="387.70" stroke="#000" stroke-width="0.8"/>
<line x1="249.00" y1="385.50" x2="249.00" y2="387.00" stroke="#000" stroke-width="0.8"/>
<line x1="251.60" y1="385.50" x2="251.60" y2="387.70" stroke="#000" stroke-width="0.8"/>
<line x1="254.20" y1="385.50" x2="254.20" y2="387.00" stroke="#000" stroke-width="0.8"/>
<line x1="256.80" y1="385.50" x2="256.80" y2="387.00" stroke="#000" stroke-width="0.8"/>
<line x1="259.40" y1="385.50" x2="259.40" y2="387.00" stroke="#000" stroke-width="0.8"/>
<line x1="262.00" y1="385.50" x2="262.00" y2="387.70" stroke="#000" stroke-width="0.8"/>
<line x1="264.60" y1="385.50" x2="264.60" y2="387.70" stroke="#000" stroke-width="0.8"/>
<line x1="267.20" y1="385.50" x2="267.20" y2="387.70" stroke="#000" stroke-width="0.8"/>
<line x1="269.80" y1="385.50" x2="269.80" y2="387.00" stroke="#000" stroke-width="0.8"/>
<line x1="165.00" y1="287.40" x2="166.40" y2="287.40" stroke="#000" stroke-width="0.7"/>
<line x1="165.00" y1="290.70" x2="166.40" y2="290.70" stroke="#000" stroke-width="0.7"/>
<line x1="165.00" y1="294.00" x2="166.40" y2="294.00" stroke="#000" stroke-width="0.7"/>
<line x1="165.00" y1="297.30" x2="166.40" y2="297.30" stroke="#000" stroke-width="0.7"/>
<line x1="165.00" y1="300.60" x2="166.40" y2="300.60" stroke="#000" stroke-width="0.7"/>
<line x1="165.00" y1="303.90" x2="166.40" y2="303.90" stroke="#000" stroke-width="0.7"/>
<line x1="165.00" y1="307.20" x2="166.40" y2="307.20" stroke="#000" stroke-width="0.7"/>
<line x1="165.00" y1="310.50" x2="166.40" y2="310.50" stroke="#000" stroke-width="0.7"/>
<line x1="165.00" y1="313.80" x2="166.40" y2="313.80" stroke="#000" stroke-width="0.7"/>
<line x1="165.00" y1="317.10" x2="166.40" y2="317.10" stroke="#000" stroke-width="0.7"/>
<line x1="165.00" y1="320.40" x2="166.40" y2="320.40" stroke="#000" stroke-width="0.7"/>
<line x1="165.00" y1="323.70" x2="166.40" y2="323.70" stroke="#000" stroke-width="0.7"/>
<line x1="165.00" y1="327.00" x2="166.40" y2="327.00" stroke="#000" stroke-width="0.7"/>
<line x1="165.00" y1="330.30" x2="166.40" y2="330.30" stroke="#000" stroke-width="0.7"/>
<line x1="165.00" y1="333.60" x2="166.40" y2="333.60" stroke="#000" stroke-width="0.7"/>
<line x1="165.00" y1="336.90" x2="166.40" y2="336.90" stroke="#000" stroke-width="0.7"/>
<line x1="165.00" y1="340.20" x2="166.40" y2="340.20" stroke="#000" stroke-width="0.7"/>
<line x1="165.00" y1="343.50" x2="166.40" y2="343.50" stroke="#000" stroke-width="0.7"/>
<line x1="165.00" y1="346.80" x2="166.40" y2="346.80" stroke="#000" stroke-width="0.7"/>
<line x1="165.00" y1="350.10" x2="166.40" y2="350.10" stroke="#000" stroke-width="0.7"/>
<line x1="165.00" y1="353.40" x2="166.40" y2="353.40" stroke="#000" stroke-width="0.7"/>
<line x1="165.00" y1="356.70" x2="166.40" y2="356.70" stroke="#000" stroke-width="0.7"/>
<line x1="165.00" y1="360.00" x2="166.40" y2="360.00" stroke="#000" stroke-width="0.7"/>
<line x1="165.00" y1="363.30" x2="166.40" y2="363.30" stroke="#000" stroke-width="0.7"/>
<line x1="165.00" y1="366.60" x2="166.40" y2="366.60" stroke="#000" stroke-width="0.7"/>
<line x1="165.00" y1="369.90" x2="166.40" y2="369.90" stroke="#000" stroke-width="0.7"/>
<line x1="165.00" y1="373.20" x2="166.40" y2="373.20" stroke="#000" stroke-width="0.7"/>
<line x1="165.00" y1="376.50" x2="166.40" y2="376.50" stroke="#000" stroke-width="0.7"/>
<line x1="165.00" y1="379.80" x2="166.40" y2="379.80" stroke="#000" stroke-width="0.7"/>
<line x1="165.00" y1="383.10" x2="166.40" y2="383.10" stroke="#000" stroke-width="0.7"/>
<line x1="163.80" y1="295.20" x2="166.40" y2="295.20" stroke="#000" stroke-width="0.9"/>
<text x="155.98" y="297.60" font-size="6.80" textLength="6.26" lengthAdjust="spacingAndGlyphs" fill="#000" font-weight="bold">10</text>
<text x="161.28" y="294.74" font-size="4.22" fill="#000">5</text>
<line x1="163.80" y1="317.20" x2="166.40" y2="317.20" stroke="#000" stroke-width="0.9"/>
<text x="155.98" y="319.60" font-size="6.80" textLength="6.26" lengthAdjust="spacingAndGlyphs" fill="#000" font-weight="bold">10</text>
<text x="161.28" y="316.74" font-size="4.22" fill="#000">4</text>
<line x1="163.80" y1="339.80" x2="166.40" y2="339.80" stroke="#000" stroke-width="0.9"/>
<text x="155.98" y="342.20" font-size="6.80" textLength="6.26" lengthAdjust="spacingAndGlyphs" fill="#000" font-weight="bold">10</text>
<text x="161.28" y="339.34" font-size="4.22" fill="#000">3</text>
<line x1="163.80" y1="366.50" x2="166.40" y2="366.50" stroke="#000" stroke-width="0.9"/>
<text x="155.98" y="368.90" font-size="6.80" textLength="6.26" lengthAdjust="spacingAndGlyphs" fill="#000" font-weight="bold">10</text>
<text x="161.28" y="366.04" font-size="4.22" fill="#000">2</text>
<line x1="163.80" y1="376.80" x2="166.40" y2="376.80" stroke="#000" stroke-width="0.9"/>
<text x="163.90" y="379.20" font-size="7.00" text-anchor="end">0</text>
<text x="178.75" y="397.80" font-size="7.00" text-anchor="middle">0</text>
<text x="184.84" y="397.80" font-size="6.80" textLength="6.26" lengthAdjust="spacingAndGlyphs" fill="#000" font-weight="bold">10</text>
<text x="190.14" y="394.94" font-size="4.22" fill="#000">2</text>
<text x="208.59" y="397.80" font-size="6.80" textLength="6.26" lengthAdjust="spacingAndGlyphs" fill="#000" font-weight="bold">10</text>
<text x="213.89" y="394.94" font-size="4.22" fill="#000">3</text>
<text x="232.34" y="397.80" font-size="6.80" textLength="6.26" lengthAdjust="spacingAndGlyphs" fill="#000" font-weight="bold">10</text>
<text x="237.64" y="394.94" font-size="4.22" fill="#000">4</text>
<text x="255.59" y="397.80" font-size="6.80" textLength="6.26" lengthAdjust="spacingAndGlyphs" fill="#000" font-weight="bold">10</text>
<text x="260.89" y="394.94" font-size="4.22" fill="#000">5</text>
<text x="218.80" y="402.80" font-size="7.00" font-weight="bold" text-anchor="middle" textLength="16.00" lengthAdjust="spacingAndGlyphs">CD42</text>
<text x="155.60" y="328.60" font-size="7.00" text-anchor="middle" textLength="24.00" lengthAdjust="spacingAndGlyphs" fill="#111" transform="rotate(-90 155.60 328.60)">SSC-A</text>
<text x="246.25" y="363.80" font-size="11.00" font-weight="bold" textLength="18.00" lengthAdjust="spacingAndGlyphs">29.9</text>
<path d="M328.2 345.9 L327.5 346.0 L326.8 346.1 L326.0 346.1 L325.2 346.1 L324.5 346.1 L323.8 346.0 L323.1 345.9 L322.5 345.8 L322.0 345.6 L321.2 345.4 L320.8 345.2 L320.2 345.0 L319.8 344.8 L319.2 344.5 L318.8 344.2 L318.2 343.9 L317.9 343.6 L317.5 343.4 L317.0 343.0 L316.6 342.6 L316.2 342.3 L315.9 341.9 L315.5 341.5 L315.2 341.1 L314.9 340.6 L314.5 340.1 L314.2 339.7 L314.0 339.3 L313.8 338.9 L313.5 338.3 L313.2 337.8 L313.0 337.1 L312.8 336.6 L312.7 336.1 L312.5 335.4 L312.4 334.9 L312.3 334.1 L312.3 333.4 L312.2 332.9 L312.2 332.1 L312.3 331.6 L312.3 330.9 L312.5 330.1 L312.6 329.6 L312.8 328.9 L312.9 328.4 L313.1 327.9 L313.3 327.4 L313.5 326.9 L313.8 326.4 L314.1 325.9 L314.4 325.4 L314.7 324.9 L315.0 324.5 L315.3 324.1 L315.7 323.6 L316.0 323.4 L316.5 322.9 L316.8 322.6 L317.2 322.2 L317.6 321.9 L318.0 321.6 L318.5 321.2 L319.0 320.9 L319.4 320.6 L319.8 320.4 L320.2 320.1 L320.8 319.8 L321.2 319.5 L321.8 319.3 L322.2 319.0 L322.8 318.8 L323.2 318.5 L323.8 318.3 L324.2 318.0 L324.8 317.8 L325.2 317.6 L325.8 317.3 L326.2 317.1 L326.8 316.9 L327.2 316.6 L327.8 316.4 L328.3 316.1 L328.8 315.9 L329.4 315.6 L329.9 315.4 L330.4 315.1 L331.0 314.9 L331.5 314.7 L332.0 314.4 L332.5 314.2 L333.0 314.0 L333.5 313.7 L334.0 313.5 L334.5 313.3 L335.0 313.0 L335.5 312.8 L336.0 312.6 L336.5 312.4 L337.0 312.1 L337.5 311.9 L338.1 311.6 L338.6 311.4 L339.2 311.1 L339.7 310.9 L340.2 310.7 L340.8 310.4 L341.2 310.2 L341.8 310.0 L342.2 309.7 L342.8 309.5 L343.2 309.3 L343.8 309.1 L344.2 308.9 L344.8 308.6 L345.3 308.4 L346.0 308.1 L346.5 307.9 L347.0 307.8 L347.5 307.6 L348.1 307.4 L348.8 307.2 L349.2 307.1 L350.0 306.9 L350.5 306.8 L351.2 306.7 L351.8 306.6 L352.5 306.6 L353.2 306.6 L353.9 306.6 L354.5 306.7 L355.2 306.8 L355.8 307.0 L356.4 307.1 L357.0 307.3 L357.5 307.5 L358.0 307.8 L358.5 308.0 L359.0 308.3 L359.5 308.6 L359.9 308.9 L360.3 309.1 L360.8 309.5 L361.2 309.9 L361.5 310.2 L361.9 310.6 L362.2 311.0 L362.6 311.4 L363.0 311.9 L363.2 312.3 L363.5 312.6 L363.8 313.1 L364.1 313.6 L364.4 314.1 L364.6 314.6 L364.8 315.1 L365.0 315.7 L365.2 316.4 L365.4 316.9 L365.5 317.5 L365.6 318.1 L365.7 318.9 L365.8 319.4 L365.8 320.1 L365.8 320.9 L365.7 321.4 L365.6 322.1 L365.5 322.9 L365.4 323.4 L365.2 323.9 L365.0 324.6 L364.8 325.1 L364.6 325.6 L364.3 326.1 L364.1 326.6 L363.8 327.1 L363.5 327.5 L363.2 327.9 L362.8 328.4 L362.5 328.7 L362.1 329.1 L361.8 329.5 L361.3 329.9 L361.0 330.1 L360.5 330.5 L360.0 330.9 L359.6 331.1 L359.2 331.4 L358.8 331.7 L358.2 332.0 L357.8 332.3 L357.2 332.6 L356.8 332.9 L356.2 333.1 L355.8 333.4 L355.2 333.6 L354.8 333.9 L354.2 334.1 L353.8 334.4 L353.3 334.6 L352.8 334.9 L352.3 335.1 L351.8 335.4 L351.2 335.6 L350.8 335.9 L350.2 336.1 L349.8 336.4 L349.2 336.6 L348.8 336.9 L348.2 337.1 L347.8 337.4 L347.2 337.6 L346.8 337.9 L346.2 338.1 L345.8 338.4 L345.2 338.6 L344.8 338.9 L344.2 339.1 L343.8 339.4 L343.2 339.6 L342.8 339.8 L342.2 340.1 L341.8 340.3 L341.2 340.6 L340.8 340.8 L340.2 341.1 L339.8 341.3 L339.2 341.6 L338.8 341.8 L338.2 342.0 L337.8 342.3 L337.2 342.5 L336.8 342.8 L336.2 343.0 L335.8 343.2 L335.2 343.5 L334.8 343.7 L334.2 343.9 L333.7 344.1 L333.2 344.4 L332.5 344.6 L332.0 344.9 L331.5 345.0 L331.0 345.2 L330.4 345.4 L329.8 345.6 L329.2 345.7 L328.5 345.9Z M328.0 344.4 L327.2 344.5 L326.5 344.6 L325.8 344.6 L325.0 344.6 L324.2 344.5 L323.5 344.4 L323.0 344.3 L322.3 344.1 L321.8 344.0 L321.2 343.8 L320.8 343.6 L320.2 343.3 L319.8 343.1 L319.2 342.8 L318.8 342.4 L318.4 342.1 L318.0 341.8 L317.5 341.4 L317.2 341.1 L316.8 340.6 L316.5 340.3 L316.2 339.9 L315.8 339.4 L315.5 338.9 L315.2 338.5 L315.0 338.0 L314.8 337.5 L314.5 336.9 L314.3 336.4 L314.2 335.9 L314.0 335.2 L313.9 334.6 L313.8 333.9 L313.8 333.2 L313.7 332.6 L313.8 332.1 L313.8 331.4 L313.9 330.6 L314.0 330.1 L314.2 329.4 L314.4 328.9 L314.5 328.4 L314.8 327.9 L315.0 327.4 L315.3 326.9 L315.6 326.4 L315.9 325.9 L316.2 325.4 L316.5 325.1 L316.9 324.6 L317.2 324.3 L317.6 323.9 L318.0 323.6 L318.5 323.1 L318.8 322.9 L319.2 322.6 L319.8 322.2 L320.2 321.9 L320.6 321.6 L321.0 321.4 L321.5 321.1 L322.0 320.9 L322.5 320.6 L323.0 320.3 L323.5 320.1 L324.0 319.9 L324.5 319.6 L325.0 319.4 L325.5 319.1 L326.0 318.9 L326.6 318.6 L327.1 318.4 L327.7 318.1 L328.2 317.9 L328.8 317.7 L329.2 317.4 L329.8 317.2 L330.2 317.0 L330.8 316.8 L331.2 316.5 L331.8 316.3 L332.2 316.1 L332.8 315.9 L333.2 315.6 L333.8 315.4 L334.4 315.1 L334.9 314.9 L335.5 314.6 L336.0 314.4 L336.5 314.2 L337.0 314.0 L337.5 313.7 L338.0 313.5 L338.5 313.3 L339.0 313.1 L339.5 312.9 L340.0 312.6 L340.6 312.4 L341.1 312.1 L341.7 311.9 L342.2 311.7 L342.8 311.4 L343.2 311.2 L343.8 311.0 L344.2 310.8 L344.8 310.6 L345.2 310.4 L345.8 310.1 L346.4 309.9 L347.0 309.7 L347.5 309.5 L348.0 309.3 L348.6 309.1 L349.2 309.0 L349.8 308.9 L350.5 308.7 L351.0 308.6 L351.8 308.5 L352.5 308.5 L353.2 308.5 L354.0 308.6 L354.7 308.6 L355.2 308.8 L355.8 308.9 L356.5 309.1 L357.0 309.3 L357.5 309.6 L358.0 309.8 L358.5 310.1 L358.9 310.4 L359.3 310.6 L359.8 311.0 L360.2 311.4 L360.5 311.7 L360.9 312.1 L361.2 312.5 L361.5 312.9 L361.9 313.4 L362.2 313.9 L362.5 314.4 L362.8 314.9 L363.0 315.4 L363.2 315.9 L363.4 316.4 L363.5 316.9 L363.7 317.6 L363.8 318.1 L363.9 318.9 L364.0 319.6 L364.0 320.4 L363.9 321.1 L363.8 321.9 L363.7 322.4 L363.5 323.1 L363.4 323.6 L363.2 324.1 L363.0 324.6 L362.7 325.1 L362.5 325.6 L362.1 326.1 L361.8 326.6 L361.5 327.0 L361.1 327.4 L360.8 327.8 L360.4 328.1 L360.0 328.5 L359.5 328.9 L359.2 329.1 L358.8 329.5 L358.2 329.9 L357.8 330.1 L357.4 330.4 L357.0 330.6 L356.5 330.9 L356.0 331.2 L355.5 331.5 L355.0 331.8 L354.5 332.0 L354.0 332.3 L353.5 332.6 L353.0 332.8 L352.5 333.1 L352.0 333.3 L351.5 333.6 L351.0 333.9 L350.5 334.1 L350.0 334.4 L349.5 334.6 L349.0 334.9 L348.5 335.1 L348.0 335.4 L347.5 335.6 L347.0 335.9 L346.5 336.1 L346.0 336.4 L345.5 336.6 L345.0 336.9 L344.5 337.1 L344.0 337.4 L343.5 337.6 L343.0 337.9 L342.5 338.1 L342.1 338.4 L341.6 338.6 L341.1 338.9 L340.6 339.1 L340.1 339.4 L339.6 339.6 L339.1 339.9 L338.6 340.1 L338.1 340.4 L337.6 340.6 L337.1 340.9 L336.6 341.1 L336.1 341.4 L335.5 341.6 L335.0 341.9 L334.5 342.1 L334.0 342.4 L333.5 342.6 L333.0 342.8 L332.5 343.0 L332.0 343.2 L331.5 343.4 L330.9 343.6 L330.2 343.9 L329.8 344.0 L329.2 344.1 L328.5 344.3 L328.0 344.4Z M327.5 343.2 L326.8 343.3 L326.0 343.3 L325.2 343.3 L324.5 343.2 L323.9 343.1 L323.2 343.0 L322.7 342.9 L322.0 342.7 L321.5 342.5 L321.0 342.3 L320.5 342.0 L320.0 341.7 L319.6 341.4 L319.2 341.1 L318.8 340.8 L318.3 340.4 L318.0 340.1 L317.6 339.6 L317.2 339.2 L317.0 338.9 L316.7 338.4 L316.4 337.9 L316.1 337.4 L315.9 336.9 L315.7 336.4 L315.5 335.8 L315.3 335.1 L315.2 334.6 L315.1 333.9 L315.0 333.1 L315.0 332.4 L315.1 331.6 L315.2 330.9 L315.3 330.4 L315.5 329.6 L315.7 329.1 L315.9 328.6 L316.1 328.1 L316.3 327.6 L316.6 327.1 L317.0 326.6 L317.2 326.3 L317.5 325.9 L318.0 325.4 L318.2 325.1 L318.7 324.6 L319.0 324.4 L319.5 324.0 L320.0 323.6 L320.3 323.4 L320.8 323.1 L321.2 322.8 L321.8 322.5 L322.2 322.2 L322.8 321.9 L323.2 321.7 L323.8 321.4 L324.2 321.2 L324.8 320.9 L325.2 320.7 L325.8 320.5 L326.2 320.2 L326.8 320.0 L327.2 319.8 L327.8 319.6 L328.2 319.4 L328.8 319.1 L329.3 318.9 L329.9 318.6 L330.4 318.4 L331.0 318.2 L331.5 317.9 L332.0 317.7 L332.5 317.5 L333.0 317.3 L333.5 317.1 L334.0 316.8 L334.5 316.6 L335.0 316.4 L335.6 316.1 L336.2 315.9 L336.8 315.7 L337.2 315.4 L337.8 315.2 L338.2 315.0 L338.8 314.8 L339.2 314.6 L339.8 314.4 L340.3 314.1 L340.8 313.9 L341.4 313.6 L342.0 313.4 L342.5 313.2 L343.0 313.0 L343.5 312.8 L344.0 312.6 L344.5 312.4 L345.0 312.1 L345.6 311.9 L346.2 311.7 L346.8 311.5 L347.2 311.3 L347.8 311.1 L348.4 310.9 L349.0 310.7 L349.5 310.6 L350.2 310.4 L350.8 310.3 L351.5 310.2 L352.2 310.2 L353.0 310.2 L353.8 310.2 L354.5 310.3 L355.0 310.4 L355.8 310.6 L356.2 310.8 L356.8 311.0 L357.2 311.3 L357.8 311.6 L358.2 311.9 L358.5 312.1 L359.0 312.5 L359.4 312.9 L359.8 313.3 L360.1 313.6 L360.5 314.1 L360.8 314.6 L361.0 315.0 L361.2 315.4 L361.5 316.0 L361.8 316.6 L361.9 317.1 L362.1 317.6 L362.2 318.4 L362.3 318.9 L362.3 319.6 L362.3 320.4 L362.3 321.1 L362.2 321.6 L362.0 322.4 L361.9 322.9 L361.7 323.4 L361.5 323.9 L361.2 324.4 L360.9 324.9 L360.6 325.4 L360.2 325.9 L360.0 326.2 L359.6 326.6 L359.2 327.0 L358.8 327.4 L358.5 327.6 L358.0 328.0 L357.5 328.4 L357.1 328.6 L356.8 328.9 L356.2 329.2 L355.8 329.5 L355.2 329.8 L354.8 330.1 L354.3 330.4 L353.8 330.6 L353.4 330.9 L352.9 331.1 L352.4 331.4 L352.0 331.6 L351.5 331.9 L351.0 332.2 L350.5 332.4 L350.0 332.7 L349.5 333.0 L349.0 333.2 L348.5 333.5 L348.0 333.7 L347.5 334.0 L347.0 334.3 L346.5 334.5 L346.0 334.8 L345.5 335.1 L345.0 335.3 L344.5 335.6 L344.0 335.8 L343.5 336.1 L343.0 336.4 L342.5 336.6 L342.0 336.9 L341.5 337.1 L341.0 337.4 L340.5 337.6 L340.0 337.9 L339.5 338.1 L339.1 338.4 L338.6 338.6 L338.1 338.9 L337.6 339.1 L337.1 339.4 L336.6 339.6 L336.1 339.9 L335.6 340.1 L335.1 340.4 L334.6 340.6 L334.1 340.9 L333.6 341.1 L333.0 341.4 L332.5 341.6 L332.0 341.9 L331.5 342.1 L331.0 342.2 L330.5 342.4 L329.8 342.6 L329.2 342.8 L328.8 342.9 L328.0 343.1 L327.5 343.2Z M326.5 342.2 L325.8 342.2 L325.0 342.2 L324.5 342.1 L323.8 342.0 L323.2 341.9 L322.5 341.7 L322.0 341.5 L321.5 341.3 L321.0 341.0 L320.5 340.7 L320.1 340.4 L319.7 340.1 L319.2 339.7 L318.9 339.4 L318.5 339.0 L318.2 338.6 L317.8 338.1 L317.5 337.6 L317.2 337.2 L317.0 336.7 L316.8 336.1 L316.6 335.6 L316.5 335.1 L316.3 334.4 L316.2 333.9 L316.2 333.1 L316.2 332.4 L316.2 331.6 L316.3 331.1 L316.4 330.4 L316.6 329.9 L316.8 329.4 L317.0 328.8 L317.2 328.3 L317.5 327.9 L317.8 327.4 L318.2 326.9 L318.5 326.5 L318.8 326.1 L319.2 325.7 L319.5 325.4 L320.0 325.0 L320.4 324.6 L320.8 324.4 L321.2 324.1 L321.8 323.7 L322.2 323.4 L322.8 323.2 L323.2 322.9 L323.7 322.6 L324.2 322.4 L324.7 322.1 L325.2 321.9 L325.8 321.7 L326.2 321.5 L326.8 321.2 L327.2 321.0 L327.8 320.8 L328.2 320.6 L328.8 320.4 L329.3 320.1 L329.8 319.9 L330.4 319.6 L331.0 319.4 L331.5 319.2 L332.0 319.0 L332.5 318.8 L333.0 318.6 L333.5 318.3 L334.0 318.1 L334.6 317.9 L335.2 317.6 L335.8 317.4 L336.2 317.2 L336.8 317.0 L337.2 316.8 L337.8 316.6 L338.2 316.4 L338.8 316.1 L339.4 315.9 L340.0 315.6 L340.5 315.4 L341.0 315.2 L341.5 315.0 L342.0 314.8 L342.5 314.6 L343.0 314.4 L343.6 314.1 L344.2 313.9 L344.8 313.7 L345.2 313.5 L345.8 313.3 L346.2 313.1 L346.8 312.9 L347.5 312.7 L348.0 312.5 L348.5 312.3 L349.2 312.1 L349.8 312.0 L350.2 311.9 L351.0 311.8 L351.8 311.7 L352.4 311.6 L352.8 311.6 L353.5 311.7 L354.2 311.8 L354.8 311.9 L355.5 312.1 L356.0 312.3 L356.5 312.6 L357.0 312.9 L357.4 313.1 L357.8 313.4 L358.2 313.8 L358.6 314.1 L359.0 314.6 L359.2 315.0 L359.6 315.4 L359.9 315.9 L360.1 316.4 L360.3 316.9 L360.5 317.4 L360.7 318.1 L360.8 318.6 L360.9 319.4 L360.9 320.1 L360.8 320.9 L360.7 321.4 L360.5 322.1 L360.4 322.6 L360.2 323.1 L359.9 323.6 L359.6 324.1 L359.3 324.6 L359.0 325.1 L358.7 325.4 L358.2 325.9 L358.0 326.1 L357.5 326.6 L357.1 326.9 L356.8 327.2 L356.2 327.6 L355.8 327.9 L355.4 328.1 L355.0 328.4 L354.5 328.7 L354.0 329.0 L353.5 329.3 L353.0 329.6 L352.5 329.8 L352.0 330.1 L351.5 330.4 L351.0 330.6 L350.6 330.9 L350.1 331.1 L349.7 331.4 L349.2 331.6 L348.8 331.9 L348.2 332.2 L347.8 332.4 L347.2 332.7 L346.8 333.0 L346.2 333.3 L345.8 333.5 L345.2 333.8 L344.8 334.1 L344.2 334.3 L343.8 334.6 L343.2 334.9 L342.8 335.1 L342.3 335.4 L341.8 335.6 L341.3 335.9 L340.9 336.1 L340.4 336.4 L339.9 336.6 L339.4 336.9 L339.0 337.1 L338.5 337.4 L338.0 337.7 L337.5 337.9 L337.0 338.2 L336.5 338.5 L336.0 338.7 L335.5 339.0 L335.0 339.2 L334.5 339.5 L334.0 339.7 L333.5 340.0 L333.0 340.2 L332.5 340.4 L332.0 340.7 L331.4 340.9 L330.8 341.1 L330.2 341.4 L329.8 341.5 L329.2 341.7 L328.5 341.9 L328.0 342.0 L327.2 342.1 L326.7 342.1Z M327.8 341.2 L327.0 341.3 L326.2 341.4 L325.5 341.4 L324.8 341.3 L324.0 341.2 L323.5 341.1 L322.9 340.9 L322.2 340.7 L321.8 340.4 L321.2 340.2 L320.8 339.9 L320.5 339.6 L320.0 339.3 L319.6 338.9 L319.2 338.6 L318.9 338.1 L318.5 337.6 L318.2 337.2 L318.0 336.8 L317.8 336.3 L317.5 335.7 L317.3 335.1 L317.2 334.6 L317.1 333.9 L317.0 333.2 L317.0 332.6 L317.0 332.1 L317.1 331.4 L317.2 330.6 L317.4 330.1 L317.6 329.6 L317.8 329.1 L318.0 328.6 L318.3 328.1 L318.6 327.6 L319.0 327.2 L319.2 326.9 L319.7 326.4 L320.0 326.1 L320.5 325.7 L320.8 325.4 L321.2 325.1 L321.8 324.7 L322.2 324.4 L322.7 324.1 L323.1 323.9 L323.6 323.6 L324.0 323.4 L324.5 323.1 L325.1 322.9 L325.6 322.6 L326.2 322.4 L326.7 322.1 L327.2 321.9 L327.8 321.7 L328.2 321.5 L328.8 321.3 L329.2 321.1 L329.8 320.9 L330.3 320.6 L330.9 320.4 L331.5 320.1 L332.0 319.9 L332.5 319.7 L333.0 319.5 L333.5 319.3 L334.0 319.1 L334.5 318.9 L335.1 318.6 L335.7 318.4 L336.2 318.2 L336.8 318.0 L337.2 317.8 L337.8 317.6 L338.2 317.4 L338.8 317.1 L339.4 316.9 L340.0 316.7 L340.5 316.5 L341.0 316.3 L341.5 316.1 L342.0 315.9 L342.6 315.6 L343.2 315.4 L343.8 315.2 L344.2 315.0 L344.8 314.8 L345.2 314.6 L345.8 314.4 L346.5 314.1 L347.0 314.0 L347.5 313.8 L348.0 313.6 L348.8 313.4 L349.2 313.3 L349.8 313.1 L350.5 313.0 L351.1 312.9 L351.8 312.8 L352.5 312.8 L353.2 312.9 L353.8 312.9 L354.5 313.1 L355.0 313.2 L355.5 313.4 L356.0 313.7 L356.5 314.0 L357.0 314.3 L357.4 314.6 L357.8 315.0 L358.1 315.4 L358.5 315.9 L358.8 316.3 L359.0 316.8 L359.2 317.4 L359.4 317.9 L359.5 318.4 L359.7 319.1 L359.7 319.9 L359.6 320.6 L359.5 321.4 L359.4 321.9 L359.2 322.4 L359.0 322.9 L358.7 323.4 L358.4 323.9 L358.0 324.4 L357.8 324.7 L357.4 325.1 L357.0 325.5 L356.6 325.9 L356.2 326.2 L355.8 326.6 L355.3 326.9 L354.9 327.1 L354.5 327.4 L354.0 327.7 L353.5 328.1 L353.0 328.4 L352.5 328.6 L352.1 328.9 L351.6 329.1 L351.2 329.4 L350.8 329.7 L350.2 329.9 L349.8 330.2 L349.2 330.5 L348.8 330.8 L348.2 331.1 L347.8 331.3 L347.2 331.6 L346.8 331.9 L346.3 332.1 L345.9 332.4 L345.4 332.6 L344.9 332.9 L344.5 333.1 L344.0 333.4 L343.5 333.7 L343.0 334.0 L342.5 334.2 L342.0 334.5 L341.5 334.8 L341.0 335.1 L340.5 335.3 L340.0 335.6 L339.5 335.9 L339.0 336.1 L338.5 336.4 L338.1 336.6 L337.6 336.9 L337.2 337.1 L336.7 337.4 L336.2 337.6 L335.7 337.9 L335.2 338.2 L334.8 338.4 L334.2 338.7 L333.8 338.9 L333.2 339.2 L332.8 339.4 L332.2 339.7 L331.7 339.9 L331.1 340.1 L330.5 340.4 L330.0 340.6 L329.5 340.8 L329.0 340.9 L328.2 341.1 L327.8 341.2Z M327.0 340.7 L326.2 340.7 L325.5 340.7 L324.8 340.7 L324.2 340.6 L323.5 340.4 L323.0 340.3 L322.5 340.1 L322.0 339.9 L321.5 339.6 L321.0 339.3 L320.5 338.9 L320.2 338.6 L319.8 338.2 L319.5 337.9 L319.1 337.4 L318.8 336.9 L318.5 336.4 L318.3 335.9 L318.1 335.4 L317.9 334.9 L317.8 334.2 L317.7 333.6 L317.6 332.9 L317.6 332.1 L317.7 331.4 L317.8 330.9 L318.0 330.3 L318.2 329.6 L318.5 329.1 L318.7 328.6 L319.0 328.2 L319.2 327.9 L319.6 327.4 L320.0 327.0 L320.3 326.6 L320.8 326.3 L321.2 325.9 L321.5 325.6 L322.0 325.3 L322.5 325.0 L323.0 324.6 L323.4 324.4 L323.9 324.1 L324.4 323.9 L324.9 323.6 L325.4 323.4 L326.0 323.1 L326.5 322.9 L327.0 322.7 L327.5 322.5 L328.0 322.3 L328.5 322.1 L329.0 321.9 L329.5 321.6 L330.1 321.4 L330.7 321.1 L331.2 320.9 L331.8 320.7 L332.2 320.5 L332.8 320.3 L333.2 320.1 L333.8 319.9 L334.5 319.6 L335.0 319.4 L335.5 319.2 L336.0 319.0 L336.5 318.8 L337.0 318.6 L337.6 318.4 L338.2 318.2 L338.8 318.0 L339.2 317.8 L339.8 317.6 L340.2 317.4 L340.8 317.1 L341.5 316.9 L342.0 316.7 L342.5 316.5 L343.0 316.3 L343.5 316.1 L344.1 315.9 L344.7 315.6 L345.2 315.5 L345.8 315.3 L346.2 315.1 L346.8 314.9 L347.5 314.7 L348.0 314.5 L348.5 314.4 L349.2 314.2 L349.8 314.0 L350.4 313.9 L351.0 313.8 L351.8 313.7 L352.5 313.7 L353.2 313.8 L353.9 313.9 L354.5 314.1 L355.0 314.3 L355.5 314.5 L356.0 314.8 L356.5 315.1 L356.8 315.4 L357.2 315.9 L357.5 316.2 L357.8 316.6 L358.1 317.1 L358.3 317.6 L358.5 318.2 L358.7 318.9 L358.7 319.6 L358.7 320.4 L358.6 321.1 L358.5 321.6 L358.2 322.2 L358.0 322.7 L357.8 323.2 L357.4 323.6 L357.1 324.1 L356.8 324.5 L356.4 324.9 L356.0 325.2 L355.5 325.6 L355.2 325.9 L354.8 326.2 L354.2 326.6 L353.8 326.9 L353.4 327.1 L353.0 327.4 L352.5 327.7 L352.0 328.0 L351.5 328.3 L351.0 328.6 L350.5 328.9 L350.1 329.1 L349.6 329.4 L349.2 329.6 L348.8 329.9 L348.2 330.2 L347.8 330.5 L347.2 330.8 L346.8 331.1 L346.2 331.3 L345.8 331.6 L345.3 331.9 L344.8 332.1 L344.4 332.4 L343.9 332.6 L343.5 332.9 L343.0 333.2 L342.5 333.5 L342.0 333.7 L341.5 334.0 L341.0 334.3 L340.5 334.6 L340.0 334.9 L339.5 335.1 L339.0 335.4 L338.6 335.6 L338.1 335.9 L337.7 336.1 L337.2 336.4 L336.7 336.6 L336.2 336.9 L335.8 337.2 L335.2 337.5 L334.8 337.7 L334.2 338.0 L333.8 338.3 L333.2 338.5 L332.8 338.8 L332.2 339.0 L331.8 339.2 L331.2 339.4 L330.8 339.7 L330.1 339.9 L329.5 340.1 L329.0 340.3 L328.5 340.4 L327.8 340.6 L327.2 340.6Z M327.0 340.2 L326.2 340.2 L325.5 340.2 L324.8 340.2 L324.2 340.1 L323.5 339.9 L323.0 339.7 L322.5 339.5 L322.0 339.3 L321.5 339.0 L321.0 338.6 L320.7 338.4 L320.2 338.0 L320.0 337.6 L319.6 337.1 L319.2 336.7 L319.0 336.3 L318.8 335.7 L318.5 335.1 L318.4 334.6 L318.2 334.1 L318.2 333.4 L318.1 332.6 L318.2 331.9 L318.3 331.4 L318.4 330.6 L318.6 330.1 L318.8 329.6 L319.0 329.1 L319.3 328.6 L319.7 328.1 L320.0 327.7 L320.3 327.4 L320.8 326.9 L321.0 326.6 L321.5 326.3 L322.0 325.9 L322.3 325.6 L322.8 325.4 L323.2 325.1 L323.8 324.8 L324.2 324.5 L324.8 324.3 L325.2 324.0 L325.8 323.8 L326.2 323.6 L326.8 323.3 L327.2 323.1 L327.8 322.9 L328.4 322.6 L329.0 322.4 L329.5 322.2 L330.0 322.0 L330.5 321.8 L331.0 321.6 L331.5 321.4 L332.2 321.1 L332.8 320.9 L333.2 320.7 L333.8 320.5 L334.2 320.3 L334.8 320.1 L335.3 319.9 L336.0 319.6 L336.5 319.4 L337.0 319.3 L337.5 319.1 L338.0 318.9 L338.6 318.6 L339.2 318.4 L339.8 318.2 L340.2 318.0 L340.8 317.8 L341.2 317.6 L341.9 317.4 L342.5 317.2 L343.0 317.0 L343.5 316.8 L344.0 316.6 L344.6 316.4 L345.2 316.2 L345.8 316.0 L346.2 315.8 L346.8 315.6 L347.5 315.4 L348.0 315.2 L348.5 315.1 L349.2 314.9 L349.8 314.8 L350.5 314.6 L351.0 314.6 L351.8 314.5 L352.5 314.5 L353.2 314.6 L353.8 314.7 L354.4 314.9 L355.0 315.1 L355.4 315.4 L355.8 315.6 L356.2 316.0 L356.6 316.4 L357.0 316.9 L357.2 317.3 L357.5 317.8 L357.7 318.4 L357.8 318.9 L357.9 319.6 L357.9 320.4 L357.8 321.1 L357.6 321.6 L357.4 322.1 L357.1 322.6 L356.8 323.1 L356.5 323.6 L356.2 323.9 L355.8 324.4 L355.5 324.7 L355.0 325.1 L354.6 325.4 L354.2 325.7 L353.8 326.1 L353.3 326.4 L352.9 326.6 L352.5 326.9 L352.0 327.2 L351.5 327.5 L351.0 327.8 L350.5 328.1 L350.1 328.4 L349.7 328.6 L349.2 328.9 L348.8 329.2 L348.2 329.5 L347.8 329.8 L347.2 330.1 L346.8 330.4 L346.3 330.6 L345.8 330.9 L345.4 331.1 L345.0 331.4 L344.5 331.7 L344.0 332.0 L343.5 332.2 L343.0 332.5 L342.5 332.8 L342.0 333.1 L341.5 333.4 L341.0 333.6 L340.6 333.9 L340.2 334.1 L339.7 334.4 L339.2 334.7 L338.8 334.9 L338.2 335.2 L337.8 335.5 L337.2 335.8 L336.8 336.1 L336.2 336.3 L335.8 336.6 L335.2 336.9 L334.8 337.1 L334.3 337.4 L333.8 337.6 L333.4 337.9 L332.9 338.1 L332.4 338.4 L331.8 338.6 L331.3 338.9 L330.8 339.1 L330.2 339.3 L329.8 339.5 L329.2 339.7 L328.5 339.9 L328.0 340.0 L327.2 340.1Z M327.5 339.7 L326.8 339.8 L326.0 339.8 L325.2 339.8 L324.5 339.7 L324.0 339.6 L323.4 339.4 L322.8 339.2 L322.2 338.9 L321.8 338.6 L321.4 338.4 L321.0 338.1 L320.6 337.6 L320.2 337.3 L319.9 336.9 L319.6 336.4 L319.3 335.9 L319.1 335.4 L318.9 334.9 L318.8 334.3 L318.6 333.6 L318.6 332.9 L318.6 332.1 L318.7 331.4 L318.8 330.9 L319.0 330.3 L319.2 329.7 L319.5 329.2 L319.8 328.8 L320.0 328.4 L320.4 327.9 L320.8 327.5 L321.1 327.1 L321.5 326.8 L322.0 326.4 L322.3 326.1 L322.8 325.9 L323.2 325.5 L323.8 325.3 L324.2 325.0 L324.8 324.7 L325.2 324.5 L325.8 324.2 L326.2 324.0 L326.8 323.8 L327.2 323.6 L327.8 323.4 L328.3 323.1 L328.9 322.9 L329.5 322.7 L330.0 322.5 L330.5 322.3 L331.0 322.1 L331.5 321.9 L332.1 321.6 L332.8 321.4 L333.2 321.2 L333.8 321.0 L334.2 320.8 L334.8 320.6 L335.4 320.4 L336.0 320.2 L336.5 320.0 L337.0 319.8 L337.5 319.6 L338.0 319.4 L338.7 319.1 L339.2 318.9 L339.8 318.8 L340.2 318.6 L340.8 318.4 L341.4 318.1 L342.0 317.9 L342.5 317.7 L343.0 317.6 L343.5 317.4 L344.2 317.1 L344.8 317.0 L345.2 316.8 L345.8 316.6 L346.4 316.4 L347.0 316.2 L347.5 316.0 L348.0 315.9 L348.8 315.7 L349.2 315.6 L350.0 315.4 L350.5 315.3 L351.2 315.2 L352.0 315.2 L352.8 315.3 L353.5 315.4 L354.0 315.6 L354.5 315.8 L355.0 316.0 L355.5 316.4 L355.8 316.6 L356.2 317.1 L356.5 317.6 L356.8 318.1 L357.0 318.6 L357.1 319.1 L357.1 319.9 L357.1 320.6 L357.0 321.1 L356.8 321.7 L356.5 322.3 L356.2 322.7 L355.9 323.1 L355.5 323.6 L355.2 324.0 L354.8 324.4 L354.5 324.7 L354.0 325.1 L353.6 325.4 L353.2 325.7 L352.8 326.0 L352.2 326.3 L351.8 326.6 L351.4 326.9 L351.0 327.2 L350.5 327.5 L350.0 327.8 L349.5 328.1 L349.0 328.4 L348.6 328.6 L348.2 328.9 L347.7 329.1 L347.2 329.4 L346.8 329.7 L346.2 330.0 L345.8 330.3 L345.2 330.6 L344.8 330.9 L344.4 331.1 L344.0 331.4 L343.5 331.7 L343.0 332.0 L342.5 332.3 L342.0 332.5 L341.5 332.8 L341.0 333.1 L340.5 333.4 L340.1 333.6 L339.7 333.9 L339.2 334.1 L338.8 334.4 L338.2 334.7 L337.8 335.0 L337.2 335.3 L336.8 335.6 L336.2 335.8 L335.8 336.1 L335.2 336.4 L334.8 336.6 L334.3 336.9 L333.9 337.1 L333.4 337.4 L332.9 337.6 L332.4 337.9 L331.9 338.1 L331.4 338.4 L330.8 338.6 L330.2 338.9 L329.8 339.1 L329.2 339.2 L328.7 339.4 L328.0 339.6 L327.5 339.7Z M326.5 339.4 L325.8 339.4 L325.2 339.4 L324.5 339.3 L323.8 339.1 L323.2 339.0 L322.8 338.7 L322.2 338.5 L321.8 338.2 L321.4 337.9 L321.0 337.5 L320.6 337.1 L320.2 336.7 L320.0 336.3 L319.7 335.9 L319.5 335.4 L319.2 334.7 L319.1 334.1 L319.0 333.5 L319.0 332.9 L319.0 332.1 L319.0 331.6 L319.2 330.9 L319.4 330.4 L319.6 329.9 L319.8 329.4 L320.1 328.9 L320.5 328.4 L320.8 328.1 L321.1 327.6 L321.5 327.3 L322.0 326.9 L322.3 326.6 L322.8 326.3 L323.2 326.0 L323.8 325.7 L324.2 325.4 L324.7 325.1 L325.2 324.9 L325.7 324.6 L326.2 324.4 L326.8 324.2 L327.2 324.0 L327.8 323.8 L328.2 323.6 L328.8 323.4 L329.3 323.1 L330.0 322.9 L330.5 322.7 L331.0 322.5 L331.5 322.3 L332.0 322.1 L332.6 321.9 L333.2 321.6 L333.8 321.5 L334.2 321.3 L334.8 321.1 L335.2 320.9 L335.9 320.6 L336.5 320.4 L337.0 320.2 L337.5 320.1 L338.0 319.9 L338.6 319.6 L339.2 319.4 L339.8 319.2 L340.2 319.1 L340.8 318.9 L341.4 318.6 L342.0 318.4 L342.5 318.3 L343.0 318.1 L343.6 317.9 L344.2 317.7 L344.8 317.5 L345.2 317.3 L345.8 317.1 L346.5 316.9 L347.0 316.8 L347.5 316.6 L348.2 316.4 L348.8 316.3 L349.3 316.1 L350.0 316.0 L350.8 315.9 L351.2 315.9 L352.0 315.9 L352.5 315.9 L353.2 316.1 L353.8 316.2 L354.2 316.5 L354.8 316.8 L355.2 317.1 L355.5 317.5 L355.8 317.9 L356.1 318.4 L356.2 319.0 L356.4 319.6 L356.3 320.4 L356.2 321.0 L356.0 321.6 L355.8 322.1 L355.5 322.6 L355.2 323.0 L354.9 323.4 L354.5 323.8 L354.2 324.1 L353.8 324.5 L353.3 324.9 L352.9 325.1 L352.5 325.5 L352.0 325.8 L351.5 326.1 L351.2 326.4 L350.8 326.7 L350.2 327.0 L349.8 327.3 L349.2 327.6 L348.8 327.9 L348.4 328.1 L348.0 328.4 L347.5 328.7 L347.0 329.0 L346.5 329.3 L346.0 329.6 L345.6 329.9 L345.2 330.1 L344.8 330.4 L344.2 330.7 L343.8 331.0 L343.2 331.3 L342.8 331.6 L342.3 331.9 L341.8 332.1 L341.4 332.4 L341.0 332.6 L340.5 332.9 L340.0 333.2 L339.5 333.5 L339.0 333.8 L338.5 334.1 L338.0 334.4 L337.6 334.6 L337.1 334.9 L336.7 335.1 L336.2 335.4 L335.8 335.7 L335.2 336.0 L334.8 336.2 L334.2 336.5 L333.8 336.8 L333.2 337.1 L332.8 337.3 L332.2 337.6 L331.8 337.8 L331.2 338.1 L330.8 338.3 L330.2 338.5 L329.8 338.7 L329.1 338.9 L328.5 339.1 L328.0 339.2 L327.2 339.3 L326.7 339.4Z M327.8 338.9 L327.0 339.0 L326.2 339.1 L325.5 339.1 L324.8 339.0 L324.2 338.9 L323.5 338.7 L323.0 338.5 L322.5 338.2 L322.0 337.9 L321.7 337.6 L321.2 337.3 L320.9 336.9 L320.5 336.4 L320.2 336.1 L320.0 335.6 L319.8 335.1 L319.5 334.4 L319.4 333.9 L319.3 333.1 L319.3 332.4 L319.4 331.6 L319.5 331.1 L319.8 330.4 L320.0 329.9 L320.2 329.4 L320.5 329.0 L320.8 328.6 L321.1 328.1 L321.5 327.8 L321.9 327.4 L322.2 327.1 L322.8 326.7 L323.2 326.4 L323.6 326.1 L324.0 325.9 L324.5 325.6 L325.0 325.4 L325.5 325.1 L326.0 324.9 L326.6 324.6 L327.1 324.4 L327.7 324.1 L328.2 323.9 L328.8 323.7 L329.2 323.6 L329.8 323.4 L330.3 323.1 L331.0 322.9 L331.5 322.7 L332.0 322.5 L332.5 322.3 L333.0 322.1 L333.6 321.9 L334.2 321.7 L334.8 321.5 L335.2 321.3 L335.8 321.1 L336.4 320.9 L337.0 320.7 L337.5 320.5 L338.0 320.3 L338.5 320.1 L339.2 319.9 L339.8 319.7 L340.2 319.5 L340.8 319.3 L341.3 319.1 L342.0 318.9 L342.5 318.8 L343.0 318.6 L343.6 318.4 L344.2 318.2 L344.8 318.0 L345.2 317.9 L345.9 317.6 L346.5 317.5 L347.0 317.3 L347.6 317.1 L348.2 317.0 L348.8 316.9 L349.5 316.7 L350.0 316.6 L350.8 316.5 L351.5 316.5 L352.2 316.6 L352.8 316.7 L353.5 316.9 L354.0 317.1 L354.3 317.4 L354.8 317.8 L355.1 318.1 L355.3 318.6 L355.5 319.1 L355.6 319.9 L355.6 320.6 L355.5 321.1 L355.2 321.7 L355.0 322.2 L354.7 322.6 L354.3 323.1 L354.0 323.5 L353.6 323.9 L353.2 324.2 L352.8 324.6 L352.4 324.9 L352.0 325.2 L351.5 325.5 L351.0 325.9 L350.6 326.1 L350.2 326.4 L349.8 326.7 L349.2 327.1 L348.8 327.4 L348.3 327.6 L347.9 327.9 L347.5 328.2 L347.0 328.5 L346.5 328.8 L346.0 329.1 L345.6 329.4 L345.2 329.6 L344.8 329.9 L344.2 330.2 L343.8 330.5 L343.2 330.8 L342.8 331.1 L342.3 331.4 L341.9 331.6 L341.5 331.9 L341.0 332.2 L340.5 332.5 L340.0 332.8 L339.5 333.1 L339.0 333.4 L338.5 333.6 L338.1 333.9 L337.7 334.1 L337.2 334.4 L336.8 334.7 L336.2 335.0 L335.8 335.3 L335.2 335.6 L334.8 335.9 L334.2 336.1 L333.8 336.4 L333.3 336.6 L332.9 336.9 L332.4 337.1 L331.9 337.4 L331.4 337.6 L330.8 337.9 L330.2 338.1 L329.8 338.3 L329.2 338.5 L328.8 338.7 L328.0 338.9Z M327.5 338.7 L326.8 338.8 L326.0 338.8 L325.2 338.7 L324.6 338.6 L324.0 338.5 L323.5 338.3 L323.0 338.1 L322.5 337.8 L322.0 337.5 L321.6 337.1 L321.2 336.8 L320.9 336.4 L320.5 335.9 L320.3 335.4 L320.0 334.9 L319.9 334.4 L319.7 333.9 L319.6 333.1 L319.6 332.4 L319.7 331.6 L319.8 331.1 L320.0 330.6 L320.2 330.1 L320.5 329.6 L320.8 329.1 L321.1 328.6 L321.5 328.2 L321.8 327.9 L322.2 327.5 L322.7 327.1 L323.0 326.9 L323.5 326.6 L324.0 326.3 L324.5 326.0 L325.0 325.7 L325.5 325.5 L326.0 325.2 L326.5 325.0 L327.0 324.8 L327.5 324.6 L328.0 324.4 L328.6 324.1 L329.2 323.9 L329.8 323.7 L330.2 323.5 L330.8 323.3 L331.2 323.1 L331.9 322.9 L332.5 322.7 L333.0 322.5 L333.5 322.3 L334.0 322.1 L334.6 321.9 L335.2 321.7 L335.8 321.5 L336.2 321.3 L336.8 321.1 L337.5 320.9 L338.0 320.7 L338.5 320.5 L339.0 320.4 L339.7 320.1 L340.2 319.9 L340.8 319.8 L341.2 319.6 L341.9 319.4 L342.5 319.2 L343.0 319.0 L343.5 318.9 L344.2 318.7 L344.8 318.5 L345.2 318.3 L345.9 318.1 L346.5 318.0 L347.0 317.8 L347.7 317.6 L348.2 317.5 L348.8 317.4 L349.5 317.3 L350.2 317.2 L350.8 317.1 L351.4 317.1 L352.0 317.2 L352.8 317.4 L353.2 317.6 L353.7 317.9 L354.0 318.1 L354.4 318.6 L354.7 319.1 L354.8 319.6 L354.8 320.4 L354.8 321.0 L354.5 321.6 L354.2 322.1 L354.0 322.5 L353.7 322.9 L353.2 323.4 L353.0 323.6 L352.5 324.1 L352.1 324.4 L351.8 324.7 L351.2 325.1 L350.8 325.4 L350.5 325.6 L350.0 326.0 L349.5 326.3 L349.0 326.6 L348.6 326.9 L348.2 327.2 L347.8 327.5 L347.2 327.8 L346.8 328.1 L346.4 328.4 L346.0 328.6 L345.5 329.0 L345.0 329.3 L344.5 329.6 L344.0 329.9 L343.6 330.1 L343.2 330.4 L342.8 330.7 L342.2 331.0 L341.8 331.3 L341.2 331.6 L340.8 331.9 L340.4 332.1 L340.0 332.4 L339.5 332.7 L339.0 333.0 L338.5 333.3 L338.0 333.6 L337.5 333.9 L337.0 334.1 L336.6 334.4 L336.2 334.6 L335.8 334.9 L335.2 335.2 L334.8 335.5 L334.2 335.8 L333.8 336.1 L333.2 336.3 L332.8 336.6 L332.2 336.9 L331.8 337.1 L331.2 337.4 L330.8 337.6 L330.2 337.8 L329.8 338.0 L329.2 338.2 L328.6 338.4 L328.0 338.6 L327.5 338.7Z M327.2 338.4 L326.5 338.5 L325.8 338.5 L325.0 338.4 L324.5 338.3 L323.9 338.1 L323.3 337.9 L322.8 337.6 L322.4 337.4 L322.0 337.1 L321.5 336.6 L321.2 336.4 L320.9 335.9 L320.6 335.4 L320.4 334.9 L320.2 334.4 L320.0 333.6 L320.0 333.1 L319.9 332.4 L320.0 331.9 L320.2 331.1 L320.3 330.6 L320.5 330.1 L320.8 329.6 L321.1 329.1 L321.5 328.7 L321.8 328.4 L322.2 327.9 L322.5 327.6 L323.0 327.3 L323.5 326.9 L323.9 326.6 L324.3 326.4 L324.8 326.1 L325.2 325.9 L325.8 325.6 L326.3 325.4 L326.9 325.1 L327.5 324.9 L328.0 324.7 L328.5 324.5 L329.0 324.3 L329.5 324.1 L330.1 323.9 L330.7 323.6 L331.2 323.5 L331.8 323.3 L332.2 323.1 L332.8 322.9 L333.5 322.7 L334.0 322.5 L334.5 322.3 L335.0 322.1 L335.6 321.9 L336.2 321.7 L336.8 321.5 L337.2 321.3 L337.8 321.1 L338.5 320.9 L339.0 320.8 L339.5 320.6 L340.1 320.4 L340.8 320.2 L341.2 320.0 L341.8 319.9 L342.5 319.6 L343.0 319.5 L343.5 319.3 L344.1 319.1 L344.8 319.0 L345.2 318.8 L345.9 318.6 L346.5 318.5 L347.0 318.4 L347.8 318.2 L348.2 318.1 L349.0 317.9 L349.5 317.9 L350.2 317.8 L351.0 317.8 L351.8 317.9 L352.2 318.0 L352.8 318.2 L353.2 318.6 L353.6 318.9 L353.9 319.4 L354.0 319.9 L354.0 320.6 L353.9 321.1 L353.7 321.6 L353.4 322.1 L353.1 322.6 L352.8 323.0 L352.4 323.4 L352.0 323.8 L351.6 324.1 L351.2 324.4 L350.8 324.8 L350.3 325.1 L350.0 325.4 L349.5 325.7 L349.0 326.1 L348.6 326.4 L348.2 326.6 L347.8 327.0 L347.2 327.3 L346.8 327.6 L346.4 327.9 L346.0 328.2 L345.5 328.5 L345.0 328.8 L344.5 329.1 L344.1 329.4 L343.7 329.6 L343.2 329.9 L342.8 330.3 L342.2 330.6 L341.8 330.9 L341.3 331.1 L340.9 331.4 L340.5 331.7 L340.0 332.0 L339.5 332.3 L339.0 332.6 L338.5 332.9 L338.1 333.1 L337.7 333.4 L337.2 333.7 L336.8 334.0 L336.2 334.3 L335.8 334.6 L335.2 334.9 L334.8 335.1 L334.3 335.4 L333.9 335.6 L333.5 335.9 L333.0 336.2 L332.5 336.4 L332.0 336.7 L331.5 336.9 L331.0 337.2 L330.5 337.4 L329.9 337.6 L329.3 337.9 L328.8 338.1 L328.2 338.2 L327.5 338.4Z M327.0 338.2 L326.2 338.2 L325.5 338.2 L325.0 338.1 L324.2 338.0 L323.8 337.8 L323.2 337.6 L322.8 337.3 L322.2 336.9 L321.9 336.6 L321.5 336.2 L321.2 335.9 L320.9 335.4 L320.7 334.9 L320.5 334.4 L320.3 333.6 L320.2 333.1 L320.2 332.4 L320.3 331.9 L320.5 331.1 L320.6 330.6 L320.8 330.1 L321.1 329.6 L321.5 329.1 L321.8 328.8 L322.1 328.4 L322.5 328.0 L322.9 327.6 L323.3 327.4 L323.8 327.1 L324.2 326.7 L324.8 326.4 L325.2 326.2 L325.8 325.9 L326.2 325.7 L326.8 325.5 L327.2 325.3 L327.8 325.1 L328.2 324.9 L328.8 324.6 L329.5 324.4 L330.0 324.2 L330.5 324.0 L331.0 323.9 L331.6 323.6 L332.2 323.4 L332.8 323.2 L333.2 323.1 L333.8 322.9 L334.4 322.6 L335.0 322.5 L335.5 322.3 L336.0 322.1 L336.7 321.9 L337.2 321.7 L337.8 321.5 L338.2 321.4 L339.0 321.1 L339.5 321.0 L340.0 320.8 L340.6 320.6 L341.2 320.4 L341.8 320.3 L342.2 320.1 L343.0 319.9 L343.5 319.8 L344.0 319.6 L344.8 319.4 L345.2 319.3 L345.8 319.1 L346.5 319.0 L347.0 318.9 L347.8 318.7 L348.2 318.6 L349.0 318.5 L349.8 318.5 L350.5 318.5 L351.2 318.5 L351.8 318.7 L352.2 318.9 L352.8 319.4 L353.0 319.8 L353.1 320.4 L353.0 321.1 L352.8 321.6 L352.6 322.1 L352.2 322.6 L352.0 322.9 L351.5 323.4 L351.2 323.7 L350.8 324.1 L350.4 324.4 L350.0 324.7 L349.5 325.1 L349.2 325.4 L348.8 325.7 L348.2 326.1 L347.8 326.4 L347.5 326.6 L347.0 327.0 L346.5 327.3 L346.0 327.6 L345.7 327.9 L345.2 328.2 L344.8 328.5 L344.2 328.9 L343.8 329.1 L343.4 329.4 L343.0 329.7 L342.5 330.0 L342.0 330.3 L341.5 330.6 L341.1 330.9 L340.7 331.1 L340.2 331.4 L339.8 331.8 L339.2 332.1 L338.8 332.4 L338.3 332.6 L337.9 332.9 L337.5 333.2 L337.0 333.5 L336.5 333.8 L336.0 334.1 L335.5 334.4 L335.1 334.6 L334.6 334.9 L334.2 335.1 L333.8 335.4 L333.2 335.7 L332.8 336.0 L332.2 336.3 L331.8 336.5 L331.2 336.8 L330.8 337.0 L330.2 337.2 L329.8 337.4 L329.2 337.6 L328.5 337.9 L328.0 338.0 L327.2 338.1Z M327.0 337.9 L326.2 338.0 L325.5 337.9 L325.0 337.9 L324.2 337.7 L323.8 337.5 L323.2 337.3 L322.8 337.0 L322.3 336.6 L322.0 336.3 L321.6 335.9 L321.3 335.4 L321.0 334.9 L320.8 334.4 L320.6 333.9 L320.5 333.1 L320.5 332.4 L320.6 331.6 L320.8 331.1 L321.0 330.5 L321.2 330.0 L321.5 329.6 L321.8 329.1 L322.2 328.6 L322.5 328.4 L323.0 327.9 L323.3 327.6 L323.8 327.4 L324.2 327.0 L324.8 326.7 L325.2 326.5 L325.8 326.2 L326.2 326.0 L326.8 325.8 L327.2 325.5 L327.8 325.3 L328.3 325.1 L328.9 324.9 L329.5 324.7 L330.0 324.5 L330.5 324.3 L331.0 324.1 L331.7 323.9 L332.2 323.7 L332.8 323.5 L333.2 323.4 L333.9 323.1 L334.5 322.9 L335.0 322.8 L335.5 322.6 L336.2 322.4 L336.8 322.2 L337.2 322.0 L337.8 321.9 L338.5 321.7 L339.0 321.5 L339.5 321.4 L340.2 321.1 L340.8 321.0 L341.2 320.8 L341.9 320.6 L342.5 320.5 L343.0 320.3 L343.8 320.2 L344.2 320.0 L344.8 319.9 L345.5 319.7 L346.0 319.6 L346.8 319.5 L347.2 319.4 L348.0 319.3 L348.8 319.2 L349.2 319.1 L349.8 319.1 L350.5 319.2 L351.1 319.4 L351.5 319.7 L351.9 320.1 L352.1 320.6 L352.0 321.4 L351.8 321.9 L351.5 322.4 L351.2 322.7 L350.9 323.1 L350.5 323.5 L350.1 323.9 L349.8 324.2 L349.3 324.6 L349.0 324.9 L348.5 325.3 L348.0 325.6 L347.7 325.9 L347.2 326.3 L346.8 326.6 L346.4 326.9 L346.0 327.2 L345.5 327.5 L345.0 327.9 L344.6 328.1 L344.2 328.4 L343.8 328.8 L343.2 329.1 L342.8 329.4 L342.4 329.6 L342.0 329.9 L341.5 330.3 L341.0 330.6 L340.5 330.9 L340.1 331.1 L339.8 331.4 L339.2 331.7 L338.8 332.0 L338.2 332.4 L337.8 332.6 L337.4 332.9 L337.0 333.1 L336.5 333.5 L336.0 333.8 L335.5 334.1 L335.0 334.4 L334.5 334.6 L334.1 334.9 L333.7 335.1 L333.2 335.4 L332.8 335.7 L332.2 336.0 L331.8 336.2 L331.2 336.5 L330.8 336.7 L330.2 337.0 L329.8 337.2 L329.1 337.4 L328.5 337.6 L328.0 337.7 L327.2 337.9Z M327.0 337.7 L326.2 337.7 L325.5 337.7 L325.0 337.6 L324.2 337.4 L323.8 337.2 L323.2 337.0 L322.8 336.6 L322.4 336.4 L322.0 336.0 L321.7 335.6 L321.4 335.1 L321.2 334.6 L321.0 334.1 L320.8 333.4 L320.8 332.6 L320.8 331.9 L321.0 331.2 L321.2 330.6 L321.4 330.1 L321.7 329.6 L322.0 329.3 L322.3 328.9 L322.8 328.5 L323.1 328.1 L323.5 327.8 L324.0 327.5 L324.5 327.2 L324.9 326.9 L325.4 326.6 L325.9 326.4 L326.5 326.1 L327.0 325.9 L327.5 325.7 L328.0 325.5 L328.5 325.3 L329.0 325.1 L329.6 324.9 L330.2 324.7 L330.8 324.5 L331.2 324.3 L331.8 324.1 L332.5 323.9 L333.0 323.7 L333.5 323.6 L334.0 323.4 L334.8 323.2 L335.2 323.0 L335.8 322.9 L336.4 322.6 L337.0 322.5 L337.5 322.3 L338.0 322.1 L338.8 321.9 L339.2 321.8 L339.8 321.6 L340.5 321.4 L341.0 321.3 L341.5 321.1 L342.2 321.0 L342.8 320.8 L343.5 320.7 L344.0 320.5 L344.7 320.4 L345.2 320.3 L345.9 320.1 L346.5 320.1 L347.2 320.0 L347.9 319.9 L348.5 319.9 L349.0 319.9 L349.8 320.0 L350.2 320.2 L350.7 320.6 L350.9 321.1 L350.8 321.9 L350.5 322.4 L350.2 322.8 L349.9 323.1 L349.5 323.6 L349.2 323.9 L348.8 324.4 L348.5 324.6 L348.0 325.0 L347.6 325.4 L347.2 325.7 L346.8 326.1 L346.3 326.4 L346.0 326.7 L345.5 327.0 L345.0 327.4 L344.7 327.6 L344.2 327.9 L343.8 328.3 L343.3 328.6 L342.9 328.9 L342.5 329.2 L342.0 329.5 L341.5 329.9 L341.1 330.1 L340.7 330.4 L340.2 330.7 L339.8 331.0 L339.2 331.4 L338.8 331.6 L338.4 331.9 L338.0 332.2 L337.5 332.5 L337.0 332.8 L336.5 333.1 L336.1 333.4 L335.7 333.6 L335.2 333.9 L334.8 334.2 L334.2 334.5 L333.8 334.8 L333.2 335.1 L332.8 335.4 L332.3 335.6 L331.9 335.9 L331.4 336.1 L330.9 336.4 L330.4 336.6 L329.8 336.9 L329.2 337.1 L328.8 337.3 L328.2 337.4 L327.5 337.6 L327.0 337.7Z M327.0 337.4 L326.2 337.5 L325.5 337.4 L325.0 337.4 L324.2 337.2 L323.8 336.9 L323.2 336.7 L322.9 336.4 L322.5 336.1 L322.1 335.6 L321.8 335.2 L321.5 334.8 L321.3 334.1 L321.1 333.6 L321.0 332.9 L321.1 332.1 L321.2 331.4 L321.4 330.9 L321.6 330.4 L321.9 329.9 L322.2 329.4 L322.5 329.1 L322.9 328.6 L323.2 328.3 L323.8 327.9 L324.2 327.6 L324.5 327.4 L325.0 327.1 L325.5 326.9 L326.0 326.6 L326.5 326.4 L327.0 326.1 L327.7 325.9 L328.2 325.7 L328.8 325.5 L329.2 325.3 L329.8 325.1 L330.4 324.9 L331.0 324.7 L331.5 324.5 L332.0 324.4 L332.6 324.1 L333.2 323.9 L333.8 323.8 L334.2 323.6 L335.0 323.4 L335.5 323.2 L336.0 323.1 L336.6 322.9 L337.2 322.7 L337.8 322.6 L338.3 322.4 L339.0 322.2 L339.5 322.1 L340.2 321.9 L340.8 321.8 L341.2 321.6 L342.0 321.4 L342.5 321.3 L343.2 321.2 L343.8 321.1 L344.5 320.9 L345.0 320.9 L345.8 320.7 L346.5 320.7 L347.0 320.6 L347.6 320.6 L348.2 320.7 L348.8 320.9 L349.2 321.2 L349.5 321.9 L349.3 322.6 L349.0 323.1 L348.8 323.4 L348.3 323.9 L348.0 324.3 L347.6 324.6 L347.2 325.0 L346.8 325.4 L346.5 325.7 L346.0 326.1 L345.6 326.4 L345.2 326.7 L344.8 327.1 L344.3 327.4 L344.0 327.7 L343.5 328.0 L343.0 328.4 L342.7 328.6 L342.2 328.9 L341.8 329.3 L341.2 329.6 L340.9 329.9 L340.5 330.2 L340.0 330.5 L339.5 330.8 L339.1 331.1 L338.7 331.4 L338.2 331.7 L337.8 332.0 L337.2 332.3 L336.8 332.6 L336.4 332.9 L336.0 333.1 L335.5 333.5 L335.0 333.8 L334.5 334.1 L334.0 334.4 L333.6 334.6 L333.2 334.9 L332.7 335.1 L332.2 335.4 L331.8 335.7 L331.2 336.0 L330.8 336.2 L330.2 336.5 L329.8 336.7 L329.1 336.9 L328.5 337.1 L328.0 337.2 L327.2 337.4Z M327.2 337.2 L326.5 337.2 L325.8 337.2 L325.2 337.1 L324.5 337.0 L324.0 336.8 L323.5 336.5 L323.0 336.2 L322.7 335.9 L322.2 335.5 L322.0 335.1 L321.7 334.6 L321.5 334.1 L321.3 333.4 L321.3 332.6 L321.3 331.9 L321.5 331.3 L321.7 330.6 L322.0 330.1 L322.2 329.8 L322.5 329.4 L323.0 328.9 L323.2 328.6 L323.8 328.2 L324.2 327.9 L324.6 327.6 L325.0 327.4 L325.5 327.1 L326.0 326.9 L326.5 326.6 L327.0 326.4 L327.6 326.1 L328.2 325.9 L328.8 325.7 L329.2 325.5 L329.8 325.4 L330.4 325.1 L331.0 325.0 L331.5 324.8 L332.0 324.6 L332.7 324.4 L333.2 324.2 L333.8 324.1 L334.3 323.9 L335.0 323.7 L335.5 323.5 L336.0 323.4 L336.8 323.2 L337.2 323.0 L337.8 322.9 L338.5 322.7 L339.0 322.6 L339.7 322.4 L340.2 322.3 L340.8 322.1 L341.5 322.0 L342.0 321.9 L342.8 321.7 L343.2 321.6 L344.0 321.5 L344.8 321.5 L345.5 321.4 L346.0 321.4 L346.5 321.4 L347.2 321.6 L347.8 321.9 L348.0 322.3 L348.0 322.6 L347.8 323.3 L347.5 323.7 L347.2 324.1 L346.8 324.6 L346.5 324.9 L346.0 325.4 L345.7 325.6 L345.2 326.1 L344.9 326.4 L344.5 326.7 L344.0 327.1 L343.7 327.4 L343.2 327.7 L342.8 328.1 L342.4 328.4 L342.0 328.7 L341.5 329.1 L341.0 329.4 L340.7 329.6 L340.2 330.0 L339.8 330.3 L339.3 330.6 L338.9 330.9 L338.5 331.2 L338.0 331.5 L337.5 331.9 L337.1 332.1 L336.7 332.4 L336.2 332.7 L335.8 333.0 L335.2 333.3 L334.8 333.6 L334.3 333.9 L333.9 334.1 L333.5 334.4 L333.0 334.7 L332.5 335.0 L332.0 335.3 L331.5 335.6 L331.0 335.8 L330.5 336.1 L330.0 336.3 L329.5 336.5 L329.0 336.7 L328.4 336.9 L327.8 337.1 L327.2 337.2Z M327.2 336.9 L326.5 337.0 L325.8 337.0 L325.2 336.9 L324.5 336.7 L324.0 336.5 L323.5 336.2 L323.0 335.9 L322.7 335.6 L322.3 335.1 L322.0 334.6 L321.8 334.1 L321.6 333.6 L321.5 332.9 L321.6 332.1 L321.7 331.4 L321.9 330.9 L322.1 330.4 L322.4 329.9 L322.8 329.5 L323.0 329.1 L323.5 328.7 L323.9 328.4 L324.2 328.1 L324.8 327.8 L325.2 327.5 L325.8 327.2 L326.2 327.0 L326.8 326.8 L327.2 326.5 L327.8 326.3 L328.3 326.1 L328.9 325.9 L329.5 325.7 L330.0 325.5 L330.5 325.4 L331.2 325.1 L331.8 325.0 L332.2 324.8 L332.8 324.6 L333.5 324.4 L334.0 324.3 L334.5 324.1 L335.2 323.9 L335.8 323.8 L336.2 323.6 L337.0 323.4 L337.5 323.3 L338.1 323.1 L338.8 323.0 L339.2 322.9 L340.0 322.7 L340.5 322.6 L341.2 322.5 L341.8 322.4 L342.5 322.3 L343.2 322.2 L343.8 322.1 L344.5 322.1 L345.1 322.1 L345.8 322.3 L346.2 322.5 L346.5 322.9 L346.5 323.5 L346.2 324.0 L346.0 324.4 L345.7 324.9 L345.2 325.4 L345.0 325.6 L344.5 326.1 L344.2 326.4 L343.8 326.8 L343.3 327.1 L343.0 327.4 L342.5 327.8 L342.1 328.1 L341.8 328.4 L341.2 328.8 L340.8 329.1 L340.5 329.4 L340.0 329.8 L339.5 330.1 L339.1 330.4 L338.8 330.7 L338.2 331.0 L337.8 331.4 L337.3 331.6 L337.0 331.9 L336.5 332.2 L336.0 332.5 L335.5 332.9 L335.1 333.1 L334.7 333.4 L334.2 333.7 L333.8 334.0 L333.2 334.3 L332.8 334.6 L332.3 334.9 L331.8 335.1 L331.4 335.4 L330.9 335.6 L330.4 335.9 L329.8 336.1 L329.2 336.4 L328.8 336.6 L328.2 336.7 L327.5 336.9Z M327.5 336.7 L326.8 336.8 L326.0 336.8 L325.2 336.7 L324.8 336.6 L324.2 336.4 L323.8 336.1 L323.2 335.8 L322.8 335.4 L322.5 335.0 L322.2 334.6 L322.0 334.0 L321.8 333.4 L321.8 332.6 L321.8 331.9 L322.0 331.3 L322.2 330.7 L322.5 330.2 L322.8 329.8 L323.1 329.4 L323.5 329.0 L323.9 328.6 L324.2 328.4 L324.8 328.0 L325.2 327.7 L325.8 327.5 L326.2 327.2 L326.8 327.0 L327.2 326.8 L327.8 326.6 L328.2 326.4 L328.9 326.1 L329.5 325.9 L330.0 325.8 L330.5 325.6 L331.2 325.4 L331.8 325.2 L332.2 325.1 L332.8 324.9 L333.5 324.7 L334.0 324.6 L334.6 324.4 L335.2 324.2 L335.8 324.1 L336.4 323.9 L337.0 323.8 L337.5 323.6 L338.2 323.5 L338.8 323.4 L339.5 323.2 L340.0 323.1 L340.8 323.0 L341.4 322.9 L342.0 322.8 L342.8 322.8 L343.5 322.8 L344.2 322.9 L344.8 323.1 L345.0 323.4 L345.1 324.1 L344.9 324.6 L344.6 325.1 L344.2 325.5 L343.9 325.9 L343.5 326.4 L343.2 326.6 L342.8 327.1 L342.4 327.4 L342.0 327.7 L341.5 328.1 L341.2 328.4 L340.8 328.8 L340.3 329.1 L339.9 329.4 L339.5 329.7 L339.0 330.1 L338.6 330.4 L338.2 330.7 L337.8 331.0 L337.2 331.4 L336.9 331.6 L336.5 331.9 L336.0 332.2 L335.5 332.6 L335.0 332.9 L334.6 333.1 L334.2 333.4 L333.8 333.7 L333.2 334.0 L332.8 334.4 L332.3 334.6 L331.8 334.9 L331.4 335.1 L330.9 335.4 L330.4 335.6 L329.9 335.9 L329.3 336.1 L328.8 336.3 L328.2 336.5 L327.6 336.6Z M327.8 336.4 L327.0 336.5 L326.2 336.6 L325.5 336.5 L325.0 336.4 L324.3 336.1 L323.8 335.9 L323.5 335.6 L323.0 335.2 L322.7 334.9 L322.4 334.4 L322.2 333.9 L322.0 333.1 L322.0 332.4 L322.1 331.6 L322.3 331.1 L322.5 330.6 L322.8 330.1 L323.2 329.6 L323.5 329.3 L323.9 328.9 L324.3 328.6 L324.8 328.3 L325.2 328.0 L325.8 327.7 L326.2 327.4 L326.8 327.2 L327.2 327.0 L327.8 326.8 L328.2 326.6 L328.9 326.4 L329.5 326.2 L330.0 326.0 L330.5 325.9 L331.2 325.6 L331.8 325.5 L332.2 325.3 L332.9 325.1 L333.5 325.0 L334.0 324.8 L334.7 324.6 L335.2 324.5 L335.8 324.4 L336.5 324.2 L337.0 324.1 L337.8 323.9 L338.2 323.8 L339.0 323.7 L339.5 323.6 L340.2 323.5 L341.0 323.5 L341.8 323.4 L342.5 323.5 L343.2 323.6 L343.6 323.9 L343.8 324.4 L343.7 324.9 L343.5 325.4 L343.1 325.9 L342.8 326.4 L342.5 326.7 L342.0 327.1 L341.8 327.4 L341.2 327.9 L340.9 328.1 L340.5 328.5 L340.0 328.9 L339.7 329.1 L339.2 329.5 L338.8 329.9 L338.4 330.1 L338.0 330.5 L337.5 330.9 L337.1 331.1 L336.7 331.4 L336.2 331.8 L335.8 332.1 L335.3 332.4 L335.0 332.6 L334.5 333.0 L334.0 333.3 L333.5 333.6 L333.1 333.9 L332.7 334.1 L332.2 334.4 L331.8 334.7 L331.2 335.0 L330.8 335.3 L330.2 335.5 L329.8 335.7 L329.2 335.9 L328.7 336.1 L328.0 336.3Z M327.8 336.2 L327.0 336.3 L326.2 336.3 L325.5 336.3 L325.0 336.1 L324.3 335.9 L323.9 335.6 L323.5 335.4 L323.1 334.9 L322.8 334.5 L322.5 334.0 L322.3 333.4 L322.2 332.8 L322.3 332.4 L322.4 331.6 L322.5 331.1 L322.8 330.6 L323.1 330.1 L323.5 329.6 L323.8 329.4 L324.2 328.9 L324.6 328.6 L325.0 328.4 L325.5 328.1 L326.0 327.8 L326.5 327.6 L327.0 327.3 L327.5 327.1 L328.1 326.9 L328.8 326.7 L329.2 326.5 L329.8 326.3 L330.3 326.1 L331.0 325.9 L331.5 325.8 L332.0 325.6 L332.8 325.4 L333.2 325.3 L333.9 325.1 L334.5 325.0 L335.0 324.9 L335.8 324.7 L336.2 324.6 L337.0 324.4 L337.5 324.4 L338.2 324.2 L338.8 324.1 L339.5 324.1 L340.2 324.0 L341.0 324.1 L341.7 324.1 L342.2 324.4 L342.5 324.8 L342.5 325.4 L342.3 325.9 L342.0 326.3 L341.8 326.7 L341.3 327.1 L341.0 327.5 L340.6 327.9 L340.2 328.2 L339.8 328.6 L339.5 328.9 L339.0 329.3 L338.6 329.6 L338.2 329.9 L337.8 330.3 L337.3 330.6 L337.0 330.9 L336.5 331.2 L336.0 331.6 L335.6 331.9 L335.2 332.1 L334.8 332.5 L334.2 332.8 L333.8 333.1 L333.4 333.4 L333.0 333.7 L332.5 334.0 L332.0 334.3 L331.5 334.6 L331.0 334.9 L330.5 335.1 L330.0 335.4 L329.5 335.6 L329.0 335.8 L328.5 336.0 L327.9 336.1Z M328.0 335.9 L327.2 336.1 L326.5 336.1 L325.8 336.1 L325.0 335.9 L324.5 335.7 L324.0 335.4 L323.6 335.1 L323.2 334.7 L323.0 334.4 L322.7 333.9 L322.5 333.1 L322.5 332.6 L322.5 332.1 L322.7 331.4 L322.9 330.9 L323.2 330.4 L323.5 330.0 L323.8 329.6 L324.2 329.2 L324.6 328.9 L325.0 328.6 L325.5 328.3 L326.0 328.0 L326.5 327.8 L327.0 327.6 L327.5 327.4 L328.0 327.1 L328.7 326.9 L329.2 326.7 L329.8 326.6 L330.3 326.4 L331.0 326.2 L331.5 326.0 L332.0 325.9 L332.8 325.7 L333.2 325.6 L334.0 325.4 L334.5 325.3 L335.2 325.1 L335.8 325.0 L336.5 324.9 L337.0 324.8 L337.8 324.7 L338.3 324.6 L339.0 324.6 L339.8 324.6 L340.2 324.7 L340.9 324.9 L341.2 325.2 L341.3 325.9 L341.1 326.4 L340.8 326.9 L340.5 327.3 L340.2 327.6 L339.8 328.1 L339.5 328.4 L339.0 328.8 L338.6 329.1 L338.2 329.5 L337.8 329.9 L337.5 330.1 L337.0 330.5 L336.5 330.9 L336.2 331.1 L335.8 331.5 L335.2 331.8 L334.8 332.1 L334.5 332.4 L334.0 332.7 L333.5 333.1 L333.0 333.4 L332.6 333.6 L332.2 333.9 L331.8 334.2 L331.2 334.5 L330.8 334.8 L330.2 335.0 L329.8 335.3 L329.2 335.5 L328.8 335.7 L328.0 335.9Z M328.0 335.7 L327.2 335.8 L326.5 335.9 L325.8 335.8 L325.0 335.7 L324.5 335.4 L324.0 335.1 L323.7 334.9 L323.3 334.4 L323.0 333.9 L322.8 333.4 L322.7 332.9 L322.8 332.2 L322.9 331.6 L323.0 331.1 L323.3 330.6 L323.6 330.1 L324.0 329.7 L324.3 329.4 L324.8 329.1 L325.2 328.7 L325.8 328.4 L326.2 328.1 L326.7 327.9 L327.2 327.7 L327.8 327.5 L328.2 327.3 L328.8 327.1 L329.4 326.9 L330.0 326.7 L330.5 326.6 L331.1 326.4 L331.8 326.2 L332.2 326.1 L333.0 325.9 L333.5 325.8 L334.2 325.7 L334.8 325.6 L335.5 325.4 L336.0 325.3 L336.8 325.2 L337.5 325.2 L338.0 325.1 L338.5 325.1 L339.2 325.2 L339.8 325.4 L340.2 325.9 L340.1 326.6 L339.9 327.1 L339.5 327.6 L339.2 328.0 L338.9 328.4 L338.5 328.8 L338.1 329.1 L337.8 329.5 L337.3 329.9 L337.0 330.1 L336.5 330.5 L336.0 330.9 L335.7 331.1 L335.2 331.5 L334.8 331.9 L334.4 332.1 L334.0 332.4 L333.5 332.8 L333.0 333.1 L332.6 333.4 L332.2 333.6 L331.8 334.0 L331.2 334.3 L330.8 334.5 L330.2 334.8 L329.8 335.1 L329.2 335.3 L328.8 335.5 L328.2 335.6Z M327.0 335.7 L326.2 335.7 L325.8 335.6 L325.0 335.4 L324.5 335.2 L324.1 334.9 L323.8 334.6 L323.4 334.1 L323.2 333.6 L323.0 332.9 L323.0 332.4 L323.0 331.9 L323.2 331.2 L323.5 330.7 L323.8 330.4 L324.1 329.9 L324.5 329.5 L325.0 329.1 L325.3 328.9 L325.8 328.6 L326.2 328.4 L326.8 328.1 L327.3 327.9 L327.9 327.6 L328.5 327.4 L329.0 327.3 L329.5 327.1 L330.2 326.9 L330.8 326.8 L331.2 326.6 L332.0 326.4 L332.5 326.3 L333.2 326.2 L333.8 326.1 L334.5 325.9 L335.0 325.8 L335.8 325.7 L336.5 325.7 L337.2 325.7 L338.0 325.7 L338.6 325.9 L339.0 326.2 L339.1 326.9 L338.9 327.4 L338.6 327.9 L338.2 328.4 L338.0 328.7 L337.5 329.1 L337.2 329.4 L336.8 329.9 L336.5 330.1 L336.0 330.6 L335.6 330.9 L335.2 331.2 L334.8 331.6 L334.3 331.9 L334.0 332.1 L333.5 332.5 L333.0 332.9 L332.6 333.1 L332.2 333.4 L331.8 333.7 L331.2 334.0 L330.8 334.3 L330.2 334.6 L329.8 334.8 L329.2 335.1 L328.8 335.2 L328.2 335.4 L327.5 335.6 L327.0 335.7Z M327.2 335.4 L326.5 335.5 L325.9 335.4 L325.2 335.2 L324.8 335.0 L324.2 334.7 L323.9 334.4 L323.6 333.9 L323.4 333.4 L323.2 332.9 L323.2 332.2 L323.4 331.6 L323.6 331.1 L323.8 330.6 L324.2 330.1 L324.5 329.8 L325.0 329.4 L325.3 329.1 L325.8 328.9 L326.2 328.6 L326.8 328.4 L327.2 328.1 L327.8 327.9 L328.5 327.7 L329.0 327.5 L329.5 327.3 L330.2 327.1 L330.8 327.0 L331.2 326.9 L332.0 326.7 L332.5 326.6 L333.2 326.5 L333.8 326.4 L334.5 326.3 L335.2 326.2 L336.0 326.2 L336.8 326.2 L337.5 326.4 L338.0 326.6 L338.1 327.1 L338.0 327.7 L337.8 328.2 L337.4 328.6 L337.0 329.1 L336.7 329.4 L336.2 329.9 L336.0 330.1 L335.5 330.6 L335.1 330.9 L334.8 331.2 L334.2 331.6 L333.9 331.9 L333.5 332.2 L333.0 332.6 L332.5 332.9 L332.2 333.1 L331.8 333.4 L331.2 333.8 L330.8 334.1 L330.2 334.3 L329.8 334.6 L329.2 334.8 L328.8 335.0 L328.2 335.2 L327.5 335.4Z M327.2 335.2 L326.5 335.2 L325.8 335.1 L325.2 335.0 L324.8 334.7 L324.3 334.4 L324.0 334.1 L323.8 333.6 L323.5 332.9 L323.5 332.4 L323.6 331.9 L323.8 331.3 L324.0 330.8 L324.3 330.4 L324.8 329.9 L325.0 329.6 L325.5 329.3 L326.0 329.0 L326.5 328.7 L327.0 328.5 L327.5 328.3 L328.0 328.1 L328.5 327.9 L329.2 327.7 L329.8 327.5 L330.2 327.4 L331.0 327.2 L331.5 327.1 L332.2 326.9 L332.8 326.9 L333.5 326.7 L334.2 326.7 L334.8 326.6 L335.5 326.6 L336.0 326.7 L336.7 326.9 L337.0 327.1 L337.1 327.9 L336.9 328.4 L336.6 328.9 L336.2 329.3 L336.0 329.6 L335.5 330.1 L335.2 330.4 L334.8 330.8 L334.4 331.1 L334.0 331.5 L333.5 331.9 L333.2 332.1 L332.8 332.5 L332.2 332.8 L331.8 333.1 L331.4 333.4 L331.0 333.7 L330.5 334.0 L330.0 334.2 L329.5 334.5 L329.0 334.7 L328.5 334.9 L327.8 335.1 L327.2 335.2Z M327.5 334.9 L326.8 335.0 L326.0 334.9 L325.5 334.8 L325.0 334.6 L324.5 334.2 L324.2 333.9 L323.9 333.4 L323.8 332.6 L323.8 331.9 L324.0 331.4 L324.2 330.9 L324.6 330.4 L325.0 330.0 L325.4 329.6 L325.8 329.4 L326.2 329.1 L326.8 328.8 L327.2 328.6 L327.8 328.4 L328.4 328.1 L329.0 328.0 L329.5 327.8 L330.2 327.6 L330.8 327.5 L331.4 327.4 L332.0 327.3 L332.8 327.2 L333.2 327.1 L334.0 327.1 L334.8 327.1 L335.2 327.2 L335.8 327.4 L336.2 327.9 L336.1 328.6 L335.8 329.1 L335.5 329.5 L335.2 329.9 L334.8 330.4 L334.5 330.6 L334.0 331.1 L333.6 331.4 L333.2 331.7 L332.8 332.1 L332.4 332.4 L332.0 332.7 L331.5 333.1 L331.0 333.4 L330.6 333.6 L330.2 333.9 L329.7 334.1 L329.2 334.4 L328.5 334.6 L328.0 334.8 L327.5 334.9Z M327.5 334.7 L326.8 334.7 L326.0 334.7 L325.5 334.5 L325.0 334.2 L324.6 333.9 L324.3 333.4 L324.1 332.9 L324.1 332.1 L324.2 331.4 L324.5 331.0 L324.8 330.6 L325.2 330.1 L325.5 329.9 L326.0 329.5 L326.5 329.2 L327.0 329.0 L327.5 328.7 L328.0 328.5 L328.5 328.4 L329.2 328.2 L329.8 328.0 L330.3 327.9 L331.0 327.8 L331.7 327.6 L332.2 327.6 L333.0 327.5 L333.8 327.5 L334.5 327.6 L335.0 327.9 L335.2 328.2 L335.2 328.8 L335.0 329.3 L334.8 329.7 L334.4 330.1 L334.0 330.6 L333.7 330.9 L333.2 331.3 L332.9 331.6 L332.5 332.0 L332.0 332.4 L331.7 332.6 L331.2 332.9 L330.8 333.3 L330.2 333.6 L329.8 333.9 L329.2 334.1 L328.8 334.3 L328.2 334.5 L327.6 334.6Z M327.5 334.4 L326.8 334.5 L326.0 334.4 L325.5 334.2 L325.0 333.9 L324.8 333.6 L324.5 333.1 L324.3 332.4 L324.5 331.6 L324.7 331.1 L325.0 330.7 L325.3 330.4 L325.8 330.0 L326.2 329.6 L326.6 329.4 L327.1 329.1 L327.7 328.9 L328.2 328.7 L328.8 328.6 L329.3 328.4 L330.0 328.2 L330.5 328.1 L331.2 328.0 L332.0 328.0 L332.8 328.0 L333.5 328.0 L334.0 328.2 L334.4 328.6 L334.3 329.4 L334.0 329.9 L333.8 330.3 L333.5 330.6 L333.0 331.1 L332.7 331.4 L332.2 331.8 L331.9 332.1 L331.5 332.4 L331.0 332.8 L330.5 333.1 L330.1 333.4 L329.7 333.6 L329.2 333.9 L328.6 334.1 L328.0 334.3 L327.5 334.4Z M327.5 334.2 L326.8 334.2 L326.2 334.1 L325.6 333.9 L325.2 333.6 L324.8 333.1 L324.7 332.6 L324.7 331.9 L324.9 331.4 L325.2 330.9 L325.5 330.5 L325.9 330.1 L326.3 329.9 L326.8 329.6 L327.2 329.4 L327.8 329.1 L328.5 328.9 L329.0 328.8 L329.5 328.6 L330.2 328.5 L331.0 328.4 L331.5 328.4 L332.2 328.4 L332.8 328.5 L333.2 328.7 L333.6 329.1 L333.5 329.7 L333.2 330.2 L332.9 330.6 L332.5 331.1 L332.2 331.4 L331.8 331.9 L331.4 332.1 L331.0 332.5 L330.5 332.8 L330.0 333.1 L329.6 333.4 L329.1 333.6 L328.5 333.9 L328.0 334.1 L327.5 334.2Z M327.2 333.9 L326.6 333.9 L326.0 333.7 L325.5 333.4 L325.2 333.1 L325.0 332.4 L325.1 331.6 L325.4 331.1 L325.8 330.7 L326.1 330.4 L326.5 330.1 L327.0 329.8 L327.5 329.5 L328.0 329.4 L328.6 329.1 L329.2 329.0 L329.8 328.9 L330.5 328.8 L331.2 328.8 L332.0 328.9 L332.5 329.1 L332.7 329.6 L332.5 330.4 L332.2 330.8 L332.0 331.1 L331.5 331.6 L331.2 331.9 L330.8 332.3 L330.3 332.6 L329.9 332.9 L329.5 333.2 L329.0 333.4 L328.4 333.6 L327.8 333.8 L327.2 333.9Z M328.0 333.5 L327.2 333.6 L326.5 333.5 L326.0 333.3 L325.6 332.9 L325.4 332.4 L325.5 331.7 L325.8 331.2 L326.0 330.9 L326.5 330.4 L327.0 330.1 L327.4 329.9 L328.0 329.7 L328.5 329.5 L329.0 329.4 L329.8 329.3 L330.5 329.2 L331.2 329.3 L331.8 329.6 L331.9 330.1 L331.7 330.6 L331.4 331.1 L331.0 331.6 L330.7 331.9 L330.2 332.3 L329.8 332.6 L329.3 332.9 L328.9 333.1 L328.2 333.4Z M327.8 333.2 L327.0 333.2 L326.5 333.1 L326.0 332.6 L325.9 332.1 L326.0 331.6 L326.3 331.1 L326.8 330.7 L327.2 330.4 L327.7 330.1 L328.2 330.0 L328.8 329.8 L329.5 329.7 L330.2 329.8 L330.8 329.9 L331.0 330.4 L330.9 330.9 L330.6 331.4 L330.2 331.8 L329.8 332.1 L329.5 332.4 L329.0 332.7 L328.5 332.9 L327.8 333.1Z M327.8 332.7 L327.0 332.6 L326.7 332.4 L326.6 331.6 L326.9 331.1 L327.2 330.9 L327.8 330.6 L328.3 330.4 L329.0 330.3 L329.7 330.4 L330.0 330.7 L330.0 331.1 L329.6 331.6 L329.2 332.0 L328.8 332.3 L328.2 332.6 L327.8 332.7Z" fill="none" stroke="#000" stroke-width="1.0"/>
<path d="M326.5 338.9 L325.8 338.9 L325.2 338.9 L324.5 338.8 L324.0 338.6 L323.3 338.4 L322.8 338.1 L322.3 337.9 L322.0 337.6 L321.5 337.3 L321.1 336.9 L320.8 336.5 L320.5 336.1 L320.2 335.6 L320.0 335.1 L319.8 334.5 L319.6 333.9 L319.5 333.2 L319.5 332.6 L319.5 332.1 L319.6 331.4 L319.8 330.9 L320.0 330.3 L320.2 329.7 L320.5 329.3 L320.8 328.9 L321.2 328.4 L321.5 328.0 L321.9 327.6 L322.2 327.3 L322.8 326.9 L323.1 326.6 L323.5 326.4 L324.0 326.1 L324.5 325.8 L325.0 325.6 L325.5 325.3 L326.0 325.1 L326.5 324.9 L327.0 324.6 L327.6 324.4 L328.2 324.1 L328.8 323.9 L329.2 323.7 L329.8 323.5 L330.2 323.4 L330.8 323.1 L331.5 322.9 L332.0 322.7 L332.5 322.5 L333.0 322.3 L333.5 322.1 L334.2 321.9 L334.8 321.7 L335.2 321.5 L335.8 321.3 L336.3 321.1 L337.0 320.9 L337.5 320.7 L338.0 320.5 L338.5 320.4 L339.1 320.1 L339.8 319.9 L340.2 319.8 L340.8 319.6 L341.3 319.4 L342.0 319.2 L342.5 319.0 L343.0 318.8 L343.6 318.6 L344.2 318.4 L344.8 318.3 L345.2 318.1 L346.0 317.9 L346.5 317.7 L347.0 317.6 L347.7 317.4 L348.2 317.3 L348.8 317.1 L349.5 317.0 L350.2 316.9 L350.8 316.9 L351.5 316.9 L352.0 316.9 L352.8 317.0 L353.2 317.2 L353.8 317.5 L354.2 317.9 L354.5 318.1 L354.9 318.6 L355.1 319.1 L355.2 319.9 L355.2 320.6 L355.0 321.3 L354.8 321.9 L354.5 322.3 L354.2 322.7 L353.8 323.1 L353.5 323.5 L353.1 323.9 L352.8 324.2 L352.2 324.6 L351.9 324.9 L351.5 325.2 L351.0 325.6 L350.5 325.9 L350.1 326.1 L349.8 326.4 L349.2 326.8 L348.8 327.1 L348.3 327.4 L347.9 327.6 L347.5 327.9 L347.0 328.2 L346.5 328.5 L346.0 328.9 L345.5 329.1 L345.1 329.4 L344.7 329.6 L344.2 330.0 L343.8 330.3 L343.2 330.6 L342.8 330.9 L342.3 331.1 L341.9 331.4 L341.5 331.7 L341.0 332.0 L340.5 332.3 L340.0 332.6 L339.5 332.9 L339.0 333.1 L338.6 333.4 L338.2 333.6 L337.8 333.9 L337.2 334.2 L336.8 334.5 L336.2 334.8 L335.8 335.1 L335.2 335.4 L334.8 335.6 L334.3 335.9 L333.9 336.1 L333.4 336.4 L333.0 336.6 L332.5 336.9 L332.0 337.2 L331.5 337.4 L331.0 337.6 L330.4 337.9 L329.8 338.1 L329.2 338.3 L328.8 338.5 L328.2 338.6 L327.5 338.8 L326.8 338.9Z" fill="#111" stroke="none"/>
<rect x="336.20" y="302.80" width="76.60" height="48.80" fill="none" stroke="#666" stroke-width="0.9"/>
<rect x="307.50" y="284.40" width="105.30" height="101.10" fill="none" stroke="#222" stroke-width="1.0"/>
<line x1="307.50" y1="284.40" x2="307.50" y2="386.00" stroke="#000" stroke-width="1.5"/>
<line x1="307.00" y1="385.50" x2="412.80" y2="385.50" stroke="#000" stroke-width="1.6"/>
<line x1="309.50" y1="385.50" x2="309.50" y2="387.00" stroke="#000" stroke-width="0.8"/>
<line x1="312.10" y1="385.50" x2="312.10" y2="387.70" stroke="#000" stroke-width="0.8"/>
<line x1="314.70" y1="385.50" x2="314.70" y2="387.70" stroke="#000" stroke-width="0.8"/>
<line x1="317.30" y1="385.50" x2="317.30" y2="387.00" stroke="#000" stroke-width="0.8"/>
<line x1="319.90" y1="385.50" x2="319.90" y2="387.70" stroke="#000" stroke-width="0.8"/>
<line x1="322.50" y1="385.50" x2="322.50" y2="387.00" stroke="#000" stroke-width="0.8"/>
<line x1="325.10" y1="385.50" x2="325.10" y2="387.70" stroke="#000" stroke-width="0.8"/>
<line x1="327.70" y1="385.50" x2="327.70" y2="387.00" stroke="#000" stroke-width="0.8"/>
<line x1="330.30" y1="385.50" x2="330.30" y2="387.00" stroke="#000" stroke-width="0.8"/>
<line x1="332.90" y1="385.50" x2="332.90" y2="387.00" stroke="#000" stroke-width="0.8"/>
<line x1="335.50" y1="385.50" x2="335.50" y2="387.00" stroke="#000" stroke-width="0.8"/>
<line x1="338.10" y1="385.50" x2="338.10" y2="387.70" stroke="#000" stroke-width="0.8"/>
<line x1="340.70" y1="385.50" x2="340.70" y2="387.70" stroke="#000" stroke-width="0.8"/>
<line x1="343.30" y1="385.50" x2="343.30" y2="387.00" stroke="#000" stroke-width="0.8"/>
<line x1="345.90" y1="385.50" x2="345.90" y2="387.00" stroke="#000" stroke-width="0.8"/>
<line x1="348.50" y1="385.50" x2="348.50" y2="387.00" stroke="#000" stroke-width="0.8"/>
<line x1="351.10" y1="385.50" x2="351.10" y2="387.70" stroke="#000" stroke-width="0.8"/>
<line x1="353.70" y1="385.50" x2="353.70" y2="387.00" stroke="#000" stroke-width="0.8"/>
<line x1="356.30" y1="385.50" x2="356.30" y2="387.00" stroke="#000" stroke-width="0.8"/>
<line x1="358.90" y1="385.50" x2="358.90" y2="387.00" stroke="#000" stroke-width="0.8"/>
<line x1="361.50" y1="385.50" x2="361.50" y2="387.00" stroke="#000" stroke-width="0.8"/>
<line x1="364.10" y1="385.50" x2="364.10" y2="387.00" stroke="#000" stroke-width="0.8"/>
<line x1="366.70" y1="385.50" x2="366.70" y2="387.70" stroke="#000" stroke-width="0.8"/>
<line x1="369.30" y1="385.50" x2="369.30" y2="387.70" stroke="#000" stroke-width="0.8"/>
<line x1="371.90" y1="385.50" x2="371.90" y2="387.00" stroke="#000" stroke-width="0.8"/>
<line x1="374.50" y1="385.50" x2="374.50" y2="387.00" stroke="#000" stroke-width="0.8"/>
<line x1="377.10" y1="385.50" x2="377.10" y2="387.70" stroke="#000" stroke-width="0.8"/>
<line x1="379.70" y1="385.50" x2="379.70" y2="387.70" stroke="#000" stroke-width="0.8"/>
<line x1="382.30" y1="385.50" x2="382.30" y2="387.70" stroke="#000" stroke-width="0.8"/>
<line x1="384.90" y1="385.50" x2="384.90" y2="387.70" stroke="#000" stroke-width="0.8"/>
<line x1="387.50" y1="385.50" x2="387.50" y2="387.00" stroke="#000" stroke-width="0.8"/>
<line x1="390.10" y1="385.50" x2="390.10" y2="387.00" stroke="#000" stroke-width="0.8"/>
<line x1="392.70" y1="385.50" x2="392.70" y2="387.00" stroke="#000" stroke-width="0.8"/>
<line x1="395.30" y1="385.50" x2="395.30" y2="387.00" stroke="#000" stroke-width="0.8"/>
<line x1="397.90" y1="385.50" x2="397.90" y2="387.00" stroke="#000" stroke-width="0.8"/>
<line x1="400.50" y1="385.50" x2="400.50" y2="387.00" stroke="#000" stroke-width="0.8"/>
<line x1="403.10" y1="385.50" x2="403.10" y2="387.00" stroke="#000" stroke-width="0.8"/>
<line x1="405.70" y1="385.50" x2="405.70" y2="387.00" stroke="#000" stroke-width="0.8"/>
<line x1="408.30" y1="385.50" x2="408.30" y2="387.00" stroke="#000" stroke-width="0.8"/>
<line x1="410.90" y1="385.50" x2="410.90" y2="387.00" stroke="#000" stroke-width="0.8"/>
<line x1="306.10" y1="287.40" x2="307.50" y2="287.40" stroke="#000" stroke-width="0.7"/>
<line x1="306.10" y1="290.70" x2="307.50" y2="290.70" stroke="#000" stroke-width="0.7"/>
<line x1="306.10" y1="294.00" x2="307.50" y2="294.00" stroke="#000" stroke-width="0.7"/>
<line x1="306.10" y1="297.30" x2="307.50" y2="297.30" stroke="#000" stroke-width="0.7"/>
<line x1="306.10" y1="300.60" x2="307.50" y2="300.60" stroke="#000" stroke-width="0.7"/>
<line x1="306.10" y1="303.90" x2="307.50" y2="303.90" stroke="#000" stroke-width="0.7"/>
<line x1="306.10" y1="307.20" x2="307.50" y2="307.20" stroke="#000" stroke-width="0.7"/>
<line x1="306.10" y1="310.50" x2="307.50" y2="310.50" stroke="#000" stroke-width="0.7"/>
<line x1="306.10" y1="313.80" x2="307.50" y2="313.80" stroke="#000" stroke-width="0.7"/>
<line x1="306.10" y1="317.10" x2="307.50" y2="317.10" stroke="#000" stroke-width="0.7"/>
<line x1="306.10" y1="320.40" x2="307.50" y2="320.40" stroke="#000" stroke-width="0.7"/>
<line x1="306.10" y1="323.70" x2="307.50" y2="323.70" stroke="#000" stroke-width="0.7"/>
<line x1="306.10" y1="327.00" x2="307.50" y2="327.00" stroke="#000" stroke-width="0.7"/>
<line x1="306.10" y1="330.30" x2="307.50" y2="330.30" stroke="#000" stroke-width="0.7"/>
<line x1="306.10" y1="333.60" x2="307.50" y2="333.60" stroke="#000" stroke-width="0.7"/>
<line x1="306.10" y1="336.90" x2="307.50" y2="336.90" stroke="#000" stroke-width="0.7"/>
<line x1="306.10" y1="340.20" x2="307.50" y2="340.20" stroke="#000" stroke-width="0.7"/>
<line x1="306.10" y1="343.50" x2="307.50" y2="343.50" stroke="#000" stroke-width="0.7"/>
<line x1="306.10" y1="346.80" x2="307.50" y2="346.80" stroke="#000" stroke-width="0.7"/>
<line x1="306.10" y1="350.10" x2="307.50" y2="350.10" stroke="#000" stroke-width="0.7"/>
<line x1="306.10" y1="353.40" x2="307.50" y2="353.40" stroke="#000" stroke-width="0.7"/>
<line x1="306.10" y1="356.70" x2="307.50" y2="356.70" stroke="#000" stroke-width="0.7"/>
<line x1="306.10" y1="360.00" x2="307.50" y2="360.00" stroke="#000" stroke-width="0.7"/>
<line x1="306.10" y1="363.30" x2="307.50" y2="363.30" stroke="#000" stroke-width="0.7"/>
<line x1="306.10" y1="366.60" x2="307.50" y2="366.60" stroke="#000" stroke-width="0.7"/>
<line x1="306.10" y1="369.90" x2="307.50" y2="369.90" stroke="#000" stroke-width="0.7"/>
<line x1="306.10" y1="373.20" x2="307.50" y2="373.20" stroke="#000" stroke-width="0.7"/>
<line x1="306.10" y1="376.50" x2="307.50" y2="376.50" stroke="#000" stroke-width="0.7"/>
<line x1="306.10" y1="379.80" x2="307.50" y2="379.80" stroke="#000" stroke-width="0.7"/>
<line x1="306.10" y1="383.10" x2="307.50" y2="383.10" stroke="#000" stroke-width="0.7"/>
<line x1="304.90" y1="295.20" x2="307.50" y2="295.20" stroke="#000" stroke-width="0.9"/>
<text x="297.08" y="297.60" font-size="6.80" textLength="6.26" lengthAdjust="spacingAndGlyphs" fill="#000" font-weight="bold">10</text>
<text x="302.38" y="294.74" font-size="4.22" fill="#000">5</text>
<line x1="304.90" y1="317.20" x2="307.50" y2="317.20" stroke="#000" stroke-width="0.9"/>
<text x="297.08" y="319.60" font-size="6.80" textLength="6.26" lengthAdjust="spacingAndGlyphs" fill="#000" font-weight="bold">10</text>
<text x="302.38" y="316.74" font-size="4.22" fill="#000">4</text>
<line x1="304.90" y1="339.80" x2="307.50" y2="339.80" stroke="#000" stroke-width="0.9"/>
<text x="297.08" y="342.20" font-size="6.80" textLength="6.26" lengthAdjust="spacingAndGlyphs" fill="#000" font-weight="bold">10</text>
<text x="302.38" y="339.34" font-size="4.22" fill="#000">3</text>
<line x1="304.90" y1="366.50" x2="307.50" y2="366.50" stroke="#000" stroke-width="0.9"/>
<text x="297.08" y="368.90" font-size="6.80" textLength="6.26" lengthAdjust="spacingAndGlyphs" fill="#000" font-weight="bold">10</text>
<text x="302.38" y="366.04" font-size="4.22" fill="#000">2</text>
<line x1="304.90" y1="376.80" x2="307.50" y2="376.80" stroke="#000" stroke-width="0.9"/>
<text x="305.00" y="379.20" font-size="7.00" text-anchor="end">0</text>
<text x="319.85" y="397.80" font-size="7.00" text-anchor="middle">0</text>
<text x="325.94" y="397.80" font-size="6.80" textLength="6.26" lengthAdjust="spacingAndGlyphs" fill="#000" font-weight="bold">10</text>
<text x="331.24" y="394.94" font-size="4.22" fill="#000">2</text>
<text x="349.69" y="397.80" font-size="6.80" textLength="6.26" lengthAdjust="spacingAndGlyphs" fill="#000" font-weight="bold">10</text>
<text x="354.99" y="394.94" font-size="4.22" fill="#000">3</text>
<text x="373.44" y="397.80" font-size="6.80" textLength="6.26" lengthAdjust="spacingAndGlyphs" fill="#000" font-weight="bold">10</text>
<text x="378.74" y="394.94" font-size="4.22" fill="#000">4</text>
<text x="396.69" y="397.80" font-size="6.80" textLength="6.26" lengthAdjust="spacingAndGlyphs" fill="#000" font-weight="bold">10</text>
<text x="401.99" y="394.94" font-size="4.22" fill="#000">5</text>
<text x="359.90" y="402.80" font-size="7.00" font-weight="bold" text-anchor="middle" textLength="16.00" lengthAdjust="spacingAndGlyphs">CD42</text>
<text x="296.70" y="328.60" font-size="7.00" text-anchor="middle" textLength="24.00" lengthAdjust="spacingAndGlyphs" fill="#111" transform="rotate(-90 296.70 328.60)">SSC-A</text>
<text x="395.65" y="364.70" font-size="10.29" font-weight="bold" textLength="9.20" lengthAdjust="spacingAndGlyphs">46</text>
<rect x="446.50" y="26.80" width="53.30" height="85.00" fill="#b3b3b3" stroke="#8a8a8a" stroke-width="0.8"/>
<line x1="446.50" y1="99.66" x2="499.80" y2="99.66" stroke="#4e4e4e" stroke-width="1.8"/>
<line x1="446.50" y1="87.51" x2="499.80" y2="87.51" stroke="#4e4e4e" stroke-width="1.8"/>
<line x1="446.50" y1="75.37" x2="499.80" y2="75.37" stroke="#4e4e4e" stroke-width="1.8"/>
<line x1="446.50" y1="63.23" x2="499.80" y2="63.23" stroke="#4e4e4e" stroke-width="1.8"/>
<line x1="446.50" y1="51.09" x2="499.80" y2="51.09" stroke="#4e4e4e" stroke-width="1.8"/>
<line x1="446.50" y1="38.94" x2="499.80" y2="38.94" stroke="#4e4e4e" stroke-width="1.8"/>
<line x1="446.50" y1="26.80" x2="446.50" y2="111.80" stroke="#333" stroke-width="0.9"/>
<line x1="443.70" y1="111.80" x2="446.50" y2="111.80" stroke="#333" stroke-width="0.8"/>
<text x="446.10" y="115.73" font-size="5.80" text-anchor="end" fill="#111">0</text>
<line x1="443.70" y1="99.66" x2="446.50" y2="99.66" stroke="#333" stroke-width="0.8"/>
<text x="446.10" y="103.59" font-size="5.80" text-anchor="end" fill="#111">1</text>
<line x1="443.70" y1="87.51" x2="446.50" y2="87.51" stroke="#333" stroke-width="0.8"/>
<text x="446.10" y="91.44" font-size="5.80" text-anchor="end" fill="#111">2</text>
<line x1="443.70" y1="75.37" x2="446.50" y2="75.37" stroke="#333" stroke-width="0.8"/>
<text x="446.10" y="79.30" font-size="5.80" text-anchor="end" fill="#111">3</text>
<line x1="443.70" y1="63.23" x2="446.50" y2="63.23" stroke="#333" stroke-width="0.8"/>
<text x="446.10" y="67.16" font-size="5.80" text-anchor="end" fill="#111">4</text>
<line x1="443.70" y1="51.09" x2="446.50" y2="51.09" stroke="#333" stroke-width="0.8"/>
<text x="446.10" y="55.02" font-size="5.80" text-anchor="end" fill="#111">5</text>
<line x1="443.70" y1="38.94" x2="446.50" y2="38.94" stroke="#333" stroke-width="0.8"/>
<text x="446.10" y="42.87" font-size="5.80" text-anchor="end" fill="#111">6</text>
<line x1="443.70" y1="26.80" x2="446.50" y2="26.80" stroke="#333" stroke-width="0.8"/>
<text x="446.10" y="30.73" font-size="5.80" text-anchor="end" fill="#111">7</text>
<rect x="457.40" y="82.40" width="15.40" height="29.40" fill="#474747" stroke="#222" stroke-width="0.8"/>
<rect x="473.00" y="43.50" width="15.40" height="68.30" fill="#c9c9c9" stroke="#222" stroke-width="0.8"/>
<line x1="465.10" y1="79.00" x2="465.10" y2="85.50" stroke="#111" stroke-width="0.8"/>
<line x1="463.70" y1="79.00" x2="466.50" y2="79.00" stroke="#111" stroke-width="0.8"/>
<line x1="463.70" y1="85.50" x2="466.50" y2="85.50" stroke="#111" stroke-width="0.8"/>
<line x1="480.40" y1="31.50" x2="480.40" y2="52.50" stroke="#111" stroke-width="0.8"/>
<line x1="479.00" y1="31.50" x2="481.80" y2="31.50" stroke="#111" stroke-width="0.8"/>
<line x1="479.00" y1="52.50" x2="481.80" y2="52.50" stroke="#111" stroke-width="0.8"/>
<path d="M465.10 75.60L465.10 79.40M463.45 76.55L466.75 78.45M463.45 78.45L466.75 76.55" stroke="#111" stroke-width="0.9"/>
<path d="M480.40 29.60L480.40 33.40M478.75 30.55L482.05 32.45M478.75 32.45L482.05 30.55" stroke="#111" stroke-width="0.9"/>
<rect x="501.20" y="62.40" width="2.40" height="3.00" fill="#222" stroke="#111" stroke-width="0.5"/>
<text x="504.90" y="66.30" font-size="6.50" textLength="13.10" lengthAdjust="spacingAndGlyphs">ETS2</text>
<rect x="501.20" y="70.70" width="2.40" height="3.00" fill="#ddd" stroke="#222" stroke-width="0.6"/>
<text x="504.90" y="74.60" font-size="6.50" textLength="11.10" lengthAdjust="spacingAndGlyphs">ERG</text>
<text x="435.90" y="69.35" font-size="6.80" font-weight="bold" text-anchor="middle" textLength="90.10" lengthAdjust="spacingAndGlyphs" fill="#111" transform="rotate(-90 435.90 69.35)">Fold increase relative to MIGR1</text>
<text x="460.35" y="25.30" font-size="9.71" font-weight="bold" textLength="22.50" lengthAdjust="spacingAndGlyphs">CD41</text>
<rect x="451.10" y="162.70" width="47.80" height="86.60" fill="#b3b3b3" stroke="#8a8a8a" stroke-width="0.8"/>
<line x1="451.10" y1="227.65" x2="498.90" y2="227.65" stroke="#4e4e4e" stroke-width="1.8"/>
<line x1="451.10" y1="206.00" x2="498.90" y2="206.00" stroke="#4e4e4e" stroke-width="1.8"/>
<line x1="451.10" y1="184.35" x2="498.90" y2="184.35" stroke="#4e4e4e" stroke-width="1.8"/>
<line x1="451.10" y1="162.70" x2="451.10" y2="249.30" stroke="#333" stroke-width="0.9"/>
<line x1="448.30" y1="249.30" x2="451.10" y2="249.30" stroke="#333" stroke-width="0.8"/>
<text x="450.70" y="252.81" font-size="4.60" text-anchor="end" fill="#111">0.5</text>
<line x1="448.30" y1="227.65" x2="451.10" y2="227.65" stroke="#333" stroke-width="0.8"/>
<text x="450.70" y="231.16" font-size="4.60" text-anchor="end" fill="#111">0.7</text>
<line x1="448.30" y1="206.00" x2="451.10" y2="206.00" stroke="#333" stroke-width="0.8"/>
<text x="450.70" y="209.51" font-size="4.60" text-anchor="end" fill="#111">0.9</text>
<line x1="448.30" y1="184.35" x2="451.10" y2="184.35" stroke="#333" stroke-width="0.8"/>
<text x="450.70" y="187.86" font-size="4.60" text-anchor="end" fill="#111">1.1</text>
<line x1="448.30" y1="162.70" x2="451.10" y2="162.70" stroke="#333" stroke-width="0.8"/>
<text x="450.70" y="166.21" font-size="4.60" text-anchor="end" fill="#111">1.3</text>
<rect x="461.40" y="167.30" width="13.60" height="82.00" fill="#474747" stroke="#222" stroke-width="0.8"/>
<rect x="475.00" y="179.10" width="13.20" height="70.20" fill="#c9c9c9" stroke="#222" stroke-width="0.8"/>
<line x1="468.20" y1="162.00" x2="468.20" y2="171.10" stroke="#111" stroke-width="0.8"/>
<line x1="466.80" y1="162.00" x2="469.60" y2="162.00" stroke="#111" stroke-width="0.8"/>
<line x1="466.80" y1="171.10" x2="469.60" y2="171.10" stroke="#111" stroke-width="0.8"/>
<line x1="481.80" y1="173.40" x2="481.80" y2="187.70" stroke="#111" stroke-width="0.8"/>
<line x1="480.40" y1="173.40" x2="483.20" y2="173.40" stroke="#111" stroke-width="0.8"/>
<line x1="480.40" y1="187.70" x2="483.20" y2="187.70" stroke="#111" stroke-width="0.8"/>
<path d="M481.40 164.30L481.40 168.10M479.75 165.25L483.05 167.15M479.75 167.15L483.05 165.25" stroke="#111" stroke-width="0.9"/>
<rect x="501.90" y="199.10" width="2.40" height="3.00" fill="#222" stroke="#111" stroke-width="0.5"/>
<text x="506.90" y="203.00" font-size="6.50" textLength="12.30" lengthAdjust="spacingAndGlyphs">ETS2</text>
<rect x="501.90" y="207.40" width="2.40" height="3.00" fill="#ddd" stroke="#222" stroke-width="0.6"/>
<text x="506.90" y="211.30" font-size="6.50" textLength="10.10" lengthAdjust="spacingAndGlyphs">ERG</text>
<text x="437.70" y="203.50" font-size="6.80" font-weight="bold" text-anchor="middle" textLength="89.80" lengthAdjust="spacingAndGlyphs" fill="#111" transform="rotate(-90 437.70 203.50)">Fold increase relative to MIGR1</text>
<text x="450.95" y="159.40" font-size="9.29" font-weight="bold" textLength="25.60" lengthAdjust="spacingAndGlyphs">Ploidy</text>
<text x="477.60" y="159.80" font-size="5.20" textLength="2.90" lengthAdjust="spacingAndGlyphs" fill="#111">≤</text>
<text x="483.75" y="159.40" font-size="9.29" font-weight="bold" textLength="9.80" lengthAdjust="spacingAndGlyphs">8n</text>
<rect x="447.20" y="290.90" width="51.40" height="89.10" fill="#b3b3b3" stroke="#8a8a8a" stroke-width="0.8"/>
<line x1="447.20" y1="370.10" x2="498.60" y2="370.10" stroke="#4e4e4e" stroke-width="1.8"/>
<line x1="447.20" y1="360.20" x2="498.60" y2="360.20" stroke="#4e4e4e" stroke-width="1.8"/>
<line x1="447.20" y1="350.30" x2="498.60" y2="350.30" stroke="#4e4e4e" stroke-width="1.8"/>
<line x1="447.20" y1="340.40" x2="498.60" y2="340.40" stroke="#4e4e4e" stroke-width="1.8"/>
<line x1="447.20" y1="330.50" x2="498.60" y2="330.50" stroke="#4e4e4e" stroke-width="1.8"/>
<line x1="447.20" y1="320.60" x2="498.60" y2="320.60" stroke="#4e4e4e" stroke-width="1.8"/>
<line x1="447.20" y1="310.70" x2="498.60" y2="310.70" stroke="#4e4e4e" stroke-width="1.8"/>
<line x1="447.20" y1="300.80" x2="498.60" y2="300.80" stroke="#4e4e4e" stroke-width="1.8"/>
<line x1="447.20" y1="290.90" x2="447.20" y2="380.00" stroke="#333" stroke-width="0.9"/>
<line x1="444.40" y1="380.00" x2="447.20" y2="380.00" stroke="#333" stroke-width="0.8"/>
<text x="446.80" y="383.51" font-size="4.60" text-anchor="end" fill="#111">0</text>
<line x1="444.40" y1="370.10" x2="447.20" y2="370.10" stroke="#333" stroke-width="0.8"/>
<text x="446.80" y="373.61" font-size="4.60" text-anchor="end" fill="#111">0.2</text>
<line x1="444.40" y1="360.20" x2="447.20" y2="360.20" stroke="#333" stroke-width="0.8"/>
<text x="446.80" y="363.71" font-size="4.60" text-anchor="end" fill="#111">0.4</text>
<line x1="444.40" y1="350.30" x2="447.20" y2="350.30" stroke="#333" stroke-width="0.8"/>
<text x="446.80" y="353.81" font-size="4.60" text-anchor="end" fill="#111">0.6</text>
<line x1="444.40" y1="340.40" x2="447.20" y2="340.40" stroke="#333" stroke-width="0.8"/>
<text x="446.80" y="343.91" font-size="4.60" text-anchor="end" fill="#111">0.8</text>
<line x1="444.40" y1="330.50" x2="447.20" y2="330.50" stroke="#333" stroke-width="0.8"/>
<text x="446.80" y="334.01" font-size="4.60" text-anchor="end" fill="#111">1</text>
<line x1="444.40" y1="320.60" x2="447.20" y2="320.60" stroke="#333" stroke-width="0.8"/>
<text x="446.80" y="324.11" font-size="4.60" text-anchor="end" fill="#111">1.2</text>
<line x1="444.40" y1="310.70" x2="447.20" y2="310.70" stroke="#333" stroke-width="0.8"/>
<text x="446.80" y="314.21" font-size="4.60" text-anchor="end" fill="#111">1.4</text>
<line x1="444.40" y1="300.80" x2="447.20" y2="300.80" stroke="#333" stroke-width="0.8"/>
<text x="446.80" y="304.31" font-size="4.60" text-anchor="end" fill="#111">1.6</text>
<line x1="444.40" y1="290.90" x2="447.20" y2="290.90" stroke="#333" stroke-width="0.8"/>
<text x="446.80" y="294.41" font-size="4.60" text-anchor="end" fill="#111">1.8</text>
<rect x="458.30" y="322.80" width="14.50" height="57.20" fill="#474747" stroke="#222" stroke-width="0.8"/>
<rect x="474.10" y="298.50" width="13.50" height="81.50" fill="#c9c9c9" stroke="#222" stroke-width="0.8"/>
<line x1="465.50" y1="320.50" x2="465.50" y2="325.00" stroke="#111" stroke-width="0.8"/>
<line x1="464.10" y1="320.50" x2="466.90" y2="320.50" stroke="#111" stroke-width="0.8"/>
<line x1="464.10" y1="325.00" x2="466.90" y2="325.00" stroke="#111" stroke-width="0.8"/>
<line x1="480.80" y1="294.00" x2="480.80" y2="304.00" stroke="#111" stroke-width="0.8"/>
<line x1="479.40" y1="294.00" x2="482.20" y2="294.00" stroke="#111" stroke-width="0.8"/>
<line x1="479.40" y1="304.00" x2="482.20" y2="304.00" stroke="#111" stroke-width="0.8"/>
<path d="M480.80 290.60L480.80 294.40M479.15 291.55L482.45 293.45M479.15 293.45L482.45 291.55" stroke="#111" stroke-width="0.9"/>
<rect x="502.20" y="329.00" width="2.40" height="3.00" fill="#222" stroke="#111" stroke-width="0.5"/>
<text x="504.90" y="332.90" font-size="6.50" textLength="13.80" lengthAdjust="spacingAndGlyphs">ETS2</text>
<rect x="502.20" y="337.90" width="2.40" height="3.00" fill="#ddd" stroke="#222" stroke-width="0.6"/>
<text x="504.90" y="341.80" font-size="6.50" textLength="11.80" lengthAdjust="spacingAndGlyphs">ERG</text>
<text x="436.90" y="331.50" font-size="6.80" font-weight="bold" text-anchor="middle" textLength="97.00" lengthAdjust="spacingAndGlyphs" fill="#111" transform="rotate(-90 436.90 331.50)">Fold increase relative to MIGR1</text>
<text x="462.75" y="288.60" font-size="9.43" font-weight="bold" textLength="23.10" lengthAdjust="spacingAndGlyphs">CD42</text>
<text x="0.60" y="427.10" font-size="12.80" font-weight="bold">D</text>
<text x="84.95" y="425.30" font-size="9.43" font-weight="bold" textLength="74.80" lengthAdjust="spacingAndGlyphs">Gata1 knockdown</text>
<rect x="29.40" y="428.60" width="199.90" height="67.00" fill="#b3b3b3" stroke="#8a8a8a" stroke-width="0.8"/>
<line x1="29.40" y1="482.20" x2="229.30" y2="482.20" stroke="#4e4e4e" stroke-width="1.5"/>
<line x1="29.40" y1="468.80" x2="229.30" y2="468.80" stroke="#4e4e4e" stroke-width="1.5"/>
<line x1="29.40" y1="455.40" x2="229.30" y2="455.40" stroke="#4e4e4e" stroke-width="1.5"/>
<line x1="29.40" y1="442.00" x2="229.30" y2="442.00" stroke="#4e4e4e" stroke-width="1.5"/>
<line x1="29.40" y1="428.60" x2="29.40" y2="495.60" stroke="#333" stroke-width="1.0"/>
<line x1="27.60" y1="495.60" x2="29.40" y2="495.60" stroke="#333" stroke-width="0.8"/>
<text x="26.50" y="499.20" font-size="7.20" font-weight="bold" text-anchor="end" fill="#111">0</text>
<line x1="27.60" y1="482.20" x2="29.40" y2="482.20" stroke="#333" stroke-width="0.8"/>
<text x="26.50" y="485.80" font-size="7.20" font-weight="bold" text-anchor="end" fill="#111">2</text>
<line x1="27.60" y1="468.80" x2="29.40" y2="468.80" stroke="#333" stroke-width="0.8"/>
<text x="26.50" y="472.40" font-size="7.20" font-weight="bold" text-anchor="end" fill="#111">4</text>
<line x1="27.60" y1="455.40" x2="29.40" y2="455.40" stroke="#333" stroke-width="0.8"/>
<text x="26.50" y="459.00" font-size="7.20" font-weight="bold" text-anchor="end" fill="#111">6</text>
<line x1="27.60" y1="442.00" x2="29.40" y2="442.00" stroke="#333" stroke-width="0.8"/>
<text x="26.50" y="445.60" font-size="7.20" font-weight="bold" text-anchor="end" fill="#111">8</text>
<line x1="27.60" y1="428.60" x2="29.40" y2="428.60" stroke="#333" stroke-width="0.8"/>
<text x="26.50" y="432.20" font-size="7.20" font-weight="bold" text-anchor="end" fill="#111">10</text>
<rect x="37.50" y="480.75" width="10.50" height="14.85" fill="#474747" stroke="#222" stroke-width="0.8"/>
<rect x="48.00" y="478.25" width="11.25" height="17.35" fill="#c9c9c9" stroke="#222" stroke-width="0.8"/>
<rect x="69.50" y="479.25" width="11.00" height="16.35" fill="#474747" stroke="#222" stroke-width="0.8"/>
<rect x="80.50" y="480.00" width="10.75" height="15.60" fill="#c9c9c9" stroke="#222" stroke-width="0.8"/>
<rect x="102.00" y="462.00" width="11.00" height="33.60" fill="#474747" stroke="#222" stroke-width="0.8"/>
<rect x="113.00" y="448.75" width="11.25" height="46.85" fill="#c9c9c9" stroke="#222" stroke-width="0.8"/>
<rect x="134.25" y="477.00" width="11.25" height="18.60" fill="#474747" stroke="#222" stroke-width="0.8"/>
<rect x="145.50" y="474.00" width="11.50" height="21.60" fill="#c9c9c9" stroke="#222" stroke-width="0.8"/>
<rect x="167.00" y="473.00" width="10.50" height="22.60" fill="#474747" stroke="#222" stroke-width="0.8"/>
<rect x="177.50" y="464.25" width="11.25" height="31.35" fill="#c9c9c9" stroke="#222" stroke-width="0.8"/>
<rect x="199.50" y="487.50" width="11.00" height="8.10" fill="#474747" stroke="#222" stroke-width="0.8"/>
<rect x="210.50" y="490.50" width="10.75" height="5.10" fill="#c9c9c9" stroke="#222" stroke-width="0.8"/>
<line x1="42.75" y1="479.00" x2="42.75" y2="482.50" stroke="#111" stroke-width="0.8"/>
<line x1="41.15" y1="479.00" x2="44.35" y2="479.00" stroke="#111" stroke-width="0.8"/>
<line x1="41.15" y1="482.50" x2="44.35" y2="482.50" stroke="#111" stroke-width="0.8"/>
<line x1="53.60" y1="476.00" x2="53.60" y2="481.50" stroke="#111" stroke-width="0.8"/>
<line x1="52.00" y1="476.00" x2="55.20" y2="476.00" stroke="#111" stroke-width="0.8"/>
<line x1="52.00" y1="481.50" x2="55.20" y2="481.50" stroke="#111" stroke-width="0.8"/>
<line x1="75.00" y1="476.50" x2="75.00" y2="482.50" stroke="#111" stroke-width="0.8"/>
<line x1="73.40" y1="476.50" x2="76.60" y2="476.50" stroke="#111" stroke-width="0.8"/>
<line x1="73.40" y1="482.50" x2="76.60" y2="482.50" stroke="#111" stroke-width="0.8"/>
<line x1="85.90" y1="477.00" x2="85.90" y2="482.50" stroke="#111" stroke-width="0.8"/>
<line x1="84.30" y1="477.00" x2="87.50" y2="477.00" stroke="#111" stroke-width="0.8"/>
<line x1="84.30" y1="482.50" x2="87.50" y2="482.50" stroke="#111" stroke-width="0.8"/>
<line x1="107.50" y1="448.25" x2="107.50" y2="476.50" stroke="#111" stroke-width="0.8"/>
<line x1="105.90" y1="448.25" x2="109.10" y2="448.25" stroke="#111" stroke-width="0.8"/>
<line x1="105.90" y1="476.50" x2="109.10" y2="476.50" stroke="#111" stroke-width="0.8"/>
<line x1="118.60" y1="435.50" x2="118.60" y2="461.50" stroke="#111" stroke-width="0.8"/>
<line x1="117.00" y1="435.50" x2="120.20" y2="435.50" stroke="#111" stroke-width="0.8"/>
<line x1="117.00" y1="461.50" x2="120.20" y2="461.50" stroke="#111" stroke-width="0.8"/>
<line x1="139.90" y1="474.50" x2="139.90" y2="479.50" stroke="#111" stroke-width="0.8"/>
<line x1="138.30" y1="474.50" x2="141.50" y2="474.50" stroke="#111" stroke-width="0.8"/>
<line x1="138.30" y1="479.50" x2="141.50" y2="479.50" stroke="#111" stroke-width="0.8"/>
<line x1="151.25" y1="465.50" x2="151.25" y2="482.00" stroke="#111" stroke-width="0.8"/>
<line x1="149.65" y1="465.50" x2="152.85" y2="465.50" stroke="#111" stroke-width="0.8"/>
<line x1="149.65" y1="482.00" x2="152.85" y2="482.00" stroke="#111" stroke-width="0.8"/>
<line x1="172.25" y1="465.50" x2="172.25" y2="480.50" stroke="#111" stroke-width="0.8"/>
<line x1="170.65" y1="465.50" x2="173.85" y2="465.50" stroke="#111" stroke-width="0.8"/>
<line x1="170.65" y1="480.50" x2="173.85" y2="480.50" stroke="#111" stroke-width="0.8"/>
<line x1="183.10" y1="449.25" x2="183.10" y2="478.50" stroke="#111" stroke-width="0.8"/>
<line x1="181.50" y1="449.25" x2="184.70" y2="449.25" stroke="#111" stroke-width="0.8"/>
<line x1="181.50" y1="478.50" x2="184.70" y2="478.50" stroke="#111" stroke-width="0.8"/>
<line x1="205.00" y1="485.50" x2="205.00" y2="489.00" stroke="#111" stroke-width="0.8"/>
<line x1="203.40" y1="485.50" x2="206.60" y2="485.50" stroke="#111" stroke-width="0.8"/>
<line x1="203.40" y1="489.00" x2="206.60" y2="489.00" stroke="#111" stroke-width="0.8"/>
<line x1="215.90" y1="488.00" x2="215.90" y2="491.50" stroke="#111" stroke-width="0.8"/>
<line x1="214.30" y1="488.00" x2="217.50" y2="488.00" stroke="#111" stroke-width="0.8"/>
<line x1="214.30" y1="491.50" x2="217.50" y2="491.50" stroke="#111" stroke-width="0.8"/>
<path d="M42.75 473.00L42.75 476.00M41.45 473.75L44.05 475.25M41.45 475.25L44.05 473.75" stroke="#222" stroke-width="0.8"/>
<path d="M53.60 470.80L53.60 473.80M52.30 471.55L54.90 473.05M52.30 473.05L54.90 471.55" stroke="#222" stroke-width="0.8"/>
<path d="M75.00 470.00L75.00 473.00M73.70 470.75L76.30 472.25M73.70 472.25L76.30 470.75" stroke="#222" stroke-width="0.8"/>
<path d="M85.90 473.50L85.90 476.50M84.60 474.25L87.20 475.75M84.60 475.75L87.20 474.25" stroke="#222" stroke-width="0.8"/>
<path d="M139.90 469.50L139.90 472.50M138.60 470.25L141.20 471.75M138.60 471.75L141.20 470.25" stroke="#222" stroke-width="0.8"/>
<path d="M205.00 478.50L205.00 481.50M203.70 479.25L206.30 480.75M203.70 480.75L206.30 479.25" stroke="#222" stroke-width="0.8"/>
<path d="M215.90 484.00L215.90 487.00M214.60 484.75L217.20 486.25M214.60 486.25L217.20 484.75" stroke="#222" stroke-width="0.8"/>
<text x="39.55" y="503.10" font-size="7.43" font-weight="bold" textLength="17.90" lengthAdjust="spacingAndGlyphs">GPIIb</text>
<text x="74.55" y="503.10" font-size="7.43" font-weight="bold" textLength="11.80" lengthAdjust="spacingAndGlyphs">PF4</text>
<text x="133.90" y="503.10" font-size="7.43" font-weight="bold" textLength="20.95" lengthAdjust="spacingAndGlyphs">CycD1</text>
<text x="171.40" y="503.10" font-size="7.43" font-weight="bold" textLength="11.45" lengthAdjust="spacingAndGlyphs">p16</text>
<text x="200.65" y="503.10" font-size="7.43" font-weight="bold" textLength="19.70" lengthAdjust="spacingAndGlyphs">c-myb</text>
<text x="102.50" y="503.20" font-size="8.40" textLength="22.00" lengthAdjust="spacingAndGlyphs" fill="#111" font-weight="bold">β1 tub</text>
<ellipse cx="327.2" cy="333" rx="2.2" ry="0.8" transform="rotate(-30 327.2 333)" fill="#fff" opacity="0.85"/>
<ellipse cx="341.3" cy="322.2" rx="1.6" ry="0.7" transform="rotate(-60 341.3 322.2)" fill="#fff" opacity="0.85"/>
<ellipse cx="337.5" cy="325.5" rx="1.2" ry="0.6" transform="rotate(-40 337.5 325.5)" fill="#fff" opacity="0.85"/>
<ellipse cx="331" cy="330.5" rx="0.8" ry="0.5" transform="rotate(0 331 330.5)" fill="#fff" opacity="0.85"/>
<ellipse cx="44.2" cy="336.3" rx="1.0" ry="0.6" transform="rotate(-20 44.2 336.3)" fill="#fff" opacity="0.85"/>
<ellipse cx="195.6" cy="333" rx="1.4" ry="0.8" transform="rotate(-30 195.6 333)" fill="#fff" opacity="0.85"/>
<ellipse cx="184.2" cy="336.3" rx="0.8" ry="0.5" transform="rotate(0 184.2 336.3)" fill="#fff" opacity="0.85"/>
<ellipse cx="189" cy="335" rx="0.6" ry="0.5" transform="rotate(0 189 335)" fill="#fff" opacity="0.85"/>
<text x="98.80" y="160.30" font-size="8.60" font-weight="bold" textLength="9.20" lengthAdjust="spacingAndGlyphs">4n</text>
<text x="99.30" y="169.20" font-size="8.60" font-weight="bold" textLength="15.00" lengthAdjust="spacingAndGlyphs">28.3</text>
<text x="106.10" y="182.60" font-size="7.40" textLength="3.50" lengthAdjust="spacingAndGlyphs" fill="#111">≥</text>
<text x="110.70" y="182.80" font-size="8.60" font-weight="bold" textLength="10.10" lengthAdjust="spacingAndGlyphs">8n</text>
<text x="106.10" y="192.60" font-size="8.60" font-weight="bold" textLength="15.00" lengthAdjust="spacingAndGlyphs">50.1</text>
<text x="61.80" y="199.60" font-size="8.60" font-weight="bold" textLength="9.20" lengthAdjust="spacingAndGlyphs">2n</text>
<text x="55.90" y="208.70" font-size="8.60" font-weight="bold" textLength="15.10" lengthAdjust="spacingAndGlyphs">20.8</text>
<line x1="76.20" y1="199.60" x2="85.70" y2="199.60" stroke="#222" stroke-width="0.9"/>
<line x1="76.20" y1="197.60" x2="76.20" y2="201.60" stroke="#222" stroke-width="0.9"/>
<line x1="85.70" y1="197.60" x2="85.70" y2="201.60" stroke="#222" stroke-width="0.9"/>
<line x1="85.30" y1="165.60" x2="94.00" y2="165.60" stroke="#222" stroke-width="0.9"/>
<line x1="85.30" y1="163.60" x2="85.30" y2="167.60" stroke="#222" stroke-width="0.9"/>
<line x1="94.00" y1="163.60" x2="94.00" y2="167.60" stroke="#222" stroke-width="0.9"/>
<line x1="94.10" y1="195.40" x2="121.50" y2="195.40" stroke="#222" stroke-width="0.9"/>
<line x1="94.10" y1="191.80" x2="94.10" y2="199.00" stroke="#222" stroke-width="0.9"/>
<line x1="121.50" y1="191.80" x2="121.50" y2="199.00" stroke="#222" stroke-width="0.9"/>
<text x="201.70" y="163.60" font-size="8.60" font-weight="bold" textLength="8.50" lengthAdjust="spacingAndGlyphs">2n</text>
<text x="195.40" y="172.50" font-size="8.60" font-weight="bold" textLength="14.80" lengthAdjust="spacingAndGlyphs">19.9</text>
<text x="245.80" y="163.60" font-size="8.60" font-weight="bold" textLength="9.20" lengthAdjust="spacingAndGlyphs">4n</text>
<text x="239.10" y="172.50" font-size="8.60" font-weight="bold" textLength="15.50" lengthAdjust="spacingAndGlyphs">40.8</text>
<text x="249.50" y="190.30" font-size="7.40" textLength="4.30" lengthAdjust="spacingAndGlyphs" fill="#111">≥</text>
<text x="255.30" y="190.40" font-size="8.60" font-weight="bold" textLength="8.40" lengthAdjust="spacingAndGlyphs">8n</text>
<text x="250.10" y="199.80" font-size="8.60" font-weight="bold" textLength="15.30" lengthAdjust="spacingAndGlyphs">39.6</text>
<line x1="214.20" y1="161.20" x2="223.00" y2="161.20" stroke="#222" stroke-width="0.9"/>
<line x1="214.20" y1="159.20" x2="214.20" y2="163.20" stroke="#222" stroke-width="0.9"/>
<line x1="223.00" y1="159.20" x2="223.00" y2="163.20" stroke="#222" stroke-width="0.9"/>
<line x1="226.40" y1="174.30" x2="235.30" y2="174.30" stroke="#222" stroke-width="0.9"/>
<line x1="226.40" y1="172.30" x2="226.40" y2="176.30" stroke="#222" stroke-width="0.9"/>
<line x1="235.30" y1="172.30" x2="235.30" y2="176.30" stroke="#222" stroke-width="0.9"/>
<line x1="235.30" y1="201.80" x2="266.80" y2="201.80" stroke="#222" stroke-width="0.9"/>
<line x1="235.30" y1="198.20" x2="235.30" y2="205.40" stroke="#222" stroke-width="0.9"/>
<line x1="266.80" y1="198.20" x2="266.80" y2="205.40" stroke="#222" stroke-width="0.9"/>
<text x="385.50" y="161.00" font-size="8.60" font-weight="bold" textLength="8.70" lengthAdjust="spacingAndGlyphs">4n</text>
<text x="379.40" y="168.40" font-size="8.60" font-weight="bold" textLength="14.80" lengthAdjust="spacingAndGlyphs">34.4</text>
<text x="344.20" y="188.00" font-size="8.60" font-weight="bold" textLength="9.00" lengthAdjust="spacingAndGlyphs">2n</text>
<text x="338.40" y="196.00" font-size="8.60" font-weight="bold" textLength="14.80" lengthAdjust="spacingAndGlyphs">19.5</text>
<text x="385.50" y="187.30" font-size="7.40" textLength="3.30" lengthAdjust="spacingAndGlyphs" fill="#111">≥</text>
<text x="390.20" y="187.40" font-size="8.60" font-weight="bold" textLength="9.40" lengthAdjust="spacingAndGlyphs">8n</text>
<text x="385.50" y="195.40" font-size="8.60" font-weight="bold" textLength="14.80" lengthAdjust="spacingAndGlyphs">45.9</text>
<line x1="357.60" y1="187.00" x2="366.20" y2="187.00" stroke="#222" stroke-width="0.9"/>
<line x1="357.60" y1="185.00" x2="357.60" y2="189.00" stroke="#222" stroke-width="0.9"/>
<line x1="366.20" y1="185.00" x2="366.20" y2="189.00" stroke="#222" stroke-width="0.9"/>
<line x1="366.20" y1="158.30" x2="375.40" y2="158.30" stroke="#222" stroke-width="0.9"/>
<line x1="366.20" y1="156.30" x2="366.20" y2="160.30" stroke="#222" stroke-width="0.9"/>
<line x1="375.40" y1="156.30" x2="375.40" y2="160.30" stroke="#222" stroke-width="0.9"/>
<line x1="374.70" y1="197.10" x2="401.20" y2="197.10" stroke="#222" stroke-width="0.9"/>
<line x1="374.70" y1="193.50" x2="374.70" y2="200.70" stroke="#222" stroke-width="0.9"/>
<line x1="401.20" y1="193.50" x2="401.20" y2="200.70" stroke="#222" stroke-width="0.9"/>
</svg></body></html>
